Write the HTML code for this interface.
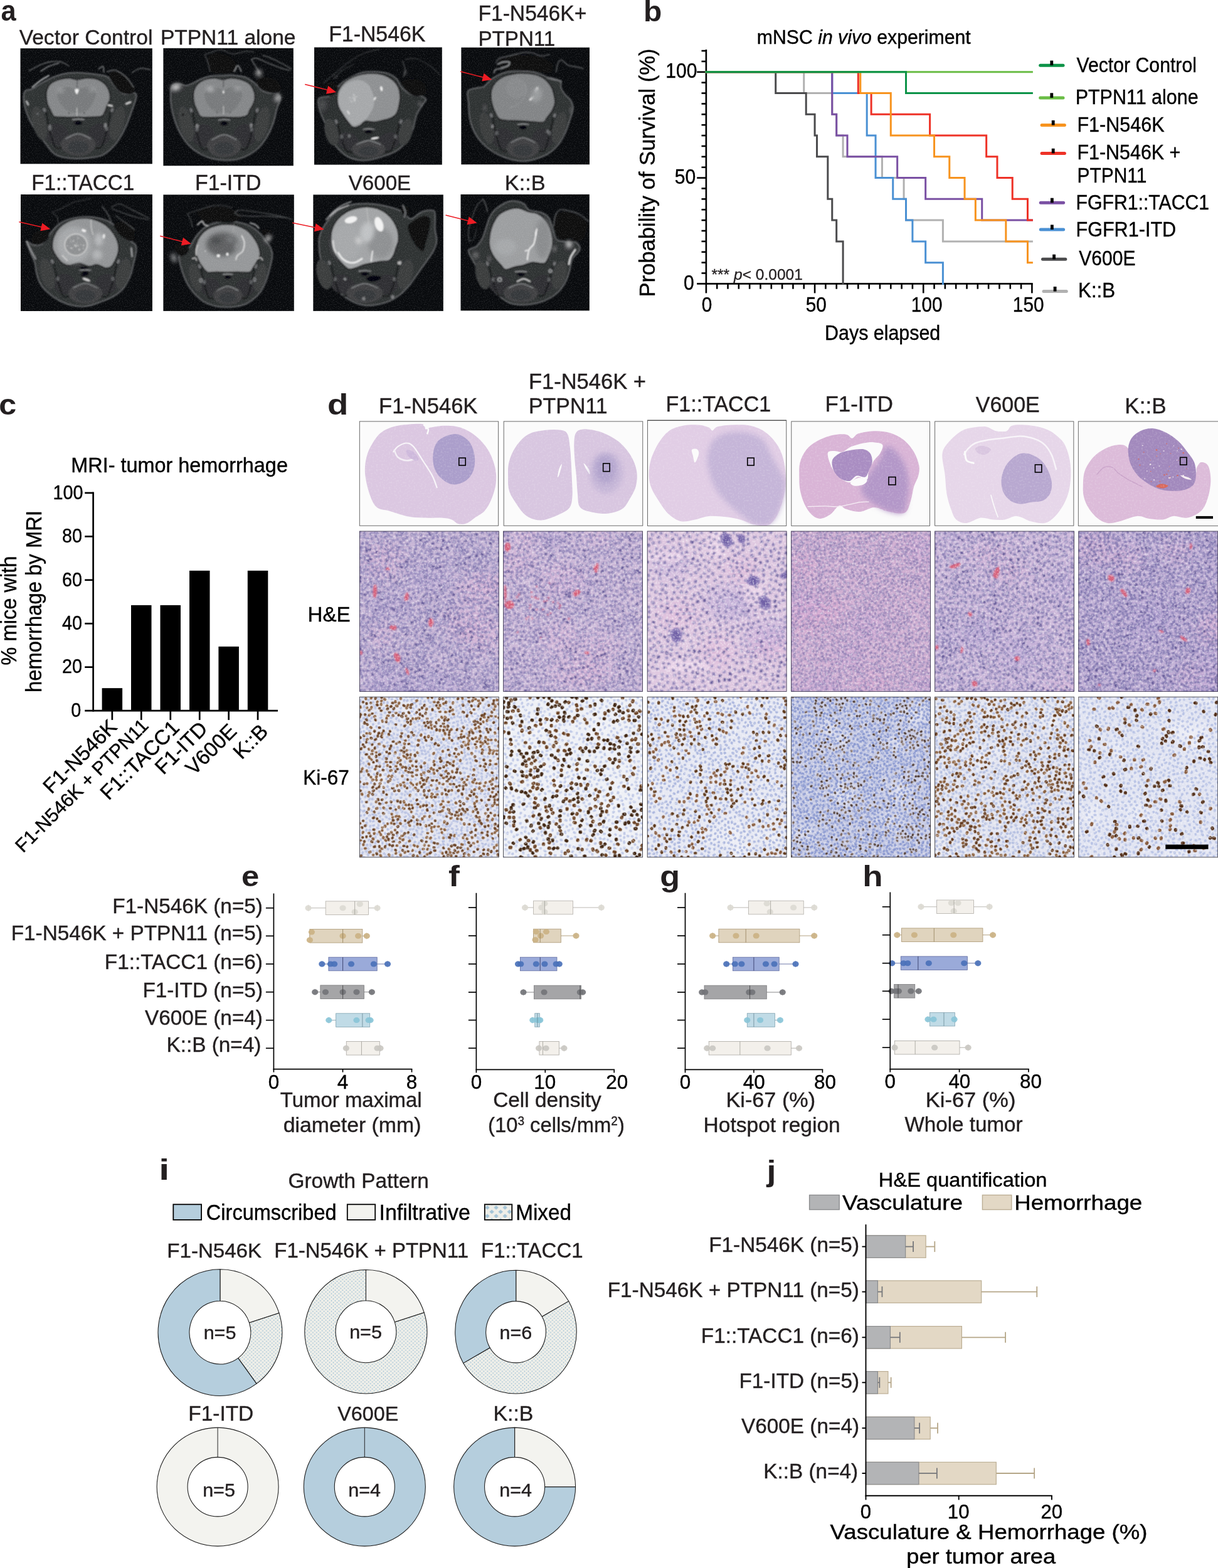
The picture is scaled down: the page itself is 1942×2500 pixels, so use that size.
<!DOCTYPE html>
<html lang="en"><head><meta charset="utf-8"><title>Figure</title>
<style>
html,body{margin:0;padding:0;background:#fff}
body{width:1942px;height:2500px;overflow:hidden}
svg{display:block;font-family:"Liberation Sans",Arial,Helvetica,sans-serif}
text{white-space:pre}
</style></head><body>
<svg xmlns="http://www.w3.org/2000/svg" width="1942" height="2500" viewBox="0 0 1942 2500">
<rect width="1942" height="2500" fill="#fff"/>
<defs>
<filter id="mb" x="-5%" y="-5%" width="110%" height="110%"><feGaussianBlur stdDeviation="0.9"/></filter>
<filter id="mb2" x="-50%" y="-50%" width="200%" height="200%"><feGaussianBlur stdDeviation="3"/></filter>
<filter id="mn" x="0" y="0" width="100%" height="100%" color-interpolation-filters="sRGB"><feTurbulence type="fractalNoise" baseFrequency="0.6" numOctaves="2" seed="3"/><feColorMatrix type="matrix" values="0 0 0 0 1  0 0 0 0 1  0 0 0 0 1  0 0 0 0.36 -0.172"/></filter>
<clipPath id="mc0"><rect x="32.3" y="77.1" width="210.6" height="184.5"/></clipPath>
<clipPath id="mc1"><rect x="260.2" y="76.6" width="207.7" height="188.0"/></clipPath>
<clipPath id="mc2"><rect x="501.0" y="75.3" width="203.9" height="187.5"/></clipPath>
<clipPath id="mc3"><rect x="735.2" y="75.4" width="204.9" height="187.1"/></clipPath>
<clipPath id="mc4"><rect x="33.0" y="309.9" width="209.9" height="186.1"/></clipPath>
<clipPath id="mc5"><rect x="260.2" y="310.2" width="208.7" height="185.7"/></clipPath>
<clipPath id="mc6"><rect x="499.2" y="310.2" width="207.7" height="185.7"/></clipPath>
<clipPath id="mc7"><rect x="734.3" y="309.8" width="205.6" height="185.8"/></clipPath>
</defs>
<g clip-path="url(#mc0)">
<rect x="32.30" y="77.10" width="210.60" height="184.50" fill="#080a0d"/>
<g filter="url(#mb)">
<path d="M37.6 154.9C37.4 159.3 38.1 165.0 39.6 170.8C41.0 176.5 43.3 183.1 46.2 189.3C49.1 195.5 53.1 202.1 56.8 207.9C60.6 213.6 64.6 218.3 68.8 223.8C73.0 229.3 77.8 236.8 82.0 241.0C86.2 245.2 88.0 247.0 93.9 249.0C99.9 251.0 109.4 252.5 117.8 253.0C126.2 253.4 136.8 252.5 144.3 251.6C151.8 250.8 157.1 250.3 162.9 247.7C168.6 245.0 173.9 240.6 178.8 235.7C183.7 230.9 188.1 224.9 192.1 218.5C196.0 212.1 199.6 204.4 202.7 197.3C205.8 190.2 208.2 182.9 210.6 176.1C213.1 169.2 216.6 160.8 217.3 156.2C217.9 151.5 217.9 149.3 214.6 148.2C211.3 147.1 202.5 151.1 197.4 149.6C192.3 148.0 188.3 143.4 184.1 138.9C179.9 134.5 176.6 126.4 172.2 123.0C167.8 119.7 165.3 120.3 157.6 119.1C149.9 117.8 134.6 116.1 125.8 115.7C116.9 115.4 111.4 115.9 104.6 117.1C97.7 118.3 90.6 120.7 84.7 123.0C78.7 125.4 74.3 127.9 68.8 131.0C63.2 134.1 56.2 139.4 51.5 141.6C46.9 143.8 43.2 142.0 40.9 144.3C38.6 146.5 37.8 150.4 37.6 154.9Z" fill="#2f3133" stroke="#5e6163" stroke-width="2.00" stroke-linecap="round" stroke-linejoin="round"/>
<ellipse cx="90.6" cy="214.5" rx="18.9" ry="17.2" fill="#2d2f31" transform="rotate(18 90.6 214.5)"/>
<ellipse cx="158.9" cy="214.5" rx="18.9" ry="17.2" fill="#2d2f31" transform="rotate(-18 158.9 214.5)"/>
<ellipse cx="62.8" cy="196.6" rx="10.8" ry="27.8" fill="#3a3c3e" transform="rotate(-14 62.8 196.6)"/>
<ellipse cx="186.8" cy="196.6" rx="10.8" ry="27.8" fill="#3a3c3e" transform="rotate(14 186.8 196.6)"/>
<path d="M72.7 174.7C73.5 179.0 76.9 198.6 79.0 206.6C81.0 214.5 85.4 230.5 87.9 234.4C90.5 238.3 96.5 235.6 97.8 235.7" fill="none" stroke="#08090a" stroke-width="1.70" stroke-linecap="round" stroke-linejoin="round"/>
<ellipse cx="70.9" cy="175.4" rx="2.2" ry="3.6" fill="#6e7072" transform="rotate(-20 70.9 175.4)"/>
<ellipse cx="79.9" cy="205.2" rx="2.4" ry="3.4" fill="#5a5c5e"/>
<path d="M176.9 174.7C176.0 179.0 172.6 198.6 170.6 206.6C168.6 214.5 164.1 230.5 161.6 234.4C159.1 238.3 153.0 235.6 151.7 235.7" fill="none" stroke="#08090a" stroke-width="1.70" stroke-linecap="round" stroke-linejoin="round"/>
<ellipse cx="178.7" cy="175.4" rx="2.2" ry="3.6" fill="#6e7072" transform="rotate(20 178.7 175.4)"/>
<ellipse cx="169.7" cy="205.2" rx="2.4" ry="3.4" fill="#5a5c5e"/>
<ellipse cx="124.8" cy="230.4" rx="27.8" ry="17.9" fill="#3f4143"/>
<path d="M105.0 221.2C108.3 219.8 118.2 213.2 124.8 213.2C131.4 213.2 141.2 219.8 144.5 221.2" fill="none" stroke="#8a8c8e" stroke-width="1.30" stroke-linecap="round" stroke-linejoin="round"/>
<ellipse cx="124.8" cy="234.4" rx="16.2" ry="9.9" fill="#35373a"/>
<ellipse cx="124.8" cy="196.0" rx="6.3" ry="3.3" fill="#050607"/>
<path d="M115.8 190.7C117.3 190.5 121.8 189.7 124.8 189.7C127.8 189.7 132.3 190.5 133.8 190.7" fill="none" stroke="#9a9c9e" stroke-width="1.40" stroke-linecap="round" stroke-linejoin="round"/>
<path d="M74.1 156.2C73.8 152.4 73.6 148.0 74.7 144.3C75.8 140.5 77.5 136.5 80.7 133.6C83.9 130.8 89.1 128.6 93.9 127.0C98.8 125.5 105.0 124.4 109.9 124.4C114.7 124.4 118.3 127.0 123.1 127.0C128.0 127.0 133.7 124.5 139.0 124.4C144.3 124.3 150.3 124.8 154.9 126.4C159.6 127.9 163.8 130.7 166.9 133.6C170.0 136.6 172.1 140.3 173.5 144.3C174.9 148.2 175.9 153.5 175.5 157.5C175.0 161.5 172.3 164.6 170.8 168.1C169.4 171.7 168.4 175.9 166.9 178.7C165.3 181.6 165.3 184.0 161.6 185.4C157.8 186.7 150.7 186.5 144.3 186.7C137.9 186.9 130.6 186.7 123.1 186.7C115.6 186.7 105.4 186.9 99.3 186.7C93.1 186.5 89.1 187.1 86.0 185.4C82.9 183.6 82.3 179.2 80.7 176.1C79.0 173.0 77.2 170.1 76.0 166.8C74.9 163.5 74.3 159.9 74.1 156.2Z" fill="#858789" stroke="#0e0f11" stroke-width="1.70" stroke-linecap="round" stroke-linejoin="round"/>
<path d="M91.3 152.2C90.9 148.7 91.7 146.5 93.9 144.3C96.2 142.0 100.6 139.4 104.6 138.9C108.5 138.5 114.7 140.1 117.8 141.6C120.9 143.1 121.3 148.2 123.1 148.2C124.9 148.2 125.3 143.1 128.4 141.6C131.5 140.1 137.9 138.5 141.7 138.9C145.4 139.4 149.2 141.8 151.0 144.3C152.7 146.7 153.0 150.0 152.3 153.5C151.6 157.1 149.2 161.7 147.0 165.5C144.8 169.2 143.0 173.6 139.0 176.1C135.1 178.5 128.4 180.1 123.1 180.1C117.8 180.1 111.6 178.5 107.2 176.1C102.8 173.6 99.3 169.4 96.6 165.5C93.9 161.5 91.7 155.7 91.3 152.2Z" fill="#787a7c"/>
<ellipse cx="96.6" cy="144.3" rx="5.0" ry="3.2" fill="#a2a4a6" filter="url(#mb2)"/>
<ellipse cx="147.0" cy="142.7" rx="4.5" ry="2.9" fill="#a2a4a6" filter="url(#mb2)"/>
<path d="M119.4 142.9C119.9 141.7 125.0 141.7 125.5 142.9C126.0 144.1 123.5 150.2 122.5 150.2C121.4 150.2 118.9 144.1 119.4 142.9Z" fill="#f2f2f2"/>
<path d="M122.7 172.1C122.7 174.2 122.7 182.6 122.7 184.7" fill="none" stroke="#d8d8d8" stroke-width="1.00" stroke-linecap="round" stroke-linejoin="round"/>
<path d="M123.1 127.0C123.1 129.0 122.9 137.0 122.9 138.9" fill="none" stroke="#3a3c3e" stroke-width="1.00" stroke-linecap="round" stroke-linejoin="round"/>
<ellipse cx="109.9" cy="180.1" rx="1.1" ry="1.1" fill="#1a1a1a"/>
<ellipse cx="134.4" cy="180.1" rx="1.1" ry="1.1" fill="#1a1a1a"/>
<path d="M46.2 113.1C49.3 111.4 59.0 105.6 64.8 103.1C70.5 100.7 75.4 99.3 80.7 98.5C86.0 97.7 91.7 97.4 96.6 98.5C101.5 99.6 107.6 104.0 109.9 105.1" fill="none" stroke="#6c6e70" stroke-width="1.30" stroke-linecap="round" stroke-linejoin="round"/>
<path d="M64.8 113.8C67.0 112.4 73.2 108.0 78.0 105.8C82.9 103.6 91.3 101.4 93.9 100.5" fill="none" stroke="#8a8c8e" stroke-width="1.50" stroke-linecap="round" stroke-linejoin="round"/>
<path d="M51.5 138.9C53.7 137.2 60.4 131.4 64.8 128.3C69.2 125.2 75.8 121.7 78.0 120.4" fill="none" stroke="#b0b2b4" stroke-width="2.20" stroke-linecap="round" stroke-linejoin="round"/>
<path d="M157.6 109.8C158.7 109.1 162.9 104.9 164.2 105.8C165.5 106.7 165.3 113.5 165.5 115.1" fill="none" stroke="#6c6e70" stroke-width="2.00" stroke-linecap="round" stroke-linejoin="round"/>
<path d="M173.5 120.4C173.1 116.2 177.5 114.2 181.5 113.8C185.4 113.3 192.9 115.1 197.4 117.7C201.8 120.4 204.9 125.2 208.0 129.7C211.1 134.1 215.9 140.9 215.9 144.3C215.9 147.6 211.5 148.9 208.0 149.6C204.4 150.2 198.7 150.0 194.7 148.2C190.7 146.5 187.6 143.6 184.1 138.9C180.6 134.3 173.9 124.6 173.5 120.4Z" fill="#08090b"/>
<path d="M170.8 114.4C173.1 114.0 179.0 110.3 184.1 111.8C189.2 113.2 196.5 118.5 201.3 123.0C206.2 127.6 211.3 136.3 213.3 138.9" fill="none" stroke="#6c6e70" stroke-width="1.40" stroke-linecap="round" stroke-linejoin="round"/>
<path d="M210.6 115.7C212.8 114.6 219.0 109.9 223.9 109.1C228.7 108.3 237.1 110.8 239.8 111.1" fill="none" stroke="#6c6e70" stroke-width="1.40" stroke-linecap="round" stroke-linejoin="round"/>
<path d="M201.3 165.5C202.5 165.0 206.9 163.3 208.0 162.8" fill="none" stroke="#d0d0d0" stroke-width="2.50" stroke-linecap="round" stroke-linejoin="round"/>
<path d="M172.2 167.5C173.3 167.7 177.7 168.6 178.8 168.8" fill="none" stroke="#d8d8d8" stroke-width="2.20" stroke-linecap="round" stroke-linejoin="round"/>
<path d="M42.2 161.5C42.7 162.4 44.4 165.9 44.9 166.8" fill="none" stroke="#b0b2b4" stroke-width="2.50" stroke-linecap="round" stroke-linejoin="round"/>
<ellipse cx="79.4" cy="202.6" rx="2.4" ry="4.0" fill="#6a6c6e"/>
<ellipse cx="168.2" cy="199.9" rx="2.4" ry="4.0" fill="#7a7c7e"/>
<ellipse cx="60.1" cy="181.4" rx="1.6" ry="1.6" fill="#6a6c6e"/>
</g>
<rect x="32.30" y="77.10" width="210.60" height="184.50" fill="#fff" filter="url(#mn)"/>
</g>
<g clip-path="url(#mc1)">
<rect x="260.20" y="76.60" width="207.70" height="188.00" fill="#080a0d"/>
<g filter="url(#mb)">
<path d="M271.9 152.2C271.7 158.0 272.1 164.1 273.2 170.8C274.3 177.4 276.1 184.9 278.5 192.0C280.9 199.1 284.0 206.6 287.8 213.2C291.6 219.8 296.0 226.5 301.1 231.8C306.1 237.1 312.1 241.5 318.3 245.0C324.5 248.6 331.6 251.2 338.2 253.0C344.8 254.7 351.4 255.4 358.1 255.6C364.7 255.8 371.3 255.8 378.0 254.3C384.6 252.8 391.9 249.7 397.8 246.3C403.8 243.0 408.9 239.5 413.8 234.4C418.6 229.3 423.3 222.5 427.0 215.8C430.8 209.2 433.9 201.7 436.3 194.6C438.7 187.6 439.8 179.6 441.6 173.4C443.4 167.2 446.7 161.5 446.9 157.5C447.1 153.5 446.0 151.1 442.9 149.6C439.8 148.0 432.5 149.1 428.3 148.2C424.1 147.3 421.5 146.9 417.7 144.3C414.0 141.6 410.2 135.9 405.8 132.3C401.4 128.8 397.0 125.1 391.2 123.0C385.5 120.9 377.3 120.2 371.3 119.7C365.4 119.3 361.2 120.2 355.4 120.4C349.7 120.6 342.6 120.2 336.9 121.0C331.1 121.9 325.8 123.8 320.9 125.7C316.1 127.6 311.7 130.5 307.7 132.3C303.7 134.1 300.8 136.1 297.1 136.3C293.3 136.5 288.9 133.6 285.1 133.6C281.4 133.6 276.8 133.2 274.5 136.3C272.3 139.4 272.1 146.5 271.9 152.2Z" fill="#2f3133" stroke="#5e6163" stroke-width="2.00" stroke-linecap="round" stroke-linejoin="round"/>
<ellipse cx="324.2" cy="216.0" rx="18.4" ry="17.8" fill="#2d2f31" transform="rotate(18 324.2 216.0)"/>
<ellipse cx="390.7" cy="216.0" rx="18.4" ry="17.8" fill="#2d2f31" transform="rotate(-18 390.7 216.0)"/>
<ellipse cx="297.0" cy="197.6" rx="10.5" ry="28.7" fill="#3a3c3e" transform="rotate(-14 297.0 197.6)"/>
<ellipse cx="417.8" cy="197.6" rx="10.5" ry="28.7" fill="#3a3c3e" transform="rotate(14 417.8 197.6)"/>
<path d="M306.7 175.1C307.5 179.4 310.8 199.6 312.8 207.8C314.8 216.0 319.1 232.5 321.5 236.5C324.0 240.5 329.9 237.7 331.2 237.9" fill="none" stroke="#08090a" stroke-width="1.70" stroke-linecap="round" stroke-linejoin="round"/>
<ellipse cx="304.9" cy="175.7" rx="2.2" ry="3.6" fill="#6e7072" transform="rotate(-20 304.9 175.7)"/>
<ellipse cx="313.7" cy="206.5" rx="2.4" ry="3.4" fill="#5a5c5e"/>
<path d="M408.2 175.1C407.3 179.4 404.0 199.6 402.0 207.8C400.1 216.0 395.7 232.5 393.3 236.5C390.8 240.5 384.9 237.7 383.7 237.9" fill="none" stroke="#08090a" stroke-width="1.70" stroke-linecap="round" stroke-linejoin="round"/>
<ellipse cx="409.9" cy="175.7" rx="2.2" ry="3.6" fill="#6e7072" transform="rotate(20 409.9 175.7)"/>
<ellipse cx="401.2" cy="206.5" rx="2.4" ry="3.4" fill="#5a5c5e"/>
<ellipse cx="357.4" cy="232.4" rx="27.1" ry="18.4" fill="#3f4143"/>
<path d="M338.2 222.9C341.4 221.5 351.0 214.7 357.4 214.7C363.8 214.7 373.5 221.5 376.7 222.9" fill="none" stroke="#8a8c8e" stroke-width="1.30" stroke-linecap="round" stroke-linejoin="round"/>
<ellipse cx="357.4" cy="236.5" rx="15.8" ry="10.2" fill="#35373a"/>
<ellipse cx="357.4" cy="196.9" rx="6.1" ry="3.4" fill="#050607"/>
<path d="M348.7 191.4C350.1 191.3 354.5 190.4 357.4 190.4C360.3 190.4 364.7 191.3 366.2 191.4" fill="none" stroke="#9a9c9e" stroke-width="1.40" stroke-linecap="round" stroke-linejoin="round"/>
<path d="M308.4 156.2C308.1 152.6 308.0 149.1 309.0 145.6C310.0 142.0 311.4 138.1 314.3 135.0C317.2 131.9 321.6 128.8 326.3 127.0C330.9 125.2 337.3 124.4 342.2 124.4C347.0 124.4 351.0 127.0 355.4 127.0C359.8 127.0 363.8 124.4 368.7 124.4C373.5 124.4 379.7 125.5 384.6 127.0C389.5 128.6 394.5 130.8 397.8 133.6C401.2 136.5 403.0 140.5 404.5 144.3C405.9 148.0 406.7 152.4 406.5 156.2C406.2 159.9 404.6 163.5 403.2 166.8C401.7 170.1 399.4 173.2 397.8 176.1C396.3 178.9 397.0 182.1 393.9 184.0C390.8 185.9 385.7 186.9 379.3 187.3C372.9 187.8 363.4 186.7 355.4 186.7C347.5 186.7 337.5 187.6 331.6 187.3C325.6 187.1 322.5 187.2 319.6 185.4C316.7 183.5 315.9 179.2 314.3 176.1C312.8 173.0 311.3 170.1 310.3 166.8C309.3 163.5 308.6 159.7 308.4 156.2Z" fill="#858789" stroke="#0e0f11" stroke-width="1.70" stroke-linecap="round" stroke-linejoin="round"/>
<path d="M326.3 152.2C326.0 148.7 326.7 146.5 328.9 144.3C331.1 142.0 335.8 139.4 339.5 138.9C343.3 138.5 348.6 140.1 351.4 141.6C354.2 143.1 354.8 148.2 356.3 148.2C357.9 148.2 358.2 143.1 360.7 141.6C363.2 140.1 367.6 138.7 371.3 138.9C375.1 139.2 380.8 140.5 383.3 142.9C385.7 145.4 386.4 149.8 385.9 153.5C385.5 157.3 383.0 161.7 380.6 165.5C378.2 169.2 375.4 173.6 371.3 176.1C367.3 178.5 361.4 180.1 356.3 180.1C351.3 180.1 345.2 178.5 340.8 176.1C336.5 173.6 332.7 169.4 330.2 165.5C327.8 161.5 326.5 155.7 326.3 152.2Z" fill="#787a7c"/>
<ellipse cx="335.5" cy="142.3" rx="6.0" ry="3.2" fill="#c4c6c8" filter="url(#mb2)"/>
<ellipse cx="378.6" cy="141.6" rx="5.0" ry="2.7" fill="#b0b2b4" filter="url(#mb2)"/>
<ellipse cx="356.3" cy="146.9" rx="1.2" ry="2.1" fill="#f2f2f2"/>
<path d="M356.3 169.4C356.3 171.5 356.3 179.9 356.3 182.0" fill="none" stroke="#d8d8d8" stroke-width="1.00" stroke-linecap="round" stroke-linejoin="round"/>
<path d="M356.1 127.0C356.1 129.0 356.1 137.0 356.1 138.9" fill="none" stroke="#3a3c3e" stroke-width="1.00" stroke-linecap="round" stroke-linejoin="round"/>
<ellipse cx="346.1" cy="179.4" rx="0.9" ry="0.9" fill="#1a1a1a"/>
<ellipse cx="366.7" cy="179.4" rx="0.9" ry="0.9" fill="#1a1a1a"/>
<path d="M331.6 89.9C333.8 86.8 340.0 85.0 344.8 84.6C349.7 84.1 356.3 85.7 360.7 87.2C365.1 88.8 368.7 91.0 371.3 93.9C374.0 96.7 376.6 100.9 376.6 104.5C376.6 108.0 375.3 112.9 371.3 115.1C367.4 117.3 358.5 117.7 352.8 117.7C347.0 117.7 340.4 117.5 336.9 115.1C333.3 112.7 332.4 107.3 331.6 103.1C330.7 98.9 329.3 93.0 331.6 89.9Z" fill="#08090b"/>
<path d="M326.3 87.2C328.0 86.6 332.4 84.5 336.9 83.3C341.3 82.0 347.0 79.1 352.8 79.5C358.5 80.0 364.7 85.5 371.3 85.9C378.0 86.3 387.0 82.4 392.5 81.9C398.1 81.5 402.5 83.0 404.5 83.3" fill="none" stroke="#4a4c4e" stroke-width="1.30" stroke-linecap="round" stroke-linejoin="round"/>
<path d="M326.3 87.2C327.1 89.4 330.2 96.1 331.6 100.5C332.9 104.9 333.8 111.5 334.2 113.8" fill="none" stroke="#4a4c4e" stroke-width="1.20" stroke-linecap="round" stroke-linejoin="round"/>
<path d="M400.5 95.2C401.8 94.8 404.5 91.9 408.5 92.5C412.4 93.2 418.4 96.7 424.4 99.2C430.3 101.6 438.1 104.9 444.3 107.1C450.4 109.3 458.6 111.5 461.5 112.4" fill="none" stroke="#6c6e70" stroke-width="1.40" stroke-linecap="round" stroke-linejoin="round"/>
<path d="M419.1 88.6C420.6 89.0 423.5 89.2 428.3 91.2C433.2 93.2 442.3 97.4 448.2 100.5C454.2 103.6 461.5 108.2 464.1 109.8" fill="none" stroke="#6c6e70" stroke-width="1.40" stroke-linecap="round" stroke-linejoin="round"/>
<path d="M401.8 96.5C402.9 98.3 406.5 103.8 408.5 107.1C410.4 110.4 412.9 114.9 413.8 116.4" fill="none" stroke="#6c6e70" stroke-width="1.60" stroke-linecap="round" stroke-linejoin="round"/>
<ellipse cx="412.4" cy="116.4" rx="4.6" ry="5.3" fill="#b8b8b8" filter="url(#mb2)"/>
<path d="M374.0 113.8C374.9 112.2 377.5 104.5 379.3 104.5C381.1 104.5 383.7 112.2 384.6 113.8" fill="none" stroke="#8a8c8e" stroke-width="2.00" stroke-linecap="round" stroke-linejoin="round"/>
<path d="M408.5 129.7C409.1 126.6 414.2 123.7 419.1 123.0C423.9 122.4 432.8 123.0 437.6 125.7C442.5 128.3 447.4 135.2 448.2 138.9C449.1 142.7 446.5 146.9 442.9 148.2C439.4 149.6 431.7 148.0 427.0 146.9C422.4 145.8 418.2 144.5 415.1 141.6C412.0 138.7 407.8 132.8 408.5 129.7Z" fill="#08090b"/>
<ellipse cx="280.5" cy="138.9" rx="8.0" ry="4.6" fill="#d8d8d8" transform="rotate(-20 280.5 138.9)" filter="url(#mb2)"/>
<ellipse cx="442.9" cy="156.2" rx="3.7" ry="6.0" fill="#d0d0d0" transform="rotate(20 442.9 156.2)" filter="url(#mb2)"/>
<ellipse cx="291.8" cy="182.7" rx="1.9" ry="1.9" fill="#111"/>
<ellipse cx="314.3" cy="201.3" rx="2.7" ry="3.7" fill="#7a7c7e"/>
<ellipse cx="400.5" cy="199.9" rx="2.4" ry="3.4" fill="#7a7c7e"/>
</g>
<rect x="260.20" y="76.60" width="207.70" height="188.00" fill="#fff" filter="url(#mn)"/>
</g>
<g clip-path="url(#mc2)">
<rect x="501.00" y="75.30" width="203.90" height="187.50" fill="#080a0d"/>
<g filter="url(#mb)">
<path d="M507.7 158.6C506.8 162.6 508.6 171.6 510.5 178.0C512.3 184.5 516.0 190.5 518.8 197.4C521.5 204.3 523.9 213.1 527.1 219.6C530.3 226.0 533.5 231.1 538.2 236.2C542.8 241.3 548.8 246.8 554.8 250.0C560.8 253.3 567.7 254.9 574.2 255.6C580.6 256.3 587.1 255.3 593.6 254.2C600.0 253.0 606.5 251.0 612.9 248.6C619.4 246.3 626.3 244.3 632.3 240.3C638.3 236.4 644.6 230.9 649.0 225.1C653.3 219.3 656.1 212.6 658.6 205.7C661.2 198.8 661.6 190.0 664.2 183.6C666.7 177.1 671.3 171.1 673.9 166.9C676.4 162.8 679.9 160.9 679.4 158.6C679.0 156.3 675.3 154.5 671.1 153.1C667.0 151.7 659.6 152.6 654.5 150.3C649.4 148.0 644.3 143.4 640.6 139.2C636.9 135.1 636.0 129.1 632.3 125.4C628.6 121.7 624.3 118.9 618.5 117.1C612.7 115.2 604.6 114.5 597.7 114.3C590.8 114.1 583.2 114.3 576.9 115.7C570.7 117.1 565.4 120.1 560.3 122.6C555.2 125.2 550.6 127.7 546.5 130.9C542.3 134.2 538.9 138.3 535.4 142.0C531.9 145.7 528.9 151.0 525.7 153.1C522.5 155.2 519.0 153.6 516.0 154.5C513.0 155.4 508.6 154.7 507.7 158.6Z" fill="#2b2d2f" stroke="#5e6163" stroke-width="2.00" stroke-linecap="round" stroke-linejoin="round"/>
<ellipse cx="555.0" cy="225.0" rx="18.0" ry="13.7" fill="#2d2f31" transform="rotate(18 555.0 225.0)"/>
<ellipse cx="620.3" cy="225.0" rx="18.0" ry="13.7" fill="#2d2f31" transform="rotate(-18 620.3 225.0)"/>
<ellipse cx="528.4" cy="210.8" rx="10.3" ry="22.1" fill="#3a3c3e" transform="rotate(-14 528.4 210.8)"/>
<ellipse cx="646.9" cy="210.8" rx="10.3" ry="22.1" fill="#3a3c3e" transform="rotate(14 646.9 210.8)"/>
<path d="M537.9 193.5C538.7 196.8 541.9 212.4 543.9 218.7C545.8 225.0 550.1 237.7 552.5 240.8C554.9 243.9 560.7 241.7 561.9 241.9" fill="none" stroke="#08090a" stroke-width="1.70" stroke-linecap="round" stroke-linejoin="round"/>
<ellipse cx="536.2" cy="194.0" rx="2.2" ry="3.6" fill="#6e7072" transform="rotate(-20 536.2 194.0)"/>
<ellipse cx="544.7" cy="217.7" rx="2.4" ry="3.4" fill="#5a5c5e"/>
<path d="M637.5 193.5C636.7 196.8 633.4 212.4 631.5 218.7C629.5 225.0 625.3 237.7 622.9 240.8C620.5 243.9 614.7 241.7 613.4 241.9" fill="none" stroke="#08090a" stroke-width="1.70" stroke-linecap="round" stroke-linejoin="round"/>
<ellipse cx="639.2" cy="194.0" rx="2.2" ry="3.6" fill="#6e7072" transform="rotate(20 639.2 194.0)"/>
<ellipse cx="630.6" cy="217.7" rx="2.4" ry="3.4" fill="#5a5c5e"/>
<ellipse cx="587.7" cy="237.7" rx="26.6" ry="14.2" fill="#3f4143"/>
<path d="M568.8 230.3C571.9 229.3 581.4 224.0 587.7 224.0C594.0 224.0 603.4 229.3 606.6 230.3" fill="none" stroke="#8a8c8e" stroke-width="1.30" stroke-linecap="round" stroke-linejoin="round"/>
<ellipse cx="587.7" cy="240.8" rx="15.5" ry="7.9" fill="#35373a"/>
<ellipse cx="587.7" cy="210.3" rx="6.0" ry="2.6" fill="#050607"/>
<path d="M579.1 206.1C580.5 206.0 584.8 205.3 587.7 205.3C590.5 205.3 594.8 206.0 596.3 206.1" fill="none" stroke="#9a9c9e" stroke-width="1.40" stroke-linecap="round" stroke-linejoin="round"/>
<path d="M537.5 158.6C537.5 154.5 537.6 149.4 539.5 144.8C541.5 140.2 545.3 134.6 549.2 130.9C553.2 127.2 558.0 124.8 563.1 122.6C568.2 120.4 573.9 118.7 579.7 117.8C585.5 116.9 592.2 116.7 597.7 117.1C603.3 117.4 608.1 118.0 612.9 119.9C617.8 121.7 623.1 124.9 626.8 128.2C630.5 131.4 633.3 135.1 635.1 139.2C636.9 143.4 637.6 148.5 637.9 153.1C638.1 157.7 637.4 162.3 636.5 166.9C635.6 171.6 634.4 177.3 632.3 180.8C630.3 184.3 627.7 185.9 624.0 187.7C620.3 189.6 614.8 190.7 610.2 191.9C605.6 193.0 600.9 194.4 596.3 194.6C591.7 194.9 586.2 192.3 582.5 193.3C578.8 194.2 577.4 198.6 574.2 200.2C570.9 201.8 566.3 203.9 563.1 202.9C559.9 202.0 557.8 198.3 554.8 194.6C551.8 190.9 547.6 184.9 545.1 180.8C542.5 176.6 540.8 173.4 539.5 169.7C538.3 166.0 537.5 162.8 537.5 158.6Z" fill="#8e9092" stroke="#0e0f11" stroke-width="1.70" stroke-linecap="round" stroke-linejoin="round"/>
<path d="M539.5 158.6C539.8 154.5 540.2 148.9 542.3 144.8C544.4 140.6 548.1 136.5 552.0 133.7C555.9 130.9 561.2 128.9 565.9 128.2C570.5 127.5 575.6 127.7 579.7 129.5C583.9 131.4 588.0 135.3 590.8 139.2C593.6 143.2 595.4 148.0 596.3 153.1C597.3 158.2 597.7 164.4 596.3 169.7C594.9 175.0 591.2 180.8 588.0 184.9C584.8 189.1 580.9 192.1 576.9 194.6C573.0 197.2 567.9 200.4 564.5 200.2C561.0 199.9 559.2 196.7 556.2 193.3C553.2 189.8 549.0 183.3 546.5 179.4C543.9 175.5 542.1 173.2 540.9 169.7C539.8 166.2 539.3 162.8 539.5 158.6Z" fill="#a6a8aa"/>
<path d="M590.8 139.2C591.7 141.6 595.4 148.0 596.3 153.1C597.3 158.2 597.7 164.4 596.3 169.7C594.9 175.0 589.4 182.4 588.0 184.9" fill="none" stroke="#8a8c8e" stroke-width="1.00" stroke-linecap="round" stroke-linejoin="round"/>
<ellipse cx="608.1" cy="141.3" rx="1.8" ry="3.9" fill="#f2f2f2" transform="rotate(-10 608.1 141.3)"/>
<ellipse cx="597.7" cy="157.2" rx="1.4" ry="3.0" fill="#e8e8e8" transform="rotate(35 597.7 157.2)"/>
<ellipse cx="564.6" cy="157.2" rx="0.9" ry="0.6" fill="#e6e6e6"/>
<ellipse cx="566.0" cy="159.1" rx="0.8" ry="0.6" fill="#e6e6e6"/>
<ellipse cx="558.2" cy="159.8" rx="0.6" ry="0.6" fill="#e6e6e6"/>
<ellipse cx="566.0" cy="156.4" rx="0.6" ry="1.2" fill="#e6e6e6"/>
<ellipse cx="560.4" cy="162.2" rx="0.6" ry="1.1" fill="#e6e6e6"/>
<ellipse cx="557.6" cy="155.6" rx="1.0" ry="0.7" fill="#e6e6e6"/>
<ellipse cx="563.7" cy="161.3" rx="0.6" ry="0.5" fill="#e6e6e6"/>
<ellipse cx="563.8" cy="150.6" rx="0.7" ry="0.9" fill="#e6e6e6"/>
<ellipse cx="565.8" cy="154.1" rx="0.6" ry="0.8" fill="#e6e6e6"/>
<ellipse cx="565.0" cy="159.2" rx="0.5" ry="1.0" fill="#e6e6e6"/>
<ellipse cx="564.4" cy="152.3" rx="0.8" ry="0.7" fill="#e6e6e6"/>
<ellipse cx="569.2" cy="154.0" rx="1.0" ry="0.6" fill="#e6e6e6"/>
<ellipse cx="565.9" cy="161.1" rx="0.6" ry="1.0" fill="#e6e6e6"/>
<ellipse cx="562.3" cy="156.3" rx="0.6" ry="1.1" fill="#e6e6e6"/>
<ellipse cx="555.5" cy="179.4" rx="1.2" ry="3.9" fill="#e0e0e0" transform="rotate(-30 555.5 179.4)"/>
<ellipse cx="597.7" cy="220.3" rx="6.6" ry="1.4" fill="#f2f2f2" transform="rotate(-10 597.7 220.3)"/>
<path d="M516.0 132.3C519.2 129.5 528.5 121.5 535.4 115.7C542.3 109.9 550.2 102.8 557.6 97.7C564.9 92.6 571.9 88.5 579.7 85.2C587.6 82.0 600.5 79.5 604.6 78.3" fill="none" stroke="#3c3e40" stroke-width="1.20" stroke-linecap="round" stroke-linejoin="round"/>
<path d="M532.6 125.4C534.9 123.1 541.4 115.2 546.5 111.5C551.6 107.9 560.3 104.6 563.1 103.2" fill="none" stroke="#3c3e40" stroke-width="1.20" stroke-linecap="round" stroke-linejoin="round"/>
<path d="M642.0 97.7C642.7 100.0 646.0 107.4 646.2 111.5C646.4 115.7 643.9 120.8 643.4 122.6" fill="none" stroke="#4a4c4e" stroke-width="1.40" stroke-linecap="round" stroke-linejoin="round"/>
<path d="M646.2 94.9C649.0 94.7 656.3 91.9 662.8 93.5C669.3 95.2 678.5 100.2 685.0 104.6C691.4 109.0 698.8 117.3 701.6 119.9" fill="none" stroke="#3c3e40" stroke-width="1.20" stroke-linecap="round" stroke-linejoin="round"/>
<path d="M639.3 132.3C639.0 128.2 647.3 125.9 653.1 125.4C658.9 124.9 669.3 125.9 673.9 129.5C678.5 133.2 681.3 143.6 680.8 147.6C680.3 151.5 675.5 152.6 671.1 153.1C666.7 153.6 659.8 153.8 654.5 150.3C649.2 146.9 639.5 136.5 639.3 132.3Z" fill="#08090b"/>
<path d="M518.8 136.5C519.7 132.5 526.6 129.5 529.9 129.5C533.1 129.5 537.2 133.5 538.2 136.5C539.1 139.5 537.7 144.8 535.4 147.6C533.1 150.3 527.1 154.9 524.3 153.1C521.5 151.2 517.9 140.4 518.8 136.5Z" fill="#08090b"/>
<ellipse cx="646.2" cy="115.7" rx="1.9" ry="2.2" fill="#a8a8a8" filter="url(#mb2)"/>
<ellipse cx="669.7" cy="165.6" rx="2.2" ry="2.2" fill="#c8c8c8" filter="url(#mb2)"/>
<ellipse cx="535.4" cy="122.6" rx="2.2" ry="1.7" fill="#777" filter="url(#mb2)"/>
<ellipse cx="514.6" cy="166.9" rx="5.5" ry="9.7" fill="#4a4c4e" filter="url(#mb2)"/>
<ellipse cx="556.9" cy="216.8" rx="2.2" ry="3.0" fill="#6a6c6e"/>
</g>
<rect x="501.00" y="75.30" width="203.90" height="187.50" fill="#fff" filter="url(#mn)"/>
</g>
<g clip-path="url(#mc3)">
<rect x="735.20" y="75.40" width="204.90" height="187.10" fill="#080a0d"/>
<g filter="url(#mb)">
<path d="M745.8 145.9C743.9 150.0 746.7 158.1 747.1 164.9C747.6 171.7 747.3 179.8 748.5 186.6C749.6 193.3 751.4 199.7 753.9 205.5C756.4 211.4 759.5 216.8 763.4 221.8C767.2 226.8 772.0 231.3 776.9 235.4C781.9 239.4 786.9 243.0 793.2 246.2C799.5 249.4 807.9 252.5 814.9 254.3C821.9 256.1 828.4 257.3 835.2 257.0C842.0 256.8 849.0 255.0 855.5 253.0C862.1 250.9 868.6 248.7 874.5 244.8C880.4 241.0 886.3 235.6 890.8 229.9C895.3 224.3 898.7 217.3 901.6 211.0C904.6 204.6 906.4 198.3 908.4 192.0C910.4 185.7 913.6 178.4 913.8 173.0C914.0 167.6 911.8 163.1 909.8 159.5C907.7 155.8 904.1 154.5 901.6 151.3C899.1 148.2 896.2 144.1 894.8 140.5C893.5 136.9 896.0 131.9 893.5 129.6C891.0 127.4 884.5 128.5 879.9 126.9C875.4 125.3 871.6 122.2 866.4 120.1C861.2 118.1 855.1 115.9 848.8 114.7C842.4 113.6 835.2 113.4 828.4 113.4C821.7 113.4 814.0 113.6 808.1 114.7C802.2 115.9 797.7 117.9 793.2 120.1C788.7 122.4 784.6 125.3 781.0 128.3C777.4 131.2 775.3 135.7 771.5 137.8C767.7 139.8 762.2 139.1 758.0 140.5C753.7 141.8 747.6 141.8 745.8 145.9Z" fill="#2f3133" stroke="#5e6163" stroke-width="2.00" stroke-linecap="round" stroke-linejoin="round"/>
<ellipse cx="801.9" cy="220.9" rx="17.6" ry="16.2" fill="#2d2f31" transform="rotate(18 801.9 220.9)"/>
<ellipse cx="865.8" cy="220.9" rx="17.6" ry="16.2" fill="#2d2f31" transform="rotate(-18 865.8 220.9)"/>
<ellipse cx="775.9" cy="204.0" rx="10.1" ry="26.2" fill="#3a3c3e" transform="rotate(-14 775.9 204.0)"/>
<ellipse cx="891.8" cy="204.0" rx="10.1" ry="26.2" fill="#3a3c3e" transform="rotate(14 891.8 204.0)"/>
<path d="M785.1 183.5C785.9 187.5 789.1 205.9 791.0 213.4C792.9 220.9 797.0 235.9 799.4 239.6C801.8 243.2 807.4 240.7 808.6 240.8" fill="none" stroke="#08090a" stroke-width="1.70" stroke-linecap="round" stroke-linejoin="round"/>
<ellipse cx="783.4" cy="184.1" rx="2.2" ry="3.6" fill="#6e7072" transform="rotate(-20 783.4 184.1)"/>
<ellipse cx="791.8" cy="212.2" rx="2.4" ry="3.4" fill="#5a5c5e"/>
<path d="M882.6 183.5C881.8 187.5 878.6 205.9 876.7 213.4C874.8 220.9 870.7 235.9 868.3 239.6C866.0 243.2 860.3 240.7 859.1 240.8" fill="none" stroke="#08090a" stroke-width="1.70" stroke-linecap="round" stroke-linejoin="round"/>
<ellipse cx="884.3" cy="184.1" rx="2.2" ry="3.6" fill="#6e7072" transform="rotate(20 884.3 184.1)"/>
<ellipse cx="875.9" cy="212.2" rx="2.4" ry="3.4" fill="#5a5c5e"/>
<ellipse cx="833.9" cy="235.8" rx="26.1" ry="16.8" fill="#3f4143"/>
<path d="M815.4 227.1C818.4 225.9 827.7 219.6 833.9 219.6C840.0 219.6 849.3 225.9 852.3 227.1" fill="none" stroke="#8a8c8e" stroke-width="1.30" stroke-linecap="round" stroke-linejoin="round"/>
<ellipse cx="833.9" cy="239.6" rx="15.1" ry="9.4" fill="#35373a"/>
<ellipse cx="833.9" cy="203.4" rx="5.9" ry="3.1" fill="#050607"/>
<path d="M825.4 198.4C826.8 198.3 831.1 197.5 833.9 197.5C836.7 197.5 840.9 198.3 842.3 198.4" fill="none" stroke="#9a9c9e" stroke-width="1.40" stroke-linecap="round" stroke-linejoin="round"/>
<path d="M783.0 156.7C782.8 152.7 782.5 147.5 783.7 143.2C784.9 138.9 787.5 134.4 790.5 131.0C793.4 127.6 796.8 125.0 801.3 122.9C805.8 120.7 811.9 119.1 817.6 118.1C823.2 117.1 829.3 116.6 835.2 116.8C841.1 116.9 847.4 117.3 852.8 118.8C858.2 120.3 863.4 122.4 867.7 125.6C872.0 128.7 876.0 133.5 878.6 137.8C881.2 142.1 882.3 146.8 883.3 151.3C884.3 155.8 885.2 160.6 884.7 164.9C884.1 169.2 882.1 173.2 879.9 177.1C877.8 180.9 874.1 185.0 871.8 187.9C869.5 190.9 870.2 193.7 866.4 194.7C862.5 195.7 855.1 194.4 848.8 194.0C842.4 193.7 835.2 193.0 828.4 192.7C821.7 192.3 813.5 192.5 808.1 192.0C802.7 191.4 799.1 191.5 795.9 189.3C792.7 187.0 790.9 182.0 789.1 178.4C787.3 174.8 786.1 171.2 785.1 167.6C784.0 164.0 783.3 160.8 783.0 156.7Z" fill="#828486" stroke="#0e0f11" stroke-width="1.70" stroke-linecap="round" stroke-linejoin="round"/>
<ellipse cx="823.0" cy="140.5" rx="16.3" ry="16.9" fill="#888a8c"/>
<path d="M837.9 135.1C838.1 136.9 840.0 142.1 839.3 145.9C838.6 149.7 836.6 154.5 833.9 158.1C831.1 161.7 826.6 165.3 823.0 167.6C819.4 169.8 814.0 171.0 812.2 171.7" fill="none" stroke="#9a9c9e" stroke-width="1.00" stroke-linecap="round" stroke-linejoin="round"/>
<ellipse cx="855.5" cy="143.9" rx="2.7" ry="5.4" fill="#f2f2f2" transform="rotate(20 855.5 143.9)"/>
<ellipse cx="848.1" cy="156.7" rx="5.2" ry="1.8" fill="#f0f0f0" transform="rotate(-40 848.1 156.7)"/>
<ellipse cx="855.5" cy="151.3" rx="8.1" ry="12.2" fill="#9a9c9e" transform="rotate(20 855.5 151.3)" filter="url(#mb2)"/>
<path d="M795.9 94.4C798.2 90.8 807.2 90.1 814.9 89.0C822.6 87.8 832.9 86.9 842.0 87.6C851.0 88.3 862.3 90.1 869.1 93.0C875.9 96.0 881.5 101.4 882.6 105.2C883.8 109.1 881.5 114.7 875.9 116.1C870.2 117.4 857.8 114.0 848.8 113.4C839.7 112.7 829.6 112.5 821.7 112.0C813.7 111.6 805.6 113.6 801.3 110.7C797.0 107.7 793.6 98.0 795.9 94.4Z" fill="#08090b"/>
<path d="M790.5 99.8C791.4 98.7 793.2 94.6 795.9 93.0C798.6 91.5 803.1 91.2 806.7 90.3C810.4 89.4 812.8 88.7 817.6 87.6C822.3 86.5 830.0 84.1 835.2 83.6C840.4 83.0 844.2 83.3 848.8 84.2C853.3 85.1 857.8 88.5 862.3 89.0C866.8 89.4 873.6 87.3 875.9 86.9" fill="none" stroke="#55575a" stroke-width="1.60" stroke-linecap="round" stroke-linejoin="round"/>
<path d="M793.2 102.5C794.5 102.0 798.2 99.7 801.3 99.1C804.5 98.6 810.8 98.1 812.2 99.1C813.5 100.2 811.7 103.7 809.5 105.2C807.2 106.8 800.4 108.1 798.6 108.6" fill="none" stroke="#8a8c8e" stroke-width="2.20" stroke-linecap="round" stroke-linejoin="round"/>
<path d="M886.7 114.7C887.2 112.5 888.1 104.3 889.4 101.2C890.8 98.0 892.1 95.3 894.8 95.8C897.6 96.2 901.6 102.1 905.7 103.9C909.8 105.7 915.2 105.7 919.2 106.6C923.3 107.5 928.3 108.9 930.1 109.3" fill="none" stroke="#5a5c5e" stroke-width="1.60" stroke-linecap="round" stroke-linejoin="round"/>
<path d="M873.2 124.2C874.7 124.4 879.0 124.7 882.6 125.6C886.3 126.5 892.8 129.0 894.8 129.6" fill="none" stroke="#6a6c6e" stroke-width="3.00" stroke-linecap="round" stroke-linejoin="round"/>
<path d="M787.8 116.1C788.2 115.2 788.2 111.8 790.5 110.7C792.7 109.5 799.5 109.5 801.3 109.3" fill="none" stroke="#6a6c6e" stroke-width="2.50" stroke-linecap="round" stroke-linejoin="round"/>
<ellipse cx="772.9" cy="171.7" rx="1.6" ry="3.0" fill="#b0b0b0" filter="url(#mb2)"/>
<ellipse cx="909.8" cy="175.7" rx="1.4" ry="4.1" fill="#9a9a9a" filter="url(#mb2)"/>
<ellipse cx="785.1" cy="201.5" rx="2.2" ry="2.7" fill="#7a7c7e"/>
<ellipse cx="873.2" cy="209.6" rx="2.2" ry="3.0" fill="#6a6c6e"/>
</g>
<rect x="735.20" y="75.40" width="204.90" height="187.10" fill="#fff" filter="url(#mn)"/>
</g>
<g clip-path="url(#mc4)">
<rect x="33.00" y="309.90" width="209.90" height="186.10" fill="#080a0d"/>
<g filter="url(#mb)">
<path d="M42.2 384.9C41.8 387.1 46.7 397.7 48.9 403.4C51.1 409.2 53.9 414.0 55.5 419.3C57.0 424.6 56.8 429.9 58.1 435.2C59.5 440.5 60.6 446.1 63.5 451.2C66.3 456.2 70.3 461.1 75.4 465.7C80.5 470.4 87.3 475.5 93.9 479.0C100.6 482.5 107.9 485.4 115.2 487.0C122.5 488.5 130.2 489.2 137.7 488.3C145.2 487.4 153.0 484.3 160.2 481.6C167.5 479.0 175.3 476.1 181.5 472.4C187.6 468.6 192.9 464.6 197.4 459.1C201.8 453.6 205.3 445.8 208.0 439.2C210.6 432.6 211.7 425.7 213.3 419.3C214.8 412.9 216.8 405.6 217.3 400.8C217.7 395.9 218.1 393.3 215.9 390.2C213.7 387.1 207.8 384.9 204.0 382.2C200.2 379.6 196.7 377.8 193.4 374.3C190.1 370.7 187.9 364.7 184.1 361.0C180.4 357.2 176.4 354.1 170.8 351.7C165.3 349.3 157.6 347.4 151.0 346.4C144.3 345.4 137.7 345.3 131.1 345.7C124.4 346.2 116.9 347.4 111.2 349.1C105.4 350.7 101.0 352.8 96.6 355.7C92.2 358.6 88.2 362.3 84.7 366.3C81.1 370.3 78.7 375.6 75.4 379.6C72.1 383.5 68.8 388.4 64.8 390.2C60.8 391.9 55.3 391.0 51.5 390.2C47.8 389.3 42.7 382.6 42.2 384.9Z" fill="#2f3133" stroke="#5e6163" stroke-width="2.00" stroke-linecap="round" stroke-linejoin="round"/>
<ellipse cx="102.8" cy="452.9" rx="18.4" ry="15.9" fill="#2d2f31" transform="rotate(18 102.8 452.9)"/>
<ellipse cx="169.3" cy="452.9" rx="18.4" ry="15.9" fill="#2d2f31" transform="rotate(-18 169.3 452.9)"/>
<ellipse cx="75.7" cy="436.4" rx="10.5" ry="25.6" fill="#3a3c3e" transform="rotate(-14 75.7 436.4)"/>
<ellipse cx="196.4" cy="436.4" rx="10.5" ry="25.6" fill="#3a3c3e" transform="rotate(14 196.4 436.4)"/>
<path d="M85.3 416.3C86.1 420.2 89.4 438.3 91.4 445.6C93.4 452.9 97.7 467.6 100.2 471.2C102.6 474.8 108.5 472.3 109.8 472.4" fill="none" stroke="#08090a" stroke-width="1.70" stroke-linecap="round" stroke-linejoin="round"/>
<ellipse cx="83.5" cy="416.9" rx="2.2" ry="3.6" fill="#6e7072" transform="rotate(-20 83.5 416.9)"/>
<ellipse cx="92.3" cy="444.4" rx="2.4" ry="3.4" fill="#5a5c5e"/>
<path d="M186.8 416.3C186.0 420.2 182.7 438.3 180.7 445.6C178.7 452.9 174.4 467.6 171.9 471.2C169.5 474.8 163.6 472.3 162.3 472.4" fill="none" stroke="#08090a" stroke-width="1.70" stroke-linecap="round" stroke-linejoin="round"/>
<ellipse cx="188.6" cy="416.9" rx="2.2" ry="3.6" fill="#6e7072" transform="rotate(20 188.6 416.9)"/>
<ellipse cx="179.8" cy="444.4" rx="2.4" ry="3.4" fill="#5a5c5e"/>
<ellipse cx="136.0" cy="467.5" rx="27.1" ry="16.5" fill="#3f4143"/>
<path d="M116.8 459.0C120.0 457.8 129.6 451.7 136.0 451.7C142.5 451.7 152.1 457.8 155.3 459.0" fill="none" stroke="#8a8c8e" stroke-width="1.30" stroke-linecap="round" stroke-linejoin="round"/>
<ellipse cx="136.0" cy="471.2" rx="15.8" ry="9.1" fill="#35373a"/>
<ellipse cx="136.0" cy="435.8" rx="6.1" ry="3.0" fill="#050607"/>
<path d="M127.3 430.9C128.8 430.8 133.1 430.0 136.0 430.0C139.0 430.0 143.3 430.8 144.8 430.9" fill="none" stroke="#9a9c9e" stroke-width="1.40" stroke-linecap="round" stroke-linejoin="round"/>
<path d="M83.3 390.2C83.6 386.4 84.2 381.3 86.0 376.9C87.8 372.5 90.6 367.4 93.9 363.6C97.3 359.9 101.5 356.8 105.9 354.4C110.3 351.9 115.2 350.2 120.5 349.1C125.8 348.0 132.0 347.3 137.7 347.7C143.4 348.2 149.6 349.7 154.9 351.7C160.2 353.7 165.1 356.1 169.5 359.7C173.9 363.2 178.4 368.3 181.5 372.9C184.6 377.6 186.9 382.9 188.1 387.5C189.3 392.2 189.4 396.3 188.7 400.8C188.1 405.2 186.0 410.1 184.1 414.0C182.2 418.0 180.1 422.4 177.5 424.6C174.8 426.8 172.0 427.7 168.2 427.3C164.4 426.8 159.4 422.4 154.9 422.0C150.5 421.5 146.5 425.1 141.7 424.6C136.8 424.2 130.9 419.6 125.8 419.3C120.7 419.1 115.6 423.3 111.2 423.3C106.8 423.3 102.8 421.8 99.3 419.3C95.7 416.9 92.4 412.0 90.0 408.7C87.5 405.4 85.8 402.5 84.7 399.4C83.6 396.3 83.1 393.9 83.3 390.2Z" fill="#929496" stroke="#0e0f11" stroke-width="1.70" stroke-linecap="round" stroke-linejoin="round"/>
<ellipse cx="117.8" cy="390.2" rx="27.8" ry="29.2" fill="#a6a8aa" filter="url(#mb2)"/>
<ellipse cx="121.1" cy="390.2" rx="18.6" ry="17.9" fill="#d0d0d0"/>
<ellipse cx="121.1" cy="390.2" rx="17.0" ry="16.3" fill="#8e9092"/>
<ellipse cx="112.7" cy="395.4" rx="1.1" ry="0.6" fill="#e4e4e4"/>
<ellipse cx="121.4" cy="391.8" rx="0.6" ry="0.5" fill="#e4e4e4"/>
<ellipse cx="126.5" cy="397.9" rx="1.2" ry="1.0" fill="#e4e4e4"/>
<ellipse cx="115.0" cy="395.8" rx="1.0" ry="0.7" fill="#e4e4e4"/>
<ellipse cx="132.9" cy="395.8" rx="0.9" ry="0.6" fill="#e4e4e4"/>
<ellipse cx="124.3" cy="391.6" rx="1.2" ry="0.6" fill="#e4e4e4"/>
<ellipse cx="111.0" cy="380.5" rx="0.5" ry="0.8" fill="#e4e4e4"/>
<ellipse cx="107.4" cy="392.0" rx="0.6" ry="0.7" fill="#e4e4e4"/>
<ellipse cx="121.2" cy="392.4" rx="1.0" ry="1.1" fill="#e4e4e4"/>
<ellipse cx="119.2" cy="390.9" rx="1.0" ry="1.0" fill="#e4e4e4"/>
<ellipse cx="116.9" cy="384.3" rx="1.1" ry="0.9" fill="#e4e4e4"/>
<ellipse cx="112.6" cy="385.0" rx="0.7" ry="0.8" fill="#e4e4e4"/>
<ellipse cx="124.3" cy="379.5" rx="0.7" ry="1.1" fill="#e4e4e4"/>
<ellipse cx="122.3" cy="388.4" rx="0.6" ry="0.7" fill="#e4e4e4"/>
<ellipse cx="133.4" cy="391.2" rx="1.0" ry="0.9" fill="#e4e4e4"/>
<ellipse cx="129.0" cy="389.9" rx="0.6" ry="0.6" fill="#e4e4e4"/>
<ellipse cx="133.7" cy="367.6" rx="3.7" ry="2.1" fill="#f2f2f2" transform="rotate(20 133.7 367.6)"/>
<ellipse cx="165.5" cy="376.9" rx="1.9" ry="3.7" fill="#f2f2f2" transform="rotate(10 165.5 376.9)"/>
<ellipse cx="157.6" cy="382.2" rx="6.6" ry="10.6" fill="#b8babc" filter="url(#mb2)"/>
<ellipse cx="154.9" cy="406.1" rx="8.0" ry="8.0" fill="#b4b6b8" filter="url(#mb2)"/>
<path d="M145.0 350.4C145.1 352.6 145.1 359.7 145.7 363.6C146.2 367.6 147.9 372.5 148.3 374.3" fill="none" stroke="#d0d0d0" stroke-width="1.20" stroke-linecap="round" stroke-linejoin="round"/>
<path d="M99.3 407.4C100.6 408.7 105.9 414.0 107.2 415.4" fill="none" stroke="#d0d0d0" stroke-width="2.00" stroke-linecap="round" stroke-linejoin="round"/>
<path d="M181.5 357.0C182.8 354.4 189.9 352.8 194.7 353.0C199.6 353.3 207.1 354.8 210.6 358.3C214.2 361.9 215.9 369.8 215.9 374.3C215.9 378.7 213.7 384.0 210.6 384.9C207.5 385.7 201.3 382.2 197.4 379.6C193.4 376.9 189.4 372.7 186.8 368.9C184.1 365.2 180.1 359.7 181.5 357.0Z" fill="#08090b"/>
<path d="M51.5 374.3C53.7 370.7 60.4 367.2 64.8 366.3C69.2 365.4 76.3 366.3 78.0 368.9C79.8 371.6 78.0 378.7 75.4 382.2C72.7 385.7 66.1 389.3 62.1 390.2C58.1 391.0 53.3 390.2 51.5 387.5C49.8 384.9 49.3 377.8 51.5 374.3Z" fill="#08090b"/>
<path d="M82.0 338.5C84.9 337.3 93.3 334.5 99.3 331.8C105.2 329.2 110.3 325.1 117.8 322.5C125.3 320.0 139.9 317.6 144.3 316.6" fill="none" stroke="#3c3e40" stroke-width="1.20" stroke-linecap="round" stroke-linejoin="round"/>
<path d="M84.7 339.8C85.8 340.9 90.0 343.8 91.3 346.4C92.6 349.1 92.4 354.1 92.6 355.7" fill="none" stroke="#3c3e40" stroke-width="1.40" stroke-linecap="round" stroke-linejoin="round"/>
<path d="M162.9 329.2C164.2 330.9 168.4 335.8 170.8 339.8C173.3 343.8 176.4 350.8 177.5 353.0" fill="none" stroke="#4a4c4e" stroke-width="2.00" stroke-linecap="round" stroke-linejoin="round"/>
<path d="M177.5 330.5C179.7 329.6 185.2 324.5 190.7 325.2C196.3 325.9 202.9 330.7 210.6 334.5C218.4 338.2 232.7 345.5 237.1 347.7" fill="none" stroke="#4a4c4e" stroke-width="1.40" stroke-linecap="round" stroke-linejoin="round"/>
<path d="M178.8 333.1C181.9 334.3 191.0 337.6 197.4 339.8C203.8 342.0 210.6 344.6 217.3 346.4C223.9 348.2 233.8 349.7 237.1 350.4" fill="none" stroke="#4a4c4e" stroke-width="1.40" stroke-linecap="round" stroke-linejoin="round"/>
<path d="M184.1 343.8C186.3 345.3 192.3 349.3 197.4 353.0C202.5 356.8 211.7 364.1 214.6 366.3" fill="none" stroke="#4a4c4e" stroke-width="1.40" stroke-linecap="round" stroke-linejoin="round"/>
<path d="M42.2 384.9C43.8 388.0 49.1 398.8 51.5 403.4C53.9 408.1 55.9 411.2 56.8 412.7" fill="none" stroke="#8a8c8e" stroke-width="2.40" stroke-linecap="round" stroke-linejoin="round"/>
<path d="M209.3 395.5C209.5 397.7 210.4 406.5 210.6 408.7" fill="none" stroke="#9a9c9e" stroke-width="2.40" stroke-linecap="round" stroke-linejoin="round"/>
<ellipse cx="137.7" cy="445.8" rx="6.6" ry="1.9" fill="#d0d0d0" transform="rotate(20 137.7 445.8)"/>
<ellipse cx="133.7" cy="427.3" rx="6.6" ry="2.1" fill="#050607"/>
<ellipse cx="133.7" cy="438.6" rx="5.3" ry="1.6" fill="#050607"/>
</g>
<rect x="33.00" y="309.90" width="209.90" height="186.10" fill="#fff" filter="url(#mn)"/>
</g>
<g clip-path="url(#mc5)">
<rect x="260.20" y="310.20" width="208.70" height="185.70" fill="#080a0d"/>
<g filter="url(#mb)">
<path d="M285.2 408.4C284.8 412.0 286.6 419.3 288.0 424.7C289.3 430.1 291.1 435.5 293.4 441.0C295.6 446.4 298.3 452.3 301.5 457.2C304.7 462.2 308.3 466.7 312.3 470.8C316.4 474.8 320.5 478.7 325.9 481.6C331.3 484.6 338.3 487.0 344.9 488.4C351.4 489.8 358.4 490.0 365.2 489.8C372.0 489.5 379.4 488.8 385.5 487.0C391.6 485.2 396.8 482.5 401.8 478.9C406.8 475.3 411.5 470.8 415.4 465.4C419.2 459.9 422.4 452.7 424.8 446.4C427.3 440.1 428.7 433.7 430.3 427.4C431.8 421.1 434.1 413.9 434.3 408.4C434.6 403.0 433.4 398.9 431.6 394.9C429.8 390.8 426.2 387.6 423.5 384.0C420.8 380.4 418.5 376.6 415.4 373.2C412.2 369.8 408.6 366.4 404.5 363.7C400.4 361.0 395.9 358.6 391.0 356.9C386.0 355.2 380.1 354.1 374.7 353.5C369.3 353.0 363.9 353.2 358.4 353.5C353.0 353.9 347.1 354.3 342.2 355.6C337.2 356.8 332.7 358.5 328.6 361.0C324.5 363.5 320.9 367.1 317.8 370.5C314.6 373.9 312.3 377.3 309.6 381.3C306.9 385.4 304.7 391.3 301.5 394.9C298.3 398.5 293.4 400.7 290.7 403.0C288.0 405.3 285.7 404.8 285.2 408.4Z" fill="#2f3133" stroke="#5e6163" stroke-width="2.00" stroke-linecap="round" stroke-linejoin="round"/>
<ellipse cx="334.8" cy="457.5" rx="15.7" ry="14.4" fill="#2d2f31" transform="rotate(18 334.8 457.5)"/>
<ellipse cx="391.5" cy="457.5" rx="15.7" ry="14.4" fill="#2d2f31" transform="rotate(-18 391.5 457.5)"/>
<ellipse cx="311.7" cy="442.5" rx="8.9" ry="23.3" fill="#3a3c3e" transform="rotate(-14 311.7 442.5)"/>
<ellipse cx="414.6" cy="442.5" rx="8.9" ry="23.3" fill="#3a3c3e" transform="rotate(14 414.6 442.5)"/>
<path d="M319.9 424.2C320.6 427.7 323.5 444.2 325.2 450.9C326.8 457.5 330.5 470.9 332.6 474.2C334.7 477.5 339.7 475.2 340.8 475.3" fill="none" stroke="#08090a" stroke-width="1.70" stroke-linecap="round" stroke-linejoin="round"/>
<ellipse cx="318.4" cy="424.7" rx="2.2" ry="3.6" fill="#6e7072" transform="rotate(-20 318.4 424.7)"/>
<ellipse cx="325.9" cy="449.7" rx="2.4" ry="3.4" fill="#5a5c5e"/>
<path d="M406.4 424.2C405.7 427.7 402.9 444.2 401.2 450.9C399.5 457.5 395.8 470.9 393.7 474.2C391.7 477.5 386.6 475.2 385.5 475.3" fill="none" stroke="#08090a" stroke-width="1.70" stroke-linecap="round" stroke-linejoin="round"/>
<ellipse cx="407.9" cy="424.7" rx="2.2" ry="3.6" fill="#6e7072" transform="rotate(20 407.9 424.7)"/>
<ellipse cx="400.4" cy="449.7" rx="2.4" ry="3.4" fill="#5a5c5e"/>
<ellipse cx="363.2" cy="470.9" rx="23.1" ry="15.0" fill="#3f4143"/>
<path d="M346.8 463.1C349.5 462.0 357.7 456.4 363.2 456.4C368.6 456.4 376.8 462.0 379.6 463.1" fill="none" stroke="#8a8c8e" stroke-width="1.30" stroke-linecap="round" stroke-linejoin="round"/>
<ellipse cx="363.2" cy="474.2" rx="13.4" ry="8.3" fill="#35373a"/>
<ellipse cx="363.2" cy="442.0" rx="5.2" ry="2.8" fill="#050607"/>
<path d="M355.7 437.5C357.0 437.4 360.7 436.7 363.2 436.7C365.7 436.7 369.4 437.4 370.6 437.5" fill="none" stroke="#9a9c9e" stroke-width="1.40" stroke-linecap="round" stroke-linejoin="round"/>
<path d="M311.7 400.3C311.2 395.6 312.2 391.0 313.7 386.7C315.2 382.5 317.5 378.2 320.5 374.5C323.4 370.9 327.3 367.5 331.3 365.1C335.4 362.6 339.9 360.9 344.9 359.6C349.8 358.4 355.7 357.6 361.1 357.6C366.6 357.6 372.2 358.2 377.4 359.6C382.6 361.1 388.0 363.5 392.3 366.4C396.6 369.4 400.0 373.2 403.2 377.3C406.3 381.3 409.4 386.1 411.3 390.8C413.2 395.6 414.9 401.4 414.7 405.7C414.5 410.0 411.9 412.9 409.9 416.6C408.0 420.2 405.2 424.5 403.2 427.4C401.1 430.3 401.8 433.2 397.7 434.2C393.7 435.2 384.9 433.5 378.8 433.5C372.7 433.5 366.8 434.2 361.1 434.2C355.5 434.2 349.8 433.5 344.9 433.5C339.9 433.5 334.9 435.4 331.3 434.2C327.7 432.9 325.7 429.2 323.2 426.1C320.7 422.9 318.3 419.5 316.4 415.2C314.5 410.9 312.1 405.0 311.7 400.3Z" fill="#959799" stroke="#0e0f11" stroke-width="1.70" stroke-linecap="round" stroke-linejoin="round"/>
<ellipse cx="354.4" cy="389.5" rx="25.8" ry="19.0" fill="#5e6062" filter="url(#mb2)"/>
<ellipse cx="344.9" cy="384.0" rx="8.1" ry="5.4" fill="#4a4c4e" filter="url(#mb2)"/>
<ellipse cx="367.9" cy="381.3" rx="6.8" ry="5.4" fill="#77797b" filter="url(#mb2)"/>
<ellipse cx="348.3" cy="407.8" rx="2.6" ry="2.3" fill="#f2f2f2"/>
<ellipse cx="362.5" cy="405.4" rx="1.9" ry="2.3" fill="#f2f2f2"/>
<ellipse cx="327.3" cy="400.6" rx="0.9" ry="0.9" fill="#e8e8e8"/>
<path d="M385.5 375.9C386.2 377.7 389.4 382.7 389.6 386.7C389.8 390.8 388.7 396.9 386.9 400.3C385.1 403.7 380.6 404.8 378.8 407.1C377.0 409.3 376.5 412.7 376.1 413.9" fill="none" stroke="#e8e8e8" stroke-width="1.60" stroke-linecap="round" stroke-linejoin="round"/>
<ellipse cx="378.8" cy="392.2" rx="4.7" ry="8.1" fill="#8a8c8e" transform="rotate(10 378.8 392.2)" filter="url(#mb2)"/>
<path d="M313.0 407.1C313.0 405.7 312.3 401.7 312.6 398.9C313.0 396.2 314.7 392.2 315.1 390.8" fill="none" stroke="#d0d0d0" stroke-width="1.60" stroke-linecap="round" stroke-linejoin="round"/>
<path d="M372.7 358.3C372.7 360.3 372.7 368.4 372.7 370.5" fill="none" stroke="#b0b0b0" stroke-width="0.80" stroke-linecap="round" stroke-linejoin="round"/>
<path d="M315.1 335.2C318.2 331.2 335.4 330.0 344.9 329.8C354.4 329.6 365.2 331.4 372.0 333.9C378.8 336.4 385.5 341.3 385.5 344.7C385.5 348.1 378.8 352.6 372.0 354.2C365.2 355.8 352.6 354.2 344.9 354.2C337.2 354.2 330.9 357.4 325.9 354.2C320.9 351.1 311.9 339.3 315.1 335.2Z" fill="#08090b"/>
<path d="M298.8 340.7C301.5 339.8 308.7 337.3 315.1 335.2C321.4 333.2 329.5 329.7 336.7 328.5C344.0 327.2 353.0 327.3 358.4 327.8C363.9 328.2 367.5 330.6 369.3 331.2" fill="none" stroke="#3c3e40" stroke-width="1.30" stroke-linecap="round" stroke-linejoin="round"/>
<path d="M298.8 340.7C299.7 342.5 302.9 347.9 304.2 351.5C305.6 355.1 306.5 360.5 306.9 362.3" fill="none" stroke="#4a4c4e" stroke-width="1.40" stroke-linecap="round" stroke-linejoin="round"/>
<path d="M374.7 339.3C375.6 338.6 376.1 335.7 380.1 335.2C384.2 334.8 391.4 335.7 399.1 336.6C406.8 337.5 417.2 339.1 426.2 340.7C435.2 342.2 446.8 344.5 453.3 346.1C459.9 347.7 463.5 349.5 465.5 350.1" fill="none" stroke="#4a4c4e" stroke-width="1.40" stroke-linecap="round" stroke-linejoin="round"/>
<path d="M374.7 339.3C375.6 340.0 376.1 342.5 380.1 343.4C384.2 344.3 391.4 344.5 399.1 344.7C406.8 345.0 416.3 344.3 426.2 344.7C436.1 345.2 453.3 347.0 458.7 347.4" fill="none" stroke="#4a4c4e" stroke-width="1.40" stroke-linecap="round" stroke-linejoin="round"/>
<path d="M315.1 358.3C316.2 357.4 320.0 352.9 321.8 352.9C323.6 352.9 324.3 357.2 325.9 358.3C327.5 359.4 330.4 359.4 331.3 359.6" fill="none" stroke="#b0b0b0" stroke-width="2.40" stroke-linecap="round" stroke-linejoin="round"/>
<path d="M399.1 355.6C400.4 356.0 405.0 356.9 407.2 358.3C409.5 359.6 411.7 362.8 412.6 363.7" fill="none" stroke="#8a8c8e" stroke-width="2.60" stroke-linecap="round" stroke-linejoin="round"/>
<path d="M277.1 392.2C278.0 388.8 286.6 386.3 290.7 386.7C294.7 387.2 300.6 391.7 301.5 394.9C302.4 398.0 298.8 403.7 296.1 405.7C293.4 407.8 288.4 409.3 285.2 407.1C282.1 404.8 276.2 395.6 277.1 392.2Z" fill="#08090b"/>
<path d="M416.7 367.8C417.2 365.1 423.3 364.6 426.2 365.1C429.1 365.5 433.4 367.8 434.3 370.5C435.2 373.2 433.4 379.5 431.6 381.3C429.8 383.1 426.0 383.6 423.5 381.3C421.0 379.1 416.3 370.5 416.7 367.8Z" fill="#08090b"/>
<ellipse cx="427.6" cy="380.0" rx="3.8" ry="6.1" fill="#d0d0d0" transform="rotate(30 427.6 380.0)" filter="url(#mb2)"/>
<ellipse cx="277.1" cy="411.1" rx="4.1" ry="7.5" fill="#8a8c8e" transform="rotate(-20 277.1 411.1)" filter="url(#mb2)"/>
<path d="M306.9 412.5C307.6 412.3 309.9 410.7 311.0 411.1C312.1 411.6 313.3 414.5 313.7 415.2" fill="none" stroke="#c0c0c0" stroke-width="1.60" stroke-linecap="round" stroke-linejoin="round"/>
<path d="M411.3 412.5C412.0 412.2 414.1 410.1 415.4 410.5C416.6 410.8 418.2 413.9 418.7 414.5" fill="none" stroke="#c0c0c0" stroke-width="1.60" stroke-linecap="round" stroke-linejoin="round"/>
<ellipse cx="320.5" cy="447.1" rx="3.0" ry="3.5" fill="#8a8c8e"/>
<ellipse cx="320.5" cy="447.1" rx="1.5" ry="1.8" fill="#3a3c3e"/>
<ellipse cx="405.9" cy="445.7" rx="2.4" ry="3.3" fill="#8a8c8e"/>
<ellipse cx="405.9" cy="445.7" rx="1.1" ry="1.6" fill="#2a2c2e"/>
</g>
<rect x="260.20" y="310.20" width="208.70" height="185.70" fill="#fff" filter="url(#mn)"/>
</g>
<g clip-path="url(#mc6)">
<rect x="499.20" y="310.20" width="207.70" height="185.70" fill="#080a0d"/>
<g filter="url(#mb)">
<path d="M508.7 381.3C508.3 387.0 508.6 396.2 509.4 403.0C510.2 409.8 511.4 415.7 513.5 422.0C515.5 428.3 518.4 435.1 521.6 441.0C524.8 446.8 528.4 452.3 532.4 457.2C536.5 462.2 540.8 466.7 546.0 470.8C551.2 474.8 557.5 478.9 563.6 481.6C569.7 484.3 576.3 486.4 582.6 487.0C588.9 487.7 595.2 486.8 601.6 485.7C607.9 484.6 614.7 482.8 620.5 480.3C626.4 477.8 631.4 475.1 636.8 470.8C642.2 466.5 648.1 460.4 653.1 454.5C658.0 448.6 662.1 441.9 666.6 435.5C671.1 429.2 676.1 422.4 680.2 416.6C684.2 410.7 688.3 405.7 691.0 400.3C693.7 394.9 696.0 389.9 696.4 384.0C696.9 378.2 694.2 372.3 693.7 365.1C693.3 357.8 694.6 345.6 693.7 340.7C692.8 335.7 691.9 335.7 688.3 335.2C684.7 334.8 677.5 335.7 672.0 338.0C666.6 340.2 659.8 347.9 655.8 348.8C651.7 349.7 650.8 345.6 647.6 343.4C644.5 341.1 641.3 337.5 636.8 335.2C632.3 333.0 626.4 331.4 620.5 329.8C614.7 328.2 607.9 326.7 601.6 325.8C595.2 324.8 588.9 324.4 582.6 324.4C576.3 324.4 569.7 324.6 563.6 325.8C557.5 326.9 551.4 328.5 546.0 331.2C540.6 333.9 535.6 337.7 531.1 342.0C526.6 346.3 522.0 352.4 518.9 356.9C515.7 361.4 513.8 365.1 512.1 369.1C510.4 373.2 509.2 375.7 508.7 381.3Z" fill="#2f3133" stroke="#5e6163" stroke-width="2.00" stroke-linecap="round" stroke-linejoin="round"/>
<ellipse cx="545.9" cy="453.2" rx="19.7" ry="15.2" fill="#2d2f31" transform="rotate(18 545.9 453.2)"/>
<ellipse cx="617.2" cy="453.2" rx="19.7" ry="15.2" fill="#2d2f31" transform="rotate(-18 617.2 453.2)"/>
<ellipse cx="516.8" cy="437.5" rx="11.3" ry="24.5" fill="#3a3c3e" transform="rotate(-14 516.8 437.5)"/>
<ellipse cx="646.3" cy="437.5" rx="11.3" ry="24.5" fill="#3a3c3e" transform="rotate(14 646.3 437.5)"/>
<path d="M527.1 418.3C528.0 422.0 531.6 439.3 533.7 446.2C535.8 453.2 540.5 467.3 543.1 470.7C545.7 474.1 552.0 471.7 553.4 471.9" fill="none" stroke="#08090a" stroke-width="1.70" stroke-linecap="round" stroke-linejoin="round"/>
<ellipse cx="525.3" cy="418.9" rx="2.2" ry="3.6" fill="#6e7072" transform="rotate(-20 525.3 418.9)"/>
<ellipse cx="534.6" cy="445.1" rx="2.4" ry="3.4" fill="#5a5c5e"/>
<path d="M636.0 418.3C635.1 422.0 631.6 439.3 629.4 446.2C627.3 453.2 622.7 467.3 620.1 470.7C617.4 474.1 611.1 471.7 609.7 471.9" fill="none" stroke="#08090a" stroke-width="1.70" stroke-linecap="round" stroke-linejoin="round"/>
<ellipse cx="637.9" cy="418.9" rx="2.2" ry="3.6" fill="#6e7072" transform="rotate(20 637.9 418.9)"/>
<ellipse cx="628.5" cy="445.1" rx="2.4" ry="3.4" fill="#5a5c5e"/>
<ellipse cx="581.6" cy="467.2" rx="29.1" ry="15.7" fill="#3f4143"/>
<path d="M560.9 459.1C564.4 457.9 574.7 452.1 581.6 452.1C588.5 452.1 598.8 457.9 602.2 459.1" fill="none" stroke="#8a8c8e" stroke-width="1.30" stroke-linecap="round" stroke-linejoin="round"/>
<ellipse cx="581.6" cy="470.7" rx="16.9" ry="8.7" fill="#35373a"/>
<ellipse cx="581.6" cy="436.9" rx="6.6" ry="2.9" fill="#050607"/>
<path d="M572.2 432.3C573.7 432.1 578.4 431.4 581.6 431.4C584.7 431.4 589.4 432.1 591.0 432.3" fill="none" stroke="#9a9c9e" stroke-width="1.40" stroke-linecap="round" stroke-linejoin="round"/>
<path d="M527.7 381.3C527.7 376.4 527.8 370.5 529.7 365.1C531.6 359.6 535.4 353.3 539.2 348.8C543.1 344.3 547.8 340.8 552.8 338.0C557.7 335.1 563.6 333.2 569.0 331.9C574.5 330.5 579.9 329.7 585.3 329.8C590.7 329.9 596.4 330.7 601.6 332.5C606.8 334.3 612.2 337.3 616.5 340.7C620.8 344.0 624.4 348.3 627.3 352.9C630.3 357.4 632.7 362.8 634.1 367.8C635.4 372.7 635.9 378.2 635.4 382.7C635.0 387.2 632.7 390.8 631.4 394.9C630.0 398.9 629.1 403.7 627.3 407.1C625.5 410.5 623.9 413.6 620.5 415.2C617.1 416.8 611.5 415.9 607.0 416.6C602.5 417.2 597.9 418.4 593.4 419.3C588.9 420.2 584.4 420.6 579.9 422.0C575.4 423.3 570.4 426.3 566.3 427.4C562.3 428.5 559.1 430.1 555.5 428.8C551.9 427.4 548.0 422.9 544.6 419.3C541.2 415.7 537.6 411.1 535.1 407.1C532.7 403.0 531.0 399.2 529.7 394.9C528.5 390.6 527.7 386.3 527.7 381.3Z" fill="#a2a4a6" stroke="#0e0f11" stroke-width="1.70" stroke-linecap="round" stroke-linejoin="round"/>
<path d="M650.4 361.0C651.0 357.2 654.4 355.6 658.5 352.9C662.6 350.1 670.2 345.4 674.8 344.7C679.3 344.0 684.0 345.0 685.6 348.8C687.2 352.6 685.4 361.4 684.2 367.8C683.1 374.1 680.4 381.3 678.8 386.7C677.2 392.2 677.2 399.4 674.8 400.3C672.3 401.2 667.3 396.2 663.9 392.2C660.5 388.1 656.7 381.1 654.4 375.9C652.2 370.7 649.7 364.8 650.4 361.0Z" fill="#08090b"/>
<path d="M638.2 333.9C638.2 330.9 645.2 326.9 647.6 327.1C650.1 327.3 653.1 332.3 653.1 335.2C653.1 338.2 650.1 345.0 647.6 344.7C645.2 344.5 638.2 336.8 638.2 333.9Z" fill="#08090b"/>
<ellipse cx="552.8" cy="386.7" rx="23.0" ry="27.1" fill="#a6a8aa" filter="url(#mb2)"/>
<ellipse cx="607.0" cy="388.1" rx="20.3" ry="24.4" fill="#8e9092" filter="url(#mb2)"/>
<ellipse cx="585.3" cy="370.5" rx="10.8" ry="16.3" fill="#c0c2c4" transform="rotate(10 585.3 370.5)" filter="url(#mb2)"/>
<ellipse cx="559.5" cy="350.4" rx="10.2" ry="5.2" fill="#f2f2f2" transform="rotate(-15 559.5 350.4)"/>
<ellipse cx="604.3" cy="357.6" rx="6.5" ry="11.9" fill="#f2f2f2" transform="rotate(-18 604.3 357.6)"/>
<ellipse cx="571.7" cy="384.0" rx="3.4" ry="5.4" fill="#e0e0e0" transform="rotate(-30 571.7 384.0)" filter="url(#mb2)"/>
<path d="M539.2 403.0C540.3 404.6 543.1 409.9 546.0 412.5C548.9 415.1 553.2 417.7 556.8 418.6C560.4 419.5 564.3 418.9 567.7 417.9C571.1 416.9 575.6 413.4 577.2 412.5" fill="none" stroke="#f0f0f0" stroke-width="2.60" stroke-linecap="round" stroke-linejoin="round"/>
<path d="M531.1 384.0C531.3 385.8 531.6 391.7 532.4 394.9C533.2 398.0 535.3 401.7 535.8 403.0" fill="none" stroke="#e0e0e0" stroke-width="2.00" stroke-linecap="round" stroke-linejoin="round"/>
<path d="M594.1 400.3C593.9 401.7 593.1 405.7 592.8 408.4C592.4 411.1 592.0 415.2 591.8 416.6" fill="none" stroke="#f0f0f0" stroke-width="1.80" stroke-linecap="round" stroke-linejoin="round"/>
<path d="M584.6 331.2C584.8 333.2 585.4 339.1 586.0 343.4C586.5 347.7 587.7 354.7 588.0 356.9" fill="none" stroke="#c8c8c8" stroke-width="0.90" stroke-linecap="round" stroke-linejoin="round"/>
<path d="M520.2 350.1C522.3 347.9 528.1 340.4 532.4 336.6C536.7 332.8 541.5 329.6 546.0 327.1C550.5 324.6 557.3 322.6 559.5 321.7" fill="none" stroke="#8a8c8e" stroke-width="2.20" stroke-linecap="round" stroke-linejoin="round"/>
<path d="M525.7 344.7C527.9 342.9 534.2 336.8 539.2 333.9C544.2 330.9 552.8 328.2 555.5 327.1" fill="none" stroke="#c0c0c0" stroke-width="1.60" stroke-linecap="round" stroke-linejoin="round"/>
<path d="M642.2 327.1C642.9 328.9 645.8 334.8 646.3 338.0C646.7 341.1 645.2 344.7 644.9 346.1" fill="none" stroke="#6a6c6e" stroke-width="2.60" stroke-linecap="round" stroke-linejoin="round"/>
<ellipse cx="636.8" cy="419.3" rx="3.0" ry="2.7" fill="#b0b0b0"/>
<ellipse cx="550.1" cy="445.0" rx="2.4" ry="1.9" fill="#8a8c8e" transform="rotate(30 550.1 445.0)"/>
<ellipse cx="579.9" cy="476.2" rx="2.7" ry="3.0" fill="#7a7c7e"/>
<ellipse cx="626.0" cy="473.5" rx="2.7" ry="3.0" fill="#7a7c7e"/>
<path d="M583.9 443.7C584.4 442.1 589.6 440.1 593.4 439.6C597.3 439.2 605.2 439.8 607.0 441.0C608.8 442.1 607.0 445.0 604.3 446.4C601.6 447.7 594.1 449.5 590.7 449.1C587.3 448.6 583.5 445.3 583.9 443.7Z" fill="#050607"/>
</g>
<rect x="499.20" y="310.20" width="207.70" height="185.70" fill="#fff" filter="url(#mn)"/>
</g>
<g clip-path="url(#mc7)">
<rect x="734.30" y="309.80" width="205.60" height="185.80" fill="#080a0d"/>
<g filter="url(#mb)">
<path d="M746.9 399.6C745.9 403.5 751.4 410.4 754.1 415.5C756.7 420.5 759.9 425.1 762.7 429.9C765.6 434.7 768.0 439.6 771.4 444.4C774.8 449.2 778.6 454.0 783.0 458.8C787.3 463.6 792.3 469.1 797.4 473.2C802.4 477.3 807.0 481.2 813.3 483.3C819.5 485.5 827.7 486.2 834.9 486.2C842.1 486.2 849.8 485.0 856.6 483.3C863.3 481.7 869.6 479.3 875.3 476.1C881.1 473.0 886.7 469.4 891.2 464.6C895.8 459.8 899.9 453.0 902.8 447.2C905.7 441.5 906.9 435.7 908.6 429.9C910.2 424.2 910.2 417.9 912.9 412.6C915.5 407.3 923.5 402.5 924.4 398.2C925.4 393.8 922.7 388.8 918.7 386.6C914.6 384.5 905.2 386.1 899.9 385.2C894.6 384.2 890.0 384.5 886.9 380.8C883.8 377.2 883.0 369.1 881.1 363.5C879.2 358.0 878.2 351.7 875.3 347.6C872.5 343.5 869.1 341.1 863.8 339.0C858.5 336.8 848.4 337.1 843.6 334.6C838.8 332.2 839.3 326.9 834.9 324.5C830.6 322.1 822.9 320.2 817.6 320.2C812.3 320.2 808.0 322.1 803.2 324.5C798.4 326.9 792.6 330.8 788.7 334.6C784.9 338.5 782.5 342.6 780.1 347.6C777.7 352.7 776.2 359.4 774.3 365.0C772.4 370.5 770.9 376.3 768.5 380.8C766.1 385.4 763.5 389.3 759.9 392.4C756.2 395.5 747.8 395.8 746.9 399.6Z" fill="#2f3133" stroke="#5e6163" stroke-width="2.00" stroke-linecap="round" stroke-linejoin="round"/>
<ellipse cx="796.9" cy="453.6" rx="18.6" ry="14.6" fill="#2d2f31" transform="rotate(18 796.9 453.6)"/>
<ellipse cx="864.3" cy="453.6" rx="18.6" ry="14.6" fill="#2d2f31" transform="rotate(-18 864.3 453.6)"/>
<ellipse cx="769.3" cy="438.4" rx="10.7" ry="23.6" fill="#3a3c3e" transform="rotate(-14 769.3 438.4)"/>
<ellipse cx="891.9" cy="438.4" rx="10.7" ry="23.6" fill="#3a3c3e" transform="rotate(14 891.9 438.4)"/>
<path d="M779.1 419.8C779.9 423.4 783.3 440.1 785.3 446.8C787.3 453.6 791.7 467.2 794.2 470.5C796.7 473.8 802.7 471.4 804.0 471.6" fill="none" stroke="#08090a" stroke-width="1.70" stroke-linecap="round" stroke-linejoin="round"/>
<ellipse cx="777.3" cy="420.4" rx="2.2" ry="3.6" fill="#6e7072" transform="rotate(-20 777.3 420.4)"/>
<ellipse cx="786.2" cy="445.7" rx="2.4" ry="3.4" fill="#5a5c5e"/>
<path d="M882.1 419.8C881.3 423.4 877.9 440.1 875.9 446.8C873.9 453.6 869.5 467.2 867.0 470.5C864.5 473.8 858.5 471.4 857.2 471.6" fill="none" stroke="#08090a" stroke-width="1.70" stroke-linecap="round" stroke-linejoin="round"/>
<ellipse cx="883.9" cy="420.4" rx="2.2" ry="3.6" fill="#6e7072" transform="rotate(20 883.9 420.4)"/>
<ellipse cx="875.0" cy="445.7" rx="2.4" ry="3.4" fill="#5a5c5e"/>
<ellipse cx="830.6" cy="467.1" rx="27.5" ry="15.2" fill="#3f4143"/>
<path d="M811.1 459.2C814.3 458.1 824.1 452.4 830.6 452.4C837.1 452.4 846.9 458.1 850.1 459.2" fill="none" stroke="#8a8c8e" stroke-width="1.30" stroke-linecap="round" stroke-linejoin="round"/>
<ellipse cx="830.6" cy="470.5" rx="16.0" ry="8.4" fill="#35373a"/>
<ellipse cx="830.6" cy="437.8" rx="6.2" ry="2.8" fill="#050607"/>
<path d="M821.7 433.3C823.2 433.2 827.6 432.5 830.6 432.5C833.6 432.5 838.0 433.2 839.5 433.3" fill="none" stroke="#9a9c9e" stroke-width="1.40" stroke-linecap="round" stroke-linejoin="round"/>
<path d="M780.1 389.5C779.8 384.7 780.5 377.5 781.5 372.2C782.5 366.9 783.7 362.6 785.8 357.7C788.0 352.9 790.7 347.2 794.5 343.3C798.4 339.5 803.6 336.6 808.9 334.6C814.2 332.7 820.7 331.3 826.3 331.8C831.8 332.2 837.1 336.1 842.1 337.5C847.2 339.0 852.2 338.5 856.6 340.4C860.9 342.3 864.8 345.2 868.1 349.1C871.5 352.9 874.6 358.2 876.8 363.5C879.0 368.8 880.5 375.8 881.1 380.8C881.7 385.9 881.4 389.3 880.4 393.8C879.4 398.4 877.4 403.9 875.3 408.3C873.3 412.6 872.5 418.1 868.1 419.8C863.8 421.5 854.9 417.9 849.4 418.4C843.8 418.9 839.7 421.5 834.9 422.7C830.1 423.9 825.3 424.4 820.5 425.6C815.7 426.8 809.7 430.4 806.1 429.9C802.4 429.4 801.7 425.8 798.8 422.7C795.9 419.6 791.4 414.8 788.7 411.2C786.1 407.6 784.4 404.7 783.0 401.1C781.5 397.4 780.3 394.3 780.1 389.5Z" fill="#9c9ea0" stroke="#0e0f11" stroke-width="1.70" stroke-linecap="round" stroke-linejoin="round"/>
<ellipse cx="865.2" cy="380.8" rx="13.0" ry="31.8" fill="#8a8c8e" filter="url(#mb2)"/>
<ellipse cx="806.1" cy="393.8" rx="17.3" ry="13.0" fill="#a6a8aa" filter="url(#mb2)"/>
<path d="M855.9 365.0C855.5 367.1 854.5 373.9 853.7 378.0C852.9 382.0 852.5 386.1 850.8 389.5C849.1 392.9 845.3 394.1 843.6 398.2C841.9 402.3 841.2 411.4 840.7 414.0" fill="none" stroke="#f2f2f2" stroke-width="2.00" stroke-linecap="round" stroke-linejoin="round"/>
<ellipse cx="854.4" cy="372.2" rx="1.3" ry="4.6" fill="#f2f2f2" transform="rotate(5 854.4 372.2)"/>
<ellipse cx="839.3" cy="399.6" rx="3.2" ry="1.0" fill="#f0f0f0" transform="rotate(-20 839.3 399.6)"/>
<path d="M748.3 385.2C748.1 382.3 746.1 374.1 746.9 367.9C747.6 361.6 750.5 354.1 752.6 347.6C754.8 341.1 757.0 333.9 759.9 328.9C762.7 323.8 768.3 319.2 770.0 317.3" fill="none" stroke="#4a4c4e" stroke-width="1.40" stroke-linecap="round" stroke-linejoin="round"/>
<path d="M770.0 317.3C770.7 318.8 773.1 322.6 774.3 326.0C775.5 329.4 776.7 335.6 777.2 337.5" fill="none" stroke="#5a5c5e" stroke-width="1.60" stroke-linecap="round" stroke-linejoin="round"/>
<path d="M748.3 385.2C749.5 384.5 753.6 384.2 755.5 380.8C757.5 377.5 759.1 367.6 759.9 365.0" fill="none" stroke="#3c3e40" stroke-width="1.20" stroke-linecap="round" stroke-linejoin="round"/>
<path d="M885.5 343.3C888.3 339.9 893.9 337.5 899.9 337.5C905.9 337.5 915.5 339.9 921.5 343.3C927.6 346.7 934.5 351.5 936.0 357.7C937.4 364.0 933.6 376.3 930.2 380.8C926.8 385.4 921.1 384.7 915.8 385.2C910.5 385.7 903.3 385.4 898.4 383.7C893.6 382.0 889.5 379.4 886.9 375.1C884.3 370.7 882.8 363.0 882.6 357.7C882.3 352.5 882.6 346.7 885.5 343.3Z" fill="#08090b"/>
<path d="M882.6 360.6C883.0 357.7 883.8 347.6 885.5 343.3C887.1 339.0 889.1 335.9 892.7 334.6C896.3 333.4 901.8 334.9 907.1 336.1C912.4 337.3 919.1 339.0 924.4 341.9C929.7 344.8 936.5 351.5 938.9 353.4" fill="none" stroke="#5a5c5e" stroke-width="1.50" stroke-linecap="round" stroke-linejoin="round"/>
<ellipse cx="907.1" cy="389.5" rx="4.3" ry="5.8" fill="#e0e0e0" filter="url(#mb2)"/>
<path d="M917.2 398.2C916.0 400.1 911.7 405.9 910.0 409.7C908.3 413.6 907.6 419.3 907.1 421.3" fill="none" stroke="#e0e0e0" stroke-width="2.40" stroke-linecap="round" stroke-linejoin="round"/>
<ellipse cx="758.4" cy="406.8" rx="2.9" ry="4.3" fill="#9a9a9a" filter="url(#mb2)"/>
<ellipse cx="884.0" cy="396.7" rx="2.2" ry="2.9" fill="#c8c8c8" filter="url(#mb2)"/>
<ellipse cx="780.1" cy="412.6" rx="1.9" ry="2.9" fill="#c0c0c0" filter="url(#mb2)"/>
<ellipse cx="796.7" cy="445.8" rx="3.8" ry="3.8" fill="#9a9c9e"/>
<ellipse cx="796.7" cy="445.8" rx="1.9" ry="1.9" fill="#2a2c2e"/>
<ellipse cx="877.5" cy="432.1" rx="3.2" ry="3.2" fill="#9a9c9e"/>
<ellipse cx="877.5" cy="432.1" rx="1.4" ry="1.4" fill="#2a2c2e"/>
<path d="M824.8 448.7C826.5 448.0 831.6 444.4 834.9 444.4C838.3 444.4 843.3 448.0 845.0 448.7" fill="none" stroke="#d0d0d0" stroke-width="2.00" stroke-linecap="round" stroke-linejoin="round"/>
</g>
<rect x="734.30" y="309.80" width="205.60" height="185.80" fill="#fff" filter="url(#mn)"/>
</g>
<line x1="486.20" y1="134.40" x2="523.00" y2="143.62" stroke="#ed1c24" stroke-width="1.50"/><path d="M536.10 146.90 L519.95 149.66 L523.15 136.85 Z" fill="#ed1c24"/>
<line x1="734.20" y1="114.00" x2="771.32" y2="123.54" stroke="#ed1c24" stroke-width="1.50"/><path d="M784.40 126.90 L768.23 129.56 L771.51 116.77 Z" fill="#ed1c24"/>
<line x1="30.30" y1="353.70" x2="67.24" y2="362.18" stroke="#ed1c24" stroke-width="1.50"/><path d="M80.40 365.20 L64.30 368.28 L67.26 355.41 Z" fill="#ed1c24"/>
<line x1="255.20" y1="376.20" x2="291.81" y2="385.48" stroke="#ed1c24" stroke-width="1.50"/><path d="M304.90 388.80 L288.74 391.51 L291.98 378.72 Z" fill="#ed1c24"/>
<line x1="466.20" y1="355.30" x2="503.68" y2="362.99" stroke="#ed1c24" stroke-width="1.50"/><path d="M516.90 365.70 L500.88 369.15 L503.53 356.22 Z" fill="#ed1c24"/>
<line x1="710.50" y1="342.90" x2="747.51" y2="352.28" stroke="#ed1c24" stroke-width="1.50"/><path d="M760.60 355.60 L744.44 358.31 L747.68 345.52 Z" fill="#ed1c24"/>
<text transform="matrix(0.9489 0 0 1 1.40 33.40)" font-size="45.71" font-weight="bold" fill="#231f20">a</text>
<text transform="matrix(0.9836 0 0 1 30.63 70.90)" font-size="34.14" stroke="#231f20" stroke-width="0.4" fill="#231f20">Vector Control</text>
<text transform="matrix(0.9819 0 0 1 255.93 70.90)" font-size="34.14" stroke="#231f20" stroke-width="0.4" fill="#231f20">PTPN11 alone</text>
<text transform="matrix(0.9911 0 0 1 524.21 65.80)" font-size="34.14" stroke="#231f20" stroke-width="0.4" fill="#231f20">F1-N546K</text>
<text transform="matrix(0.9851 0 0 1 762.43 32.80)" font-size="34.14" stroke="#231f20" stroke-width="0.4" fill="#231f20">F1-N546K+</text>
<text transform="matrix(0.9708 0 0 1 762.47 73.20)" font-size="34.14" stroke="#231f20" stroke-width="0.4" fill="#231f20">PTPN11</text>
<text transform="matrix(0.9755 0 0 1 50.25 303.00)" font-size="34.14" stroke="#231f20" stroke-width="0.4" fill="#231f20">F1::TACC1</text>
<text transform="matrix(0.9928 0 0 1 311.00 303.00)" font-size="34.14" stroke="#231f20" stroke-width="0.4" fill="#231f20">F1-ITD</text>
<text transform="matrix(0.9723 0 0 1 555.63 303.00)" font-size="34.14" stroke="#231f20" stroke-width="0.4" fill="#231f20">V600E</text>
<text transform="matrix(1.0063 0 0 1 804.87 303.00)" font-size="34.14" stroke="#231f20" stroke-width="0.4" fill="#231f20">K::B</text>
<text transform="matrix(1.0483 0 0 1 1025.89 33.60)" font-size="45.71" font-weight="bold" fill="#231f20">b</text>
<line x1="1125.90" y1="79.00" x2="1125.90" y2="453.70" stroke="#000" stroke-width="2.60"/>
<line x1="1111.20" y1="452.40" x2="1646.69" y2="452.40" stroke="#000" stroke-width="2.60"/>
<line x1="1118.50" y1="435.52" x2="1125.90" y2="435.52" stroke="#000" stroke-width="2.60"/>
<line x1="1118.50" y1="418.64" x2="1125.90" y2="418.64" stroke="#000" stroke-width="2.60"/>
<line x1="1118.50" y1="401.76" x2="1125.90" y2="401.76" stroke="#000" stroke-width="2.60"/>
<line x1="1118.50" y1="384.88" x2="1125.90" y2="384.88" stroke="#000" stroke-width="2.60"/>
<line x1="1118.50" y1="368.00" x2="1125.90" y2="368.00" stroke="#000" stroke-width="2.60"/>
<line x1="1118.50" y1="351.12" x2="1125.90" y2="351.12" stroke="#000" stroke-width="2.60"/>
<line x1="1118.50" y1="334.24" x2="1125.90" y2="334.24" stroke="#000" stroke-width="2.60"/>
<line x1="1118.50" y1="317.36" x2="1125.90" y2="317.36" stroke="#000" stroke-width="2.60"/>
<line x1="1118.50" y1="300.48" x2="1125.90" y2="300.48" stroke="#000" stroke-width="2.60"/>
<line x1="1111.20" y1="283.60" x2="1125.90" y2="283.60" stroke="#000" stroke-width="2.60"/>
<line x1="1118.50" y1="266.72" x2="1125.90" y2="266.72" stroke="#000" stroke-width="2.60"/>
<line x1="1118.50" y1="249.84" x2="1125.90" y2="249.84" stroke="#000" stroke-width="2.60"/>
<line x1="1118.50" y1="232.96" x2="1125.90" y2="232.96" stroke="#000" stroke-width="2.60"/>
<line x1="1118.50" y1="216.08" x2="1125.90" y2="216.08" stroke="#000" stroke-width="2.60"/>
<line x1="1118.50" y1="199.20" x2="1125.90" y2="199.20" stroke="#000" stroke-width="2.60"/>
<line x1="1118.50" y1="182.32" x2="1125.90" y2="182.32" stroke="#000" stroke-width="2.60"/>
<line x1="1118.50" y1="165.44" x2="1125.90" y2="165.44" stroke="#000" stroke-width="2.60"/>
<line x1="1118.50" y1="148.56" x2="1125.90" y2="148.56" stroke="#000" stroke-width="2.60"/>
<line x1="1118.50" y1="131.68" x2="1125.90" y2="131.68" stroke="#000" stroke-width="2.60"/>
<line x1="1111.20" y1="114.80" x2="1125.90" y2="114.80" stroke="#000" stroke-width="2.60"/>
<line x1="1118.50" y1="97.92" x2="1125.90" y2="97.92" stroke="#000" stroke-width="2.60"/>
<line x1="1118.50" y1="81.04" x2="1125.90" y2="81.04" stroke="#000" stroke-width="2.60"/>
<line x1="1125.90" y1="452.40" x2="1125.90" y2="467.40" stroke="#000" stroke-width="2.60"/>
<line x1="1143.22" y1="452.40" x2="1143.22" y2="460.70" stroke="#000" stroke-width="2.60"/>
<line x1="1160.53" y1="452.40" x2="1160.53" y2="460.70" stroke="#000" stroke-width="2.60"/>
<line x1="1177.85" y1="452.40" x2="1177.85" y2="460.70" stroke="#000" stroke-width="2.60"/>
<line x1="1195.17" y1="452.40" x2="1195.17" y2="460.70" stroke="#000" stroke-width="2.60"/>
<line x1="1212.48" y1="452.40" x2="1212.48" y2="460.70" stroke="#000" stroke-width="2.60"/>
<line x1="1229.80" y1="452.40" x2="1229.80" y2="460.70" stroke="#000" stroke-width="2.60"/>
<line x1="1247.12" y1="452.40" x2="1247.12" y2="460.70" stroke="#000" stroke-width="2.60"/>
<line x1="1264.43" y1="452.40" x2="1264.43" y2="460.70" stroke="#000" stroke-width="2.60"/>
<line x1="1281.75" y1="452.40" x2="1281.75" y2="460.70" stroke="#000" stroke-width="2.60"/>
<line x1="1299.07" y1="452.40" x2="1299.07" y2="467.40" stroke="#000" stroke-width="2.60"/>
<line x1="1316.38" y1="452.40" x2="1316.38" y2="460.70" stroke="#000" stroke-width="2.60"/>
<line x1="1333.70" y1="452.40" x2="1333.70" y2="460.70" stroke="#000" stroke-width="2.60"/>
<line x1="1351.01" y1="452.40" x2="1351.01" y2="460.70" stroke="#000" stroke-width="2.60"/>
<line x1="1368.33" y1="452.40" x2="1368.33" y2="460.70" stroke="#000" stroke-width="2.60"/>
<line x1="1385.65" y1="452.40" x2="1385.65" y2="460.70" stroke="#000" stroke-width="2.60"/>
<line x1="1402.96" y1="452.40" x2="1402.96" y2="460.70" stroke="#000" stroke-width="2.60"/>
<line x1="1420.28" y1="452.40" x2="1420.28" y2="460.70" stroke="#000" stroke-width="2.60"/>
<line x1="1437.60" y1="452.40" x2="1437.60" y2="460.70" stroke="#000" stroke-width="2.60"/>
<line x1="1454.91" y1="452.40" x2="1454.91" y2="460.70" stroke="#000" stroke-width="2.60"/>
<line x1="1472.23" y1="452.40" x2="1472.23" y2="467.40" stroke="#000" stroke-width="2.60"/>
<line x1="1489.55" y1="452.40" x2="1489.55" y2="460.70" stroke="#000" stroke-width="2.60"/>
<line x1="1506.86" y1="452.40" x2="1506.86" y2="460.70" stroke="#000" stroke-width="2.60"/>
<line x1="1524.18" y1="452.40" x2="1524.18" y2="460.70" stroke="#000" stroke-width="2.60"/>
<line x1="1541.50" y1="452.40" x2="1541.50" y2="460.70" stroke="#000" stroke-width="2.60"/>
<line x1="1558.81" y1="452.40" x2="1558.81" y2="460.70" stroke="#000" stroke-width="2.60"/>
<line x1="1576.13" y1="452.40" x2="1576.13" y2="460.70" stroke="#000" stroke-width="2.60"/>
<line x1="1593.45" y1="452.40" x2="1593.45" y2="460.70" stroke="#000" stroke-width="2.60"/>
<line x1="1610.76" y1="452.40" x2="1610.76" y2="460.70" stroke="#000" stroke-width="2.60"/>
<line x1="1628.08" y1="452.40" x2="1628.08" y2="460.70" stroke="#000" stroke-width="2.60"/>
<line x1="1645.39" y1="452.40" x2="1645.39" y2="467.40" stroke="#000" stroke-width="2.60"/>
<path d="M1125.90 114.80H1281.75V148.56H1326.77V182.32H1333.70V216.08H1344.09V249.84H1406.43V283.60H1441.06V317.36H1444.52V351.12H1503.40V384.88H1645.39" fill="none" stroke="#b1b1b1" stroke-width="3.0" stroke-linejoin="miter" stroke-linecap="square"/>
<path d="M1125.90 114.80H1236.73V148.56H1285.21V182.32H1299.07V216.08H1302.53V249.84H1319.84V317.36H1326.77V351.12H1333.70V384.88H1344.09V452.40" fill="none" stroke="#4b4b4d" stroke-width="3.0" stroke-linejoin="miter" stroke-linecap="square"/>
<path d="M1125.90 114.80H1326.77V148.56H1382.18V216.08H1396.04V283.60H1423.74V317.36H1444.52V351.12H1454.91V384.88H1475.69V418.64H1503.40V452.40" fill="none" stroke="#4a90d3" stroke-width="3.0" stroke-linejoin="miter" stroke-linecap="square"/>
<path d="M1125.90 114.80H1326.77V182.32H1333.70V216.08H1351.01V249.84H1430.67V283.60H1475.69V317.36H1565.74V351.12H1645.39" fill="none" stroke="#7a50a3" stroke-width="3.0" stroke-linejoin="miter" stroke-linecap="square"/>
<path d="M1125.90 114.80H1368.33V148.56H1389.11V182.32H1482.62V216.08H1572.67V249.84H1589.98V283.60H1614.23V317.36H1638.47V351.12H1645.39" fill="none" stroke="#ee3227" stroke-width="3.0" stroke-linejoin="miter" stroke-linecap="square"/>
<path d="M1125.90 114.80H1371.79V148.56H1420.28V216.08H1489.55V249.84H1513.79V283.60H1538.03V317.36H1555.35V351.12H1603.84V384.88H1638.47V418.64H1645.39" fill="none" stroke="#f7931e" stroke-width="3.0" stroke-linejoin="miter" stroke-linecap="square"/>
<path d="M1125.90 114.80H1645.39" fill="none" stroke="#6abd45" stroke-width="3.0" stroke-linejoin="miter" stroke-linecap="square"/>
<path d="M1125.90 114.80H1444.52V148.56H1645.39" fill="none" stroke="#0d9348" stroke-width="3.0" stroke-linejoin="miter" stroke-linecap="square"/>
<text transform="matrix(0.8941 0 0 1 1061.17 124.30)" font-size="33.71" stroke="#000" stroke-width="0.4" fill="#000">100</text>
<text transform="matrix(0.8941 0 0 1 1075.67 293.10)" font-size="33.71" stroke="#000" stroke-width="0.4" fill="#000">50</text>
<text transform="matrix(0.8941 0 0 1 1090.10 461.90)" font-size="33.71" stroke="#000" stroke-width="0.4" fill="#000">0</text>
<text transform="matrix(0.8845 0 0 1 1118.79 496.90)" font-size="33.71" stroke="#000" stroke-width="0.4" fill="#000">0</text>
<text transform="matrix(0.8845 0 0 1 1284.78 496.90)" font-size="33.71" stroke="#000" stroke-width="0.4" fill="#000">50</text>
<text transform="matrix(0.8845 0 0 1 1452.81 496.90)" font-size="33.71" stroke="#000" stroke-width="0.4" fill="#000">100</text>
<text transform="matrix(0.8845 0 0 1 1614.87 496.90)" font-size="33.71" stroke="#000" stroke-width="0.4" fill="#000">150</text>
<text transform="matrix(0.9255 0 0 1 1315.09 542.30)" font-size="32.86" stroke="#000" stroke-width="0.4" fill="#000">Days elapsed</text>
<text transform="translate(1044.20 473.55) rotate(-90.00) scale(1.0093 1)" font-size="34.29" stroke="#000" stroke-width="0.4" fill="#000">Probability of Survival (%)</text>
<text transform="matrix(0.9540 0 0 1 1206.79 70.10)" font-size="31.69" fill="#000" stroke="#000" stroke-width="0.4">mNSC <tspan font-style="italic">in vivo</tspan> experiment</text>
<text transform="matrix(1.03 0 0 1 1134.5 445.6)" font-size="23.84" fill="#231f20" stroke="#231f20" stroke-width="0.3">*** <tspan font-style="italic">p</tspan>&lt; 0.0001</text>
<line x1="1658.70" y1="104.20" x2="1695.00" y2="104.20" stroke="#0d9348" stroke-width="5.00" stroke-linecap="round"/>
<rect x="1674.40" y="96.60" width="4.80" height="7.60" fill="#000"/>
<text transform="matrix(0.9282 0 0 1 1716.45 114.70)" font-size="32.57" stroke="#000" stroke-width="0.4" fill="#000">Vector Control</text>
<line x1="1658.70" y1="155.90" x2="1695.00" y2="155.90" stroke="#6abd45" stroke-width="5.00" stroke-linecap="round"/>
<rect x="1674.40" y="148.30" width="4.80" height="7.60" fill="#000"/>
<text transform="matrix(0.9358 0 0 1 1714.69 166.00)" font-size="32.57" stroke="#000" stroke-width="0.4" fill="#000">PTPN11 alone</text>
<line x1="1661.10" y1="199.50" x2="1697.40" y2="199.50" stroke="#f7931e" stroke-width="5.00" stroke-linecap="round"/>
<rect x="1676.80" y="191.90" width="4.80" height="7.60" fill="#000"/>
<text transform="matrix(0.9384 0 0 1 1717.38 210.20)" font-size="32.57" stroke="#000" stroke-width="0.4" fill="#000">F1-N546K</text>
<line x1="1661.10" y1="244.40" x2="1697.40" y2="244.40" stroke="#ee3227" stroke-width="5.00" stroke-linecap="round"/>
<rect x="1676.80" y="236.80" width="4.80" height="7.60" fill="#000"/>
<text transform="matrix(0.9354 0 0 1 1717.39 254.40)" font-size="32.57" stroke="#000" stroke-width="0.4" fill="#000">F1-N546K +</text>
<line x1="1659.30" y1="323.30" x2="1695.60" y2="323.30" stroke="#7a50a3" stroke-width="5.00" stroke-linecap="round"/>
<rect x="1675.00" y="315.70" width="4.80" height="7.60" fill="#000"/>
<text transform="matrix(0.9276 0 0 1 1715.51 334.10)" font-size="32.57" stroke="#000" stroke-width="0.4" fill="#000">FGFR1::TACC1</text>
<line x1="1659.30" y1="366.00" x2="1695.60" y2="366.00" stroke="#4a90d3" stroke-width="5.00" stroke-linecap="round"/>
<rect x="1675.00" y="358.40" width="4.80" height="7.60" fill="#000"/>
<text transform="matrix(0.9393 0 0 1 1715.48 376.80)" font-size="32.57" stroke="#000" stroke-width="0.4" fill="#000">FGFR1-ITD</text>
<line x1="1662.50" y1="413.30" x2="1698.80" y2="413.30" stroke="#4b4b4d" stroke-width="5.00" stroke-linecap="round"/>
<rect x="1678.20" y="405.70" width="4.80" height="7.60" fill="#000"/>
<text transform="matrix(0.9226 0 0 1 1720.25 423.40)" font-size="32.57" stroke="#000" stroke-width="0.4" fill="#000">V600E</text>
<line x1="1664.00" y1="464.60" x2="1700.30" y2="464.60" stroke="#b1b1b1" stroke-width="5.00" stroke-linecap="round"/>
<rect x="1679.70" y="457.00" width="4.80" height="7.60" fill="#000"/>
<text transform="matrix(0.9604 0 0 1 1719.02 474.00)" font-size="32.57" stroke="#000" stroke-width="0.4" fill="#000">K::B</text>
<text transform="matrix(0.9198 0 0 1 1717.43 291.00)" font-size="32.57" stroke="#000" stroke-width="0.4" fill="#000">PTPN11</text>
<rect x="162.60" y="1097.16" width="32.50" height="35.94" fill="#000"/>
<rect x="209.00" y="964.88" width="32.50" height="168.22" fill="#000"/>
<rect x="255.50" y="964.88" width="32.50" height="168.22" fill="#000"/>
<rect x="302.00" y="909.85" width="32.50" height="223.25" fill="#000"/>
<rect x="348.40" y="1030.85" width="32.50" height="102.25" fill="#000"/>
<rect x="394.80" y="909.85" width="32.50" height="223.25" fill="#000"/>
<line x1="148.60" y1="784.55" x2="148.60" y2="1134.45" stroke="#000" stroke-width="2.70"/>
<line x1="135.20" y1="1133.10" x2="443.00" y2="1133.10" stroke="#000" stroke-width="2.70"/>
<line x1="135.20" y1="1063.66" x2="148.60" y2="1063.66" stroke="#000" stroke-width="2.70"/>
<line x1="135.20" y1="994.22" x2="148.60" y2="994.22" stroke="#000" stroke-width="2.70"/>
<line x1="135.20" y1="924.78" x2="148.60" y2="924.78" stroke="#000" stroke-width="2.70"/>
<line x1="135.20" y1="855.34" x2="148.60" y2="855.34" stroke="#000" stroke-width="2.70"/>
<line x1="135.20" y1="785.90" x2="148.60" y2="785.90" stroke="#000" stroke-width="2.70"/>
<text transform="matrix(0.9023 0 0 1 113.32 1142.90)" font-size="31.86" stroke="#000" stroke-width="0.4" fill="#000">0</text>
<text transform="matrix(0.9023 0 0 1 98.97 1073.46)" font-size="31.86" stroke="#000" stroke-width="0.4" fill="#000">20</text>
<text transform="matrix(0.9023 0 0 1 98.97 1004.02)" font-size="31.86" stroke="#000" stroke-width="0.4" fill="#000">40</text>
<text transform="matrix(0.9023 0 0 1 98.97 934.58)" font-size="31.86" stroke="#000" stroke-width="0.4" fill="#000">60</text>
<text transform="matrix(0.9023 0 0 1 98.97 865.14)" font-size="31.86" stroke="#000" stroke-width="0.4" fill="#000">80</text>
<text transform="matrix(0.9023 0 0 1 84.55 795.70)" font-size="31.86" stroke="#000" stroke-width="0.4" fill="#000">100</text>
<line x1="178.85" y1="1133.10" x2="178.85" y2="1147.90" stroke="#000" stroke-width="2.70"/>
<text transform="translate(82.12 1267.03) rotate(-45.00) scale(1.0022 1)" font-size="32.86" stroke="#000" stroke-width="0.4" fill="#000">F1-N546K</text>
<line x1="225.25" y1="1133.10" x2="225.25" y2="1147.90" stroke="#000" stroke-width="2.70"/>
<text transform="translate(36.67 1360.68) rotate(-45.00) scale(1.0022 1)" font-size="30.29" stroke="#000" stroke-width="0.4" fill="#000">F1-N546K + PTPN11</text>
<line x1="271.75" y1="1133.10" x2="271.75" y2="1147.90" stroke="#000" stroke-width="2.70"/>
<text transform="translate(173.18 1277.07) rotate(-45.00) scale(1.0022 1)" font-size="32.86" stroke="#000" stroke-width="0.4" fill="#000">F1::TACC1</text>
<line x1="318.25" y1="1133.10" x2="318.25" y2="1147.90" stroke="#000" stroke-width="2.70"/>
<text transform="translate(260.48 1236.27) rotate(-45.00) scale(1.0022 1)" font-size="32.86" stroke="#000" stroke-width="0.4" fill="#000">F1-ITD</text>
<line x1="364.65" y1="1133.10" x2="364.65" y2="1147.90" stroke="#000" stroke-width="2.70"/>
<text transform="translate(309.33 1237.62) rotate(-45.00) scale(1.0022 1)" font-size="32.86" stroke="#000" stroke-width="0.4" fill="#000">V600E</text>
<line x1="411.05" y1="1133.10" x2="411.05" y2="1147.90" stroke="#000" stroke-width="2.70"/>
<text transform="translate(385.37 1212.08) rotate(-45.00) scale(1.0022 1)" font-size="32.86" stroke="#000" stroke-width="0.4" fill="#000">K::B</text>
<text transform="matrix(0.9902 0 0 1 113.33 753.40)" font-size="32.71" stroke="#000" stroke-width="0.4" fill="#000">MRI- tumor hemorrhage</text>
<text transform="translate(26.40 1060.64) rotate(-90.00) scale(0.9289 1)" font-size="35.14" stroke="#000" stroke-width="0.4" fill="#000">% mice with</text>
<text transform="translate(66.00 1104.10) rotate(-90.00) scale(0.9348 1)" font-size="35.14" stroke="#000" stroke-width="0.4" fill="#000">hemorrhage by MRI</text>
<defs>
<filter id="sb" x="-5%" y="-5%" width="110%" height="110%"><feGaussianBlur stdDeviation="0.7"/></filter>
<filter id="sb2" x="-10%" y="-10%" width="120%" height="120%"><feGaussianBlur stdDeviation="4"/></filter>
<clipPath id="dc0"><rect x="573.3" y="671.9" width="221.3" height="166.3"/></clipPath>
<clipPath id="dc1"><rect x="803.2" y="671.9" width="221.6" height="166.3"/></clipPath>
<clipPath id="dc2"><rect x="1032.5" y="670.5" width="221.3" height="167.9"/></clipPath>
<clipPath id="dc3"><rect x="1261.8" y="671.9" width="220.7" height="166.5"/></clipPath>
<clipPath id="dc4"><rect x="1490.6" y="671.9" width="221.3" height="166.3"/></clipPath>
<clipPath id="dc5"><rect x="1719.3" y="671.9" width="224.0" height="166.5"/></clipPath>
</defs>
<rect x="573.30" y="671.90" width="221.30" height="166.30" fill="#fbfbfb"/>
<rect x="803.20" y="671.90" width="221.60" height="166.30" fill="#fbfbfb"/>
<rect x="1032.50" y="670.50" width="221.30" height="167.90" fill="#fbfbfb"/>
<rect x="1261.80" y="671.90" width="220.70" height="166.50" fill="#fbfbfb"/>
<rect x="1490.60" y="671.90" width="221.30" height="166.30" fill="#fbfbfb"/>
<rect x="1719.30" y="671.90" width="224.00" height="166.50" fill="#fbfbfb"/>
<g clip-path="url(#dc0)"><g filter="url(#sb)">
<path d="M582.2 756.4C581.2 746.2 582.4 737.0 584.4 728.7C586.4 720.4 589.9 713.2 594.1 706.5C598.2 699.9 602.6 693.2 609.3 688.5C616.0 683.9 623.6 680.9 634.2 678.8C644.9 676.8 665.6 675.2 673.0 676.1C680.4 677.0 676.2 683.5 678.6 684.4C680.9 685.3 681.8 682.5 686.9 681.6C691.9 680.7 701.2 678.8 709.0 678.8C716.9 678.8 725.6 678.8 733.9 681.6C742.3 684.4 751.5 689.5 758.9 695.5C766.3 701.5 773.2 709.3 778.3 717.6C783.3 725.9 787.3 736.5 789.3 745.3C791.4 754.1 791.6 761.9 790.7 770.2C789.8 778.6 786.8 787.8 783.8 795.2C780.8 802.6 776.9 809.7 772.7 814.6C768.6 819.4 763.5 821.0 758.9 824.3C754.3 827.5 749.6 832.1 745.0 833.9C740.4 835.8 735.3 836.3 731.2 835.3C727.0 834.4 724.7 830.0 720.1 828.4C715.5 826.8 710.9 826.1 703.5 825.6C696.1 825.2 685.0 826.1 675.8 825.6C666.6 825.2 657.3 824.7 648.1 822.9C638.9 821.0 628.2 816.9 620.4 814.6C612.5 812.3 606.1 813.2 601.0 809.0C595.9 804.9 593.1 798.4 589.9 789.6C586.8 780.9 583.1 766.6 582.2 756.4Z" fill="#dbc7e1"/>
<path d="M691.0 720.4C692.2 714.4 694.0 708.2 697.9 703.8C701.9 699.4 709.0 695.9 714.6 694.1C720.1 692.2 725.6 691.1 731.2 692.7C736.7 694.3 743.6 698.7 747.8 703.8C751.9 708.9 754.7 716.2 756.1 723.2C757.5 730.1 757.5 738.9 756.1 745.3C754.7 751.8 751.9 757.6 747.8 761.9C743.6 766.3 736.7 770.2 731.2 771.6C725.6 773.0 720.1 772.8 714.6 770.2C709.0 767.7 701.9 761.5 697.9 756.4C694.0 751.3 692.2 745.8 691.0 739.8C689.9 733.8 689.9 726.4 691.0 720.4Z" fill="#ab9ecb"/>
<path d="M627.3 720.4C628.5 719.0 630.8 714.4 634.2 712.1C637.7 709.8 643.9 706.5 648.1 706.5C652.2 706.5 654.6 707.0 659.2 712.1C663.8 717.2 670.7 729.2 675.8 737.0C680.9 744.9 686.2 752.5 689.6 759.2C693.1 765.9 695.4 774.2 696.6 777.2" fill="none" stroke="#f8f5f9" stroke-width="2.20" stroke-linecap="round" stroke-linejoin="round"/>
<path d="M628.7 717.6C629.6 719.5 631.0 725.9 634.2 728.7C637.5 731.5 643.5 733.8 648.1 734.2C652.7 734.7 659.6 731.9 661.9 731.5" fill="none" stroke="#f3eef5" stroke-width="2.50" stroke-linecap="round" stroke-linejoin="round"/>
<path d="M648.1 717.6C649.5 716.5 655.9 718.1 659.2 720.4C662.4 722.7 667.0 729.2 667.5 731.5C667.9 733.8 664.7 734.9 661.9 734.2C659.2 733.5 653.2 730.1 650.9 727.3C648.6 724.5 646.7 718.8 648.1 717.6Z" fill="#ceb9dc"/>
<path d="M675.8 677.5C676.9 678.6 681.8 682.1 682.7 684.4C683.6 686.7 681.6 690.2 681.3 691.3" fill="none" stroke="#fbfbfb" stroke-width="2.50" stroke-linecap="round" stroke-linejoin="round"/>
</g></g>
<g clip-path="url(#dc1)"><g filter="url(#sb)">
<path d="M810.1 761.9C810.1 754.6 809.4 745.3 811.5 737.0C813.6 728.7 817.5 719.5 822.6 712.1C827.7 704.7 834.1 697.1 842.0 692.7C849.8 688.3 860.9 686.9 869.7 685.8C878.4 684.6 888.7 684.6 894.6 685.8C900.5 686.9 902.7 687.8 905.1 692.7C907.5 697.5 908.1 707.5 909.0 714.9C909.9 722.2 910.2 729.2 910.6 737.0C911.1 744.9 911.4 753.2 911.8 761.9C912.1 770.7 913.1 781.8 912.6 789.6C912.0 797.5 911.9 803.9 908.4 809.0C905.0 814.1 898.3 816.9 891.8 820.1C885.4 823.3 876.1 827.0 869.7 828.4C863.2 829.8 858.6 829.8 853.0 828.4C847.5 827.0 842.0 825.2 836.4 820.1C830.9 815.0 824.0 804.4 819.8 797.9C815.7 791.5 813.1 787.3 811.5 781.3C809.9 775.3 810.1 769.3 810.1 761.9Z" fill="#d8c6e0"/>
<path d="M916.7 737.0C916.1 728.2 914.9 714.6 915.4 706.5C915.8 698.5 916.0 692.2 919.5 688.5C923.0 684.8 929.2 684.2 936.1 684.4C943.1 684.6 952.7 686.7 961.1 689.9C969.4 693.2 978.6 697.8 986.0 703.8C993.4 709.8 1000.5 718.1 1005.4 725.9C1010.2 733.8 1013.7 742.5 1015.1 750.9C1016.4 759.2 1015.8 767.9 1013.7 775.8C1011.6 783.6 1006.3 791.9 1002.6 797.9C998.9 803.9 997.1 808.3 991.5 811.8C986.0 815.3 976.8 817.8 969.4 818.7C962.0 819.6 954.6 818.9 947.2 817.3C939.8 815.7 929.4 814.1 925.1 809.0C920.7 803.9 921.9 795.2 920.9 786.9C919.9 778.6 919.7 767.5 919.0 759.2C918.3 750.9 917.3 745.8 916.7 737.0Z" fill="#d8c6e0"/>
<path d="M896.0 739.8C896.1 741.2 893.0 752.9 891.8 756.4C890.7 759.9 889.1 761.9 889.0 760.6C889.0 759.2 890.1 751.6 891.3 748.1C892.4 744.6 895.9 738.4 896.0 739.8Z" fill="#fbfbfb"/>
<path d="M930.6 738.4C931.3 738.4 937.3 745.1 938.9 748.1C940.5 751.1 941.0 756.4 940.3 756.4C939.6 756.4 936.4 751.1 934.7 748.1C933.1 745.1 929.9 738.4 930.6 738.4Z" fill="#fbfbfb"/>
</g>
<ellipse cx="965.2" cy="748.1" rx="16.6" ry="22.2" fill="#a99bc8" filter="url(#sb2)" opacity="0.95"/>
<ellipse cx="966.6" cy="753.6" rx="26.3" ry="33.2" fill="#b6a8d0" filter="url(#sb2)" opacity="0.55"/>
</g>
<g clip-path="url(#dc2)"><g filter="url(#sb)">
<path d="M1034.7 759.2C1034.5 751.8 1034.9 743.0 1037.5 734.2C1040.0 725.5 1045.1 714.4 1049.9 706.5C1054.8 698.7 1060.1 691.8 1066.5 687.2C1073.0 682.5 1080.9 680.5 1088.7 678.8C1096.5 677.2 1106.7 677.0 1113.6 677.5C1120.6 677.9 1126.6 680.1 1130.2 681.6C1133.9 683.1 1133.5 686.8 1135.8 686.6C1138.1 686.4 1138.6 681.8 1144.1 680.2C1149.6 678.7 1160.2 677.7 1169.0 677.5C1177.8 677.2 1187.9 676.8 1196.7 678.8C1205.5 680.9 1214.3 684.4 1221.6 689.9C1229.0 695.5 1236.2 703.8 1241.0 712.1C1245.9 720.4 1248.8 730.1 1250.7 739.8C1252.7 749.5 1253.1 760.6 1252.7 770.2C1252.2 779.9 1250.4 789.2 1248.0 797.9C1245.6 806.7 1242.2 816.3 1238.3 822.9C1234.3 829.4 1230.4 835.1 1224.4 837.3C1218.4 839.5 1209.6 837.6 1202.3 836.2C1194.9 834.7 1187.5 830.4 1180.1 828.4C1172.7 826.4 1166.3 825.2 1157.9 824.3C1149.6 823.3 1138.6 822.2 1130.2 822.9C1121.9 823.6 1115.5 827.0 1108.1 828.4C1100.7 829.8 1092.9 832.6 1085.9 831.2C1079.0 829.8 1072.5 825.6 1066.5 820.1C1060.5 814.6 1054.5 804.9 1049.9 797.9C1045.3 791.0 1041.4 785.0 1038.8 778.6C1036.3 772.1 1034.9 766.6 1034.7 759.2Z" fill="#e1cde5"/>
<path d="M1127.5 728.7C1128.4 720.9 1131.2 710.0 1135.8 703.8C1140.4 697.5 1147.8 693.9 1155.2 691.3C1162.6 688.8 1172.3 688.3 1180.1 688.5C1187.9 688.8 1195.8 690.2 1202.3 692.7C1208.7 695.2 1214.3 698.2 1218.9 703.8C1223.5 709.3 1225.8 718.1 1230.0 725.9C1234.1 733.8 1240.0 743.5 1243.8 750.9C1247.6 758.2 1252.0 762.4 1252.7 770.2C1253.4 778.1 1250.4 789.2 1248.0 797.9C1245.6 806.7 1242.2 816.3 1238.3 822.9C1234.3 829.4 1230.4 835.1 1224.4 837.3C1218.4 839.5 1209.6 839.0 1202.3 836.2C1194.9 833.3 1187.9 826.5 1180.1 820.1C1172.3 813.7 1162.1 805.3 1155.2 797.9C1148.2 790.6 1142.7 783.6 1138.6 775.8C1134.4 767.9 1132.1 758.7 1130.2 750.9C1128.4 743.0 1126.6 736.5 1127.5 728.7Z" fill="#c5b5d8" filter="url(#sb2)"/>
<path d="M1103.1 717.1C1104.2 715.4 1109.6 715.1 1111.4 716.2C1113.3 717.3 1114.7 720.2 1114.2 723.7C1113.6 727.3 1109.7 737.1 1108.1 737.6C1106.5 738.0 1105.6 729.9 1104.8 726.5C1103.9 723.1 1102.0 718.8 1103.1 717.1Z" fill="#fbfbfb"/>
</g></g>
<g clip-path="url(#dc3)"><g filter="url(#sb)">
<path d="M1274.3 759.2C1274.3 751.8 1273.8 743.9 1275.7 737.0C1277.5 730.1 1281.0 723.2 1285.3 717.6C1289.7 712.1 1295.0 707.7 1302.0 703.8C1308.9 699.9 1319.0 695.9 1326.9 694.1C1334.7 692.2 1343.7 691.9 1349.0 692.7C1354.4 693.5 1355.5 699.0 1358.7 698.8C1362.0 698.6 1362.7 693.3 1368.4 691.3C1374.2 689.4 1385.1 687.4 1393.4 687.2C1401.7 686.9 1410.4 687.6 1418.3 689.9C1426.1 692.2 1434.0 695.9 1440.4 701.0C1446.9 706.1 1452.9 713.5 1457.1 720.4C1461.2 727.3 1464.2 736.1 1465.4 742.5C1466.5 749.0 1465.4 753.6 1464.0 759.2C1462.6 764.7 1458.9 769.8 1457.1 775.8C1455.2 781.8 1454.8 788.7 1452.9 795.2C1451.1 801.6 1449.0 810.6 1446.0 814.6C1443.0 818.5 1440.4 818.7 1434.9 818.7C1429.4 818.7 1419.7 816.2 1412.7 814.6C1405.8 812.9 1400.3 808.8 1393.4 809.0C1386.4 809.3 1378.6 815.5 1371.2 815.9C1363.8 816.4 1354.6 813.4 1349.0 811.8C1343.5 810.2 1342.1 804.9 1338.0 806.3C1333.8 807.6 1329.2 816.6 1324.1 820.1C1319.0 823.6 1312.6 827.0 1307.5 827.0C1302.4 827.0 1297.8 824.0 1293.7 820.1C1289.5 816.2 1285.6 809.9 1282.6 803.5C1279.6 797.0 1277.0 788.7 1275.7 781.3C1274.3 773.9 1274.3 766.6 1274.3 759.2Z" fill="#d9b4d6"/>
<path d="M1374.0 775.8C1375.4 770.2 1380.4 763.3 1385.1 756.4C1389.7 749.5 1397.1 741.6 1401.7 734.2C1406.3 726.9 1408.1 714.4 1412.7 712.1C1417.4 709.8 1424.3 715.3 1429.4 720.4C1434.4 725.5 1440.0 734.2 1443.2 742.5C1446.4 750.9 1448.3 761.0 1448.8 770.2C1449.2 779.5 1447.4 790.1 1446.0 797.9C1444.6 805.8 1445.1 814.3 1440.4 817.3C1435.8 820.3 1426.1 818.3 1418.3 815.9C1410.4 813.6 1400.3 807.9 1393.4 803.5C1386.4 799.1 1380.0 794.2 1376.7 789.6C1373.5 785.0 1372.6 781.3 1374.0 775.8Z" fill="#b397c8" filter="url(#sb2)"/>
<path d="M1320.0 721.8C1321.1 718.8 1325.7 719.2 1329.7 719.0C1333.6 718.8 1338.9 721.5 1343.5 720.4C1348.1 719.2 1351.8 714.4 1357.4 712.1C1362.9 709.8 1370.7 707.7 1376.7 706.5C1382.7 705.4 1388.3 704.7 1393.4 705.2C1398.4 705.6 1405.6 706.3 1407.2 709.3C1408.8 712.3 1405.4 719.0 1403.1 723.2C1400.7 727.3 1396.4 729.6 1393.4 734.2C1390.4 738.9 1386.9 745.8 1385.1 750.9C1383.2 755.9 1385.1 763.1 1382.3 764.7C1379.5 766.3 1372.8 759.9 1368.4 760.6C1364.0 761.2 1360.1 768.2 1356.0 768.9C1351.8 769.6 1347.9 767.7 1343.5 764.7C1339.1 761.7 1333.1 755.5 1329.7 750.9C1326.2 746.2 1324.4 741.9 1322.7 737.0C1321.1 732.2 1318.8 724.8 1320.0 721.8Z" fill="#fbfafb"/>
<path d="M1326.9 734.2C1328.3 729.6 1332.9 725.9 1338.0 723.2C1343.0 720.4 1350.9 718.8 1357.4 717.6C1363.8 716.5 1371.7 715.3 1376.7 716.2C1381.8 717.2 1385.5 719.7 1387.8 723.2C1390.1 726.6 1391.1 732.4 1390.6 737.0C1390.1 741.6 1386.9 746.9 1385.1 750.9C1383.2 754.8 1382.7 759.3 1379.5 760.6C1376.3 761.8 1369.8 757.6 1365.7 758.6C1361.5 759.7 1358.7 766.1 1354.6 766.9C1350.4 767.7 1344.9 766.0 1340.7 763.3C1336.6 760.6 1332.0 755.7 1329.7 750.9C1327.4 746.0 1325.5 738.9 1326.9 734.2Z" fill="#a98dc2"/>
<path d="M1356.0 769.7C1356.9 767.6 1364.0 762.7 1368.4 761.9C1372.8 761.2 1380.9 763.5 1382.3 765.3C1383.7 767.0 1380.0 770.9 1376.7 772.5C1373.5 774.0 1366.4 775.1 1362.9 774.7C1359.4 774.2 1355.0 771.8 1356.0 769.7Z" fill="#fbfafb"/>
<path d="M1288.1 807.6C1292.7 807.5 1307.5 806.8 1315.8 806.8C1324.1 806.8 1328.7 808.7 1338.0 807.6C1347.2 806.6 1363.4 802.0 1371.2 800.7C1379.1 799.5 1382.7 800.2 1385.1 800.2" fill="none" stroke="#f6eef5" stroke-width="1.20" stroke-linecap="round" stroke-linejoin="round"/>
</g></g>
<g clip-path="url(#dc4)"><g filter="url(#sb)">
<path d="M1506.6 756.4C1505.5 745.8 1501.3 731.9 1502.5 723.2C1503.6 714.4 1508.5 709.8 1513.5 703.8C1518.6 697.8 1526.5 690.8 1532.9 687.2C1539.4 683.5 1545.9 682.8 1552.3 681.6C1558.8 680.5 1565.7 679.3 1571.7 680.2C1577.7 681.2 1582.8 686.0 1588.3 687.2C1593.9 688.3 1600.8 688.5 1604.9 687.2C1609.1 685.8 1608.6 680.5 1613.3 678.8C1617.9 677.2 1625.7 677.2 1632.6 677.5C1639.6 677.7 1648.3 678.8 1654.8 680.2C1661.3 681.6 1666.8 683.7 1671.4 685.8C1676.0 687.8 1678.3 689.2 1682.5 692.7C1686.6 696.2 1692.6 700.5 1696.3 706.5C1700.0 712.5 1702.8 720.9 1704.6 728.7C1706.5 736.5 1707.4 744.9 1707.4 753.6C1707.4 762.4 1706.5 773.0 1704.6 781.3C1702.8 789.6 1700.0 796.6 1696.3 803.5C1692.6 810.4 1687.6 817.8 1682.5 822.9C1677.4 827.9 1672.3 832.6 1665.9 833.9C1659.4 835.3 1651.1 833.0 1643.7 831.2C1636.3 829.3 1628.5 823.3 1621.6 822.9C1614.6 822.4 1608.6 827.5 1602.2 828.4C1595.7 829.3 1589.2 828.9 1582.8 828.4C1576.3 827.9 1570.3 824.7 1563.4 825.6C1556.5 826.6 1547.7 833.5 1541.2 833.9C1534.8 834.4 1528.8 832.1 1524.6 828.4C1520.5 824.7 1518.9 818.7 1516.3 811.8C1513.8 804.9 1511.0 796.1 1509.4 786.9C1507.8 777.6 1507.8 767.0 1506.6 756.4Z" fill="#e6d6e9"/>
<path d="M1596.6 764.7C1597.1 758.2 1599.4 750.9 1602.2 745.3C1604.9 739.8 1609.1 735.2 1613.3 731.5C1617.4 727.8 1622.0 724.3 1627.1 723.2C1632.2 722.0 1638.2 722.7 1643.7 724.5C1649.3 726.4 1655.7 729.9 1660.3 734.2C1665.0 738.6 1668.6 744.9 1671.4 750.9C1674.2 756.9 1676.5 764.2 1677.0 770.2C1677.4 776.2 1676.5 782.2 1674.2 786.9C1671.9 791.5 1668.2 795.6 1663.1 797.9C1658.0 800.2 1649.7 799.8 1643.7 800.7C1637.7 801.6 1632.6 803.9 1627.1 803.5C1621.6 803.0 1615.1 801.2 1610.5 797.9C1605.9 794.7 1601.7 789.6 1599.4 784.1C1597.1 778.6 1596.2 771.2 1596.6 764.7Z" fill="#b8a8d0"/>
<path d="M1537.1 724.5C1538.2 722.9 1541.0 717.9 1544.0 714.9C1547.0 711.9 1549.5 708.9 1555.1 706.5C1560.6 704.2 1569.4 702.4 1577.2 701.0C1585.1 699.6 1593.9 699.2 1602.2 698.2C1610.5 697.3 1619.3 695.2 1627.1 695.5C1634.9 695.7 1642.8 697.3 1649.3 699.6C1655.7 701.9 1661.3 704.9 1665.9 709.3C1670.5 713.7 1674.0 719.5 1677.0 725.9C1680.0 732.4 1682.7 744.4 1683.9 748.1" fill="none" stroke="#f8f4f9" stroke-width="2.50" stroke-linecap="round" stroke-linejoin="round"/>
<path d="M1538.5 720.4C1538.9 722.7 1538.9 731.2 1541.2 734.2C1543.5 737.2 1550.5 737.7 1552.3 738.4" fill="none" stroke="#fbfbfb" stroke-width="3.00" stroke-linecap="round" stroke-linejoin="round"/>
<path d="M1580.0 789.6C1580.9 792.9 1583.7 803.3 1585.6 809.0C1587.4 814.8 1590.2 821.7 1591.1 824.3" fill="none" stroke="#fbfbfb" stroke-width="1.60" stroke-linecap="round" stroke-linejoin="round"/>
<path d="M1555.1 714.9C1556.0 712.8 1562.0 710.5 1566.2 710.7C1570.3 710.9 1579.1 713.9 1580.0 716.2C1580.9 718.5 1574.9 723.4 1571.7 724.5C1568.5 725.7 1563.4 724.8 1560.6 723.2C1557.9 721.5 1554.2 716.9 1555.1 714.9Z" fill="#d9c6e0"/>
</g></g>
<g clip-path="url(#dc5)"><g filter="url(#sb)">
<path d="M1726.8 775.8C1727.0 768.9 1726.8 758.7 1729.6 750.9C1732.3 743.0 1737.9 734.7 1743.4 728.7C1749.0 722.7 1756.3 718.1 1762.8 714.9C1769.3 711.6 1776.7 709.8 1782.2 709.3C1787.7 708.9 1791.9 708.9 1796.0 712.1C1800.2 715.3 1801.1 721.8 1807.1 728.7C1813.1 735.6 1821.0 748.1 1832.1 753.6C1843.1 759.2 1861.6 761.5 1873.6 761.9C1885.6 762.4 1898.3 759.2 1904.1 756.4C1909.8 753.6 1906.4 748.6 1908.2 745.3C1910.1 742.1 1912.1 737.5 1915.1 737.0C1918.1 736.5 1923.7 737.9 1926.2 742.5C1928.8 747.2 1930.4 756.4 1930.4 764.7C1930.4 773.0 1928.8 784.1 1926.2 792.4C1923.7 800.7 1920.7 809.0 1915.1 814.6C1909.6 820.1 1900.4 824.3 1893.0 825.6C1885.6 827.0 1877.3 822.4 1870.8 822.9C1864.4 823.3 1860.7 827.7 1854.2 828.4C1847.7 829.1 1839.0 827.9 1832.1 827.0C1825.1 826.1 1820.5 822.2 1812.7 822.9C1804.8 823.6 1792.8 829.3 1785.0 831.2C1777.1 833.0 1771.6 834.9 1765.6 833.9C1759.6 833.0 1754.0 829.8 1749.0 825.6C1743.9 821.5 1738.6 814.6 1735.1 809.0C1731.7 803.5 1729.6 797.9 1728.2 792.4C1726.8 786.9 1726.6 782.7 1726.8 775.8Z" fill="#dcbbd9"/>
<path d="M1798.8 714.9C1799.3 708.4 1801.1 702.9 1804.4 698.2C1807.6 693.6 1812.7 689.7 1818.2 687.2C1823.7 684.6 1830.7 682.5 1837.6 683.0C1844.5 683.5 1852.8 686.5 1859.7 689.9C1866.7 693.4 1873.6 698.7 1879.1 703.8C1884.7 708.9 1888.8 714.9 1893.0 720.4C1897.1 725.9 1901.8 731.0 1904.1 737.0C1906.4 743.0 1907.1 750.4 1906.8 756.4C1906.6 762.4 1905.9 768.9 1902.7 773.0C1899.4 777.2 1893.2 779.7 1887.4 781.3C1881.7 782.9 1874.5 782.9 1868.1 782.7C1861.6 782.5 1855.1 782.0 1848.7 779.9C1842.2 777.9 1835.3 774.2 1829.3 770.2C1823.3 766.3 1817.3 761.9 1812.7 756.4C1808.0 750.9 1803.9 743.9 1801.6 737.0C1799.3 730.1 1798.4 721.3 1798.8 714.9Z" fill="#a289bd"/>
<path d="M1749.0 756.4C1750.8 754.6 1755.9 747.2 1760.0 745.3C1764.2 743.5 1770.2 743.9 1773.9 745.3C1777.6 746.7 1778.0 750.4 1782.2 753.6C1786.4 756.9 1792.4 761.0 1798.8 764.7C1805.3 768.4 1817.3 773.9 1821.0 775.8" fill="none" stroke="#c9a3c9" stroke-width="1.40" stroke-linecap="round" stroke-linejoin="round"/>
<ellipse cx="1864.1" cy="762.0" rx="1.3" ry="1.0" fill="#f3e8ee"/>
<ellipse cx="1817.5" cy="741.6" rx="1.0" ry="0.9" fill="#d9685c"/>
<ellipse cx="1877.1" cy="718.5" rx="0.6" ry="0.9" fill="#f3e8ee"/>
<ellipse cx="1886.8" cy="722.2" rx="1.4" ry="1.1" fill="#d9685c"/>
<ellipse cx="1856.4" cy="757.2" rx="1.3" ry="1.0" fill="#d9685c"/>
<ellipse cx="1834.4" cy="733.6" rx="0.6" ry="0.5" fill="#d9685c"/>
<ellipse cx="1834.7" cy="751.6" rx="1.1" ry="0.7" fill="#d9685c"/>
<ellipse cx="1835.5" cy="767.8" rx="0.8" ry="0.8" fill="#d9685c"/>
<ellipse cx="1871.5" cy="710.8" rx="0.5" ry="1.0" fill="#f3e8ee"/>
<ellipse cx="1879.1" cy="733.9" rx="0.5" ry="0.5" fill="#d9685c"/>
<ellipse cx="1825.1" cy="763.1" rx="1.3" ry="0.7" fill="#f3e8ee"/>
<ellipse cx="1839.6" cy="745.8" rx="0.6" ry="1.0" fill="#f3e8ee"/>
<ellipse cx="1815.5" cy="732.0" rx="1.3" ry="0.7" fill="#d9685c"/>
<ellipse cx="1891.6" cy="747.3" rx="0.8" ry="0.6" fill="#d9685c"/>
<ellipse cx="1821.9" cy="710.2" rx="1.0" ry="0.8" fill="#f3e8ee"/>
<ellipse cx="1828.8" cy="751.0" rx="0.9" ry="0.8" fill="#f3e8ee"/>
<ellipse cx="1883.8" cy="716.3" rx="1.4" ry="0.9" fill="#f3e8ee"/>
<ellipse cx="1879.1" cy="714.5" rx="0.6" ry="1.1" fill="#d9685c"/>
<ellipse cx="1834.1" cy="740.4" rx="1.3" ry="1.2" fill="#f3e8ee"/>
<ellipse cx="1848.6" cy="743.0" rx="0.9" ry="0.7" fill="#f3e8ee"/>
<ellipse cx="1844.0" cy="717.5" rx="1.4" ry="1.2" fill="#d9685c"/>
<ellipse cx="1864.4" cy="743.9" rx="0.6" ry="0.7" fill="#d9685c"/>
<ellipse cx="1840.1" cy="765.3" rx="1.1" ry="1.0" fill="#f3e8ee"/>
<ellipse cx="1876.6" cy="733.7" rx="0.8" ry="0.8" fill="#f3e8ee"/>
<ellipse cx="1877.5" cy="758.2" rx="1.4" ry="1.0" fill="#d9685c"/>
<ellipse cx="1860.2" cy="707.4" rx="0.7" ry="1.0" fill="#d9685c"/>
<ellipse cx="1849.4" cy="767.6" rx="1.2" ry="0.7" fill="#d9685c"/>
<ellipse cx="1866.0" cy="761.7" rx="0.8" ry="1.1" fill="#f3e8ee"/>
<ellipse cx="1886.6" cy="758.0" rx="1.4" ry="0.9" fill="#f3e8ee"/>
<ellipse cx="1855.5" cy="719.0" rx="1.3" ry="0.8" fill="#f3e8ee"/>
<ellipse cx="1870.3" cy="760.4" rx="0.7" ry="1.0" fill="#f3e8ee"/>
<ellipse cx="1860.2" cy="756.3" rx="1.1" ry="1.0" fill="#d9685c"/>
<ellipse cx="1865.3" cy="760.4" rx="0.6" ry="0.8" fill="#d9685c"/>
<ellipse cx="1866.5" cy="722.9" rx="1.1" ry="0.5" fill="#d9685c"/>
<ellipse cx="1850.2" cy="723.5" rx="0.6" ry="0.7" fill="#d9685c"/>
<ellipse cx="1823.7" cy="721.0" rx="0.9" ry="0.8" fill="#d9685c"/>
<ellipse cx="1863.0" cy="750.7" rx="1.3" ry="0.5" fill="#d9685c"/>
<ellipse cx="1844.2" cy="727.4" rx="0.6" ry="1.1" fill="#d9685c"/>
<path d="M1843.1 775.8C1842.7 774.6 1848.2 771.9 1851.4 771.6C1854.7 771.4 1862.1 773.2 1862.5 774.4C1863.0 775.6 1857.4 778.3 1854.2 778.6C1851.0 778.8 1843.6 776.9 1843.1 775.8Z" fill="#d9685c"/>
<path d="M1881.9 757.8C1882.4 757.3 1890.0 759.4 1893.0 760.6C1896.0 761.7 1900.4 764.2 1899.9 764.7C1899.4 765.2 1893.2 764.5 1890.2 763.3C1887.2 762.2 1881.4 758.2 1881.9 757.8Z" fill="#f6eef2"/>
</g></g>
<rect x="573.30" y="671.90" width="221.30" height="166.30" fill="#fff" filter="url(#tn)" opacity="0.35" clip-path="url(#dc0)"/>
<rect x="573.30" y="671.90" width="221.30" height="166.30" fill="none" stroke="#5a5a5a" stroke-width="0.90"/>
<rect x="803.20" y="671.90" width="221.60" height="166.30" fill="#fff" filter="url(#tn)" opacity="0.35" clip-path="url(#dc1)"/>
<rect x="803.20" y="671.90" width="221.60" height="166.30" fill="none" stroke="#5a5a5a" stroke-width="0.90"/>
<rect x="1032.50" y="670.50" width="221.30" height="167.90" fill="#fff" filter="url(#tn)" opacity="0.35" clip-path="url(#dc2)"/>
<rect x="1032.50" y="670.50" width="221.30" height="167.90" fill="none" stroke="#5a5a5a" stroke-width="0.90"/>
<rect x="1261.80" y="671.90" width="220.70" height="166.50" fill="#fff" filter="url(#tn)" opacity="0.35" clip-path="url(#dc3)"/>
<rect x="1261.80" y="671.90" width="220.70" height="166.50" fill="none" stroke="#5a5a5a" stroke-width="0.90"/>
<rect x="1490.60" y="671.90" width="221.30" height="166.30" fill="#fff" filter="url(#tn)" opacity="0.35" clip-path="url(#dc4)"/>
<rect x="1490.60" y="671.90" width="221.30" height="166.30" fill="none" stroke="#5a5a5a" stroke-width="0.90"/>
<rect x="1719.30" y="671.90" width="224.00" height="166.50" fill="#fff" filter="url(#tn)" opacity="0.35" clip-path="url(#dc5)"/>
<rect x="1719.30" y="671.90" width="224.00" height="166.50" fill="none" stroke="#5a5a5a" stroke-width="0.90"/>
<line x1="1032.00" y1="670.30" x2="1254.00" y2="670.30" stroke="#555" stroke-width="1.40"/>
<rect x="731.78" y="730.13" width="10.43" height="11.82" fill="none" stroke="#000" stroke-width="1.60"/>
<rect x="961.66" y="739.00" width="10.43" height="12.65" fill="none" stroke="#000" stroke-width="1.60"/>
<rect x="1191.78" y="730.13" width="10.43" height="11.82" fill="none" stroke="#000" stroke-width="1.60"/>
<rect x="1416.95" y="760.60" width="10.99" height="12.37" fill="none" stroke="#000" stroke-width="1.60"/>
<rect x="1650.41" y="740.93" width="10.43" height="12.09" fill="none" stroke="#000" stroke-width="1.60"/>
<rect x="1881.67" y="729.30" width="10.43" height="11.82" fill="none" stroke="#000" stroke-width="1.60"/>
<rect x="1906.80" y="822.90" width="27.20" height="4.10" fill="#000"/>
<text transform="matrix(1.1955 0 0 1 522.01 660.80)" font-size="45.71" font-weight="bold" fill="#231f20">d</text>
<text transform="matrix(0.9826 0 0 1 604.05 659.30)" font-size="35.14" stroke="#231f20" stroke-width="0.4" fill="#231f20">F1-N546K</text>
<text transform="matrix(0.9821 0 0 1 842.95 620.30)" font-size="35.14" stroke="#231f20" stroke-width="0.4" fill="#231f20">F1-N546K +</text>
<text transform="matrix(0.9647 0 0 1 843.00 659.30)" font-size="35.14" stroke="#231f20" stroke-width="0.4" fill="#231f20">PTPN11</text>
<text transform="matrix(0.9691 0 0 1 1061.49 656.40)" font-size="35.14" stroke="#231f20" stroke-width="0.4" fill="#231f20">F1::TACC1</text>
<text transform="matrix(0.9922 0 0 1 1315.52 656.40)" font-size="35.14" stroke="#231f20" stroke-width="0.4" fill="#231f20">F1-ITD</text>
<text transform="matrix(0.9649 0 0 1 1555.83 657.00)" font-size="35.14" stroke="#231f20" stroke-width="0.4" fill="#231f20">V600E</text>
<text transform="matrix(0.9972 0 0 1 1793.31 659.30)" font-size="35.14" stroke="#231f20" stroke-width="0.4" fill="#231f20">K::B</text>
<text transform="matrix(0.9797 0 0 1 490.46 991.20)" font-size="33.86" stroke="#000" stroke-width="0.4" fill="#000">H&amp;E</text>
<text transform="matrix(0.9304 0 0 1 483.30 1251.30)" font-size="33.86" stroke="#000" stroke-width="0.4" fill="#000">Ki-67</text>
<defs>
<filter id="tb0" x="0" y="0" width="100%" height="100%"><feGaussianBlur stdDeviation="0.55"/></filter>
<filter id="tb" x="0" y="0" width="100%" height="100%"><feGaussianBlur stdDeviation="0.9"/></filter>
<filter id="tn" x="0" y="0" width="100%" height="100%" color-interpolation-filters="sRGB"><feTurbulence type="fractalNoise" baseFrequency="0.35" numOctaves="2" seed="7"/><feColorMatrix type="matrix" values="0 0 0 0 1  0 0 0 0 1  0 0 0 0 1  0 0 0 1.4 -0.66"/></filter>
<filter id="tb2" x="-30%" y="-30%" width="160%" height="160%"><feGaussianBlur stdDeviation="3"/></filter>
<filter id="tb3" x="-50%" y="-50%" width="200%" height="200%"><feGaussianBlur stdDeviation="8"/></filter>
<clipPath id="hc0"><rect x="573.4" y="847.0" width="221.9" height="255.4"/></clipPath>
<clipPath id="kc0"><rect x="573.4" y="1111.2" width="221.9" height="255.6"/></clipPath>
<clipPath id="hc1"><rect x="802.6" y="847.0" width="221.9" height="255.4"/></clipPath>
<clipPath id="kc1"><rect x="802.6" y="1111.2" width="221.9" height="255.6"/></clipPath>
<clipPath id="hc2"><rect x="1032.2" y="847.0" width="221.9" height="255.4"/></clipPath>
<clipPath id="kc2"><rect x="1032.2" y="1111.2" width="221.9" height="255.6"/></clipPath>
<clipPath id="hc3"><rect x="1261.6" y="847.0" width="221.9" height="255.4"/></clipPath>
<clipPath id="kc3"><rect x="1261.6" y="1111.2" width="221.9" height="255.6"/></clipPath>
<clipPath id="hc4"><rect x="1490.6" y="847.0" width="221.9" height="255.4"/></clipPath>
<clipPath id="kc4"><rect x="1490.6" y="1111.2" width="221.9" height="255.6"/></clipPath>
<clipPath id="hc5"><rect x="1719.8" y="847.0" width="221.9" height="255.4"/></clipPath>
<clipPath id="kc5"><rect x="1719.8" y="1111.2" width="221.9" height="255.6"/></clipPath>
</defs>
<g clip-path="url(#hc0)">
<rect x="573.40" y="847.00" width="221.90" height="255.40" fill="#c8b6d6"/>
<g transform="translate(573.4 847.0)" filter="url(#tb)">
<ellipse cx="210" cy="86" rx="35" ry="17" fill="#e2b6d8" opacity="0.35" filter="url(#tb3)"/>
<ellipse cx="40" cy="48" rx="32" ry="29" fill="#e2b6d8" opacity="0.35" filter="url(#tb3)"/>
<ellipse cx="47" cy="244" rx="38" ry="27" fill="#b7a6d6" opacity="0.35" filter="url(#tb3)"/>
<ellipse cx="36" cy="166" rx="18" ry="20" fill="#e2b6d8" opacity="0.35" filter="url(#tb3)"/>
<ellipse cx="172" cy="145" rx="37" ry="29" fill="#e2b6d8" opacity="0.35" filter="url(#tb3)"/>
<ellipse cx="53" cy="114" rx="38" ry="16" fill="#b7a6d6" opacity="0.35" filter="url(#tb3)"/>
<ellipse cx="123" cy="247" rx="34" ry="26" fill="#b7a6d6" opacity="0.35" filter="url(#tb3)"/>
<ellipse cx="113" cy="74" rx="30" ry="19" fill="#b7a6d6" opacity="0.35" filter="url(#tb3)"/>
<ellipse cx="190" cy="93" rx="35" ry="27" fill="#e2b6d8" opacity="0.35" filter="url(#tb3)"/>
<ellipse cx="198" cy="166" rx="37" ry="29" fill="#e2b6d8" opacity="0.35" filter="url(#tb3)"/>
<g transform="scale(0.5)">
<path d="M1 1l-1 1m17 4l-2 2m21 0l-2 2m43-8l-3 1m11-2l1 2m7 8l-1 2m26-2l2 2m6-13l-2 0m7 14l-2 1m6-11l2 2m31 4l-1 2m29-3l-1 3m8-12l1 0m16 0l-2 1m29 2l-3 1m22 0l-1 1m22 2l1 1m13-5l2 0m19 0l1 3m9 3l0 3m59-8l0 2m21 5l3 1m22-8l1 3m4 16l2 1m-28 1l2 1m-20-3l2 1m-13 0l1 0m-34 0l1 1m-11-10l2 2m-24 0l1 1m-7 11l-1 2m-10-12l2 2m-12 1l-2 1m-29-8l1 2m-16-2l0 3m-1 12l0 3m-14-13l-1 3m-12 2l1 2m-14-4l-3 1m-54-5l-2 2m-10 4l2 2m-52 5l-1 0m-5-13l-2 1m-10 11l1 0m-14-4l-1 0m-6-11l1 2m-13 5l0 1m-29 13l-1 3m14-3l1 1m8 7l1 1m26-8l2 0m24 7l0 1m13-7l2 2m30-7l1 1m20 6l1 2m27-11l0 1m27 6l-2 2m10-8l-2 1m53 9l-1 3m23-12l-3 0m9 12l1 2m7-15l0 2m27 6l1 1m30 3l-1 1m3-13l-2 1m68-2l-1 0m-7 31l-3 0m-32 0l3 1m-52-4l-3 0m-8-8l1 2m-17-5l2 2m-77 6l1 1m-11 3l1 2m-23-13l3 1m-25 5l-2 2m-16-5l1 1m-37-3l2 1m-6 6l-1 2m-15-8l0 2m-11 6l3 1m-13-4l-2 0m-13-3l-2 1m-48-3l1 1m-14-2l-3 1m13 26l-1 2m11-3l2 2m14-8l-1 1m26-2l-1 1m12 2l2 0m10-5l0 3m30-1l-1 2m16 3l0 1m41-8l0 2m12 6l2 0m40-5l-1 1m17-1l3 1m9 2l2 2m10-4l-1 2m37 0l-1 0m19-11l1 3m9 6l0 1m10-8l-1 1m20-1l0 2m46 1l-2 2m37-1l0 2m-1 13l0 2m-25 3l-1 3m-17-12l3 1m-22 9l-2 0m-39-5l-2 2m-21-2l2 1m-15 2l2 2m-53-5l-2 1m-9 3l0 3m-32-4l1 1m-14-5l1 2m-21 8l0 1m-9-16l2 3m-13 4l-2 2m-36-6l-2 1m-12 3l-1 1m-10-6l-1 2m-26 11l1 0m-15-12l-3 0m-32 7l0 1m-16-6l2 2m4 13l1 0m19 7l2 1m84-7l1 2m3 9l1 1m9-8l2 1m24 2l-2 1m13-12l0 2m11 11l-1 2m28-12l-2 0m67-2l-2 1m31 13l2 2m24-9l-1 1m29 3l-2 2m31-5l-1 2m8-10l1 2m22 1l-1 3m-19 10l0 3m-17 0l2 2m-6 8l1 2m-6-16l-1 3m-25 7l2 2m-11-6l1 1m-12-1l-1 1m-9 7l-1 1m-37-15l0 2m-37 9l-2 1m-8-11l0 2m-10 11l1 0m-6-15l0 3m-6 12l0 2m-26-7l0 2m-25 3l2 1m-6-12l-2 1m-41 7l0 1m-15 3l-3 0m-3-11l-1 1m-28-3l1 2m-7 9l3 1m-9-12l-1 2m-14 6l-2 1m-11 0l0 2m-11-10l-1 2m0 11l1 3m39 8l2 2m17-9l-2 1m18 5l0 1m19-2l3 1m36-9l0 3m7 10l-1 2m12-4l2 0m74-4l-1 1m28-9l3 0m7 8l-1 2m32-2l0 1m42 3l1 0m9-12l0 3m38 3l0 2m44-5l1 3m10 11l2 1m-19-2l-2 1m-3 8l0 2m-44 3l-1 2m-4-15l3 1m-13 3l-2 1m-28 4l-1 0m-48 5l1 0m-23-12l2 1m-17 1l-1 1m-8 7l2 0m-11-9l-2 2m-63 1l-2 1m-11 6l2 1m-26-8l1 3m-30 4l2 1m-28-2l0 3m-10-16l-1 1m-24 7l1 0m-18-1l-1 1m10 17l-1 3m10-10l0 3m12 2l1 1m18 2l2 1m12-10l-1 2m47 7l-1 3m8-11l0 3m56-4l1 1m19 13l1 1m3-14l-1 1m22 10l1 0m63-2l1 1m20-12l0 2m36 10l0 1m24 0l-1 1m7-14l-1 2m10 2l1 1m27 3l-2 1m9-9l2 1m-8 18l3 0m-16-3l0 2m-13-1l0 1m-12 4l-1 0m-23 2l0 1m-80-6l-1 0m-54 7l3 1m-16-3l0 3m-56-1l-2 1m-47 1l-2 1m-16-5l-1 1m-11-6l1 2m-29 1l1 2m-14-7l-1 0m-31 22l-1 1m21-6l0 2m15-4l-1 2m36 1l2 1m37 8l2 1m19-3l-1 1m21 3l-2 1m18-9l1 1m17-5l-2 1m26 4l-2 2m13 0l0 2m13-7l2 2m25 0l-1 1m26-5l3 1m33-2l2 1m37 4l-2 0m14-6l-1 0m20 11l3 0m38 5l-2 1m-10 2l0 2m-18 8l1 1m-44-6l3 1m-13 4l2 1m-10-9l3 1m-31 7l1 2m-24-4l3 0m-14 1l1 3m-12-13l-1 0m-28 10l0 2m-64-11l-1 1m-15 1l0 3m-34 7l0 2m-5-9l-2 0m-13 0l2 0m-20-4l-2 2m-30-3l-1 1m-55 1l2 0m-2 23l2 1m16-4l-1 2m8-11l-2 1m30 0l1 2m19 6l2 2m9-7l0 1m10-4l1 1m10 2l1 0m32 0l-2 2m15-4l0 1m6 9l2 0m12-3l-1 2m14-5l-1 1m38-4l-2 1m16 9l0 2m14-7l0 2m24 1l2 1m13-6l-1 1m11-2l1 1m42-3l0 1m43 0l-3 1m13-1l3 1m17 6l1 2m10-13l2 1m11-1l-3 1m-3 26l-1 3m-7-10l1 2m-12 3l1 1m-12-5l3 0m-21-4l0 1m-7 12l2 0m-63-9l-2 1m-11-4l1 1m-15 0l0 2m-35 8l-1 2m-9-9l2 1m-23 4l1 3m-10-1l-1 1m-8-9l2 0m-21 4l-1 1m-28-2l2 0m-17 1l0 2m-27-9l1 3m-34-5l1 1m-11 5l-1 1m-9-7l-2 1m-40 3l-1 1m-9 23l-1 1m30-8l2 1m34-5l-2 1m16 9l2 1m23 0l1 2m2-14l0 2m16 8l1 3m8-8l1 2m49-4l1 1m11-1l-1 2m12 3l1 1m16 3l2 2m11-2l-2 2m25-11l2 1m17 0l-1 1m21-3l2 2m4 10l2 1m10-8l-1 2m16-1l-2 2m16 5l1 0m21 0l-1 0m8-7l1 0m11 2l2 1m8-7l1 2m12-3l1 0m15 2l2 3m0 21l0 1m-69-1l1 1m-42-11l-1 0m-12 5l-2 2m-26-2l-2 1m-17 0l2 3m-57-10l1 1m-19-2l-2 2m-15 1l-3 0m-1 10l2 1m-48-10l-2 1m-36 1l-1 2m-10-6l0 3m-17 9l-2 2m-18-16l3 0m-12 6l3 1m-13-6l1 1m-15 2l1 3m15 10l3 0m7 13l2 0m4-14l-1 1m33 1l0 2m18 3l2 3m12 2l1 2m104-2l2 2m10-5l0 2m20-10l-1 0m8 11l-3 0m22-6l1 2m26-8l1 1m47 13l2 2m-1-12l2 1m11 8l-2 0m22-2l-1 1m25-11l-1 1m14 7l0 2m9-10l1 1m-6 17l1 2m-39 1l-3 1m-15-3l2 2m-31-4l0 2m-5 8l-3 1m-2-11l-2 2m-17-3l3 2m-13-5l-2 2m-10 15l2 0m-14-6l-2 1m-12-5l0 1m-11 5l0 1m-48-11l1 1m-11 7l1 0m-17-2l0 1m-21 4l3 1m-4-11l-2 0m-8 0l-3 2m-15-5l-1 0m-7 9l-1 0m-11 0l1 1m-13-7l-1 2m-12-5l-3 0m-10 4l-2 1m-23 10l-1 1m-11-6l1 0m-7-10l1 1m-15-1l3 1m45 17l-1 0m20 0l2 2m15 3l-1 1m17 7l-1 2m32-17l-2 0m29 6l-1 1m14 6l-2 0m5-11l-1 0m18 13l-3 1m7-10l-2 0m25 7l2 1m11-6l3 0m24-4l1 1m28 2l1 2m10-8l2 2m54 2l2 2m39-6l-2 2m40 5l0 3m-13 17l2 0m-12-7l1 0m-21 9l2 1m-20-5l0 1m-27 1l1 2m-16-10l1 1m-11 4l1 1m-36-6l-1 1m-15 10l1 0m-27-11l0 2m-16-3l1 2m-3 10l3 0m-24-11l1 1m-76 1l-2 0m-15-2l-2 1m-78 3l-1 3m-11-5l-3 0m-8 8l3 0m-16 14l1 2m68-5l2 1m10-1l-1 2m31-8l-1 2m32 6l-1 0m44-2l-1 3m15-4l-1 1m12-8l0 2m12 2l1 2m14-1l1 0m13 5l-1 2m18 2l2 1m14-14l1 2m28 4l-2 2m10 0l2 1m9-7l2 1m42 1l-1 1m11 3l-2 0m12-1l1 2m10 2l2 1m23-10l1 2m-45 22l2 2m-12-2l1 2m-21-8l0 2m-41 4l2 1m-36-8l2 2m-14 5l0 1m-11-9l0 2m-46-1l1 2m-36 9l3 0m-13-11l-3 0m-25 0l2 1m-21 2l-2 2m-27 4l2 2m-31-10l-1 3m-13 1l0 2m-12-2l1 1m-34 4l1 1m-5 7l-2 1m16 7l2 0m4-12l-1 1m17 1l2 0m32 8l2 2m14-7l1 3m30-2l3 1m57-1l1 3m25 0l-2 3m6-13l-3 1m18 2l3 1m21 1l1 2m11-9l0 1m20 2l-1 1m23 3l2 3m79 1l1 1m41-5l-2 1m17-6l1 2m-4 17l0 3m-12-1l1 3m-51-9l-3 1m-16 1l-1 3m-17-4l-2 1m-18-1l3 1m-18 7l2 2m-21 3l1 2m-20-13l1 2m-23 5l-1 2m-16-10l-2 0m-14 9l1 2m-13-8l1 3m-13-8l3 0m-19 9l1 3m-17-5l-1 2m-24-5l0 3m-13-3l1 1m-15-6l2 1m-1 10l-2 2m-21-3l-1 3m-21-5l-2 1m-37-1l-1 2m-21 3l0 2m3 16l1 0m22-3l3 2m2-11l3 0m22 5l0 2m28 4l-1 2m12-6l-2 0m15 3l0 2m10-15l-3 1m25 13l0 3m2-17l1 0m10 8l-2 1m23 3l1 2m8-9l1 1m13 2l1 0m9-4l0 2m12 5l1 2m46-10l0 1m16 8l2 0m10-4l0 2m12 3l1 1m55-10l2 1m6 9l1 1m8-13l0 2m24 9l2 2m26-10l2 1m9 0l2 2m-94 17l2 1m-14-10l-1 2m-11 9l1 0m-36-1l-2 2m-15 0l-1 2m-11-9l-2 0m-29 0l2 1m-25 8l0 2m-23-17l-1 3m-32 0l0 3m-3 8l-2 1m-13-5l-2 0m-24 0l0 2m-12-5l2 1m-9 7l-2 0m-26-11l-1 1m-3 10l-3 1m-6-7l-2 0m-20 4l-1 1m-12-1l0 1m-13-3l2 2m19 17l0 1m52 1l-2 0m19-6l-2 1m27-2l-1 0m12-6l-3 1m21 3l-2 2m48 6l1 3m92-5l1 3m11-6l1 2m10-5l0 2m15 2l1 1m50-4l-1 1m21-1l-2 0m30-5l-2 0m14 2l0 1m7 26l0 1m-4-15l0 2m-21 9l-1 2m-11-2l1 0m-5-12l2 2m-9 8l0 1m-10-8l-1 2m-11 4l0 3m-34-9l0 1m-16 6l2 2m-21-7l-1 3m-71 4l3 0m-25-5l1 1m-23 2l-1 2m-7-10l-3 1m-10-3l0 1m-17 9l-1 3m-39-10l-1 3m-54-3l0 2m-45-6l2 2m-8 29l2 0m11-9l-2 1m19-3l0 1m12 11l-2 1m23-13l1 1m4 9l1 2m6-11l1 3m18 8l-3 1m6-13l1 2m42 9l3 2m23-11l3 0m39 1l0 1m20 5l-1 2m42-8l-2 2m29-3l1 2m15 1l1 3m21-11l-1 1m16 1l-2 2m40 0l-1 1m41-4l1 2m-1 14l1 1m-16 6l0 1m-62-5l-1 2m-9 9l-1 0m-10-8l3 1m-18 0l2 1m-34 3l2 1m-31 0l0 1m-13-12l2 0m-9 10l2 2m-14-6l1 1m-12 4l1 2m-10-5l-2 1m-15 2l0 1m-3-14l1 2m-15 1l-1 2m-16-2l2 1m-8 8l1 1m-23 0l1 1m-33-4l-1 1m-55-3l0 2m-18 2l-2 1m-10-3l0 3" stroke="#8379b0" stroke-width="9.2" stroke-linecap="round" fill="none"/>
<path d="M46 3l2 1m9 2l-1 1m47-3l-1 1m46 0l0 2m32 3l-2 2m36 0l0 1m23-2l-1 0m116-9l-1 1m8 10l-2 0m51-12l-1 2m18 1l-1 1m3 13l0 2m-52 0l0 3m-101-6l2 1m-99 3l1 0m-17 10l-1 1m-40-6l1 0m-12 4l-3 0m-5-10l-2 1m-30-4l1 1m-46 6l3 0m-14-7l2 2m-12-2l-3 1m45 18l-1 1m28 5l-2 2m46 2l0 1m19-4l2 2m43 0l0 1m11-4l-1 2m83-7l2 2m42 2l-2 2m32-3l2 0m25-6l-2 1m12 7l2 3m17-10l0 2m35 10l3 0m1-13l2 2m-8 26l1 1m-19-13l-1 1m-9 4l-1 0m-14-2l2 1m-19 0l0 3m-11-3l0 1m-20-5l-1 1m-30 10l-2 1m-9 1l-1 0m-18-1l1 1m-63-13l-2 0m-8 10l0 1m-65 0l2 2m-12-6l0 3m-87-7l1 2m-46 6l1 1m-4 12l-1 1m107-10l0 1m53 3l2 1m34-6l-1 1m12 6l2 0m11 6l-1 1m101-3l-1 1m39 1l2 1m15-10l1 3m38 6l-1 1m16-6l-2 0m0 19l3 0m-27 2l-1 1m-12-11l0 3m-26 6l1 2m-15 0l1 1m-22-1l1 1m-39-12l-2 2m-9 8l-2 3m-2-16l0 2m-46 0l-1 3m-48 0l2 0m-41-2l-1 0m-12 3l2 2m-34 8l1 0m-37-15l3 0m-47 30l-1 2m22-10l2 1m10-6l-1 1m14 7l0 2m20-5l-2 1m16 5l1 2m40-7l2 1m44-1l1 1m29-2l0 3m13-3l-2 1m18-3l1 2m11-5l-1 1m25 6l-3 1m22-7l-2 1m18-3l1 1m53 6l0 1m57-3l0 1m13 4l1 0m0 19l2 2m-10-13l2 1m-11 1l-1 2m-16 7l2 1m-13-1l3 1m-16-3l2 2m-26-1l2 2m-71-2l1 2m-4-14l0 1m-12 11l0 2m-77-14l-1 1m-33-2l2 2m-42 13l-2 0m-53-10l3 1m-59 17l0 1m12 1l2 1m10-7l2 2m32-5l1 1m49 9l1 1m43-6l2 2m11-2l1 1m10 5l-1 2m4-12l1 1m15 6l-1 1m11 2l1 1m26-2l-1 1m45 4l-2 1m32-14l1 1m9 8l-1 1m25 0l2 2m51-2l1 2m15-10l0 1m-19 19l0 2m-7-10l1 1m-11 5l2 0m-38 2l-1 1m-29-6l1 1m-12 6l0 3m-13-3l1 2m-23-8l2 2m-21 8l-1 1m-51 0l0 2m-7-10l-1 1m-12 2l-1 3m-7-11l0 3m-91-1l0 3m-31 1l2 2m-47 19l0 2m10-10l-1 1m44-4l-1 1m46 5l3 0m41 4l1 1m9-6l3 0m15-2l-2 2m21 3l-1 2m29-7l1 1m45 2l3 0m16 3l-1 1m49-9l1 2m28 0l1 0m41 0l1 2m31 14l0 2m-138 1l-1 0m-28 5l1 1m-7-13l2 2m-23 8l-1 1m-45-2l-1 2m-12-5l-1 0m-15 2l-1 1m-30 5l2 2m-3-17l-1 3m-11 10l0 2m-13-13l2 2m-15-3l-1 1m-37 2l-1 1m-43-1l-1 2m-10 4l2 1m23 18l0 2m15 0l-1 2m26-6l-2 2m21-7l2 3m11 5l0 1m147-8l1 2m33 4l-1 1m30-6l-1 0m26-7l-2 2m15 1l0 2m24 4l-1 2m13-9l0 2m26 7l1 1m7-10l1 1m18 3l2 0m-54 17l2 0m-12 3l-3 1m-42-13l-2 2m-17 0l-1 3m-58 5l-1 1m-42-4l-1 2m-17 1l2 1m-57-2l-1 0m-59-4l-2 1m-36 9l2 2m-27-5l0 2m-18 4l2 1m35 11l1 1m16 0l-2 0m98 1l2 1m61-14l-2 2m11 10l-2 1m46-11l1 1m58 0l2 2m36 1l2 2m12-2l-2 0m23 22l2 0m-35 0l0 1m-4-12l1 1m-10-1l-2 2m-10-3l-1 0m-10 5l2 1m-30 3l-1 2m-36-11l0 2m-93 8l2 1m-39-2l-2 1m-41 2l0 2m-27-6l0 2m-24-2l0 2m-37 1l0 1m-3 14l1 3m24-14l-2 0m35 5l-2 1m17 3l-2 1m90-7l2 0m7 8l-2 1m18-6l1 1m118 1l-1 2m51-8l1 2m83 13l2 0m-11 1l0 3m-23 2l-1 1m-10-2l-1 1m-10 1l-2 1m-21-2l0 2m-12-1l-1 1m-88-1l-1 1m-19-3l-2 1m-51 2l3 2m-33-13l1 3m0 12l-3 0m-15-7l1 0m-20 8l-2 1m-14-16l3 1m-46 1l-3 0m-5 6l-2 2m-53 15l0 2m4-11l2 2m11 4l2 1m41 3l1 1m45-10l-3 0m30 4l1 1m11 0l0 1m34 7l0 3m11-9l-2 1m16-3l-2 2m34 4l-2 1m24-9l1 3m23-6l-2 2m2 12l-2 0m52-14l1 2m29 1l1 0m27 0l1 1m53 9l-1 1m-11 1l-1 2m-27 0l0 1m-9 2l-2 1m-76 5l-1 2m-92-1l1 1m-62-12l1 0m-34 7l-1 1m-79-8l2 0m-41 10l-1 0m-10 11l1 2m11 4l-2 1m14-11l-2 2m49 8l-2 3m44-8l1 1m13 0l0 3m132 1l0 3m16-3l1 1m33 1l-3 0m70-12l2 0m0 10l1 1m12-12l-1 2m23-1l1 0m22-2l-1 2m-31 14l1 2m-90 7l1 1m-55-1l0 1m-78-4l-1 2m-14 3l0 2m-11-5l-2 1m-23 6l-1 2m-36-8l-3 0m-7-5l-3 1m-12 9l0 1m-11-11l1 0m-58 12l1 2m19 7l1 0m16 5l-3 1m19-7l-2 1m51-6l0 1m30 11l-2 0m17-14l-1 1m12 11l0 2m73 0l1 1m28-12l1 1m33 8l-1 2m9-13l0 3m46 5l1 1m16-2l2 1m46-8l0 2m27 15l-1 2m-17 2l3 1m-21 0l3 1m-36 3l-2 0m-26-11l-3 1m-6 9l3 1m-27-10l0 2m-11 10l1 0m-51-7l-3 1m-10 7l-1 1m-28-12l-1 1m-11-2l1 2m-40 3l-1 1m-45 2l-1 2m-19-11l2 0m-13 6l-1 0m-51 1l-1 0m-13-8l1 2m15 28l1 1m23-6l2 1m15-10l3 0m63 4l-1 2m31 8l-2 1m6-13l-1 0m27-2l-2 2m121 4l1 1m14 0l0 2m19 1l2 1m11-5l2 2m40-4l2 2m8 11l1 2m-20 3l-1 0m-48 2l0 2m-65-10l-1 2m-90 9l-3 2m-43-8l-2 0m-72 2l-1 1m-22 6l1 2m-51-15l3 1m15 18l-2 1m57 7l-1 3m48-3l1 2m43-10l-1 3m73-9l-1 3m80 2l-1 1m37 10l-3 0m59-13l0 2m15 7l0 2m19 7l-3 0m-14 2l2 2m-15 3l-2 0m-11 1l2 1m-9-13l1 1m-12 10l-1 1m-19-11l1 2m-46 5l1 0m-16-1l1 2m-82-1l-2 2m-9-7l-2 0m-131 6l1 3m-38-1l0 1m-34 9l2 2m59 0l0 1m14-4l-1 3m23-6l-2 0m66 4l-1 2m64-4l-1 1m3 9l2 1m5-10l3 2m4 8l1 2m13-7l0 1m12-4l-2 0m72 3l1 1m12-4l2 1m53 1l2 2m32-2l3 0m-21 14l-1 1m-63 2l-3 1m-43-8l-1 1m-2 10l-3 1m-18-8l1 2m-16 4l1 3m-29-5l1 1m-30-10l3 1m-4 12l-1 3m-56-5l-2 1m-6-14l-1 3m-57 5l-2 2m-48 4l0 2m-21-5l1 0m-1 20l2 1m26-3l3 1m1-12l-2 2m68-1l1 1m1 10l0 3m71-3l-2 1m1-13l3 0m19 13l2 0m29-10l-2 2m42 4l1 1m52 2l2 1m20 2l-2 0m10-11l-1 1m8 6l3 1m43-3l-3 2m21 6l0 3m-15 5l-1 3m-34 1l-1 1m-13-9l-1 1m-14 3l-2 1m-64-4l-1 1m-28-4l0 1m-12-5l1 3m-122 2l1 3m-21-1l0 1m-8 4l-2 2m-19-12l-2 2m-6 6l0 3m-10-2l-2 1m-11-5l-1 3" stroke="#958bbd" stroke-width="9.2" stroke-linecap="round" fill="none"/>
<path d="M224 9l2 1m147 0l-3 0m-33 21l1 0m-72-2l1 2m-73-4l2 2m38 10l-1 0m183 0l2 0m-139 13l0 2m-20 2l1 2m-14-4l-1 0m-211 4l-2 1m-9 2l-1 3m32 2l0 1m319 11l-1 2m18-7l1 2m53 19l-1 2m-93-14l0 2m-263 7l-2 2m-51-6l2 2m-9 5l0 2m121 1l3 0m161 10l-3 0m26-4l2 1m65 8l0 1m-145 0l-1 2m-10 1l-1 2m-11-6l1 0m-104 3l3 0m75 31l1 2m-101-3l-1 1m-10 1l-1 2m-94-2l-1 1m-3 10l2 2m116 3l1 2m140 7l-3 1m186-6l-2 1m-94 9l2 1m-18 0l0 1m-15 2l-2 1m-51 6l1 1m-246 14l2 0m36-8l-2 2m12-2l-1 0m140 10l1 2m95-5l2 1m108-10l0 2m25-4l1 3m-99 24l0 2m-89-11l0 1m-19 5l2 2m-162 2l3 0m62 20l1 1m66-12l2 3m241 4l1 1m-164 12l2 1m-173 1l1 1m-9-6l-1 1m-48 4l0 1m187 6l2 2m29 11l1 2m12-3l-1 3m135 11l0 1m-114-6l1 1m-79 0l-1 1m-12 6l2 0m-47 5l-1 1m151 6l-3 0m-106 18l-2 1m-168 13l-1 1m12 1l0 3m101-7l-2 2m68 0l1 1m103-6l0 3m15-2l3 1m16-7l-2 1m37 15l1 0m48 4l0 2m-82-5l2 2m-135 4l0 1m-29 7l1 1m-184-9l0 1m98 23l-1 0m71-6l-1 2m202 7l1 1m-30 9l0 3m-351-8l2 2m149 14l2 1m142 4l-2 2m126-12l-3 0m-90 29l-1 2m-231-5l-1 1m-47-9l2 1m27 14l-2 0m59 1l1 2m117 6l0 2m94-9l-3 1m-3 23l1 1m-93-1l-1 2m-52-5l-3 1m-26-4l1 1m-124 16l1 1m89 4l-2 0m51-13l-2 1m23 13l-1 2m74-1l-1 1m76 3l-2 1m-87 4l1 0m-126 6l0 1m-24 10l1 1m40-4l-2 1m104-4l1 1m70 5l1 0m74-4l1 3m7 6l2 1m-13 2l1 3m-225 9l1 1m-13 0l-3 1" stroke="#615796" stroke-width="9.2" stroke-linecap="round" fill="none"/>
<path d="M112 -2l-2 4m46-2l-1 1m12 10l2 3m28-9l1 3m18 0l-3 1m59-3l-2 2m18-3l0 4m83-7l1 1m55 20l2 1m-78-5l-2 3m-23-1l-2 2m-48 1l0 2m-54-5l-1 3m-29-1l2 1m-42 4l-1 4m-40-14l-2 0m-55 7l1 5m230 12l2 2m124 0l3 1m6 15l0 4m-63-3l3 0m-190-9l4 2m24 16l4 2m61 3l-4 0m88-4l-1 4m72 15l-3 1m-165-1l0 3m-14-6l-4 3m-29 5l0 2m-40-13l0 3m-51 3l-2 2m-85-6l-4 2m24 15l1 4m267-4l-2 1m71 7l-3 0m-21 15l2 1m-65-15l4 2m-9 12l0 2m-10-14l2 0m-62 2l3 3m-121 3l-3 4m-91 13l-4 0m101 4l2 2m28-14l-2 1m95 4l-2 2m130 4l-2 1m77 7l-1 2m-67 6l3 3m-30-12l1 2m-187-3l2 3m-24 6l1 5m-24-3l-3 2m-21-10l-2 2m8 14l-1 3m259-6l4 2m12 9l-3 0m27 5l2 1m-54-5l1 4m-74-3l3 0m-187 19l-2 2m54-1l-2 0m16 8l-3 0m60-2l5 1m59-12l0 3m87-2l0 3m27 0l0 2m32 5l-1 4m35-8l-1 2m-133 20l-2 1m-158-1l1 4m-46-17l-3 1m-30 2l1 3m-26 9l2 1m-43 0l-4 1m72 3l4 1m15-4l1 2m26 9l1 1m50-9l2 5m50 4l-4 2m43-4l1 4m180-12l-3 1m-14 15l4 2m-45-1l-4 3m-42-5l-2 3m-28 8l-1 3m-155-17l2 3m-57 6l-2 3m-88 1l-1 5m19-1l-1 2m157 11l1 2m21-1l2 0m91 0l0 4m40-8l-1 3m33-1l3 1m58-10l3 4m-25 21l-4 0m-38-2l0 2m-113-8l5 2m-56 4l0 4m-58-13l-1 3m-38 2l1 5m-21 20l-3 2m78-17l2 0m85 9l-1 1m28-6l2 0m104 3l-3 1m16-7l-1 2m14 11l2 2m10 15l3 1m-144-12l-3 2m-52-4l-2 2m-56-5l-2 3m-39 7l2 4m-18-5l5 1m-55-5l0 2m-38 24l-4 2m196-13l3 1m37 4l-1 3m22-3l2 2m132-1l1 1m-143 11l1 2m-18 7l-4 1m-74-10l0 3m-32-5l-3 3m-20 1l-1 3m-89-1l3 3m-18 6l1 4m128-4l-3 2m55 10l0 2m25-10l-3 1m62 0l0 3m20 4l1 3m41-7l-5 0m16-4l3 4m23 4l2 1m27-14l3 4m36 10l0 3m-151 10l-1 5m-57-9l2 1m-101 3l-2 2m-32-2l3 1m-11-13l0 5m-46-5l0 5m-23 22l3 2m16-3l2 2m207-6l1 2m71-4l1 3m47-4l1 2m40 6l1 1m-35 15l-3 0m-75 3l2 1m-76-3l4 2m-118-12l4 0m-18-3l-2 3m-17 5l2 2m-79 10l5 1m21 4l-3 4m94-10l2 1m229 10l-3 3m24 11l1 2m-85-10l1 2m-112-6l1 3m-110 2l2 3m46 19l0 2m13-14l-2 4m116 8l3 2m54-3l3 0m27 4l-3 0m93 8l3 1m-46 3l-1 2m-84-6l1 1m-21 7l-2 1m-42-12l-3 0m-130 4l-4 1m-33-4l-3 1m-17 9l-1 3m-20-14l3 4m-16 23l2 2m7-15l-3 4m205 9l-2 2m36-15l1 3m0 11l4 3m19-6l0 2m58-2l0 2m59-5l-1 4m5 15l3 3m-17-2l-3 2m-99-1l2 2m-15-5l-3 2m-170-11l-4 2" stroke="#f4eef7" stroke-width="2.6" stroke-linecap="round" fill="none" stroke-opacity="0.85"/>
</g>
<path d="M27.6 97.0C27.5 99.7 26.6 102.5 26.1 104.0C25.5 105.6 24.7 106.5 24.0 106.5C23.3 106.5 22.4 105.6 22.0 104.0C21.5 102.4 21.1 99.3 21.1 97.0C21.1 94.7 21.5 92.1 22.0 90.0C22.5 87.9 23.2 84.8 24.0 84.4C24.8 84.0 26.1 85.8 26.7 87.9C27.3 90.0 27.7 94.3 27.6 97.0Z" fill="#d6627c" transform="rotate(0 24.0 97.0)"/>
<path d="M78.4 104.0C78.4 105.5 78.3 107.6 77.8 108.8C77.2 110.1 76.0 111.4 75.0 111.5C74.0 111.6 72.4 110.7 71.9 109.4C71.4 108.1 71.7 105.6 71.8 104.0C72.0 102.4 72.1 101.0 72.6 99.9C73.2 98.8 74.2 97.4 75.0 97.4C75.8 97.5 76.7 99.0 77.2 100.1C77.8 101.2 78.3 102.5 78.4 104.0Z" fill="#d6627c" transform="rotate(10 75.0 104.0)"/>
<path d="M117.9 146.0C117.8 147.4 117.1 148.7 116.5 149.8C115.8 151.0 115.0 152.8 114.0 153.1C113.0 153.3 111.4 152.2 110.8 151.1C110.1 149.9 109.9 147.7 109.9 146.0C109.9 144.3 110.1 142.3 110.8 141.1C111.5 139.8 113.0 138.3 114.0 138.4C115.0 138.5 116.2 140.3 116.8 141.6C117.5 142.9 117.9 144.6 117.9 146.0Z" fill="#d6627c" transform="rotate(0 114.0 146.0)"/>
<path d="M58.9 154.0C58.9 155.1 58.2 156.9 57.3 157.5C56.3 158.1 54.2 157.8 53.0 157.7C51.8 157.5 50.7 157.3 49.8 156.6C48.9 156.0 47.8 155.0 47.7 154.0C47.5 153.0 48.0 151.2 48.8 150.6C49.7 150.0 51.6 150.5 53.0 150.5C54.4 150.5 56.2 150.0 57.1 150.6C58.1 151.2 58.8 152.9 58.9 154.0Z" fill="#d6627c" transform="rotate(0 53.0 154.0)"/>
<path d="M64.6 201.0C64.6 202.6 64.1 204.4 63.3 205.8C62.5 207.2 61.2 209.4 60.0 209.6C58.8 209.7 56.9 208.1 56.1 206.7C55.4 205.2 55.5 202.9 55.5 201.0C55.6 199.1 55.5 196.8 56.2 195.5C56.9 194.1 58.8 192.8 60.0 192.9C61.2 193.1 62.3 195.1 63.1 196.5C63.9 197.8 64.6 199.4 64.6 201.0Z" fill="#d6627c" transform="rotate(-20 60.0 201.0)"/>
<path d="M78.2 224.0C78.2 225.3 77.8 227.0 77.4 227.9C77.0 228.9 76.5 229.8 76.0 229.8C75.5 229.9 74.9 229.0 74.6 228.0C74.2 227.1 73.9 225.4 73.8 224.0C73.8 222.6 74.0 220.6 74.3 219.4C74.7 218.1 75.5 216.6 76.0 216.7C76.5 216.8 77.1 218.6 77.5 219.9C77.8 221.1 78.2 222.7 78.2 224.0Z" fill="#d6627c" transform="rotate(-20 76.0 224.0)"/>
<path d="M48.2 60.0C48.3 60.5 48.0 61.4 47.5 61.8C46.9 62.1 45.8 62.3 45.0 62.3C44.2 62.3 43.0 62.2 42.5 61.8C41.9 61.4 41.8 60.6 41.8 60.0C41.8 59.4 42.2 58.8 42.7 58.4C43.2 58.0 44.3 57.6 45.0 57.7C45.7 57.7 46.4 58.3 46.9 58.6C47.4 59.0 48.1 59.5 48.2 60.0Z" fill="#d6627c" transform="rotate(0 45.0 60.0)"/>
<path d="M4.4 194.0C4.4 194.8 4.2 196.0 3.8 196.5C3.4 197.1 2.6 197.1 2.0 197.0C1.4 197.0 0.8 196.8 0.4 196.3C-0.0 195.8 -0.3 194.8 -0.3 194.0C-0.3 193.2 -0.2 192.0 0.1 191.4C0.5 190.8 1.4 190.2 2.0 190.2C2.6 190.2 3.4 190.8 3.8 191.5C4.2 192.1 4.4 193.2 4.4 194.0Z" fill="#d6627c" transform="rotate(0 2.0 194.0)"/>
</g>
<rect x="573.40" y="847.00" width="221.90" height="255.40" fill="#fff" filter="url(#tn)"/>
</g>
<rect x="573.40" y="847.00" width="221.90" height="255.40" fill="none" stroke="#3c3550" stroke-width="0.90"/>
<g clip-path="url(#hc1)">
<rect x="802.60" y="847.00" width="221.90" height="255.40" fill="#cdb9d8"/>
<g transform="translate(802.6 847.0)" filter="url(#tb)">
<ellipse cx="16" cy="49" rx="35" ry="20" fill="#e2b6d8" opacity="0.35" filter="url(#tb3)"/>
<ellipse cx="105" cy="83" rx="27" ry="17" fill="#b7a6d6" opacity="0.35" filter="url(#tb3)"/>
<ellipse cx="95" cy="78" rx="36" ry="25" fill="#e2b6d8" opacity="0.35" filter="url(#tb3)"/>
<ellipse cx="148" cy="225" rx="26" ry="21" fill="#e2b6d8" opacity="0.35" filter="url(#tb3)"/>
<ellipse cx="90" cy="171" rx="28" ry="23" fill="#e2b6d8" opacity="0.35" filter="url(#tb3)"/>
<ellipse cx="77" cy="6" rx="18" ry="23" fill="#b7a6d6" opacity="0.35" filter="url(#tb3)"/>
<ellipse cx="34" cy="9" rx="19" ry="16" fill="#e2b6d8" opacity="0.35" filter="url(#tb3)"/>
<ellipse cx="152" cy="186" rx="32" ry="22" fill="#e2b6d8" opacity="0.35" filter="url(#tb3)"/>
<ellipse cx="111" cy="224" rx="37" ry="25" fill="#e2b6d8" opacity="0.35" filter="url(#tb3)"/>
<ellipse cx="152" cy="2" rx="19" ry="20" fill="#e2b6d8" opacity="0.35" filter="url(#tb3)"/>
<g transform="scale(0.5)">
<path d="M2 2l-2 2m3 10l-1 0m13-12l-3 0m4 11l-2 1m11-13l1 1m35 5l1 2m34 4l1 3m36-8l0 1m12-9l0 2m10-2l2 2m21-3l-1 2m20 4l2 0m40-5l-1 1m5 11l1 3m32-5l-1 1m80-11l1 1m23 9l-1 2m16-7l0 2m49 4l0 2m-3 10l-2 0m-17-1l-2 1m-21-6l2 2m-12-2l1 1m-11 9l-1 3m-11-8l3 2m-28-7l0 2m-17 9l2 0m-78 1l-3 0m-9-9l-2 0m-21 4l2 0m-15-6l-1 2m-14 7l3 1m-10-10l0 2m-23 5l-2 0m-9 0l-2 1m-11-6l2 1m-14-3l1 2m-13-1l2 0m-5 11l0 2m-11-2l-1 1m-10-10l1 3m-13-4l1 2m-70 9l1 1m13 8l0 1m43 2l-2 1m18-5l-2 1m24 3l-1 1m33-1l1 1m8-8l1 1m10 8l-2 1m3-13l1 3m17 7l1 2m13-8l-3 0m19-5l-2 1m15 4l-1 1m11 9l-1 0m15-3l2 1m35-12l-2 0m14 0l-2 1m17 12l0 2m12-15l-2 2m18 9l-2 2m18-3l3 0m14-5l-2 1m76 8l1 2m-10 3l0 2m-12 5l-2 1m-18-3l2 0m-12-6l-1 2m-40 3l-2 1m-27-7l1 0m-7 9l-2 0m-32 0l-2 0m-28-2l-1 1m-15 2l1 1m-30-12l2 1m-18 12l-2 0m-24-9l-1 0m-34 5l-1 1m-35-9l-1 0m-16 8l1 3m-16-8l-3 1m-20-1l0 2m0 20l1 1m13 2l-2 2m12-4l2 2m23-13l-1 2m114-3l0 3m22-2l1 1m13 5l3 0m24 2l1 2m27-11l1 3m12-1l-2 0m39 0l0 2m15 0l-1 0m19 5l0 1m11-3l1 1m9 7l1 1m9-9l-2 0m16 0l-2 1m27 0l3 2m-86 13l0 2m-8 6l1 2m-7-17l0 1m-46 0l0 2m-16 5l1 3m-17 2l-1 2m-35-9l1 0m-16-2l-1 0m-44 8l-1 1m-15-9l0 3m-22-2l1 0m-15-1l-1 1m-13 2l2 0m-71 0l-2 1m-13-3l0 2m-10-8l2 2m6 18l1 1m35-4l0 1m21 9l-3 0m15 1l2 1m6-9l3 1m19 3l-1 2m27 3l-2 1m8-14l2 2m38 8l2 1m11 4l1 2m2-15l-1 1m42 14l-1 0m11-4l1 0m16 1l-1 1m33-2l1 1m19-7l-1 1m44-3l1 1m51 23l2 1m-28 1l0 3m-42-14l1 1m-12-3l2 0m-23 0l-1 1m-25 8l1 0m-10-5l-2 2m-43 5l2 2m-8-11l-2 2m-11-3l-1 2m-15 6l1 1m-15-4l3 1m-20-4l-1 1m-16-2l-1 2m-32 4l-1 1m-49-5l1 2m-12 7l-1 3m-2-15l-1 1m-10 3l0 2m-18-8l-1 2m-21 29l2 1m0-14l2 1m21-1l-1 2m15 7l0 2m17 0l-2 0m31-3l-1 2m13 2l-2 1m5-13l1 0m96 10l1 1m16-8l-1 1m25 2l-3 1m18-5l-1 0m18-2l-3 1m67 1l1 0m11-3l-1 3m7 9l-1 3m36-6l2 2m10-9l-1 1m9 6l1 1m10-5l-1 0m18 17l0 1m-29-2l-2 2m-38-5l1 2m-28 10l2 2m-13-5l-2 0m-5-11l-3 0m-10 14l0 2m-32-2l-1 2m-22-2l2 1m-9-14l2 1m-22-2l0 1m-1 12l2 1m-48-3l-1 1m-71-11l-1 2m-6 9l-1 2m-24-15l0 3m-33 3l2 1m-20 5l1 1m-4-13l-1 1m-21 20l3 0m11 3l0 3m18-8l2 2m16 10l3 0m12-1l3 1m35-7l-2 1m12 7l2 0m31-9l-1 1m27-2l-2 1m29-2l1 2m11-2l1 1m25 7l-1 3m29-9l1 1m10 3l1 0m8-5l2 2m26 3l1 1m14-3l-1 1m25 2l0 2m5-12l-1 1m15 0l1 1m8 6l1 3m17-11l-1 2m16 6l1 0m20 4l3 1m5-11l-1 1m-18 15l-2 0m-11 4l3 1m-39-2l2 1m-17 7l1 1m-17-4l-2 2m-15-6l1 1m-24 1l0 1m-30-2l-2 2m-49 1l0 2m-15-5l2 0m-38-5l-2 2m-19-5l2 2m-11 12l-2 2m-15-14l2 0m-50 4l0 2m-20 1l-2 0m-11-1l-1 2m-38 9l1 2m32 1l-2 1m28-4l3 1m34 10l2 1m14-17l2 2m35 0l3 1m12-2l0 2m6 10l-2 0m14-10l-1 1m14-3l-2 1m30 7l-2 2m31-7l-2 2m33 8l-1 2m20-10l1 1m44 4l0 3m23-3l-3 1m16-10l-1 3m8 8l1 1m30 2l1 0m0-15l2 2m9 29l1 2m-29-10l-1 3m-46-9l1 1m-66-1l2 2m-59 2l3 1m-28 9l1 1m-38-8l-1 1m-14-2l1 3m-22-3l-3 0m-59-3l-2 0m-22 5l-2 0m-23 4l3 0m-11-11l1 1m-18 11l-1 2m-5-12l-1 0m21 27l1 0m3-11l0 1m15 5l0 1m26-2l-1 1m7-11l0 2m38 2l0 1m53 0l0 2m28 2l2 1m35-5l1 3m13 5l-3 0m12-3l1 3m18-7l1 2m27-6l-1 1m31-2l-1 1m14 12l2 1m11-1l-1 2m3-15l2 1m12 7l-2 1m30 6l-1 2m-17-2l0 2m-18 6l1 2m-16 3l2 2m-53-14l-1 1m-23 6l-3 1m-36 0l2 2m-56-10l1 2m-9 6l1 2m-10-9l1 1m-7 9l2 0m-12-5l3 1m-30 1l0 3m-47-10l1 2m-25 2l0 2m-40 1l0 3m-4 12l2 1m9-6l2 1m2 11l1 1m15-9l0 1m12 2l1 2m22 1l0 2m12-7l2 2m19-6l1 0m10 6l0 2m12 4l1 1m1-17l-1 3m22 8l1 1m17 3l0 1m29-6l1 1m10 5l1 1m8-9l3 1m8-6l1 2m24-1l-1 2m11 4l1 3m27-7l0 3m25 6l3 1m16-8l2 2m18-1l0 2m30 0l-1 1m19 0l3 1m28 13l1 2m-12-2l1 3m-9-12l2 1m-9 9l2 2m-26-4l1 0m-38-3l1 1m-12 1l2 0m-14 7l2 0m-30-5l-3 0m-12-6l-1 1m-61 7l1 3m-47-1l-2 0m-16-6l-2 1m-43-4l1 1m-14 9l0 1m-55-11l2 1m-27 6l2 1m-14-9l2 1m-4 26l-1 1m13-4l1 1m9-7l0 2m16 8l0 2m7-16l0 1m10 11l-1 3m23-10l-1 1m48 1l1 1m14-5l0 2m20-2l1 0m15 9l1 3m41-8l1 1m35-7l-1 1m20 7l-1 2m10-8l-1 0m25 6l0 2m16-1l0 3m10 0l2 1m27-2l0 1m5-15l0 2m17 5l-2 1m32-2l-1 2m13-1l1 1m-10 9l0 1m-53 8l-1 1m-14-6l-1 2m-1 10l2 0m-16-7l-1 1m-16 1l2 2m-15-3l2 1m-46-8l2 2m-10 4l-1 0m-19 4l2 3m-39-12l0 2m-35 0l1 2m-43 0l-3 1m-11 1l2 1m-20-8l1 2m-17-4l1 0m-4 15l-3 0m-22-2l-1 2m-13-4l3 0m-14-4l2 1m-13 1l3 0m-4 15l0 2m23 1l-1 1m27-11l1 0m3 12l1 2m38-15l0 3m7 8l1 1m25-12l-2 0m8 9l0 1m5-10l1 1m3 13l2 2m19-3l2 1m38-15l0 1m54 0l-1 1m1 12l-1 1m77-11l1 1m32 3l-1 1m51-1l-1 3m15-3l-1 2m-8 17l-2 2m-44-4l1 1m-67 6l-2 0m-54-2l-1 1m-9-14l0 3m-55 7l-1 2m-11-9l1 1m-53 5l1 2m-7-11l0 1m-26 1l1 3m-13 8l0 3m-14-9l1 2m-61-4l3 1m-9 21l1 1m62-1l-2 1m130-8l1 2m18-7l-1 2m8 9l0 1m13-6l0 2m13 8l-3 0m14-2l1 2m41-12l-2 2m29 6l2 0m15-11l0 2m8 11l-2 0m14-2l0 2m16-2l0 2m64-14l0 1m-7 26l1 1m-63-6l-1 2m-21 1l-1 1m-16-7l0 1m-16 5l0 1m-11-2l-3 1m-75-4l1 1m-29 9l2 1m-16-6l2 2m-16 2l0 1m-58-8l0 2m-25 3l0 2m-22 1l1 2m-18-11l-2 2m-17-2l1 2m-7 22l-2 0m9-12l1 0m9 2l1 2m51 2l-1 0m16 1l-1 1m60 3l-2 1m47-11l-1 2m39 8l1 1m17-2l1 1m13-6l1 2m7-9l1 1m79 14l-2 1m49-9l0 3m18-4l0 2m-4 17l2 1m-21-5l-2 2m-44 4l2 1m-21-2l-1 1m-19-10l1 1m-41 3l-1 2m-44 1l-3 0m-25 0l-2 2m-20-8l0 2m-17 1l-1 2m-14 0l1 1m-17 1l-2 1m-38 3l-2 0m-8-7l-1 1m-18 4l0 1m-11 0l0 3m-15-6l1 2m-15-1l-1 2m-14-1l2 2m-22-9l0 2m17 16l-1 1m14-1l-1 2m24 5l-2 2m19-5l-1 1m12 1l-1 1m10-12l3 1m1 12l0 1m12-2l-1 0m34-9l0 2m22-2l1 3m15-5l-1 1m7 8l-2 1m14-6l0 2m48-3l0 2m10-2l3 1m23-6l-2 2m12-3l0 3m10 5l-1 1m20-2l-3 1m34 6l0 2m19-6l2 2m9-7l1 1m23 7l-1 1m7-13l0 2m15 1l1 2m9 20l2 2m-28-5l2 2m-111 5l1 1m-9-15l0 2m-15 5l3 0m-40-3l2 1m-14 3l3 1m-14-4l-1 3m-12 3l2 2m-75-1l-2 0m-9-10l-1 2m-33 6l2 1m-22-7l-2 2m-26-1l1 2m-31 1l2 1m-11 1l-1 2m14 12l1 1m17 0l2 1m22-8l0 2m12 0l2 1m12-2l-2 1m48 2l0 1m8 7l0 2m30 0l2 1m39-11l-2 2m80 8l-2 1m2-13l-1 0m109 5l1 2m15-7l1 1m6 10l-3 1m15-8l2 0m11 2l-2 1m-23 18l-1 1m-13-11l-1 0m-4 11l2 1m-16-8l1 2m-31 7l-3 1m-4-11l1 1m-19 8l2 2m-3-16l1 2m-23 9l-1 2m-18 1l-1 1m-9-6l-2 2m-11 1l0 3m-30 0l-2 2m-31-13l0 1m-41 7l1 1m-13-13l3 1m-15 8l0 2m-15-5l1 2m-14-4l0 3m-29 7l0 1m-37-1l-1 2m-2-13l2 0m-14 1l-2 1m-20 7l2 0m12 18l-2 1m13-1l0 3m10-8l0 2m22 2l-1 1m29-3l2 1m12 2l-1 1m13-14l-2 2m7 12l-1 2m36-2l2 1m69-8l1 3m39-5l0 3m12-3l-2 1m25 2l0 1m13-5l2 1m35 8l-1 1m17-15l2 1m41 6l0 3m12-6l1 2m13 2l-1 2m-30 19l0 2m-26-6l-2 0m-57-7l-2 1m-10-1l-2 2m-10 6l1 2m-22-9l-2 2m-18 7l-1 1m-13-1l1 2m-36-1l0 2m-12-13l-1 3m-14 1l2 1m-16 4l-2 0m-16 2l1 2m-6-13l1 2m-9 9l2 2m-17-2l-2 1m-13-2l0 3m-20-5l-1 1m-33-7l-1 3m-27 3l0 2m-14 2l2 1" stroke="#857ab1" stroke-width="9.0" stroke-linecap="round" fill="none"/>
<path d="M44 6l0 3m30-6l1 2m13-2l1 1m20 4l1 1m12-10l0 2m28 13l0 1m76-6l0 2m27-10l0 2m40-1l2 0m12 12l1 1m8-10l1 1m8 8l0 2m5-16l0 1m9 4l2 2m19 5l1 3m59-16l1 2m11 11l0 2m-2 15l-1 1m-81 0l2 0m-51-4l-1 3m-19-10l0 3m-14-6l-2 1m-95 11l2 1m-3-12l-2 0m-42 14l-1 0m-62-2l-1 2m-9-10l-1 0m-19 10l0 1m-2-12l2 1m11 22l1 1m192-12l0 3m20 7l-2 1m15 0l2 3m68-14l2 1m31 4l-1 1m20 3l0 2m28-9l-2 1m19 24l1 1m-74-2l-1 1m-8-8l-1 1m-30 9l1 0m-36-9l0 1m-76 2l-1 1m-5 6l-3 1m-16-12l1 0m-26 12l1 2m-13-3l-2 1m-36-15l-2 1m-9 9l1 0m-88 4l-2 1m-6-15l1 1m11 24l2 2m28-10l1 1m17 7l2 2m42-6l-1 1m14 4l-2 1m76 3l1 1m42-2l2 2m34-7l-1 3m32 3l-3 1m11-11l1 3m9 3l1 1m98-2l1 1m18 21l-2 1m-20-4l3 0m-27 0l1 2m-30-8l0 3m-43-3l1 1m-22 6l1 3m-56-9l0 1m-61-4l-1 0m-20-4l0 2m-79-2l-1 2m-14 3l2 0m-11 5l1 2m-61 3l0 2m74 0l-1 1m49 1l-3 1m34 4l-2 1m19-9l3 2m43 6l-3 1m22-7l-2 1m42 1l-2 1m12-3l2 1m44 1l-1 0m53 1l-2 2m23-7l-1 2m5 9l1 1m18-8l1 2m6 13l1 1m-69 9l-2 2m-2-15l2 1m-10 8l1 1m-30 1l-2 0m-27 1l2 2m-44-6l1 2m-124 3l2 1m-30-8l2 1m-28 4l2 1m-72-12l-2 1m37 16l2 1m28 3l-1 1m45 0l-1 3m29-9l0 2m12 6l0 2m17-5l-2 2m101 7l0 2m12-1l-2 1m94-6l1 2m45 9l-1 2m-30-2l3 2m-53-7l1 3m-34-1l-1 0m-40 9l-2 2m-52-8l1 0m-14 4l1 1m-36 0l1 0m-21-7l-2 0m-5 9l-2 2m-8-13l2 1m-64 5l1 1m-13 6l0 1m-42-4l0 2m21 17l3 1m53-8l-3 0m27-4l0 2m20 3l0 2m52-4l1 1m54-6l-2 1m66 11l-2 0m121-5l3 0m12 19l2 0m-42-5l1 1m-63-6l2 2m-46 10l-1 2m-1-13l1 2m-35-1l0 1m-15 4l2 1m-22-9l1 1m-32 1l-1 2m-59 8l-1 1m-35-4l3 1m-75-1l0 2m1 10l2 2m55-6l1 2m23-1l-1 2m33 5l0 2m108-4l2 0m17 8l-2 1m14-3l0 3m62-3l0 2m77-12l1 3m25 7l-2 2m-53 4l0 3m-9 5l2 1m-32 3l-3 0m-27-10l-2 1m-44 3l-2 2m-10 1l-2 3m-27-11l-1 0m-23 10l-2 1m-11-11l1 2m-37-7l-2 2m-34 5l2 2m-54-8l1 3m-24-3l-1 1m10 28l1 1m29 0l-3 0m5-14l-1 1m12 8l2 3m30 0l1 3m19-12l0 1m30 1l1 1m29 9l-1 1m101-13l-1 1m20 8l0 2m66-10l0 1m18 9l1 0m27 4l-1 1m-3 11l2 0m-17-6l1 0m-13 6l1 3m-11-6l0 2m-71 0l-2 2m-9-8l2 1m-11-2l-1 2m-21 3l-2 2m-5-13l3 0m-36 5l0 2m-27-4l2 1m-21 4l-1 1m-9-6l-1 2m-83-2l-2 0m-28 9l-2 2m-12 1l2 1m-37-7l2 2m68 17l1 2m40 0l1 1m2-12l-3 2m24-2l0 1m45-3l-1 1m34 4l-2 0m39 0l1 3m20-9l2 2m11 0l3 1m55-2l-2 1m28 27l-3 0m-2-13l3 1m-25 3l1 2m-64-6l-2 1m0 14l1 0m-39-4l3 1m-26-11l2 1m-10 12l-3 0m2-14l-2 2m-51-1l-1 1m-47 6l1 1m-56 2l-1 1m-20-6l-2 1m-23 3l0 1m-26 2l-2 2m58 3l2 2m33 8l2 0m11 1l2 0m-1-13l2 1m73 2l-2 2m56 6l-2 2m109-6l0 3m53-5l0 3m42-5l-1 1m-1 15l0 1m-15 9l0 2m-17-6l0 2m-15-12l1 3m-3 9l-3 1m-12 1l-2 1m-82-8l0 1m-16 7l1 1m-57-9l-1 1m-41 3l1 2m-28-12l1 1m-16 5l-1 1m-119 14l0 2m25 6l0 2m31-2l1 2m8-12l1 0m2 11l2 0m74-10l1 2m13-1l-2 2m18 4l2 1m27-4l-1 1m17 3l-1 1m8-12l1 3m28 11l-1 2m10-7l2 2m10-5l1 3m12 5l-2 2m13-5l1 1m66-5l1 2m13-7l-1 3m45-3l2 0m-8 17l1 3m-26-3l-3 0m-12 3l-1 1m-25-5l-3 0m-9 9l0 2m-2-15l-1 2m-21 0l0 3m-12 9l2 1m-30-5l2 1m-23 4l0 1m-41-5l-1 1m-10-2l-2 0m-16-4l2 1m-43 6l1 2m-22-6l1 3m-30-6l-2 1m-71 6l2 1m-36 3l-2 0m12 8l1 3m11-11l0 3m27 2l-1 1m32 5l-1 3m11-14l1 3m26 9l3 0m10 0l0 3m11-13l2 1m23 10l-3 0m10-8l1 1m65-7l-1 2m30 11l-3 1m16-10l0 1m27 10l-1 0m82-11l-1 0m10 4l1 3m13-3l2 0m23 7l0 1m-24 2l2 1m-14 4l1 2m-17-5l1 0m-97-3l-1 2m-11 9l-1 1m-12-5l0 2m-16 4l-1 1m-99-6l1 1m-16 0l2 0m-16 6l2 0m-23-14l2 0m-1 11l-1 1m-27-12l-2 2m-62 2l-1 1m-7 9l2 2m3 11l1 0m75 1l-1 0m39-2l1 2m18-3l1 1m12 4l2 1m4-16l1 2m33 5l0 2m14 5l3 1m9-1l0 1m21-4l2 0m21-7l-2 1m74-3l-1 1m13 7l-2 3m18-9l-1 2m17 3l1 2m18-1l-1 0m10-9l-2 1m-4 23l-2 2m-42-7l0 2m-28 9l0 2m-14-7l0 1m-13-1l3 1m-46-4l2 1m-130 3l0 1m-16-6l2 2m-70-9l-1 2m-32 5l-2 1m-11 14l2 1m118-1l1 1m9 5l-1 2m22-10l-2 0m57-1l1 2m9 3l1 1m141 0l1 1m61 6l0 2m12-5l2 1m-18 17l2 2m-72-6l-1 1m-16-6l-1 2m-21-6l2 1m-40 13l-2 2m-75-5l1 1m-21-8l1 3m-24-9l1 2m-5 14l2 1m-41-8l0 1m-63 14l2 1m11 6l3 0m29-6l-1 2m24-4l-1 1m50-7l1 1m14-1l2 2m6 11l-1 1m35-13l2 0m14 7l2 1m13-9l2 2m10 8l1 1m31 0l1 2m22-12l2 1m13 4l-1 1m21 5l0 2m6-14l1 1m77 21l0 2m-119-4l-1 2m-72-1l-3 2m-69 5l1 3m-26-1l1 1m-55-6l0 2m-24-7l0 1m-22 3l3 1m-35 5l0 1m-17-15l3 1m3 29l1 2m22-12l2 1m31-3l-1 1m68-1l2 1m43 6l0 3m12-8l2 0m17 11l-1 1m9-14l1 1m119 7l-2 2m11-8l0 1m21 5l-1 1m27 4l1 1m11-4l-1 1m37 17l-2 0m-9-4l-2 1m-7-10l1 2m-27 9l3 0m-26-7l-1 2m-9 4l0 3m-18-11l-2 1m-50-3l2 1m-51 0l0 1m-15 5l0 2m-92-8l0 3m-56-5l1 3m-39 7l1 2" stroke="#978cbe" stroke-width="9.0" stroke-linecap="round" fill="none"/>
<path d="M209 10l2 1m78 1l3 1m117-3l3 0m-8 17l1 2m-390 0l-2 0m388 15l2 2m-32 14l2 1m-114 0l-2 0m-119-9l-2 0m-135 16l2 0m133 3l-1 2m21 3l-3 1m277 7l2 0m-23 0l2 0m-30 4l0 2m-119-8l0 1m-230 18l1 2m61 9l-3 0m337 13l-2 1m-31-14l0 1m-14 3l-3 1m-61 10l-3 2m-68-4l-1 1m-230 1l2 1m170 13l-2 1m111-5l-1 1m139-6l1 2m-53 21l2 1m-86 3l-1 1m-178-5l3 1m39 12l-2 2m230 12l1 1m-384 3l2 0m46 13l-2 1m74 2l0 2m73-1l3 1m10-7l-2 1m60-2l-1 3m52-7l-2 1m6 13l2 0m-47 16l3 0m-71-14l-2 1m-163 13l2 1m-45 15l1 1m130-14l-1 3m293 3l-1 3m-45 19l1 1m-121-3l2 2m-169-2l3 1m88 7l0 1m239 1l1 1m17 10l0 2m-86 12l-2 1m-159-6l-2 2m10 7l2 1m171 11l-2 0m-257 23l2 2m-66 19l-1 1m55 5l-1 1m326 9l-2 3m-9 16l-2 0m-206-6l1 2m-14-8l0 2m-178 15l-2 2m44 7l-1 1m166-12l2 1m68 13l1 2m12-4l3 0m8-5l3 0m64-6l-2 1m-5 20l1 1m-155 1l0 1m-185 12l0 1m225 9l1 1m125-10l-2 1m2 23l-2 1m-7-10l0 1m-18-2l2 1m-116-2l2 0m-68 3l-3 1m-159 0l1 2m74 14l1 0m204 7l2 1m65-7l-1 1m-2 11l1 1m-115-2l-1 0m-28-2l3 1m-13 4l-1 0m-21 8l2 2m-146 5l-1 0m196 4l2 1m133-6l0 2m-55 20l1 1m-256 1l-1 0" stroke="#615796" stroke-width="9.0" stroke-linecap="round" fill="none"/>
<path d="M63 -1l0 4m148 0l3 2m58-4l4 3m14 5l4 3m64-3l2 1m45-8l3 3m-108 26l0 2m-69-13l-2 2m-134 3l-3 4m-68-13l3 1m15 29l-2 1m14-12l-4 0m222 5l-1 4m65-10l-4 0m61 22l-1 2m-44 0l-3 2m-45-8l-1 2m-11 8l1 1m-80-17l-1 4m-49 10l-1 4m-15-12l-3 2m-111 6l1 2m-16 7l-2 1m43 6l2 2m14-13l-3 2m68-1l1 2m53 8l-1 3m13-5l4 2m162 2l-3 1m19-6l1 4m40-1l-1 3m21-5l-4 2m-152 17l2 2m-268 13l-4 0m18-4l0 4m191-9l1 2m117 1l-1 2m36 3l-4 2m49 8l1 3m-34-4l-4 2m-83 6l2 1m-62-13l-2 2m-78 6l-2 0m-112 3l2 0m28 13l-2 4m114-3l2 0m155-1l0 4m34-11l-1 1m59 9l-3 1m-36 5l-3 2m-23 2l-4 1m-109-7l-2 2m-54 0l-2 0m-31 2l-2 4m-38-1l-2 1m-49 1l3 0m-27-3l2 4m-63-4l2 3m69 10l-4 1m17 9l1 3m55-2l3 0m87-9l-2 2m107 6l0 2m98-2l1 3m6-15l-4 1m-47 19l0 3m-32-5l-1 3m-66 1l2 2m-56-2l4 1m-20-4l3 0m-46 0l3 2m-162 5l4 3m27 14l3 2m85-7l2 1m88-6l1 1m69 4l-4 3m15-9l2 1m45 4l1 4m50-10l3 3m-40 15l-2 4m-59 9l1 3m-50-7l1 3m-13-13l1 1m-53 11l-1 3m-21-13l-2 3m-165 8l1 2m40 7l1 4m94-6l4 1m98 4l2 0m28-9l-1 1m65 1l2 1m76 4l-2 2m26 7l-4 0m-2 14l0 2m-10-10l-4 1m-14-4l2 1m-16 6l3 3m-81-11l-4 1m-19-2l4 2m-110 8l1 5m-118-16l3 2m-18 5l-1 4m-34-1l-1 2m78 11l-1 4m52-6l1 3m72-8l1 3m15 4l-3 4m47-8l-3 1m50 11l3 1m43-6l-4 1m46-5l1 1m21 5l-2 3m3 13l0 4m-77-12l1 2m-109 7l2 3m-16-8l-2 4m-83-3l4 2m-24 3l1 2m-126-12l1 2m-1 12l0 2m28 10l-3 1m30-10l-2 4m231 6l-3 0m121-1l-2 4m-134 0l3 2m-37 1l-1 2m-166-4l-2 1m-30 8l-3 1m18 7l-1 2m93 0l2 3m26 0l4 1m104 3l3 1m116-8l4 0m-61 24l1 4m-17-17l-1 5m-110 9l-3 1m-89-9l3 2m-79-8l-3 4m-45 18l1 3m23-4l3 0m38-6l2 3m8 9l0 4m16-5l-1 4m46-16l0 4m149-3l-2 2m58 12l2 3m60-8l-1 5m32-8l-1 4m-3 14l3 1m-15-7l-3 0m-91 2l-3 2m-32 1l-2 5m-13-10l0 2m-21 2l-1 3m-62-4l2 4m-195 3l5 1m94 5l-3 0m210 3l1 1m3 22l0 2m-100-14l1 3m-25-1l-3 1m-47 1l0 2m-57 2l3 1m-81-6l-1 3m170 13l-2 2m37 6l-1 3m35-5l-1 4m14-13l-2 2m133 10l-2 3m-211 7l4 2m-49 6l-2 3m-9-15l-1 0m-11 8l2 3m-66-8l1 2m-38 15l2 4m71-4l-1 3m22 6l3 1m94-16l0 5m184-2l-4 2m55-1l-2 3m-95 13l-4 1m-65-5l-2 2m-115-1l-3 1m-65 3l-2 1m-14-3l0 2m-21 6l2 1m-37-4l4 0m26 18l2 1m29-5l3 2m216-4l0 5m27-4l2 2m128 5l1 1m-85 15l-1 3m-54-3l-3 2m-45-11l0 2m-32-1l2 1m-12 7l-4 2m-26-9l1 2m-74-1l-1 1m-21 3l1 3m-27-3l0 3m-29-3l1 1" stroke="#f4eef7" stroke-width="2.6" stroke-linecap="round" fill="none" stroke-opacity="0.85"/>
</g>
<path d="M11.3 25.0C11.3 26.5 10.8 28.2 10.1 29.5C9.3 30.7 8.1 32.4 7.0 32.5C5.9 32.7 4.1 31.7 3.3 30.4C2.5 29.2 2.1 26.8 2.1 25.0C2.1 23.2 2.7 21.0 3.5 19.9C4.3 18.7 5.9 18.1 7.0 18.1C8.1 18.2 9.4 19.3 10.2 20.4C10.9 21.6 11.3 23.5 11.3 25.0Z" fill="#d6627c" transform="rotate(0 7.0 25.0)"/>
<path d="M17.1 117.0C17.2 118.6 16.2 120.9 15.1 122.1C13.9 123.2 11.7 123.9 10.0 123.9C8.3 124.0 6.1 123.5 4.7 122.3C3.3 121.1 1.7 118.6 1.8 117.0C1.9 115.4 4.1 113.5 5.4 112.4C6.8 111.3 8.5 110.4 10.0 110.4C11.5 110.4 13.4 111.3 14.6 112.4C15.7 113.5 17.0 115.4 17.1 117.0Z" fill="#d6627c" transform="rotate(0 10.0 117.0)"/>
<path d="M5.0 101.0C5.0 104.1 4.4 106.9 4.1 109.8C3.8 112.8 3.4 118.5 3.0 118.6C2.6 118.6 2.1 113.0 1.9 110.1C1.6 107.1 1.4 104.5 1.3 101.0C1.3 97.5 1.2 91.4 1.5 88.8C1.7 86.2 2.5 84.9 3.0 85.4C3.5 85.8 3.9 88.9 4.2 91.5C4.5 94.1 5.0 97.9 5.0 101.0Z" fill="#d6627c" transform="rotate(0 3.0 101.0)"/>
<path d="M123.1 98.0C123.1 99.0 122.7 100.2 121.7 100.9C120.6 101.6 118.8 102.2 117.0 102.3C115.2 102.4 112.1 102.4 111.0 101.7C110.0 101.0 110.7 99.1 110.8 98.0C111.0 96.9 111.0 95.6 112.0 94.9C113.1 94.2 115.4 94.0 117.0 94.1C118.6 94.1 120.8 94.3 121.8 95.0C122.9 95.6 123.2 97.0 123.1 98.0Z" fill="#d6627c" transform="rotate(-30 117.0 98.0)"/>
<path d="M151.2 59.0C151.2 60.8 151.3 63.3 150.7 64.5C150.2 65.6 148.8 65.9 148.0 65.8C147.2 65.6 146.4 64.7 145.7 63.5C145.0 62.4 143.8 60.5 143.8 59.0C143.8 57.5 145.1 55.9 145.8 54.5C146.5 53.1 147.2 50.6 148.0 50.4C148.8 50.2 150.2 52.0 150.8 53.5C151.3 54.9 151.2 57.2 151.2 59.0Z" fill="#d6627c" transform="rotate(10 148.0 59.0)"/>
<path d="M136.8 194.0C136.7 194.6 136.0 195.3 135.3 195.7C134.7 196.1 133.8 196.3 133.0 196.3C132.2 196.3 131.2 196.1 130.6 195.7C130.1 195.3 129.8 194.6 129.8 194.0C129.7 193.4 129.8 192.5 130.3 192.1C130.9 191.7 132.1 191.7 133.0 191.7C133.9 191.7 135.1 191.7 135.7 192.1C136.3 192.5 136.8 193.4 136.8 194.0Z" fill="#d6627c" transform="rotate(0 133.0 194.0)"/>
<g transform="scale(0.5)"><path d="M147 165l1 1m-41 10l-2 1m-55 23l-1 4m42-10l-3 1m56 16l-1 3m-4 8l-3 0m-5 0l-2 2m-18-10l0 3m-8-5l1 3m0-5l-3 1m-11-2l3 1m-50-2l1 4m-35 23l2 3m74-3l2 1m73-11l-3 1m18 2l0 2m6 8l0 2m2-5l-2 1m-2 9l-2 1m-49 4l-3 0m-18-2l-2 2m-20-6l-1 1m56 21l3 1m8-7l-2 2m60 15l-1 4m-117-4l0 2m-11-6l-1 1m-6 4l3 3m-30 40l-3 2m77 16l-2 2" stroke="#d6627c" stroke-width="4.0" stroke-linecap="round" fill="none"/></g>
</g>
<rect x="802.60" y="847.00" width="221.90" height="255.40" fill="#fff" filter="url(#tn)"/>
</g>
<rect x="802.60" y="847.00" width="221.90" height="255.40" fill="none" stroke="#3c3550" stroke-width="0.90"/>
<g clip-path="url(#hc2)">
<rect x="1032.20" y="847.00" width="221.90" height="255.40" fill="#dfc8e0"/>
<g transform="translate(1032.2 847.0)" filter="url(#tb)">
<ellipse cx="195" cy="188" rx="23" ry="16" fill="#e2b6d8" opacity="0.35" filter="url(#tb3)"/>
<ellipse cx="180" cy="176" rx="28" ry="22" fill="#b7a6d6" opacity="0.35" filter="url(#tb3)"/>
<ellipse cx="49" cy="135" rx="32" ry="24" fill="#e2b6d8" opacity="0.35" filter="url(#tb3)"/>
<ellipse cx="149" cy="63" rx="25" ry="25" fill="#e2b6d8" opacity="0.35" filter="url(#tb3)"/>
<ellipse cx="113" cy="191" rx="27" ry="29" fill="#e2b6d8" opacity="0.35" filter="url(#tb3)"/>
<ellipse cx="37" cy="53" rx="32" ry="21" fill="#b7a6d6" opacity="0.35" filter="url(#tb3)"/>
<ellipse cx="124" cy="113" rx="38" ry="27" fill="#b7a6d6" opacity="0.35" filter="url(#tb3)"/>
<ellipse cx="142" cy="120" rx="28" ry="24" fill="#b7a6d6" opacity="0.35" filter="url(#tb3)"/>
<ellipse cx="193" cy="175" rx="34" ry="24" fill="#e2b6d8" opacity="0.35" filter="url(#tb3)"/>
<ellipse cx="203" cy="159" rx="39" ry="22" fill="#b7a6d6" opacity="0.35" filter="url(#tb3)"/>
<ellipse cx="110" cy="20" rx="16" ry="22" fill="#ecd6ea" opacity="0.9" filter="url(#tb2)"/>
<ellipse cx="170" cy="100" rx="18" ry="14" fill="#ecd6ea" opacity="0.9" filter="url(#tb2)"/>
<ellipse cx="30" cy="40" rx="30" ry="8" fill="#ecd6ea" opacity="0.9" filter="url(#tb2)"/>
<ellipse cx="60" cy="215" rx="40" ry="10" fill="#ecd6ea" opacity="0.9" filter="url(#tb2)"/>
<g transform="scale(0.5)">
<path d="M15 10l1 1m13-11l-1 2m16 4l-1 0m18 7l0 2m15-14l2 2m39 11l1 2m8-15l1 3m17-4l2 1m142 12l-2 0m35-7l0 3m14-9l-1 1m24-1l1 1m36 1l-2 2m-9 26l2 1m-43-12l-2 2m-21 3l0 3m-13-9l-1 1m-71-3l-1 0m-20 10l-2 0m-14-7l-3 2m-13 7l-3 1m-45-12l2 1m-32 4l-1 2m-70-5l3 0m-25 6l-3 0m11 12l-1 1m21-3l-1 0m64 5l0 2m66-5l2 0m33-1l-1 1m72 1l-2 1m35 5l0 2m16-6l-3 1m44-8l1 1m13 9l-1 1m25-2l-1 1m42 7l-2 2m-16 2l1 0m-21 3l2 1m-15 4l2 3m-27-7l2 0m-63 1l-3 1m-30 2l-2 0m-17-11l1 1m-13 11l-2 1m-7-13l-2 0m-18 0l-2 3m-13-3l-1 1m-30 4l-1 1m-18-7l1 0m-42 3l0 3m-36 7l2 0m-18-12l1 1m-13 10l-1 0m-33 3l0 1m21 5l-2 1m25 3l0 3m73-12l-1 1m47 9l1 2m20-7l-1 0m22-1l-3 1m67 6l3 1m12-9l-2 2m41 6l3 2m24-9l-2 2m19 7l1 1m19-1l-2 0m26-10l-1 1m-35 25l-3 1m-63-8l0 2m-45 4l-1 1m-40-14l-2 1m-24 1l0 2m-25 8l2 0m-24 1l2 0m-41-12l0 2m-49-1l1 1m-30 2l-1 2m-24-8l-2 2m21 18l-1 2m20-4l0 3m22 11l1 0m17-9l-1 3m26 4l2 1m18-8l3 0m26 3l-1 1m28-9l0 2m18 5l2 0m16-5l1 2m52-2l1 2m36 5l3 1m92 0l0 1m12-9l3 1m12 8l-3 0m-12 13l-2 2m-19 1l-2 3m-17-13l1 0m-20 8l-2 2m-25-13l2 1m-6 12l-3 1m-34-11l2 2m-20-2l2 1m-43 9l1 1m-46-2l-2 1m-31-3l-1 1m-94 1l-2 1m-58-1l0 1m-7 15l1 2m24-15l0 3m13 5l-1 3m24 0l-3 1m49-12l2 2m16-1l-3 0m28 3l2 2m53 1l1 3m26 7l-3 0m45-3l-2 1m17-15l1 3m37 10l0 2m41-4l0 3m24-7l1 2m48-8l-2 1m-9 18l0 1m-24 11l2 1m-61-9l-2 1m-131 4l-2 1m-21-12l-1 0m-22-1l-1 2m-15 13l-2 2m-36-8l-2 2m-22-8l-2 1m-14 6l0 2m-77 0l1 0m15 13l1 2m41 1l3 1m22-3l0 2m16-12l2 2m10 12l-2 0m77-13l-1 2m54 0l-1 1m32-2l1 1m98-3l-1 1m73 24l0 2m-22 1l2 1m-20-4l3 0m-58-8l3 1m-30 11l3 0m-66 1l1 2m-15-4l-1 0m-66-2l1 1m-127-2l-2 2m-19 6l-2 1m15 6l0 1m17-6l2 1m25-1l0 3m22-5l2 2m15-1l0 2m25 7l-1 3m14-8l1 1m33-7l-2 2m26 3l-2 1m30 5l-2 0m24-2l-1 3m39-6l1 1m24 0l0 2m18-2l-1 1m25-1l3 1m14-4l-1 0m19 11l1 1m20-10l0 3m2 20l2 0m-46 0l1 1m-32-10l-2 2m-18-2l1 3m-15-3l-2 0m-20 3l-2 1m-17-6l-1 2m-48-2l-2 2m-30 2l-2 0m-30-5l2 2m-33 5l2 1m-20-5l0 1m-43 3l1 2m-17-6l0 1m-20 6l1 0m-26 8l2 2m27 10l-2 1m45-3l0 2m26-13l-3 1m15 7l-1 1m20 0l-2 0m79-11l0 1m88 8l2 1m33-7l3 0m24-1l0 2m47 26l3 0m-17 1l-2 1m-42-17l-2 2m-16 10l1 1m-41 2l3 1m-24-14l0 3m-16 1l0 3m-40-8l1 1m-1 13l-1 2m-18-15l-1 1m-30 6l0 2m-73-1l1 1m-101-8l-1 0m3 14l0 2m70-1l-1 1m21 6l-2 1m23-3l-2 1m56 5l0 1m62 1l1 2m15-16l1 1m49 9l-2 1m46 1l1 0m22-9l1 3m41 17l1 3m-16-5l2 1m-19 3l-1 1m-22 5l2 1m-86-11l-2 1m-20-3l0 2m-22 7l-1 1m-24-4l-2 1m-72 2l-2 1m-20-7l-1 1m-42 6l2 2m-59-13l1 0m38 26l-2 1m35-13l2 0m153 9l1 3m20-9l-2 1m37 10l2 0m17-4l1 1m16-5l-1 1m17-2l-1 1m48 3l0 2m51 8l2 0m-78-1l-2 1m-28 0l2 1m-13 6l-2 1m-18-4l-1 2m-28-7l2 2m-20 5l-1 1m-40-7l1 2m-23-1l-1 1m-20 0l1 2m-17 5l1 1m-29-13l2 1m-70 4l0 2m-32-5l2 0m-25 6l1 1m15 9l-2 2m25 5l1 1m56 1l-2 2m32-2l1 1m47-8l-1 3m80 2l-1 3m14-12l-2 2m23 0l-2 2m41 9l1 1m67 0l-2 1m22-1l1 3m5 12l1 1m-150-14l-1 1m-21 9l2 1m-20-12l0 2m-14-1l-2 1m-17 1l-2 1m-20 8l0 1m-63 2l-3 0m-26-5l-1 1m-21 2l2 3m-58-4l1 1m13 16l-2 3m14-13l3 1m8 12l0 2m118-11l0 2m19 7l0 1m16-13l2 0m72 0l1 3m41 8l1 1m49-1l1 2m25-10l0 1m50-3l2 1m-4 17l0 2m-43 0l3 1m-37 6l0 1m-15-13l-1 2m-26 11l3 0m-66-9l-3 1m-26-3l1 1m-33 5l0 1m-64 0l2 0m-58-3l2 2m-29 5l-2 0m-36-9l1 2m8 20l1 1m54-5l1 2m46-1l0 3m63-10l-1 1m16 7l-1 2m27 0l2 0m29 1l3 0m23-9l1 1m29 8l0 1m24-15l0 2m76 3l2 0m22 7l-1 1m10 12l-2 1m-21-9l-2 1m-45 6l1 1m-103 1l1 1m-90-7l0 2m-15 8l-1 2m-11-12l2 0m-40 5l-2 2m-106-1l-3 1m20 5l-1 2m25 3l-1 0m16 2l2 1m27 1l1 2m20 0l0 1m37-3l-3 0m40-6l2 1m57 0l-1 0m35 0l2 1m15-2l1 1m27 10l0 2m29-9l0 2m44 5l0 2m19-1l1 1m15-7l1 1m-18 20l-2 1m-36-9l0 1m-36-5l1 3m-54 10l1 1m-33-14l2 0m-87 6l1 2m-42-9l1 1m-14 9l2 2m-42-2l2 1m-30-9l3 0m-26 3l2 1m-16-5l-1 0m-13 11l-1 1m22 17l0 2m77-14l1 2m19 8l1 1m23-14l-1 3m32 9l1 0m18-11l-2 1m18 4l1 3m69 6l0 2m59-13l0 2m35 2l1 1m23-1l0 3m42 0l-1 1m-24 18l-1 3m-14-8l1 1m-42-8l1 2m-49 1l-1 3m-16 5l1 0m-102-7l2 1m-18 7l-2 1m-64 0l3 1m-13-12l1 1m-96 12l-1 2m18 13l2 0m27-3l-1 2m32-11l0 2m44 1l-3 0m20-7l-3 1m144 7l-3 1m31 0l-2 2m60 3l0 1m19-8l-1 2m45-8l-1 0m1 15l-2 2m-15 1l2 0m-20 0l1 2m-75 7l1 0m-49-2l-1 2m-22 1l-2 1m-18-15l0 2m-59 13l0 2m-65-14l-2 1m-17-1l2 3m-17-1l2 0m-34 9l1 1m-34-5l1 3" stroke="#857ab1" stroke-width="9.2" stroke-linecap="round" fill="none"/>
<path d="M90 11l3 2m65-2l1 1m14-7l-2 0m49 2l-3 1m58-4l1 1m98 4l0 3m52 3l0 2m-15-1l1 1m-49 0l-2 3m-67 11l1 0m-139-3l-1 1m-89 5l3 1m56 7l1 3m58 0l-2 1m45-13l2 2m195-2l-2 2m-76 17l2 2m-16 8l-1 1m-45-13l2 1m-204 1l-3 1m-52 2l-1 2m66 7l2 1m15 4l-1 3m40-4l2 2m156 9l-1 0m129 7l-2 1m-29 6l0 1m-159-1l-1 3m-116-1l-1 1m-40-14l1 2m-68 17l-1 0m89-6l-2 2m49 14l-2 0m149-11l-1 2m74 7l-1 1m-21 13l0 2m-81 1l0 1m-8-16l2 2m-81 0l-1 2m-97 8l0 1m-43-3l1 2m93 15l0 2m44-6l-2 0m211 21l3 0m-83 2l2 1m-23-1l0 1m-30-13l-3 0m-219 5l1 2m-21 0l1 0m26 16l-1 1m87-4l-2 2m22 9l-3 0m19-4l-1 0m57 2l-1 1m34-6l0 1m132 3l0 1m51-7l-1 2m-68 15l2 2m-76-10l2 1m-17-1l-1 0m-88 0l0 2m-55 4l-2 1m-39-5l-1 3m-83 5l0 1m-7 20l-1 0m264 11l0 1m-27 3l-1 2m-215-10l1 0m35 16l2 0m132-1l-1 1m96-3l1 2m129-2l-1 1m17 21l0 2m-47-10l0 1m-137-2l0 2m-103 6l2 2m-128-9l1 0m30 15l-1 2m79 3l2 2m16 1l-3 0m68 3l1 3m65-10l1 1m31 5l-1 2m76-10l-1 1m54 14l-3 1m-14 8l1 1m-102-8l1 2m-38 4l2 1m-129-2l2 2m-120-6l-2 3m-35 18l-2 1m68 2l0 3m78-12l-1 2m19 2l-2 1m16-8l-1 1m224 13l0 3m37-17l-2 2m-18 16l1 1m-10 12l1 1m-19-4l1 1m-162-4l-1 1m-136-2l2 1m-28 5l2 0m-1 15l-3 1m46-10l0 3m35 3l2 1m51-11l-3 1m18 1l-2 0m97 8l-2 0m63-7l3 2m54-5l2 1m1 15l-2 2m-52 2l2 1m-31 8l-2 2m-32-2l-2 0m-16-7l1 1m-134-2l-2 1m-25 8l1 2m-118-13l2 2m40 26l1 0m14-7l0 3m16-2l-1 3m129-11l-1 2m81 5l-3 0m30 0l-2 3m82-9l-1 2m18 8l-2 0m-124 16l1 2m-19-13l0 1m-73 8l2 2m-66-13l-3 2m-35 5l1 1m-80 4l0 3m-26 7l1 2m90-3l2 1m42 7l-3 1m242-4l-1 1m21 4l-2 1m14 11l-1 2m-76-13l1 3m-3 13l2 1m-35-14l3 0m-67 10l2 2m-21-7l2 2m-72 1l0 1m-57-2l-3 1m-23-6l3 0m143 25l-1 3m170-6l-3 0m-52 20l2 2m-43-8l-1 2m-50-9l1 1m-67 3l1 2m-154 19l-1 2m39-4l1 1m16 4l-1 2m24-5l0 2m159-12l-2 1m135 23l1 1m-52 2l0 1m-175-12l-2 2m-104 4l1 2m-12 14l2 2m27-7l0 2m117 11l2 0m70 0l-2 1m95-15l1 1m31 29l0 1m-39-14l-1 2m-38 3l1 2m-85-1l-2 0m-14 5l0 1m-36-13l-1 1m-32 3l-1 2m-64 7l0 3m-38-2l2 2" stroke="#9a8fc0" stroke-width="9.2" stroke-linecap="round" fill="none"/>
<path d="M202 1l1 1m41 2l2 0m17 11l-1 1m46-16l-1 1m134 8l1 1m-183 20l0 2m-179-7l1 2m-78 17l1 1m137-11l3 1m298 34l1 2m-25 16l1 2m-74 0l-1 3m-85-5l1 1m-114-1l-1 1m-145 10l1 0m359 2l1 0m-42 25l0 1m-90-10l-1 1m72 24l0 2m114-3l0 2m-84 23l2 1m91 4l2 0m-215 13l-1 1m86 12l-2 1m114 25l-1 2m-224-5l0 3m-84-10l-1 0m64 12l-2 1m173 10l-1 2m78 2l-1 2m-85 12l-2 2m-195-6l-1 2m-63-6l3 1m-36 20l-1 2m162-9l1 2m-53 15l-2 1m-117 13l1 0m74 5l-1 0m18 15l1 1m241 11l0 2m11 27l-2 2m-307-16l0 1m323 41l-2 0m-209 4l-2 2m-16-4l1 3m-89 3l1 2m182-4l-1 2m103 11l0 2m44 14l1 1m-288-16l0 3m-67-2l-2 2m-33 23l-1 0m424-7l3 0m-63 27l-2 1m-56-6l1 3m-149 8l2 2m73 7l-2 1m32-7l2 2m150 5l2 1m-157 12l3 0m-15-2l-2 2m-19 2l1 2m-22 3l-2 2m149 24l1 1m-205-5l0 2" stroke="#615796" stroke-width="9.2" stroke-linecap="round" fill="none"/>
<path d="M6 9l3 0m23-10l3 2m32 1l1 2m19-4l1 3m15 8l2 1m16-10l-4 0m38 4l-4 1m15-3l3 1m18 1l3 0m25 6l-2 2m26-3l1 1m28-8l2 1m30-4l-1 3m18 2l-2 3m17-7l-2 1m30 11l4 0m14-11l2 5m58-2l4 1m-53 9l1 1m-34 10l-3 2m-12-6l-2 4m-13-9l0 5m-12 0l-1 3m-42 3l-4 2m-9-15l-2 5m-29 1l3 1m-38-5l2 5m-15-8l0 3m-50 11l-4 0m-5-14l-1 3m-8 8l-1 4m-19-9l-2 2m-59-7l-4 2m-1 27l2 4m40-8l2 1m19 0l1 1m151-8l3 3m17 1l-4 1m91 2l-2 0m20-4l2 1m62 0l0 5m12 4l1 4m-32-3l0 2m-26 12l3 1m-4-16l1 1m-91 7l-3 2m-65-10l4 2m-46 3l-3 0m-37-6l1 4m-11 9l-4 3m-90-2l-3 1m-30 11l-1 5m20-6l1 4m51 0l0 2m24 1l-1 2m61-15l-1 3m22-1l4 0m36 1l1 1m22 6l3 0m60 1l4 2m10-12l2 1m89-3l-3 1m20 13l0 3m-141 5l-3 1m-18 1l-1 3m-86-8l-1 1m-14-2l-3 1m-23-2l-1 2m-108 9l-4 2m-19-6l3 0m5 19l-2 2m26-10l3 3m10 4l2 2m57-11l-2 0m17 11l3 2m13-5l-1 4m13-13l-3 1m28 3l2 3m18 1l-1 4m16-1l-1 3m21-13l1 3m43 7l-3 1m36-15l2 4m10 10l0 2m53-10l-2 3m45-6l0 2m22 8l2 1m-21 6l-1 2m-46 0l-5 0m-8 8l-1 2m-131-7l-3 1m-28 3l0 2m-17 1l-1 3m-14-5l-2 1m-15-3l1 5m-47-9l0 2m-48 2l4 0m-18-4l3 1m-19-4l3 2m-19 22l-2 2m44-2l4 2m76-12l3 3m31 9l1 2m86-10l2 3m34-9l2 4m18 11l-1 1m17-1l0 4m29-7l-2 1m41-9l2 4m-20 14l4 0m-47 8l-2 1m-57-3l-2 1m-15-4l-3 1m-17 1l-4 0m-100-8l-1 5m-12 2l-2 2m-89-11l1 2m-18 16l1 4m93 5l-1 2m34 0l2 1m22-5l-3 0m81 2l-2 1m32-1l3 3m16-9l3 1m25 8l1 4m25-17l4 2m13-1l1 2m16 0l4 1m44-2l-1 2m16 2l3 1m-92 17l5 1m-59 2l1 1m-13-9l-3 1m-28 4l-1 2m-18-1l-1 3m-45-12l-2 4m-17 0l2 2m-94 1l-3 3m-17-6l-4 3m-21 3l2 0m-20 17l2 1m99-10l-1 4m63-1l4 1m54 5l2 2m119-1l1 1m16-8l-1 3m53 10l-2 4m-22-1l2 1m-17 1l-1 2m-28 5l2 0m-18-13l-3 1m-14 5l-1 1m-14 1l0 2m-49 0l0 2m-11-12l0 3m-14 7l-2 1m-32-8l1 2m-64 3l-3 4m-36-13l-4 2m-90 2l-2 2m51 9l-3 3m22 1l1 3m97-1l-3 1m78-3l-3 3m25 0l4 1m16-1l3 1m38 2l3 0m16-2l-4 3m36 0l4 1m57 17l-3 3m-14-15l-2 1m-133 9l1 4m-31-4l-4 2m-29-13l-2 1m-80 3l3 0m-29 3l0 4m-17 0l-1 1m-12-6l-3 0m-33-1l3 1m-20-7l1 4m-20 6l2 2m11 18l-2 1m22-9l0 3m28-4l1 1m29 5l-3 2m21-6l-3 3m21-4l-4 1m35 0l-1 3m48-5l1 1m77 4l0 2m78-13l1 4m30 1l3 2m30 26l-2 2m-23-14l-4 0m-14-3l3 3m-16-2l1 3m-34-1l-2 1m-48 8l-2 1m-19 2l0 2m-78-9l-1 2m-91-1l3 3m-52-6l-2 1m-21-1l1 1m-22 3l-2 0m-15 5l-4 2m38 12l3 3m31-12l3 2m27 5l1 5m15-2l-3 2m14-8l2 1m228-3l0 4m27-3l4 2m9-9l2 2m10 12l-2 2m10 10l-3 3m-18-7l-1 1m-24 0l-3 0m-139 5l-3 0m-21 1l3 2m-16-9l-4 0m-14 6l-2 1m-12 0l-4 2m-15-15l1 2m-26 11l1 3m-74-3l-4 3m-37-9l4 2m15 20l4 1m50-3l2 1m57-10l-2 1m14 8l4 2m35-7l4 2m22 6l3 3m27-13l0 3m31-3l-1 1m63-5l2 1m10 10l-3 1m44 15l1 3m-30-11l2 3m-12 7l-3 0m-40-2l-1 2m-16-14l-1 3m1 13l-3 0m-41-3l-4 1m-61 1l3 1m-47-15l1 4m-44 1l-3 3m-85-10l-3 4m8 25l1 2m19-6l0 2m82 4l2 2m5-15l3 3m39-3l3 3m49-2l2 4m14 7l-2 2m40-5l1 2m42-2l1 4m13-11l1 4m49 0l-2 2m71 2l-2 4m-91 6l-4 1m-47 7l2 2m-42-6l1 4m-41-3l3 3m-76-13l3 4m-18-1l0 2m-21 9l-1 2m-17-13l3 1m-21 11l3 3m-7-15l1 2m-20-4l4 3m-13 5l-2 2m-24 3l0 2m110 6l-3 3m57-6l2 3m18 6l0 3m17-1l-1 4m96-14l2 1m77 2l-1 2m23 0l0 2m14 6l1 3m-237 3l-2 0m-90 6l2 3m-54-3l-2 1m-41-4l-2 1m27 15l0 2m101-3l-3 2m19 0l1 4m15-13l0 4m18-2l-1 2m45 4l3 3m29-9l-1 2m18-3l-1 2m39 9l-1 5m71-13l3 2m27 17l-3 1m-119-10l2 2m-17 13l3 4m-9-18l1 3m-76 3l-2 4m-19-7l-2 4m-35 6l-2 3m-75-6l3 2m-24 1l-1 1m-32-2l-4 2m22 2l0 2m17 10l0 3m13-5l2 3m95-5l3 0m31-1l4 0m147 6l-2 2m64-13l-2 1m25 21l4 0m-100 0l-3 4m-70-11l-1 2m-50 4l-4 0m-88 2l-1 1m-68 4l1 3m-26-13l3 2m11 17l2 4m35 0l1 1m32-4l-1 4m67-5l-2 2m36 0l1 3m16-11l-1 3m31 2l4 2m40 2l-4 0m27-6l0 4m24-1l-1 3m36 4l2 3m45-11l0 4m15-7l2 3m2 16l4 2m-39-5l3 1m-91 6l2 1m-33 2l-1 2m-34-7l3 2m-131-7l0 2m-20 9l-3 0m-12-5l-2 4m-39-12l0 3m-24 2l0 3m-14-1l0 3" stroke="#f4eef7" stroke-width="2.6" stroke-linecap="round" fill="none" stroke-opacity="0.85"/>
</g>
<ellipse cx="126" cy="14" rx="12" ry="9" fill="#8a7ab8" transform="rotate(65 126 14)"/>
<ellipse cx="126" cy="14" rx="7" ry="5" fill="#6f60a6" transform="rotate(100 126 14)"/>
<ellipse cx="169" cy="79" rx="11" ry="8" fill="#8a7ab8" transform="rotate(177 169 79)"/>
<ellipse cx="169" cy="79" rx="7" ry="5" fill="#6f60a6" transform="rotate(84 169 79)"/>
<ellipse cx="187" cy="114" rx="12" ry="9" fill="#8a7ab8" transform="rotate(67 187 114)"/>
<ellipse cx="187" cy="114" rx="7" ry="5" fill="#6f60a6" transform="rotate(28 187 114)"/>
<ellipse cx="46" cy="166" rx="12" ry="9" fill="#8a7ab8" transform="rotate(87 46 166)"/>
<ellipse cx="46" cy="166" rx="7" ry="5" fill="#6f60a6" transform="rotate(59 46 166)"/>
<ellipse cx="218" cy="71" rx="7" ry="5" fill="#8a7ab8" transform="rotate(171 218 71)"/>
<ellipse cx="218" cy="71" rx="4" ry="3" fill="#6f60a6" transform="rotate(75 218 71)"/>
<ellipse cx="150" cy="12" rx="8" ry="6" fill="#8a7ab8" transform="rotate(72 150 12)"/>
<ellipse cx="150" cy="12" rx="5" ry="4" fill="#6f60a6" transform="rotate(3 150 12)"/>
</g>
<rect x="1032.20" y="847.00" width="221.90" height="255.40" fill="#fff" filter="url(#tn)"/>
</g>
<rect x="1032.20" y="847.00" width="221.90" height="255.40" fill="none" stroke="#3c3550" stroke-width="0.90"/>
<g clip-path="url(#hc3)">
<rect x="1261.60" y="847.00" width="221.90" height="255.40" fill="#d3b1d3"/>
<g transform="translate(1261.6 847.0)" filter="url(#tb)">
<ellipse cx="18" cy="57" rx="23" ry="16" fill="#e3a9d0" opacity="0.35" filter="url(#tb3)"/>
<ellipse cx="28" cy="134" rx="34" ry="26" fill="#e3a9d0" opacity="0.35" filter="url(#tb3)"/>
<ellipse cx="92" cy="201" rx="23" ry="20" fill="#c9a6d6" opacity="0.35" filter="url(#tb3)"/>
<ellipse cx="129" cy="242" rx="24" ry="19" fill="#e3a9d0" opacity="0.35" filter="url(#tb3)"/>
<ellipse cx="48" cy="252" rx="30" ry="25" fill="#c9a6d6" opacity="0.35" filter="url(#tb3)"/>
<ellipse cx="66" cy="123" rx="24" ry="16" fill="#e3a9d0" opacity="0.35" filter="url(#tb3)"/>
<ellipse cx="204" cy="25" rx="20" ry="22" fill="#c9a6d6" opacity="0.35" filter="url(#tb3)"/>
<ellipse cx="221" cy="252" rx="34" ry="19" fill="#c9a6d6" opacity="0.35" filter="url(#tb3)"/>
<ellipse cx="122" cy="152" rx="28" ry="26" fill="#c9a6d6" opacity="0.35" filter="url(#tb3)"/>
<ellipse cx="14" cy="114" rx="37" ry="23" fill="#c9a6d6" opacity="0.35" filter="url(#tb3)"/>
<g transform="scale(0.5)">
<path d="M3 15l2 0m1-15l0 2m24-1l1 0m11 2l-1 3m8 7l3 1m1-14l-2 1m32 7l0 1m7-9l2 1m15 8l1 3m7-12l1 2m9 9l-2 1m7-9l-1 0m16-2l2 3m14-1l1 0m37 0l2 1m8-3l3 1m15-2l0 3m27 10l2 2m8 0l3 0m8-4l3 1m8-9l-2 1m39-2l1 0m13-1l1 1m9 8l-1 3m22-12l-3 1m8 12l-1 2m12-3l0 1m12-10l-2 2m47 6l-1 1m-12 16l1 1m-22-5l-1 0m-28 5l0 2m-14-3l-1 2m-1-14l1 0m-28-2l0 2m-8 8l-1 2m-7-9l-1 1m-17 6l2 1m-54-5l-3 1m-10 0l0 3m-16-3l2 2m-17-3l-2 0m-20 10l1 1m-12-9l-1 1m-18 2l1 2m-11-6l-2 1m-26 2l1 1m-10-5l1 1m-12-3l0 1m-8 2l-2 3m-36 1l2 2m-41-1l0 1m-11 5l3 1m21 10l-1 2m11 0l-1 2m4-11l3 1m12 5l0 3m12-5l1 3m11-10l-3 0m28-1l2 0m14 9l-1 1m10 2l2 2m11-10l-1 2m15 1l0 2m8-6l1 0m8 2l2 1m43-5l1 2m2 7l2 2m13-2l0 2m7-12l1 2m34 10l0 1m10-2l2 1m9-13l-2 1m8 9l-1 1m15 1l0 1m3-11l1 2m19 6l1 1m31-2l2 1m12 3l1 0m17 2l-2 1m32 5l1 3m-40 4l0 3m-11 0l2 1m-9-7l-3 0m-8-5l1 1m-15 1l2 2m-11 2l1 1m-24 2l0 3m-26-14l2 1m-2 11l-1 1m-12-7l2 2m-29 5l1 0m-12-4l1 1m-43-10l2 2m-14-2l2 0m-19-2l2 0m-11 12l1 1m0-11l-2 0m-9 2l-1 1m-31 3l-1 0m-12 4l0 2m-12-2l1 1m-5-14l-1 2m-6 7l1 3m-8 2l-2 1m-21-7l-1 1m-27-1l0 1m-7 6l-1 2m-18-14l2 1m1 23l1 3m12-4l-1 0m15-9l-1 1m9 9l-2 0m25 4l0 1m13-8l1 2m17-1l3 0m13 0l1 1m17-5l1 2m23 7l-2 2m12-6l2 1m16 0l-1 1m22-11l0 1m18 13l2 0m20-7l-3 2m36 0l-1 2m13-6l2 1m6 7l-2 1m39-1l1 2m7-10l-1 0m5 8l2 2m10-1l1 0m13-15l1 3m15 7l-1 1m18-3l0 2m16-4l1 1m2 8l2 2m18 8l-3 0m-14 5l-3 0m-19-4l1 2m-10-8l1 1m-1 11l2 2m-16-6l-1 1m-12 1l-1 1m-49-8l1 1m-12 1l3 1m-12 2l0 2m-13-1l0 1m-2-10l1 1m-17 10l1 1m-15-14l0 1m-2 10l1 0m-10-8l0 1m-28 4l1 2m-11-11l3 0m-10 8l-1 0m-15-2l-2 1m-11 2l0 2m-7 4l-1 1m-12-9l0 2m-11-4l0 2m-10-5l0 1m-11 2l-2 2m-11-2l-2 0m-6 10l2 1m-11-3l1 2m-7-10l-2 0m-29-3l0 1m-8 4l-2 1m-10-5l3 0m-24 11l-2 2m0 11l2 0m13 2l3 0m25 1l0 1m22-11l1 1m21 5l1 3m32-1l0 1m45-8l1 1m11 1l-1 0m10 3l3 0m12-9l-1 1m16 4l-2 0m12-2l-2 2m11-4l0 2m26 4l-2 1m47-6l2 0m8 5l0 1m21-1l1 1m31-4l-1 1m12-1l0 3m20-5l1 3m14 4l2 1m10-8l1 1m10-2l1 0m-1 23l-1 1m-13 4l-2 2m-8-3l-2 1m-1-13l-2 0m-10 3l2 1m-16-1l-2 2m-27 0l-1 3m-14-4l0 3m-25-2l-2 2m-6-9l-1 2m-15 2l1 0m-16 5l-3 1m-22-5l2 1m-17-4l-1 0m-5 12l3 2m-14-4l-1 0m-26-1l0 1m-14-8l2 0m-50 5l1 2m-20 3l-2 2m-58-15l3 1m-40 12l1 2m-13-7l1 3m-4 18l-1 0m9-8l0 1m22-1l2 2m8 4l-1 1m7-10l1 0m16 9l2 2m9-13l2 0m11 12l-1 2m0-13l1 2m12 7l-3 1m4-11l0 2m22-1l2 0m17-1l-1 1m7 13l0 1m7-14l-2 3m11 8l0 2m21-5l1 1m9-7l1 2m3 9l2 2m23-9l2 0m12-2l1 3m18 7l-2 2m13-9l2 1m25 5l1 0m18-3l1 2m8-10l-2 2m15 3l-1 1m28 0l1 2m11 2l-1 2m25-16l0 3m6 13l-1 1m27-2l-1 1m-22 10l1 3m-13-5l3 1m-10 6l-1 1m-3-13l2 1m-17 11l-1 2m-6-11l0 3m-8 1l-2 2m-10-10l2 0m-2 14l-1 1m-13-16l-2 1m-3 10l1 3m-17-1l0 3m-1-16l-2 2m-7 10l0 2m-14-9l-1 1m-12-3l1 1m-16 6l-1 1m-11-8l-1 3m-17 6l-2 2m-7-14l2 1m-8 8l-2 0m-19-6l1 2m-34-1l1 1m-26-5l3 0m-17 15l1 0m-8-13l0 1m-16 2l0 1m-5 7l-2 2m-8-10l0 2m-12 2l1 2m-17-6l1 1m-14 8l2 2m-5-12l-3 1m-9 0l-1 1m-22 25l1 0m11-12l-1 0m0 12l2 1m9-14l-2 2m8 8l1 1m23-11l2 1m14 4l2 1m37-3l0 2m45 1l1 3m16-9l0 3m26-1l-1 2m22-2l0 3m9 0l1 0m9 6l0 3m10-7l-2 1m19-2l1 0m13-2l-3 1m7 7l3 0m16-7l0 1m19-2l2 1m11 0l-1 1m11 7l0 1m12-13l-1 2m13 4l1 2m16-5l-1 1m13 1l0 2m8 4l-1 1m9-10l1 0m7 9l0 1m9-8l-2 0m18-6l-2 2m-1 25l1 1m-9-10l2 1m-12 3l0 3m-15 3l-1 1m-27-15l2 2m-4 12l1 2m-14-6l-2 0m-25 6l-2 2m-9-13l-2 0m-26 3l2 0m-25-2l0 2m-13 3l2 0m-11-5l1 1m-74-5l3 1m-21 0l1 1m-8 5l-2 1m-16 5l1 3m-11-12l1 1m-13-6l1 2m-11 5l-1 2m-11 3l2 1m-7-9l1 1m-24 3l-3 1m-16-6l-1 2m-9 9l-1 2m-30-5l1 2m-5 10l0 2m10-4l-1 0m41-2l0 1m4 10l-3 1m12-12l-2 2m25-2l-3 0m18 2l-2 1m13-4l1 0m7 7l1 1m5-9l-1 1m15 10l2 2m11-2l-1 2m27-1l0 3m17-11l1 2m28-5l1 0m32 2l1 2m23-3l-2 0m11 3l1 1m10-6l2 2m5 7l-1 3m36-13l1 1m10 6l2 1m33-6l-1 2m46 4l-1 0m-10 14l3 0m-13 3l1 1m-13-9l1 1m-14 4l1 0m-12 3l-1 1m-12-6l1 1m-35-4l0 3m-5 9l-2 2m-9-13l-1 3m-6 6l-1 0m-12-11l2 1m-5 11l1 1m-37 3l-1 0m-8-8l1 1m-17 1l2 2m-24-11l2 1m-12-1l1 3m-26 3l1 1m-30 1l2 2m-22 2l1 2m-4-11l-1 1m-9 6l0 1m-2-12l0 2m-20-1l-1 1m-9 8l0 3m-19-12l1 3m-12 2l-1 3m-25-6l3 0m-22-3l1 1m5 26l-1 1m10-7l0 2m3 7l2 1m11-5l-2 0m18-6l-3 1m34 3l-2 2m7-8l1 1m16 0l-1 2m8 7l-1 1m26-6l0 1m14-5l1 2m11 4l2 0m40-9l-2 2m24 7l-2 0m22 1l1 1m19-7l-1 2m10 7l0 1m8-12l-1 1m3 11l2 0m33-2l2 3m17-2l1 2m15-9l1 3m13-9l0 2m7 10l-2 1m14-9l2 0m20 6l0 2m15 1l1 0m-4 8l-1 2m-23-5l2 1m-6 12l2 1m-14-13l2 2m-35-2l1 1m-8 10l-1 1m-10-5l0 1m-21-8l1 1m-31 5l2 1m-15 1l0 1m-10 1l-1 0m-1-10l-2 1m-8 1l-2 1m-7 4l-2 2m-2-11l-1 1m-14 0l-1 2m0 9l-1 1m-73-4l0 1m-36 0l0 1m-10-5l1 1m-9-7l-2 1m-23 11l-3 1m-5-8l-1 1m-14 0l1 1m-6 7l-1 1m-12-5l-1 2m-17 1l-2 1m-6 10l2 1m14 1l-1 2m10-8l0 2m63 7l-2 2m24-5l2 1m10 0l-1 1m33-10l1 1m28 3l1 3m7-10l0 2m7 9l-1 1m25-4l3 0m9-3l1 1m16 1l1 1m18-1l-1 0m14 5l-3 1m10-6l2 0m4 7l2 0m2-11l1 1m25 1l-2 0m16 4l2 1m14-9l-1 0m74 13l1 2m5-14l-1 2m1 17l1 2m-20 4l1 0m-17-1l1 1m-20-11l1 1m-8 11l-1 2m-1-12l-1 2m-11 1l0 1m-12 2l0 2m-16-7l1 2m-11 3l2 1m-39 0l0 2m-24-11l-2 1m-20 13l0 2m-7-10l-1 0m-8 1l-3 1m-23 2l-1 2m-10-11l0 3m-25 6l1 1m-62-2l1 0m-22 6l1 0m-10-2l0 2m-13-3l-1 2m0-14l1 1m-27-1l2 1m-15 14l-2 2m-12 2l-2 1m8 6l0 1m31 0l-2 2m26-7l-2 1m10 5l-1 1m18 1l-3 1m16-11l3 1m13-1l1 0m20 11l-1 1m10-6l-1 2m10 2l3 2m4-9l2 1m10-4l-1 3m18 5l1 3m15-6l-2 2m22 0l1 1m27-2l0 2m9-6l0 2m32-2l1 2m9 5l-3 1m11 0l-1 2m4-14l-2 2m12-4l2 2m7 9l1 2m11-6l2 1m11-7l-2 2m23-2l1 1m27 19l3 1m-7 6l-2 1m-10-6l1 0m-50-4l3 0m-6 8l0 2m-26-3l0 1m-23-4l-2 0m-18-4l0 1m-24 9l1 2m-10-13l-2 2m-8 6l1 0m-12-2l0 2m-4-11l0 2m-6 12l2 0m-10-7l0 1m-56-2l1 0m-8 8l1 1m-19-13l1 0m-12-1l1 2m-13 3l0 3m-13 7l3 0m-11-11l-2 1m-17-4l-1 2m-9 2l-1 0m-17-4l-2 1m-16 4l1 0m-8 8l-2 2m15 11l2 1m36-8l1 1m23 6l-3 0m37-11l2 1m22 10l-1 1m19-6l1 2m26 1l-2 0m47-6l-1 2m8 9l1 2m1-13l2 1m6 5l2 1m10 0l-1 1m45-7l-1 0m12 3l-3 1m16-1l0 1m27 5l-2 1m13-8l0 1m13 0l-1 2m11-7l0 2m25 8l0 2m7-9l-1 1m16-2l-1 2m9 19l-2 1m-13-10l3 1m-21 6l1 2m-11 1l-1 3m-11-12l-2 3m-7 1l-2 2m-10 3l0 2m1-11l-3 1m-31-2l-1 1m-12-2l0 2m-8 9l0 1m-18 3l-1 2m-9-12l2 2m-15 6l-2 0m-14-5l2 1m-10 6l0 2m-52-1l0 2m-20-3l0 2m-9-5l-2 1m-9-4l1 0m-10-4l-2 0m-11 7l-1 2m-12-12l2 0m-26 7l2 2m-10-6l-1 1m-36 1l-2 1m-8 8l-1 1m-30-9l-1 1m-5 8l-2 0m17 14l1 1m45-2l-1 1m32-1l0 1m4-12l1 1m27 7l3 1m20-10l1 1m23 13l-3 0m42-15l0 3m1 11l3 1m35-8l2 1m17 1l-1 1m29 3l-1 2m18-7l1 0m20 5l3 1m5-12l1 3m10 0l2 1m4 9l3 0m6-9l-2 1m72 6l-1 2m3-13l1 2m-30 13l1 2m-16 0l2 0m-12-1l1 1m-12-4l-1 3m-12 10l0 2m-19-10l1 1m-5 8l-1 1m-20-4l0 3m-13-10l1 3m-8 8l-1 1m-17-15l1 2m-6 7l2 2m-17-9l1 2m-20 1l0 2m-8 5l-2 1m-10-2l0 2m-13-6l-3 1m-4-8l-1 1m-12 2l-1 1m-15 5l2 0m-28-2l-2 2m-16 1l2 2m-43-6l0 2m-8 6l1 1m-4-13l1 1m-10 10l0 2m-34-9l-1 2m-27 23l3 1m-1-11l1 1m28-1l2 2m37 2l0 3m19-8l1 1m0 10l3 1m11-8l-1 1m14 2l-1 2m27-12l-1 2m15-4l0 3m6 5l2 1m10 3l-1 1m22-9l2 0m7 10l-1 1m4-10l1 0m9 6l0 2m13 2l-1 1m17-12l-3 1m16 2l-1 0m10 7l1 3m14-10l-1 3m42-9l-2 1m59 7l-2 1m17 4l3 0m2-14l0 3m24-2l-1 3m-12 17l2 1m-42-5l2 1m-4 10l-1 1m-18-2l1 2m-29-1l2 1m-32-12l0 2m-5 11l2 2m-19-2l1 2m-24-14l-2 2m-37 7l-2 1m-24-7l3 1m-23-3l1 1m-11 10l-2 2m-9-7l0 1m-12-1l-1 1m-11 1l-2 1m-10-4l2 1m-13-1l0 3m-10 3l1 1m-7-8l-1 0m-43-1l1 2m-12 4l-1 2m-10 6l0 3m8 6l1 1m12 0l-1 0m24-9l-2 0m32 9l1 1m33-7l1 3m14-7l-2 2m45 8l0 1m11 0l-1 0m13-10l-2 2m15 4l-1 3m9-10l1 0m33 7l-2 0m9-7l-2 1m54-4l-1 1m11 8l0 2m10-1l0 2m33-5l1 1m12 2l1 1m3-12l0 2m15 2l1 2m7 8l-1 1m15 1l0 1m4-11l-2 0m9 9l0 2m-15 10l1 2m-10 2l0 1m-13-2l1 1m-11-5l-2 1m-17 4l3 2m-15-9l-1 1m-35 2l2 1m-16-9l-2 1m-18 4l-2 1m-9-2l-2 2m-10 4l1 3m-29-2l-2 0m-13-7l2 1m-15-1l1 1m-14 4l2 2m-13-4l-2 1m-8-6l-1 1m-27 2l-1 0m-13 8l1 1m-17-12l-2 2m-1 8l-1 2m-38-13l1 1m-46 5l-1 1m-33-3l-2 0m11 11l1 1m8-1l3 0m8 4l2 1m11 3l1 1m14-8l-1 1m19 1l-2 3m17-2l1 1m31 6l-1 2m6-12l0 2m27 5l1 1m20 1l-1 1m37-13l-2 2m51 2l-1 0m29 0l1 2m45 0l1 2m48 8l-1 0m7-9l-1 1m10 0l0 3m35-6l1 1m-10 15l1 0m-8 10l-2 1m-53-3l1 2m-10-14l0 2m-2 9l-2 2m-20-15l0 2m-26-1l2 2m-10 6l2 1m-30 2l2 2m-18-11l-2 0m-48 0l-1 1m-12 8l-3 1m-35-10l-2 0m-4 11l-1 3m-43-3l2 0m-16 1l0 1m-8-14l-1 2m-9 10l0 3m0-15l-1 0m-20 5l0 3m-33-1l0 2m-9-8l1 0m-9 7l2 1m16 14l-2 2m15 3l0 3m2-14l1 1m62 4l2 1m15 7l1 1m8-13l1 1m12-1l-1 1m11 8l0 3m9-10l3 1m18-1l-2 1m60 5l2 1m3-11l-1 2m41 8l-1 2m5-12l3 2m13 10l1 2m1-11l3 0m7 6l2 1m17-5l1 1m15-3l2 2m9 0l1 2m16-5l2 2m19 5l-2 1m6-11l-2 1m13 5l-3 0m12 4l-2 1m12-8l2 0m0 12l0 1m14-12l-2 2m0 9l-1 2m-17 11l-1 2m-8-7l-1 0m-43-7l1 1m-29 11l0 1m-16-1l1 1m-17-6l1 3m-15 0l1 1m-15-6l1 1m-11 0l1 2m-15-1l-1 1m-19-4l-1 2m-14 8l2 1m-8-10l1 3m-25 5l2 2m-36-3l1 2m-4-14l1 0m-22 7l0 3m-23-1l-3 1m-16 4l-1 1m-27-12l0 2m-30 6l-2 1m-13-6l0 2m-15 6l-2 1m-1-12l1 1" stroke="#8477ae" stroke-width="7.4" stroke-linecap="round" fill="none"/>
<path d="M16 10l-3 1m18 1l0 2m34 0l0 1m6-15l1 1m23 8l0 2m10-11l-3 0m44 12l0 3m18-3l3 0m7-4l3 1m11-5l-3 1m31 4l1 1m22-2l-3 0m13-2l-3 0m19-4l-3 1m32 8l-3 1m11-11l1 1m10 3l-1 1m44 1l0 1m29-5l-2 1m24 10l2 2m4-12l2 2m15 4l-3 0m9-10l1 2m-19 19l-1 1m-20-3l-2 1m-6 5l-1 1m-39 0l2 2m-10-1l-2 0m-32-11l1 1m-16 5l1 0m-20 0l-1 2m-8 4l0 2m-72-8l-3 0m-34-6l2 1m-27 4l2 1m-55-5l2 0m-18 10l1 2m-22-5l-2 0m-20-2l2 0m-9 20l1 1m18-12l-1 2m56 4l0 2m41-4l2 2m15 9l-2 2m58-9l-1 2m27-6l2 0m27-3l0 1m7 12l3 1m17-12l-1 1m72 5l2 2m36-6l1 1m18 0l0 3m9-6l3 0m9 8l-1 3m9-3l2 3m4-13l-2 1m-22 21l-2 1m-10-2l1 0m-77-2l-1 1m-23 1l-1 1m-3 7l-3 1m-31-2l-1 3m-17-15l-1 2m-18 4l0 1m-9 8l0 1m-5-10l2 2m-12-3l2 0m-29 7l2 1m-40 2l-2 1m-8-12l-1 1m-1 9l2 1m-29-13l3 1m-33-3l1 2m-13 8l2 1m-54-4l-1 0m-10 5l1 1m40 4l-1 0m14 0l0 2m28 11l-1 2m56-4l0 1m33-13l1 3m20 8l2 0m16-5l-1 1m22 7l0 2m25-7l1 1m42-3l1 1m11 1l-1 2m46-11l0 2m7 6l0 3m65-9l-2 0m8 9l-1 2m8-7l2 0m-73 10l2 2m-24 8l1 2m-12-3l0 1m-12-3l-1 2m-59-5l2 0m-44 6l2 1m-100 2l0 1m-66-6l1 1m-45 5l-1 2m13 6l-1 0m9 6l0 1m8-9l-1 1m13-2l-2 1m49 0l0 1m13-2l0 3m19-5l1 1m7 12l1 1m16-1l1 0m42-2l-2 1m50-7l2 2m23 3l1 1m11-1l0 3m11-9l-2 0m59 3l-1 0m41 3l-3 0m48 3l2 1m-15 3l1 1m-54 2l2 1m-9-5l-1 0m-31 12l2 2m-8-10l2 1m-25 7l-1 1m-37-9l-1 1m-55-5l1 1m-7 9l1 0m-32 3l0 2m-4-15l1 3m-15 3l-1 2m-52-9l2 1m-11 3l3 1m-15-1l0 2m-16-1l1 1m-11 4l1 2m-24-2l2 0m-8-8l-1 1m-3 21l-1 2m188-4l2 2m44-8l-3 2m30 0l2 1m11 0l-2 0m54-3l-2 1m7 8l-3 0m32-4l1 1m11 6l1 2m44-8l-2 1m1 13l2 0m-14 8l2 0m-13-12l0 3m-37 8l1 1m-134 2l1 3m-17-12l3 1m-60-5l3 2m-9 6l-1 1m-17 4l-1 1m-15-1l-1 1m-9-14l0 1m-112 2l-3 0m-6 7l0 3m40 11l1 2m42-5l-1 2m13 2l-1 2m36-4l1 1m51-4l-2 1m25 10l3 0m79-15l2 1m104 23l2 1m-43-10l0 1m-35 11l2 1m-8-14l-1 2m-19 11l-2 1m-47-5l-3 1m-19-8l0 3m-14 10l2 1m-17-4l1 3m-24 0l2 1m-27-10l1 2m-63 3l-2 0m-51-2l-1 2m-11 1l2 2m6 11l-2 2m21 1l0 2m35 0l-1 1m89-6l-2 0m20-4l1 0m33 6l0 1m13 1l-2 1m15-11l1 2m6 9l0 2m16-2l2 1m1-13l2 2m6 10l2 2m45-6l1 3m15-1l2 0m25-4l2 2m8 5l1 1m21-7l1 1m15 5l2 2m4-14l0 3m14 12l2 2m-85 4l-3 0m-74 0l-1 2m-12-2l-2 0m-23-4l2 1m-19 10l-1 2m-31-9l-1 1m-24 0l-2 2m-64-1l0 1m-60 0l2 1m-25-4l1 0m-10 5l-1 1m69 5l-2 0m48 4l-1 1m7 8l1 1m54-8l1 2m9 4l2 1m14-3l-1 1m32-10l-1 1m63 2l1 1m16-3l-2 1m26-4l-1 2m59 4l1 1m31-7l0 1m8 4l0 1m3 17l-2 2m-24 2l-1 1m-49-4l-1 0m-52 5l-2 3m-13-8l-2 0m-86-2l-1 0m-11 0l2 0m-22 6l-2 0m-9-10l1 1m-16-2l1 1m-19 5l1 1m-16 3l2 1m-43-1l1 3m-12-12l2 2m-70-4l1 1m47 14l-1 1m16 8l1 2m33-5l2 0m34-4l0 1m3 10l0 2m19-3l0 3m9-12l1 2m5 7l-1 1m31-11l1 1m13 8l-2 1m98-2l-2 2m44-2l-2 1m11 1l1 1m7-9l1 3m11-6l1 2m29 1l-2 0m6 9l0 3m8-11l-1 2m19 7l0 1m-48 2l-1 0m-80 3l-2 2m-13 3l0 1m-27-8l2 2m-21 8l-1 1m-8-11l0 3m-31 0l-2 1m-34 1l-2 2m-27 1l2 2m-19 2l-3 0m-10-6l-2 1m-41-8l0 2m-26 4l0 2m-10 6l-3 1m-12-11l-1 1m-18 0l1 2m16 18l-2 2m30-5l2 2m43-7l-2 1m40 4l-2 2m58-4l-1 0m30-3l-2 0m33 4l1 2m34 3l-1 1m25-11l0 2m34-2l1 0m24 8l1 2m27 0l1 0m14-6l0 3m15-5l1 1m13 8l1 3m1-15l0 2m6 20l-3 2m-19-3l-1 2m-44-7l-3 2m-1 9l1 3m-18-9l3 2m-30-4l-1 3m-21 2l-1 1m-23 0l-1 2m-22-7l-1 2m-69 7l1 0m-14-13l-1 2m-5 9l1 1m-11-3l0 1m-34-1l-1 0m-55 6l1 1m-38-2l-2 1m-29-11l-2 1m5 21l-1 2m28 1l1 2m12-4l2 2m51-4l-2 3m4-11l2 1m24 5l2 0m43 3l-1 1m22 3l-1 2m14-11l-1 3m68 7l-2 0m1-14l1 3m16 6l0 1m47-5l-2 2m63 1l1 0m42 5l-2 1m-10 12l2 0m-11 1l-2 0m-77-7l-1 0m-12 9l2 1m-24-14l-1 0m-10 4l1 0m-61 8l0 1m-10-11l-2 1m-8-3l-2 3m-8 6l-1 0m-16-2l-1 0m-12-4l-1 2m-13-5l1 0m-53 8l-1 2m-33-5l1 2m-16-7l2 1m-1 9l-1 1m-39 0l-1 1m-20 13l3 1m9-6l1 3m16 1l1 0m24-1l-1 1m19-6l1 2m9 2l-1 2m26 2l0 2m9-6l-1 1m23-5l0 2m18 6l-3 1m29-3l1 2m8-2l2 1m33 1l-1 1m14 0l-1 1m44-8l1 2m40 9l-1 0m56-16l1 1m10 3l-1 1m16-3l2 2m16 8l2 2m16 11l3 0m-13-3l-1 2m-38 5l0 1m-8 1l-3 0m-87-9l1 1m-132-5l2 1m-26-2l-1 1m-21 10l2 1m-18-9l2 2m-50-3l1 0m-3 10l-3 0m-36-6l0 2m-7 4l-2 0m21 4l0 1m8 11l-2 1m31-3l1 1m79-9l-2 1m13 8l1 1m41-5l-1 1m121-5l1 0m8 10l0 2m17-9l2 0m11-5l0 2m7 8l-1 1m13-10l3 1m45 1l1 2m24 4l-2 1m-4 14l3 2m-35-5l-1 2m-12-9l0 2m-25-1l2 1m-17 1l-1 2m-14-4l-2 2m-21 5l2 2m-25-6l-3 1m-24-3l2 0m-37 2l2 2m-28-1l1 3m-11 7l0 1m-31-15l-2 0m-85 6l-3 1m-8-1l-1 1m-10 5l2 2m-37-6l-1 1m-14 19l-1 0m4-12l0 2m8 10l1 1m41-2l-2 1m12 1l2 1m14-13l-2 1m30-4l-1 2m46 7l-3 1m16 4l2 1m7-15l-1 2m66-1l-1 1m15 5l-3 1m26 6l-2 1m12-1l0 1m21-7l-1 0m14 7l2 2m23-14l2 2m6 10l1 3m13-16l-3 0m55 0l0 2m-14 13l-3 1m-19 1l-2 1m-30 9l1 1m-15-6l1 1m-35 7l-1 1m-2-15l0 2m-38 2l-2 0m-9 1l-1 2m-12-9l0 2m-34 0l0 1m-43 6l2 2m-31-4l-1 2m-26 6l-1 2m0-13l0 1m-11 6l0 3m-21-4l-1 2m-11 0l2 1m-18 1l0 1m-23-8l0 2m-24 11l2 2m95 10l1 1m15-8l-3 1m41-10l2 2m20 1l-3 1m23 2l0 2m20 7l-1 1m8-11l1 2m3 8l2 2m6-11l-3 1m13 5l-3 1m41-11l2 0m10 15l-2 0m28-15l-1 1m0 13l1 1m27-14l3 0m14 1l-1 2m5 9l0 3m12-8l-2 0m37-2l0 1m12 0l-3 1m15 16l-2 2m-26-7l-1 1m-24 9l1 1m-9-8l3 0m-38-6l1 2m-15 6l0 3m-10-3l-3 1m-34-4l-1 0m-7-6l-2 1m-10 7l0 3m-14 1l1 1m-14-8l-1 2m-9 7l1 0m-19-1l-1 0m-17-12l2 1m-12 8l0 3m-16-8l2 1m-27-1l0 1m-13 1l0 1m-15-4l3 1m-52-5l-2 0m-13 14l-2 2m-4-10l1 1m-11-7l-2 2m-24 21l2 2m40 2l1 1m18-6l-2 0m17 0l-1 3m10 1l1 2m18-7l0 3m25 5l1 0m55-4l-1 0m13 1l0 1m10 2l0 2m14-4l-2 1m30-7l3 0m10 7l1 0m177 18l1 0m-10-1l0 1m-28-15l1 2m-9 13l3 1m-17-10l0 2m-10 7l1 0m-14-11l1 0m-8 10l0 1m-2-13l-2 1m-14 2l-1 2m-11-3l-2 2m-73 8l-1 2m-2-15l2 2m-44 7l1 1m-19-1l-1 2m-11-4l-2 3m-24-1l-1 1m-48-7l-2 0m-13 10l-2 0m-4-13l-1 2m-21 7l0 3m-10 0l2 1" stroke="#968abb" stroke-width="7.4" stroke-linecap="round" fill="none"/>
<path d="M408 3l-3 2m-54 13l-3 3m-36 8l-1 4m-15-15l-3 2m-32 7l-4 1m-56 26l-3 2m-169 0l-4 3m91 19l-2 2m308-13l-3 1m-407 29l1 4m182 2l3 3m37-1l0 4m107-9l-3 1m-177 18l-4 3m-73 6l1 2m79 11l-2 2m235-16l-2 4m-62 19l0 2m-210 6l-2 3m-65-16l2 4m84 23l2 0m201-13l0 5m70 24l3 2m-34-4l1 5m-232-10l-1 4m62 12l1 4m109-2l-3 2m14-8l4 3m40 4l-3 3m-219 7l2 1m-47 19l-2 4m88 2l2 2m26-5l-2 3m120-7l-3 1m98 20l3 2m-68-12l2 1m-187 11l2 1m-92 2l1 2m301 5l-1 4m-4 12l3 3m-15-8l0 5m-153 5l1 4m-124-12l2 2m286 30l2 2m-220 0l0 4m-62-9l0 2m-117 5l4 3m88 15l2 1m68-6l-1 1m200 10l-3 0m39-3l-2 1m17-13l-4 2m-347 26l2 2m202 8l-3 4m127 3l-2 2m37 9l-1 3m-54-1l-2 3m-35-11l-2 3m-249 1l0 4m-33-10l-3 3m111 20l2 4m196 4l0 2m18-9l3 2m-39 6l-1 2m-328 13l3 2m43 13l-4 3m282-17l-4 1m-149 22l2 1m-115-2l-3 1m-31 20l4 2m40-13l2 1m57 5l-1 4m131 2l0 2m37-7l-1 3m-34 18l1 2m-89-6l-4 2m-157-11l2 3m250 23l3 4m83-13l1 2m17 3l-3 1m52 20l-4 1m-31-12l1 2m-58 11l-2 2" stroke="#f4eef7" stroke-width="2.6" stroke-linecap="round" fill="none" stroke-opacity="0.85"/>
</g>
</g>
<rect x="1261.60" y="847.00" width="221.90" height="255.40" fill="#fff" filter="url(#tn)"/>
</g>
<rect x="1261.60" y="847.00" width="221.90" height="255.40" fill="none" stroke="#3c3550" stroke-width="0.90"/>
<g clip-path="url(#hc4)">
<rect x="1490.60" y="847.00" width="221.90" height="255.40" fill="#ccb7d9"/>
<g transform="translate(1490.6 847.0)" filter="url(#tb)">
<ellipse cx="73" cy="165" rx="31" ry="20" fill="#b7a6d6" opacity="0.35" filter="url(#tb3)"/>
<ellipse cx="72" cy="159" rx="27" ry="21" fill="#b7a6d6" opacity="0.35" filter="url(#tb3)"/>
<ellipse cx="119" cy="66" rx="31" ry="16" fill="#e2b6d8" opacity="0.35" filter="url(#tb3)"/>
<ellipse cx="133" cy="205" rx="24" ry="21" fill="#b7a6d6" opacity="0.35" filter="url(#tb3)"/>
<ellipse cx="205" cy="89" rx="22" ry="27" fill="#b7a6d6" opacity="0.35" filter="url(#tb3)"/>
<ellipse cx="9" cy="170" rx="30" ry="24" fill="#b7a6d6" opacity="0.35" filter="url(#tb3)"/>
<ellipse cx="203" cy="254" rx="29" ry="15" fill="#e2b6d8" opacity="0.35" filter="url(#tb3)"/>
<ellipse cx="84" cy="37" rx="32" ry="15" fill="#e2b6d8" opacity="0.35" filter="url(#tb3)"/>
<ellipse cx="34" cy="3" rx="23" ry="15" fill="#b7a6d6" opacity="0.35" filter="url(#tb3)"/>
<ellipse cx="138" cy="183" rx="30" ry="23" fill="#b7a6d6" opacity="0.35" filter="url(#tb3)"/>
<g transform="scale(0.5)">
<path d="M0 5l1 1m31 0l3 1m30-5l2 1m70-2l2 2m37 9l-2 2m29-8l2 0m11 4l2 1m14-4l1 2m16-6l-1 1m9 9l-1 2m13-1l1 0m35-11l1 1m11-5l1 2m10 8l0 1m7-10l1 2m9 8l-2 2m13-10l-1 1m12 11l-2 2m15-1l1 2m0-17l1 1m33 6l1 1m23-8l0 1m4 30l-1 1m-42-5l-1 2m-8-11l1 2m-34 6l1 2m-15 1l-1 2m-47-9l1 3m-26 1l1 0m-46 2l0 2m-16-1l-2 1m-23-2l-1 2m-11-5l-1 1m-12-1l-2 1m-10 2l0 2m-8-14l2 1m-23 1l0 3m-11 8l0 1m-2-15l0 3m-92 12l1 2m-11 8l-1 1m15 2l-1 0m35-1l-1 2m67-8l1 1m42 6l2 1m11-7l-1 1m47 2l0 1m21-5l-2 1m13 4l-1 1m28-5l3 1m106-4l0 2m45 2l2 1m8 10l1 3m-10 7l2 2m-46-11l-1 0m-25-1l1 1m-65 14l-3 0m-32-13l-2 1m-42 2l0 2m-27 3l-2 3m-9-10l-2 2m-5 10l-1 0m-18-5l-1 2m-37-8l1 2m-43-3l-2 3m-12 8l-1 0m-34 9l-1 2m22-10l2 1m20 11l0 1m35-13l1 1m18 6l1 2m13 5l2 0m4-13l-2 1m11 7l-2 2m32 2l-2 2m59-11l0 2m13 4l2 1m28-8l1 1m46 9l-2 0m23-6l0 2m13 5l0 1m24-6l-1 1m19 3l1 0m4-12l1 1m-31 24l0 3m-19 1l1 3m-22-13l2 0m-56 3l-2 0m-60-1l1 2m-11 5l-1 1m-21-9l1 3m-11 2l-1 1m-58-1l2 1m-22-2l-2 2m-25-7l1 2m-22-5l-2 0m-22 1l0 2m-24-2l0 2m-3 13l-2 1m13 12l1 2m21-5l-2 2m22-2l-2 2m18-6l-2 0m53 7l-2 2m28-6l0 1m18-9l2 1m12 3l1 2m10 6l1 2m2-14l-1 1m34 7l0 2m15-7l3 0m13 0l1 1m73 1l-1 0m13 5l-2 2m4-12l2 0m43 6l-1 2m12-5l1 1m30-1l0 2m-22 18l0 2m-14-7l0 1m-7 8l-2 1m-110-12l2 0m-17-1l0 2m-33 6l3 0m-12-4l-1 1m-53-7l0 3m-12 9l-2 1m-29-1l0 1m-39-12l-2 2m-51 9l0 1m-25 0l1 2m-13-12l3 1m0 26l0 2m23-4l1 1m30-3l-1 2m29-1l-2 2m59 1l-1 2m25-12l2 1m2 11l3 2m13-9l0 2m33-3l-2 1m13 2l1 0m21 2l0 2m20-4l-1 0m31-4l1 3m12-4l1 1m13-1l-2 2m36 1l1 2m42 0l1 1m32-10l-1 1m8 17l-2 2m-13 8l-2 1m-27 0l2 2m-4-14l-2 1m-42 9l-2 3m-18-5l0 2m-96 1l-2 2m-46-7l2 0m-69 6l-2 1m-12-14l2 1m-18 6l-3 0m-26 1l2 2m-62 8l0 2m16-4l-1 1m16 7l-2 1m12 6l-1 0m11-11l-3 1m38 0l-1 0m21 6l-1 0m30 0l1 2m13-8l0 2m21 4l1 1m13-10l-1 3m29 9l-3 1m6-15l-1 3m43 3l-1 2m31-5l0 1m50 8l1 1m26-2l-2 0m12-12l-2 1m11 14l2 1m16-3l-1 0m36-4l0 2m-28 12l2 1m-12 5l1 2m-49-9l-1 1m-57-7l0 3m-9 11l-1 0m-7-10l0 1m-35 3l-2 1m-13-5l0 1m-13 6l1 2m-12-6l0 1m-38 4l1 1m-34-3l3 1m-11-11l-3 1m-34 6l0 1m-10-8l-3 1m-6 9l-2 1m-11-6l3 1m-37 3l-2 1m-12 8l1 1m16 2l-2 0m35-2l2 2m10 9l0 2m24-15l1 3m28 9l1 1m33-5l-2 2m19-1l3 1m15-12l0 2m8 12l1 3m18-7l-3 1m14 4l-2 1m2-13l1 2m16 5l1 1m16-8l3 0m64 0l1 3m13 2l2 0m26 7l1 2m41-10l0 2m26 3l-1 3m-12 2l0 2m-41 4l1 1m-29-4l-1 1m-12 1l-2 0m-10-4l-1 0m-33 13l0 1m-14-13l1 1m-3 12l2 1m-28-14l-3 0m-9 8l2 1m-22 2l0 2m-33-5l1 1m-25 1l-3 1m-22-14l-1 2m-21 8l1 0m-14-10l2 2m-28 13l2 0m-26-13l-1 1m-10 3l-2 1m-20 1l-1 0m-22 9l1 0m-5-16l2 0m34 20l-3 0m14 2l3 0m11-2l0 1m12 0l1 3m21-7l3 2m20 0l-3 0m3 12l0 1m57-4l1 0m39-5l-2 1m26-7l-2 2m3 12l2 1m12-1l-2 0m10-10l3 1m71-1l3 2m12-8l-2 2m32 0l-1 0m19-1l1 3m22 17l0 2m-6 7l-3 1m-1-15l-1 3m-31-1l1 1m-18 8l-2 1m-17-7l-1 2m-23 4l1 1m-23-3l-2 1m-13 3l-3 1m-6-11l0 3m-11 6l2 1m-30-2l0 1m-11-10l-1 2m-39 1l1 2m-18-3l-2 0m-79 6l0 1m-17-2l0 3m-14-3l2 0m-14 1l-1 2m-9-9l-1 1m-12 5l-2 1m-18 9l0 1m23 0l0 2m26-1l1 2m14 1l2 2m13-4l-1 1m22-2l-1 1m13 1l-3 0m31-4l-1 0m16 3l-2 1m29-4l-1 2m44 1l0 2m74-1l1 0m10-4l2 2m20-2l-3 0m14 13l-1 2m2-15l-2 1m13 4l0 3m17-1l-1 1m33-5l-3 1m19 3l1 1m17-1l-2 0m1 13l3 1m-11 4l-2 2m-12-3l1 1m-12-11l2 1m-23 2l-1 1m-19 2l-2 0m-46 0l1 1m-42 3l0 2m-42-8l1 1m-9 7l-1 3m-6-15l-1 0m-13 2l-1 3m-10 7l0 1m-55-4l-2 2m-14-9l-2 2m-15 1l0 1m-16 6l0 3m-18-3l0 3m-12-15l-1 3m0 11l2 0m-15-3l-1 1m-14-9l0 3m-2 10l2 0m-13-3l-1 0m-8-8l-2 0m-3 13l0 1m17 6l-1 3m22-5l0 1m50 6l-1 0m15-13l-2 1m12 14l-3 0m25-9l-1 1m41-3l0 1m35 6l1 1m16-3l-1 1m32-6l2 2m23 0l-2 2m9-7l3 0m20 0l-2 1m45 2l0 2m27-7l-2 1m37 5l-1 0m11 5l0 1m13-1l-1 1m-3 18l0 1m-31-9l2 0m-15-6l1 0m-9 12l2 0m-11-11l-3 0m-91 12l-1 1m-107-9l3 1m-30 8l2 2m-3-16l-2 2m-21 2l2 0m-9 9l-2 0m-14-12l-2 1m-32 5l-2 0m-58-3l2 2m20 15l0 1m10 5l3 1m24-10l0 1m69-2l-1 1m19 8l1 2m52-10l-1 3m36 10l0 1m43-6l-1 1m33-6l-2 0m49 8l1 1m34 12l2 1m-60-5l-2 1m-35 1l0 1m-27 0l1 1m-12 2l0 2m-69-12l0 2m-13 3l2 1m-18-8l2 1m-11 7l1 1m-19-1l0 1m-42-8l-2 0m-21 0l2 1m-12 7l-1 1m-16-3l-1 1m-11 5l-2 0m-10-7l2 2m-20-6l1 2m16 26l-1 2m2-13l2 1m20-1l-1 2m1 10l2 2m22-9l1 1m29-5l-1 2m16 5l-2 1m12 1l0 1m21-10l-1 1m20 7l-1 3m23-8l-1 1m22-7l-1 3m12 6l1 1m41-2l1 1m68-1l2 1m30-5l-1 1m41 3l-2 1m8-10l2 2m4 13l2 1m8-11l1 2m13-6l1 0m2 12l1 0m-76 15l0 1m-6-11l2 1m-34-1l-1 3m-23 5l-1 2m-26-12l-1 1m-21 1l-1 1m-23 3l-1 1m-32-5l-3 0m-47 5l-2 0m-10-6l-1 3m-22 4l1 1m-12-7l-1 1m-24 12l2 1m-79-7l0 1m13 17l-2 1m13-11l-1 2m13 0l0 1m27-1l-3 0m39 0l0 1m14 2l-1 2m19-3l-1 1m15-4l-1 2m28 6l1 2m12-4l1 1m13 5l-1 2m34-4l-1 1m61-9l2 0m35 3l0 2m20-8l0 1m29 4l-2 2m30-1l-1 1m20-2l3 1m15 12l0 1m-13-3l0 1m-53 3l-3 1m-10-4l0 1m-12 6l1 1m-16-1l1 2m-18 1l1 1m-5-14l1 3m-17-3l-1 2m-55 9l-1 2m-25-6l0 2m-22 2l0 1m-10 4l-1 1m-16-7l0 2m-10-9l2 0m-21 12l1 2m-3-15l-2 0m-16 12l0 2m-2-14l-1 1m-25 1l2 2m-57-1l-1 1m-33 14l0 1m7 9l-1 3m18-6l1 0m7-10l0 1m6 13l2 1m14-2l-3 0m15-12l0 3m13-5l0 2m71 6l2 2m12-3l2 0m21 5l-3 1m21-4l3 0m21-2l-1 0m50 8l1 2m31-3l-2 1m49-11l0 2m18-4l1 1m13 6l0 1m33-6l3 0m-41 21l1 3m-14-11l2 2m-8 11l2 1m-18-7l2 1m-28 7l0 2m-37-10l2 1m-18 2l1 1m-30 2l0 3m-9-10l0 1m-13 3l2 1m-27-8l-1 3m-16 8l1 2m-37-17l-1 2m-57 0l-1 2m-5 8l0 2m-15-5l-3 1m-31-2l1 0m-33 9l1 1m13 1l-2 0m20 2l-1 0m15 4l-1 0m16-2l-1 1m15 5l2 1m18-5l-1 0m29 2l-1 1m85-11l-3 1m16 7l2 0m26 5l2 2m16-13l-1 1m17 5l2 1m29 4l1 0m32-6l-1 1m12-1l1 2m22-3l2 1m15 0l0 1m36-4l1 3m2 16l1 2m-34-2l-1 1m-15 1l1 2m-13-9l-1 1m-11 0l-1 1m-17-1l-2 1m-13-1l0 2m-37-5l1 1m-73 7l-1 1m-16 2l0 2m-10-9l-2 2m-25-3l-2 0m-17 7l-2 0m-35 3l-2 2m-46-4l1 1m-10-7l-2 2m-12 4l2 1m-28 4l-2 0m3 15l1 0m6-13l3 1m32 2l-1 0m25 8l2 1m9-13l-1 0m8 14l-1 0m11-5l0 2m13-7l-1 0m19-2l0 3m30-1l-1 1m37 5l0 1m28-11l-1 2m41 5l2 2m42-6l-3 0m14 8l0 2m47-7l0 1m18 4l-2 1m13-8l0 1m33-2l-2 1m-6 19l0 1m-28 0l2 1m-19-5l1 2m-61 3l-1 2m-14-2l1 1m-15-7l2 1m-10 9l-1 1m-8-12l-1 1m-11 2l-2 1m-46 1l3 1m-33 2l0 3m-41 0l-1 0m-71-7l-2 1m-18 0l-2 1m-16 3l2 1m-9-13l1 0m-10 11l-1 1" stroke="#847ab1" stroke-width="9.2" stroke-linecap="round" fill="none"/>
<path d="M14 8l3 0m29-8l-1 0m8 10l1 1m12 2l1 1m18-10l0 1m14 0l1 0m64-2l2 0m116 10l-2 1m7-14l-1 2m116 5l-1 0m25-7l1 0m10 19l2 2m-20-1l-2 0m-101-3l0 2m-71 3l-2 2m-112-1l-1 3m-73 2l3 1m-17-10l0 1m-14 2l2 2m-27-2l0 1m30 12l1 1m36 5l-2 0m24 2l1 0m15 2l-1 3m21-12l2 1m58 4l1 3m8-12l-1 3m136-1l-1 1m43-3l2 1m25 11l1 2m14-13l3 0m5 19l2 1m-12-4l-1 3m-37-2l-2 2m-10 7l1 2m-26-2l3 1m-34-12l1 2m-13 0l-1 3m-13-2l2 1m-33 6l-2 0m-13-3l-2 1m-90-5l-1 1m-50 2l1 2m-33-7l-1 2m-24 12l-1 1m-4-16l-3 1m-10 9l1 2m-19 8l-1 3m42 6l1 1m73 2l1 0m48-12l1 1m33 5l-2 1m11-9l2 1m68 10l-1 3m16-4l1 0m15-4l1 1m68 2l-2 2m44-1l-1 3m19 7l-2 1m-12 6l0 1m-25-10l-3 1m-82 1l2 1m-109-3l2 1m-44 1l-1 0m-17 4l-1 1m-54-8l3 1m-29 4l2 2m-27 2l0 3m-21-2l0 2m35 1l-1 2m43 8l1 1m16 0l-2 0m27-5l-2 1m77 8l1 1m86-16l0 2m15 9l0 1m108 6l-1 0m-41-1l1 1m-21 4l-2 0m-51 2l-1 2m-12-10l-1 1m-24 11l-2 2m-12-1l-2 2m-41-5l-1 3m-11 0l0 1m-12-5l-2 1m-45-2l-1 0m-30 4l3 1m-44-8l-1 2m-22 4l-2 1m19 5l2 1m31 10l2 1m22-6l-1 1m33 6l0 3m133-9l-1 1m88-9l-1 0m15 10l-2 0m34 3l-2 1m5-14l2 2m-14 19l-1 3m-21 3l0 1m-24-3l2 2m-43-9l-1 3m-29 3l2 1m-14-4l-1 1m-8 6l-2 1m-8-10l1 1m-13 10l3 0m-32-11l1 0m-51 9l-1 1m-29 2l2 1m-92-9l2 1m-44 0l1 0m-8 24l-3 0m67-5l-1 2m134-13l-1 3m52 10l-1 3m61-6l2 2m16-7l2 1m96 4l-1 2m-50 14l2 1m-47-10l-1 0m-15 8l0 1m-128-10l1 2m-8 14l2 0m-17-17l-1 2m-12 12l3 1m-40-2l1 1m-13-6l2 1m-66 1l-1 0m-24-7l-1 0m70 28l2 1m195-7l2 2m18-4l0 1m21 4l-1 0m43-11l0 2m27 7l-1 1m40-7l2 1m-20 13l0 3m-142 6l1 1m-57-5l-3 0m-29 6l2 0m-46-3l1 1m-39-8l-3 1m-79 2l-3 1m6 23l-1 0m78 2l0 1m35-13l1 2m14-4l-1 3m7 10l-2 2m53-6l1 2m82 0l0 2m27-14l-1 1m14 10l-1 2m29 1l2 0m83-13l-2 2m2 16l0 3m-8 7l1 1m-41-2l2 1m-222 0l1 0m-33-9l-1 1m-26 4l-1 1m-109-5l2 3m8 7l-1 3m27 11l3 0m49-1l0 2m49 0l3 0m49-6l-1 3m49-4l-2 2m10-10l-1 3m17 9l-2 1m15 3l2 1m118 8l1 2m-60 6l2 0m-48-13l3 2m-35 4l1 0m-15-6l-1 0m-34 11l1 2m-43-12l-2 1m-15 10l-2 2m-70-15l0 1m-64-1l3 0m52 24l-1 1m90-5l0 3m88-1l-2 1m46 5l0 2m25 0l-1 0m89-10l-2 1m-40 21l-1 1m-18-5l-2 2m-13-3l2 1m-23 5l-3 0m-1-13l2 1m-11 14l1 0m-19-13l-2 1m-17 1l-1 1m-98 2l2 2m-62 5l1 2m-18-8l-3 0m-37-2l-2 1m-25 19l-2 0m39-6l-1 0m38 1l0 1m21 1l1 2m67-7l1 2m8 6l1 3m76-6l-1 0m40 2l-1 0m35-3l-2 0m19-2l0 2m21-1l-1 3m15-1l-3 1m32-4l2 2m12 0l-2 1m11 8l0 2m-23 1l-1 2m-42 0l1 2m-10 3l-2 1m-12-7l-1 2m-32-3l1 2m-6 11l0 1m-63-3l1 1m-21-6l-2 2m-21-8l1 1m-84 11l2 2m-22-7l2 2m-102 5l1 1m2 14l2 1m47-11l2 0m118-5l-1 0m176 9l0 2m22-10l-1 2m17 1l-1 2m43 13l-2 1m-33 6l-3 0m-14-5l1 1m-44 5l2 1m-25-9l-1 0m-25 6l-1 0m-37 4l-1 2m-87-3l2 2m-85-13l1 1m8 23l1 0m121-5l-1 2m15-3l-1 1m31 6l0 1m12-2l1 1m15-7l0 2m31-1l-1 2m36 6l-1 2m43-8l1 2m50-4l1 3m-5 24l3 1m-26-9l0 2m-14 3l-2 2m-9-12l2 2m-112-3l-1 1m-124 10l-1 1m-46-6l2 1m-44-8l1 1m-14 7l1 1m-31 2l2 1m-22-11l-1 3m94 20l2 2m13-6l-2 1m15 8l3 0m96-3l0 3m39-2l0 1m30-12l0 1m9 12l-1 2m9-13l-1 1m25 2l-3 2m11 5l-1 1m66-5l1 3m31 2l-2 2m-22 9l1 1m-14-7l-1 2m-75-3l2 1m-19 10l-1 2m-58-13l0 3m-70-5l-2 2m-7 9l2 1m-40-1l2 2m-29-9l-3 1m-51 5l0 3m56 17l3 0m4-12l2 2m21 5l-2 1m19-6l0 1m20 5l2 0m20-2l-3 0m101-5l0 3m131 24l-1 0m-6-11l1 1m-128 9l-2 2m-15-4l-2 1m-63-10l1 0m-31 3l1 1m-51 3l2 3m-102-4l2 1m-19-5l-1 1m-10 6l0 3m43 9l2 2m31-7l2 1m74 9l-2 1m36-4l1 0m30-3l-1 0m9 9l3 0m23-5l0 1m11-8l-1 2m37 3l-2 2m42-8l1 1m20 1l-1 2m85 21l1 1m-74-10l-2 1m-30 11l-1 2m-85-7l-2 1m-13-4l-2 0m-30 6l-2 2m-7-11l0 3m-23-4l0 2m-35 3l1 0m-28 3l0 1m-107-7l-1 1" stroke="#958bbd" stroke-width="9.2" stroke-linecap="round" fill="none"/>
<path d="M114 0l-1 3m38 8l2 1m29-10l3 1m6 9l0 1m71-13l0 2m-174 25l1 1m-12-7l-1 1m127 24l-1 2m115-12l1 1m21 7l1 2m14-4l1 0m45 17l0 1m-77-1l1 1m-322-6l-2 2m85 12l1 2m135 2l-2 1m50-9l-1 0m61 30l-1 1m-64-6l3 1m-24 0l-2 2m44 8l-1 0m90 5l0 2m64 6l0 2m-100 9l-1 1m-15-7l0 3m-73-6l-1 1m-70 11l-2 1m-74-1l0 1m-12 0l1 0m-20 15l1 2m129-8l-2 1m44-6l3 0m101 8l1 2m28 4l1 3m-59 9l2 1m-284-12l0 3m42 13l0 1m28-3l-1 2m123 6l2 1m213 14l-1 2m-179-6l-1 2m-223 21l2 0m147 0l2 2m180 17l-1 3m-45-10l0 2m-19-8l1 1m-148 15l0 1m35 3l-2 2m206 6l-2 2m27-13l1 1m-112 17l0 1m-102 10l0 1m-11-8l0 1m-72 7l-3 1m206 18l0 2m-149 2l1 2m-26-8l-2 1m-100 28l1 1m69-11l-2 1m77 4l1 0m130-3l-3 0m11 5l0 2m90 14l0 1m-157-1l-1 2m-29-1l0 1m-15 3l2 0m-8-9l-1 0m-18 1l1 1m-12 4l1 3m-163-13l1 1m99 25l0 1m273-3l1 0m29 11l3 1m-142 0l-1 2m-200 3l-2 0m155 13l0 1m41-5l-2 1m13 11l1 0m-82 8l1 0m-30 1l0 1m-117-4l-2 1m-16 4l1 2m-17-9l1 1m-8 25l-2 2m25-6l-2 1m102 0l2 1m108 18l3 1m159 17l2 0m-88 8l3 0m-81-1l1 1m-101-5l-2 0m-136 2l-2 2m215 16l1 1m189-7l-1 2m-163 16l-1 1m-175 1l3 0m223 23l1 3m108 1l2 2m-5 10l-1 2m-38-3l-1 1m-15-1l0 1m-16-8l1 0m-185 3l3 0m-39 3l2 0m-39-5l2 2" stroke="#615796" stroke-width="9.2" stroke-linecap="round" fill="none"/>
<path d="M20 8l2 2m47-8l-1 2m107 5l3 0m37-9l-4 2m20 7l3 3m35-13l-2 3m24 0l1 2m40 7l-3 0m31-12l2 4m15 1l2 2m19-6l2 1m35 4l0 2m-46 18l2 1m-14-1l-3 2m-19 4l3 2m-7-16l-2 1m-42 13l2 1m-39-15l-1 2m-72 5l2 0m-104-6l-1 2m-84 7l3 2m49 7l4 0m13 10l2 3m17-3l-3 1m17-4l-2 2m22-5l-2 3m64-2l2 0m23-3l-2 4m19-10l4 0m25 5l2 2m29-7l-2 5m81 4l4 0m62 20l-2 0m-25-7l1 2m-20 4l3 3m-50-1l-1 1m-57-16l0 3m-33 1l2 1m-31-1l2 3m-50-2l-2 2m-93 6l3 3m-63-12l-3 2m-2 15l-1 3m59 1l-3 2m26-2l-2 3m36-1l-1 1m16-5l-1 2m52-4l-3 2m81 0l3 0m40 9l-4 2m43-17l1 3m42 5l4 1m18-5l4 0m-1 23l-3 2m-15-4l4 0m-15-2l-5 0m-15 1l4 3m-37-3l3 4m-46-9l-2 1m-36-3l-1 3m-36-1l3 1m-52-2l-1 5m-49 0l1 4m-17-7l-1 3m-21 0l2 0m-38 2l1 3m-27 15l1 2m11-13l-4 2m35 13l1 2m13-9l-2 0m85 7l-5 0m33-15l-1 2m18 3l-3 1m17 0l3 0m25 0l2 2m11 3l3 1m44-4l4 1m50-4l2 4m69-9l4 1m-9 25l2 3m-40-9l0 4m-45 1l2 3m-55-5l2 3m-75 0l3 2m-102-7l-1 3m-36 0l-3 3m-25-1l2 3m-60-1l2 2m3 14l5 0m9-10l-2 3m32 6l-2 1m27 0l2 3m42-7l-2 0m17 2l-4 2m37-10l-4 2m25 8l-2 1m143 1l-3 2m2-16l5 2m31-1l-1 2m13 1l4 2m9 4l4 1m13-9l-1 4m16-3l-2 3m-89 23l5 0m-62-11l3 1m-18 7l-3 2m-29-11l-2 0m-48 5l1 3m-19 2l-2 1m-67-3l1 1m-56-1l-4 2m87 17l-3 1m28-5l3 0m53-2l3 1m25 4l-3 3m31 0l2 4m16-10l-2 2m26-7l-2 4m102 7l-4 2m40 10l2 1m-91 0l-1 2m-91-2l1 4m-92-8l-2 1m-127-2l-1 1m-20-6l-3 0m-7 14l-3 4m21 3l3 0m17 2l-3 3m23 2l3 1m96-8l-3 1m15-5l2 4m52-1l1 2m12-6l3 2m89-3l0 2m76 1l-2 1m22 4l2 1m11 10l-2 2m-86 2l2 5m-52-8l2 2m-68 9l-3 2m-33-13l-1 5m-30-7l-3 1m-12 9l-3 1m-16 2l-1 2m-28-4l0 2m-18-11l1 1m-86 6l-2 1m60 7l2 2m86 7l1 2m156-7l-4 1m51-1l-3 3m69-4l1 4m22-7l-4 0m-6 15l5 0m-17 3l-1 3m-14 7l-5 1m-12-4l-1 2m-46-12l0 3m-27 0l4 1m-37 3l-1 4m-56-6l2 1m-93-5l3 4m-21-7l4 2m-117 1l4 1m102 18l0 2m19-6l-3 2m24-3l2 1m131 13l-2 1m12-7l4 1m65-2l1 5m26-2l-3 3m-127 13l-3 0m-94-12l0 2m-42 0l2 0m-27 9l2 1m-45 2l-1 3m-14-6l-2 1m-26-1l2 3m69 3l-4 0m104 5l1 2m21 5l-4 1m9-14l2 2m90-1l-3 1m68 15l5 0m56-6l-1 2m13 1l3 3m-26 14l0 4m-30-6l-2 4m-75-12l4 0m-45-4l-1 5m-31 1l-3 1m-46-3l-3 2m-22-3l-5 0m-31 1l2 2m-31-4l-3 1m-14-2l2 2m-33-2l-2 0m24 22l0 3m20 1l2 4m104 0l-1 2m61-15l2 4m86-5l-5 0m19 3l0 2m24 8l-4 0m58-6l4 3m-8 17l0 5m-23-14l-1 2m-14 4l-3 3m-44 0l-3 2m-51-3l-2 2m-113-8l2 0m-142-3l-1 2m0 18l-2 1m61 3l1 3m13-6l2 4m36-7l-3 3m29 5l-3 2m67-5l1 3m75 2l1 3m83-9l2 4m-3 13l-4 1m-21-4l0 2m-44 4l-2 1m-35-10l1 1m-48 7l4 2m-64 0l3 3m-32-9l-5 1m-11-6l1 3m-28 5l2 1m-30 1l2 2m-48 0l-2 3m-10-10l-4 2m-22-6l3 1m151 18l1 4m43-4l0 2m56-2l1 2m43 4l4 2m131 0l0 2m10 12l-1 2m-21-9l-2 2m-27 7l-1 2m-75-16l0 3m-148 3l2 1m-54-4l0 4m-18 1l1 2m-16 0l0 2m-49 14l-2 4m14-14l1 2m56 4l-1 3m37-7l1 3m29 3l-1 2m12-7l3 0m85 8l2 1m45 1l4 0m18 1l-5 1m77-4l2 0m31 1l-4 0m4 13l3 3m-29-4l-2 0m-19-7l-2 3m-121 4l0 2m-31-6l-1 2m-15-1l2 2m-30-3l-1 2m-61-4l-2 4m-20 0l2 1m-19 4l-1 4m-55-3l-4 0m-30 16l-2 3m64-4l-4 1m61-9l3 1m42-6l1 5m63-2l-3 2m54-1l-3 2m18-4l0 2m11 12l-2 2m29-11l-2 2m58 2l-2 1m26-4l1 2m-121 17l-5 0m-35-8l-4 3m-31 8l-4 2m-47 1l-3 1m-23-8l4 0m-44 3l1 2m-45-5l-1 3m-22-2l1 2m-18-2l-1 3m7 12l-2 4m157-1l-2 3m70-6l0 3m78 0l-1 1m38-4l-4 2m53 8l3 3m-23-4l4 2m-19 5l-2 0m-57-2l-3 1m-12 4l-3 1m-15 2l-2 0m-44-5l-1 2m-33-7l3 1m-24 6l4 3m-100-10l-3 2m-18-3l1 4m-25-6l3 2m-20 10l4 0" stroke="#f4eef7" stroke-width="2.6" stroke-linecap="round" fill="none" stroke-opacity="0.85"/>
</g>
<path d="M41.9 55.0C42.0 55.8 40.4 56.9 38.8 57.5C37.1 58.1 34.1 58.8 32.0 58.7C29.9 58.7 27.6 57.8 26.1 57.2C24.6 56.6 23.2 55.8 23.0 55.0C22.8 54.2 23.5 52.9 25.0 52.4C26.5 52.0 29.8 52.2 32.0 52.3C34.2 52.4 36.3 52.4 38.0 52.8C39.6 53.3 41.7 54.2 41.9 55.0Z" fill="#d6627c" transform="rotate(-20 32.0 55.0)"/>
<path d="M102.4 66.0C102.5 68.4 102.8 72.7 102.1 74.2C101.4 75.6 99.2 74.9 98.0 74.6C96.8 74.3 95.5 73.9 94.8 72.4C94.1 71.0 93.8 68.1 93.8 66.0C93.9 63.9 94.3 61.7 95.0 60.1C95.7 58.4 97.0 56.1 98.0 56.1C99.0 56.0 100.4 58.0 101.2 59.7C101.9 61.3 102.2 63.6 102.4 66.0Z" fill="#d6627c" transform="rotate(20 98.0 66.0)"/>
<path d="M59.2 132.0C59.3 132.8 59.2 134.1 58.7 134.7C58.2 135.3 56.8 135.8 56.0 135.7C55.2 135.6 54.4 134.8 53.9 134.1C53.4 133.5 53.0 132.8 52.9 132.0C52.9 131.2 53.0 130.1 53.5 129.5C54.0 129.0 55.2 128.7 56.0 128.8C56.8 128.8 57.6 129.3 58.1 129.9C58.7 130.4 59.1 131.2 59.2 132.0Z" fill="#d6627c" transform="rotate(0 56.0 132.0)"/>
<path d="M135.2 203.0C135.2 204.0 135.1 205.4 134.4 206.0C133.7 206.7 132.1 206.7 131.0 206.7C129.9 206.7 128.5 206.5 127.8 205.8C127.1 205.2 126.7 203.9 126.8 203.0C126.8 202.1 127.3 200.9 128.0 200.3C128.7 199.7 129.9 199.4 131.0 199.4C132.1 199.3 133.7 199.4 134.4 200.0C135.1 200.6 135.2 202.0 135.2 203.0Z" fill="#d6627c" transform="rotate(0 131.0 203.0)"/>
<path d="M67.7 243.0C67.8 244.3 67.3 246.4 66.5 247.2C65.7 248.0 64.0 248.0 63.0 247.8C62.0 247.6 61.1 246.9 60.4 246.1C59.8 245.3 59.3 244.2 59.3 243.0C59.2 241.8 59.3 239.9 59.9 239.2C60.5 238.5 62.0 238.7 63.0 238.7C64.0 238.8 65.0 238.9 65.8 239.6C66.6 240.3 67.6 241.7 67.7 243.0Z" fill="#d6627c" transform="rotate(0 63.0 243.0)"/>
<path d="M5.6 185.0C5.6 186.0 5.4 187.4 4.9 188.1C4.5 188.8 3.6 189.2 3.0 189.2C2.4 189.2 1.4 188.8 1.1 188.1C0.7 187.4 0.7 185.9 0.7 185.0C0.8 184.1 1.0 183.1 1.4 182.4C1.8 181.8 2.4 181.3 3.0 181.2C3.6 181.2 4.4 181.5 4.8 182.1C5.2 182.7 5.5 184.0 5.6 185.0Z" fill="#d6627c" transform="rotate(0 3.0 185.0)"/>
<path d="M45.0 189.0C45.0 190.2 44.7 191.7 44.3 192.7C44.0 193.6 43.5 194.5 43.0 194.6C42.5 194.7 41.7 194.1 41.5 193.2C41.2 192.3 41.4 190.4 41.4 189.0C41.4 187.6 41.2 185.4 41.4 184.7C41.7 184.0 42.5 184.7 43.0 184.8C43.5 184.9 43.9 184.8 44.3 185.5C44.6 186.2 45.0 187.8 45.0 189.0Z" fill="#d6627c" transform="rotate(10 43.0 189.0)"/>
</g>
<rect x="1490.60" y="847.00" width="221.90" height="255.40" fill="#fff" filter="url(#tn)"/>
</g>
<rect x="1490.60" y="847.00" width="221.90" height="255.40" fill="none" stroke="#3c3550" stroke-width="0.90"/>
<g clip-path="url(#hc5)">
<rect x="1719.80" y="847.00" width="221.90" height="255.40" fill="#c2b0d6"/>
<g transform="translate(1719.8 847.0)" filter="url(#tb)">
<ellipse cx="78" cy="43" rx="27" ry="21" fill="#e2b6d8" opacity="0.35" filter="url(#tb3)"/>
<ellipse cx="196" cy="235" rx="40" ry="24" fill="#e2b6d8" opacity="0.35" filter="url(#tb3)"/>
<ellipse cx="213" cy="209" rx="24" ry="29" fill="#b7a6d6" opacity="0.35" filter="url(#tb3)"/>
<ellipse cx="222" cy="160" rx="36" ry="26" fill="#e2b6d8" opacity="0.35" filter="url(#tb3)"/>
<ellipse cx="195" cy="249" rx="34" ry="20" fill="#b7a6d6" opacity="0.35" filter="url(#tb3)"/>
<ellipse cx="118" cy="129" rx="32" ry="27" fill="#b7a6d6" opacity="0.35" filter="url(#tb3)"/>
<ellipse cx="114" cy="151" rx="35" ry="29" fill="#b7a6d6" opacity="0.35" filter="url(#tb3)"/>
<ellipse cx="155" cy="32" rx="24" ry="18" fill="#e2b6d8" opacity="0.35" filter="url(#tb3)"/>
<ellipse cx="28" cy="28" rx="35" ry="28" fill="#e2b6d8" opacity="0.35" filter="url(#tb3)"/>
<ellipse cx="215" cy="149" rx="22" ry="15" fill="#e2b6d8" opacity="0.35" filter="url(#tb3)"/>
<g transform="scale(0.5)">
<path d="M40 10l-2 1m23 2l1 2m5-14l0 2m15 7l3 0m13 1l-3 0m45 0l1 1m17-10l-2 1m31 7l-1 1m38-3l-2 1m16-10l1 3m27 11l-1 3m11-8l1 1m9-2l3 1m22 1l2 0m13-8l-1 1m16-2l-2 1m18 12l-2 1m16-6l1 0m8 2l2 2m22-10l-2 0m10 4l1 0m27 2l2 2m1 10l2 2m-37-5l-2 1m-16 1l-2 1m-11 2l-1 1m-39 1l2 0m-15-8l-2 2m-11 7l-2 0m-12-6l-2 1m-15-3l1 2m-31 4l1 2m-11-5l1 1m-34-2l2 1m-5 11l2 0m-22-5l2 2m-23 3l1 1m-34-3l-2 0m-18-7l-1 0m-14-2l-1 2m-26 0l2 2m-66-7l2 2m14 19l-2 2m24-6l-1 1m13 6l1 1m32 0l1 2m8-11l-1 1m25 3l-1 1m5 7l1 2m26 0l0 2m44-11l0 2m46-8l-1 1m42 2l-2 2m11 1l2 1m44-4l1 2m44 7l2 1m13 1l3 0m18-2l0 3m6-12l-2 1m8 7l1 2m4-12l-2 1m3 28l1 1m-12-7l1 0m-18-4l2 1m-43 1l3 0m-10-6l-3 2m-9 6l-2 1m-29 5l2 1m-17-6l-2 0m-12-7l-2 1m-16 5l-1 0m-14 3l-1 0m-27-6l2 2m-11 7l0 2m-17-10l2 1m-68 0l1 2m-34 2l-1 2m-2-12l0 2m-8 7l-2 1m-15 2l-3 1m-20-10l0 1m-13 4l2 2m-27-5l-1 1m-10 6l1 2m17 4l-1 2m8 9l-1 3m8-11l1 2m9 7l0 1m4-16l2 2m5 9l-2 0m88-2l1 0m26-8l-2 2m37-1l1 0m28 11l2 2m15-5l2 2m25-3l-2 0m16 5l-2 1m8-13l1 3m27 7l-1 1m20-6l-2 1m13-8l-1 2m16 4l-2 1m45 2l0 3m13-1l3 2m12-3l-1 2m-3 17l-1 1m-23-6l-1 1m-45-9l0 2m-24 10l0 2m1-12l-3 1m-10 1l0 1m-26-2l-1 0m-33 2l0 1m-21-1l-1 1m-31-1l2 0m-8 9l-1 0m-3-13l1 2m-9 7l1 0m-26-6l-2 2m-23-2l0 1m-18 1l3 0m-15-5l-3 0m-29 2l0 2m-23-1l2 0m-25 8l-1 2m-39-9l1 3m0 10l0 2m11 7l1 0m61-10l2 1m2 10l-2 1m12-5l1 1m20-3l3 0m12-6l2 1m6 10l0 2m5-13l0 3m15 2l-2 0m14-3l0 3m7 7l-1 1m36-5l1 3m12 2l0 2m25-8l-1 3m11-1l0 1m29 0l1 1m12 0l1 0m8-9l2 1m11 2l-1 1m14 3l-1 0m23-4l0 1m15-6l-1 2m11 1l2 3m58 3l1 0m2 12l0 2m-17 4l-1 0m-32-3l-2 0m-7-8l-1 2m-20-1l2 1m-6 8l1 2m-19-12l0 1m-16 4l-1 1m-15 3l-2 1m-16-3l1 1m-57-8l1 2m-20 5l0 2m-38 3l-3 0m-11-8l-2 0m-15-3l-1 2m-8 11l0 1m-15-15l1 2m-11 2l-1 3m-12-5l-1 1m-25 1l0 3m-37-4l0 1m-12 3l2 2m-20 17l-3 1m10-9l-1 0m13 9l-1 1m15-10l-2 0m47 2l0 2m30-4l-3 0m7 9l-2 2m47-2l-2 1m13-4l0 2m9-3l3 1m9 4l-1 2m1-12l1 1m13 7l2 2m19-7l-2 2m13 6l1 1m10-10l-1 1m24-5l1 1m10 1l1 2m6 5l3 1m9-6l-1 0m15 3l1 1m19 0l-1 1m10-9l-2 1m47 2l-1 1m23-4l0 2m26 0l1 2m-24 20l2 1m-11-9l1 1m-6 14l-2 0m-21-6l1 0m-19 0l1 2m-17 0l-3 1m-29 2l-1 0m-12-11l-3 1m-10 8l1 2m-74-4l3 1m-20 0l0 2m-14-4l0 1m-8 5l-2 0m-46-10l2 0m-9 7l0 3m-13-5l1 1m-15-6l-1 1m-8 5l-1 1m-3-12l1 3m-12 5l1 1m-12-6l-2 1m-24 4l-3 1m-28 13l0 1m11-6l-2 0m28 11l3 0m18-11l2 2m20 4l-1 1m8 4l3 1m15-6l-2 0m25-4l2 0m21 1l-1 1m10 4l2 2m32-5l2 1m7 7l1 1m4-12l-1 0m17 5l-2 0m19 1l-1 1m13-7l-1 2m14 0l0 3m34-9l0 3m54 12l-1 2m13-6l-2 0m29-3l-2 1m11 2l0 1m18-6l1 3m10 20l1 2m-40-1l0 1m-44-6l0 2m-43 5l1 1m-11-14l1 1m-27-3l1 0m-8 10l1 1m-31-10l0 2m-14-4l-1 3m-39 10l-1 2m-3-13l-2 2m-20 5l0 1m-79 4l-1 1m-7-11l3 1m-19 6l3 0m-25-9l2 1m-11 8l3 0m-22 17l2 0m6-11l-1 2m11 3l0 1m9 6l0 3m28-12l2 1m21 2l1 1m12 6l-2 2m8-16l-1 2m3 9l1 0m11-9l-1 0m11 11l-1 1m17-12l0 3m9 1l3 2m11-6l0 2m4 8l-1 2m10-1l2 1m19 1l-1 2m38-5l-2 1m13 3l2 2m2-16l-2 1m18 3l0 2m42 2l0 2m10-3l1 0m17 6l-1 0m28-2l-1 1m16-6l-2 2m12 1l0 1m36-7l-1 1m5 8l-1 3m14 12l0 1m-15-2l2 2m-13-11l3 1m-19 3l1 0m-9 5l-2 1m-34-7l-3 1m-47 0l3 0m-28 4l-1 1m-12 0l2 1m-42-8l1 1m-32 6l1 0m-13-5l-2 1m-11-1l2 1m-25-1l3 1m-105-1l-2 0m-15 5l0 2m-9-11l2 1m-17 16l-3 0m16-2l-2 2m16 10l-3 0m12-2l1 1m85 1l0 1m41-8l-1 1m18 3l-2 2m37-9l1 0m9 0l3 1m10 8l1 2m25-7l-2 1m18 3l2 0m15-3l0 3m39-10l2 0m14 0l-2 0m12 13l1 3m30-8l-3 1m39-6l0 2m-1 18l0 3m-14 1l3 1m-15-6l2 1m-11 3l0 1m-11-4l-1 2m-11-5l1 1m-24-6l-1 2m-26-1l-2 2m-23 1l3 1m-68 1l2 3m-18 1l1 2m-47-12l0 1m-10 3l1 1m-10 10l-1 1m-16-15l2 2m-4 12l-1 1m-11-9l-3 0m-19 3l1 2m-38 2l-1 3m-5-15l0 2m-8 9l2 1m-21 2l-2 0m-22-16l2 2m17 25l-1 1m23 0l-1 0m14 2l-2 1m14-10l2 1m56 4l-3 0m16-5l-1 2m14 3l-2 2m14-9l-1 1m15-2l0 2m12 11l-1 1m11-3l0 1m19-3l-2 1m14-9l1 0m35-3l1 1m1 14l0 1m8-7l2 0m22 6l0 1m21-14l-2 2m13-3l0 3m12 4l3 1m10 2l1 1m5-10l1 1m10 2l1 0m13-1l1 2m15 0l2 1m15-3l0 1m11 12l1 2m-13 6l2 1m-13-6l1 1m-13 5l-1 1m-6-9l0 2m-16 7l-2 3m-14-2l2 1m-17-11l1 1m-44 11l0 3m-12-17l-2 1m-7 7l-1 1m-15 1l0 2m-26-5l-1 2m-8 5l-1 2m-1-16l1 2m-9 6l2 1m-15 0l-1 2m-11 3l1 1m-12-1l-2 0m-26-9l0 3m-20 2l1 3m-12 0l2 1m-20-6l2 0m-26-2l-2 2m-9-4l-1 0m-21 8l2 1m-14-8l1 1m-9 4l0 1m-17 2l0 3m-2-15l2 1m-12 13l-1 0m21 14l-2 0m17-9l-2 1m10 7l2 1m26-6l2 1m81 6l2 0m12-7l-1 0m21 1l-2 0m20-2l-2 2m14-4l-1 1m8 10l0 1m21-5l-1 1m20-7l-2 1m30 2l2 1m14 0l2 1m25-4l-2 2m13-1l-1 2m21-6l0 1m32 5l2 0m17-6l-3 0m15 9l0 2m-18 3l0 1m-29 7l-1 2m-8-12l-1 2m-6 9l-2 1m-12-9l-2 3m1 9l-2 2m-28-7l-1 0m-15-3l-1 1m-18-4l3 0m-18 6l-1 3m-5-11l3 0m-8 10l0 3m-11-6l0 2m-43-9l-1 1m-10-2l0 1m-18 6l-3 0m-9-6l-1 1m0 9l0 1m-12-4l2 1m-15-4l1 1m-20 8l2 2m-49-14l1 1m-6 12l-1 2m-12-9l1 1m-59-6l2 2m3 21l0 3m7-13l1 1m7 3l2 3m9 3l0 2m14-1l-2 0m11-7l1 1m8 6l-2 1m22-4l0 1m19-10l2 2m27 13l3 0m2-15l0 3m32 6l-3 1m17-3l3 0m94-2l-2 0m9 11l-2 1m8-12l-1 3m18 8l1 1m9-1l1 2m0-13l1 1m10 1l-1 1m28 5l2 0m12-5l-2 2m11 1l3 1m32 4l1 1m15-5l2 0m4 16l-1 3m-10-10l0 2m-13 8l-1 2m-10-16l2 1m-3 15l1 0m-69-14l-3 1m-28 9l2 1m-43-2l1 1m-46 1l-3 1m-15-14l1 1m-3 11l3 0m-41-6l3 1m-17-6l-2 0m-8 8l0 2m-13-9l0 1m-11 4l2 1m-12-9l1 2m-14 6l2 2m-11-7l-2 0m-34 2l0 3m-30-4l0 1m-12 8l-2 2m0 12l1 1m10-2l-2 1m15 4l0 2m0-14l-1 3m25-1l-2 1m12 0l1 0m7 8l-1 1m10-12l-3 0m8 9l1 3m11-11l1 0m33 2l1 0m16 6l2 1m8 1l3 1m26-10l0 1m15 4l0 2m41-12l2 2m41 2l0 1m14-3l-2 0m8 9l-1 2m39-9l-2 2m2 8l0 3m9-10l2 0m10-5l1 1m12-2l2 2m8 6l1 0m35 1l-1 1m11 2l3 1m8 12l1 2m-15-1l0 2m-12-11l-1 2m-3 11l2 0m-29-9l-1 2m-25 8l-3 0m2-14l-2 0m-10 10l0 1m-17-12l0 2m-2 10l3 2m-28-10l-2 2m-14 7l0 2m-29-14l-1 1m-14 0l0 3m-6 8l-2 2m-32-8l1 1m-28-7l1 0m-21 10l0 1m-14-7l2 2m-33 6l1 1m-3-10l3 0m-21 2l0 3m-20 2l1 2m-21-13l-2 1m-24 12l0 1m-20 15l-1 3m5-14l1 2m8 4l1 2m13-2l1 2m41-1l-2 0m11-4l1 1m36 0l-3 0m23-5l-2 3m44-3l0 2m15 0l1 0m13 1l-2 1m13 4l-1 0m57-5l-1 0m15 3l-2 1m16-3l-1 1m10 5l0 2m54-4l-3 2m30-2l2 1m10 5l1 1m13-4l2 1m15 11l-2 2m-30 0l-3 1m-42-5l-1 1m-37-6l0 3m-42 5l0 2m-18-9l2 1m-16 7l-2 2m-18 2l-2 1m-12-12l1 1m-14 9l2 0m-8-8l0 1m-18-6l2 2m-12 0l-3 2m-11 8l-3 2m-13 0l-2 2m-7-14l0 2m-11-3l1 1m-15 13l1 2m-30-10l-1 2m-9-8l-2 0m-21 2l3 1m-14 7l1 3m-29 3l1 1m48 13l-1 2m11-11l-3 1m105 3l-1 3m7-12l1 1m6 11l-2 2m18-1l-3 1m18-9l1 2m14 3l-2 1m21-3l-3 1m44-5l1 0m5 9l1 1m24-3l-1 2m27-3l-3 1m11-7l-1 0m13-1l-3 2m45 8l2 0m7-7l2 2m28-2l-3 1m-27 16l0 3m-55-10l1 1m-9 9l1 1m-13-7l1 3m-15-1l-1 1m-15-1l3 1m-24 2l1 3m-13-11l-3 1m-33 4l-1 1m-15-2l2 1m-16-5l1 3m-18 3l2 2m-22-4l-2 0m-15 3l-1 2m-16-6l-1 1m-36-5l3 0m-11 9l2 1m-13 2l-1 3m-14-14l0 1m-60 12l1 1m1-13l-3 1m19 25l1 1m10 1l0 2m8-9l1 2m27 1l3 0m20-5l-3 0m29-2l1 1m43-1l1 2m24 5l0 1m11 0l0 3m45-13l3 0m1 10l0 1m24-13l2 1m11 9l2 1m21-1l2 2m5-12l2 1m8 13l-1 1m8-8l-2 1m27-7l-1 1m7 9l-3 2m25-12l1 0m38 5l-2 2m12-2l-1 0m10 5l0 3m-17 10l2 0m-12-5l-1 1m-1 11l0 1m-30-13l-1 3m-10-3l-1 0m-17 2l0 1m-21-1l2 0m-27 3l1 1m-15-10l-2 2m-14 4l-2 2m-43-2l-1 3m-21 5l3 1m-14-4l1 1m-23-1l0 3m-14-9l-1 3m-17 6l-3 1m-14-12l0 2m-20 3l-2 1m-32 1l0 1m-11-4l1 2m-21-3l0 1m-22 9l0 1m-15-13l-1 1m-1 16l-1 0m37 0l-1 1m27 0l2 0m22 6l1 0m10-3l1 1m36-2l1 2m33-1l2 0m52 5l0 1m27-5l-2 0m17-5l1 1m8-4l3 1m22 5l-2 1m28 0l1 0m8 5l3 0m4-10l0 1m14-1l2 1m14-4l-3 1m13 1l-1 1m41-1l-2 1m22 9l-2 1m-10 5l-1 1m-10 4l1 2m-16-10l3 2m-14-2l1 2m-24-1l-1 2m-26 12l0 1m-11-3l1 1m-13-9l-1 1m-10 7l0 2m-12-11l-1 1m-12 6l2 0m-15-9l0 3m-18-1l-2 2m-10-2l1 1m-32 7l-2 0m-36 0l2 2m-13-9l0 2m-20-4l-3 1m-10 0l1 1m-66-3l0 3m-9 4l1 3m-13 1l1 1m-37-10l2 1m-7 10l1 2" stroke="#786faa" stroke-width="8.8" stroke-linecap="round" fill="none"/>
<path d="M5 5l-3 1m12 0l2 0m10-2l1 1m26-1l-2 1m27-5l0 3m24-2l0 2m9 9l1 0m12-9l-1 1m21-4l-1 2m30 0l2 1m21 5l1 2m37 1l-1 2m19-7l-1 3m12-4l-2 0m37-2l-2 0m48 9l1 1m40-14l0 2m12 9l-2 1m28 1l0 1m8-12l1 0m-1 20l2 1m-14 1l3 0m-37 8l0 1m-24-6l-1 2m-12-5l2 0m-128 8l-2 1m1-14l-2 1m-25 0l2 1m-27-1l2 1m-24 0l-2 2m-19-4l1 0m-9 7l2 1m-37-6l1 3m-32 3l-1 0m-10-6l0 3m-11 6l-1 2m-23 3l0 1m59-3l1 2m17-2l-1 3m26 2l1 1m31 6l0 1m8-12l2 2m34 7l-1 1m30-1l-2 1m18-4l0 3m24-7l-1 2m13 2l2 2m36 4l-1 1m7-10l-2 0m14 11l-1 0m4-14l-1 2m33 1l0 1m17 0l0 3m21-5l3 0m44 10l1 2m-52 6l1 2m-141-6l0 1m-16 12l1 0m-58-3l-1 1m-13-9l2 2m-15 7l2 1m-35-7l-1 1m-56 5l0 1m-31-11l-2 2m66 18l1 2m14-4l1 1m17-5l-2 2m32 6l0 2m25-5l-1 1m13 5l-2 0m69-6l1 1m22-6l2 2m28 6l0 2m17-8l1 1m55-3l1 1m12 5l-3 0m46 15l1 1m-20-1l-3 0m-19-6l-1 2m-10 8l2 2m-13-10l-2 1m-21 7l-1 3m-66-1l-3 2m-49-1l2 0m-50-2l-1 0m-157 1l-2 1m-16-8l-2 2m10 10l-1 1m30 6l1 2m12 5l-1 0m38-8l1 1m82 5l0 2m13-2l2 0m28-12l-2 2m44 0l1 0m128 11l-3 1m28-13l-2 1m-14 22l3 0m-28 5l1 2m-54-1l1 1m-68-11l2 1m-18-2l2 0m-19 6l-1 3m-79 2l2 1m-62-9l2 1m-43 1l1 2m-43-8l0 3m34 25l-2 2m13-12l-2 2m12-5l1 0m11 10l-1 1m31-5l2 0m162-8l-2 2m86 13l0 2m8-7l2 1m9 3l2 3m35-10l-1 1m29 1l-1 2m9 17l1 3m0-14l-1 1m-14 1l1 1m-37-4l1 2m-66 5l2 2m-13-6l2 0m-34-3l-2 3m-5 7l-1 2m-10-12l0 2m-28 9l3 1m-13-10l3 0m-4 12l3 0m-63-8l2 2m-22-4l-2 0m-97 6l-1 2m-32-6l1 1m-15 2l1 2m16 20l-1 1m45-1l-2 1m63-4l-1 0m20-8l2 2m109 8l0 1m26-11l2 2m8 5l2 1m16 1l0 3m31-13l0 3m47 8l-1 2m2-12l-2 0m53 6l-2 2m-5 8l-2 1m-13 3l0 1m-35 3l1 1m-14-6l-1 0m-26-1l0 1m-13-5l1 0m-10-1l-1 1m-37 5l3 0m-92 2l1 1m-56-10l0 2m-11 6l-2 1m-32-1l2 1m-49 2l-2 1m-35-8l1 0m27 14l-2 2m15 2l-1 1m10 9l-2 1m73-13l0 1m64 1l-1 1m26-1l1 3m61-8l-1 2m2 10l1 1m11-11l0 1m38-2l0 2m11 0l-1 2m20-5l2 0m36 7l0 1m10-6l-1 3m35 12l2 0m-35 13l-1 0m-32-11l-1 2m-53 4l-1 0m-26-6l-2 1m-24-3l-2 0m-10 5l-2 1m-15 2l-2 1m-23-6l-1 0m-52 7l-2 1m-24-6l1 2m-11 5l-3 0m-9-1l-1 3m-2-12l1 0m-11 5l0 2m-15-3l1 2m-11-8l2 0m-17 12l1 1m-6 8l-1 2m17 0l2 2m28-6l0 1m10 8l-1 0m21-10l-1 2m11 1l1 1m56 4l-2 2m97-14l-1 3m15-1l0 2m14 2l-1 2m13 2l-2 2m37-9l0 1m11-1l0 3m32 7l-2 1m9-9l-1 2m6 7l2 3m14 2l-1 0m-89 11l2 2m-38-2l-2 1m-24-9l-2 1m-5 7l1 1m-29-5l-2 1m-43-7l1 2m-21 0l2 0m-18 5l0 2m-29-3l1 0m-33 4l0 2m-18-15l-1 2m-21 5l1 0m-34 4l-1 1m-19-3l-1 1m-12 11l-1 1m29 7l2 1m56-4l-2 0m12-5l2 2m7 6l0 2m131-4l2 2m14-10l2 3m40-2l2 1m141-3l-1 0m1 29l-2 0m-69-15l1 3m-48 9l-2 2m-69-14l1 1m-81 3l1 3m-28-7l-1 1m-25 0l-1 1m-110 27l3 0m51 1l1 2m2-16l-1 2m34 0l-1 0m6 10l-1 2m15-4l-1 2m29-6l2 2m33 3l-1 3m99-14l-2 3m47 9l-2 1m62-9l-1 3m59 14l3 1m-15 7l1 3m-10-6l0 1m-12-1l2 2m-17-9l-1 3m-52 4l1 2m-105-11l2 2m-17 5l-1 0m-21 5l1 2m-69-10l0 3m-15-1l-2 1m-72 5l2 2m-12-8l2 2m82 13l-3 0m101-5l0 2m2 12l-1 1m12-16l0 1m6 11l-1 2m7-13l0 1m7 10l1 3m19-2l3 1m29 0l-2 1m13-15l1 3m35 3l-1 2m48-3l0 2m19-1l0 1m-17 11l-1 1m-2 9l-3 1m-17-9l2 2m-20-1l-1 0m-10 2l-2 1m-64 0l2 1m-26-2l1 0m-74-5l2 0m-11 3l1 0m-24 8l-2 2m-85-7l-2 0m43 18l0 2m61-7l-1 2m66 1l1 1m40 1l0 2m16 1l2 1m27-12l2 2m126 3l-1 1m-42 21l-3 0m-1-11l3 0m-22 13l1 0m-12-15l1 2m-98 9l1 1m-17 0l2 0m-35 2l1 1m-8-15l1 1m-23 8l-1 1m-27-5l1 1m-41-2l0 2m-83 1l1 3m1 8l3 1m53 4l3 1m22-8l3 1m22 14l1 2m10-12l1 0m29 7l-1 0m50 2l-3 1m17-10l-1 2m13-3l1 2m64 1l2 1m16 1l0 2m85 0l1 3m-8 14l0 2m-35 1l-2 1m-19-7l2 2m-42-1l1 1m-19-1l1 2m-8-10l-1 1m-37 11l-2 2m-16-15l3 1m-24 2l-1 0m-38 11l1 1m-10-4l-1 1m-41-12l2 0m-16 14l3 0m-26-13l1 1m-12-2l-1 0m-1 10l-1 2m-36 2l1 1m-38-11l2 1m0 10l-1 2m3 10l-1 2m20-11l1 3m39 1l1 2m18-4l-1 2m17 1l2 1m12 4l2 0m24-1l1 1m141-10l1 1m31 0l-1 2m52 5l-3 0m71 15l-2 1m-21-3l2 0m-34-5l-2 0m-10 1l1 2m-81 7l1 1m-37-11l-1 1m-13 0l-2 1m-34 9l-1 1m-89-8l0 2m-75-1l-1 1m-27 1l-1 2m84 6l2 1m-1 10l2 2m31-7l1 1m40 3l-1 0m18-9l1 1m16 6l1 3m18-7l2 1m111 4l0 2m32-10l0 1m17 10l1 2m16-9l-1 2m-3 9l1 1m-6 10l-2 0m-75-3l0 3m-64-10l1 1m-6 8l0 1m-62-5l-2 0m-40-6l2 1m-51 9l-1 1m-13-8l2 0m-34 7l-1 1m-24 12l1 0m26-2l-2 2m25-2l-1 1m72 3l1 1m5-12l1 1m6 9l2 2m22-7l-2 2m16 6l0 2m22-14l1 2m63 7l0 1m27-4l-1 0m128 19l1 1m-31-1l-1 3m-15-1l2 1m-14-7l-1 2m-11 4l1 1m-13-4l-1 2m-8-10l-3 1m-86 11l2 1m-35-7l-2 2m-14-9l1 1m-22 7l-2 0m-58 6l-1 0m-18-6l-1 2m-11 2l-1 1m-13 1l-1 1m-3-14l2 2m-13 9l0 2m-36-10l-1 2m-15 2l0 2" stroke="#897fb6" stroke-width="8.8" stroke-linecap="round" fill="none"/>
<path d="M209 4l0 2m144-5l-1 3m56 25l3 1m-112-1l0 1m-34-3l1 1m-243-8l2 2m12 22l-2 1m33 2l2 1m266 0l-1 1m-120 3l2 1m-28 5l-1 1m-113 14l0 1m53 1l-1 1m291-9l2 0m-105 19l0 2m-60 6l-2 0m-147-4l1 3m-48-1l-3 0m-29 11l0 2m378-6l1 1m11 13l-1 2m-140-1l-1 1m-37 10l2 2m-37-8l1 2m-76 15l0 3m10-1l1 1m233-9l-1 2m-115 17l0 1m-233 5l1 2m11 5l0 3m148 5l1 1m162 0l0 1m29-12l-1 1m23 18l3 1m-163 11l-1 0m-132-11l3 1m95 13l3 0m234 4l-2 0m-233 15l-1 1m-128 5l1 2m78 10l1 2m96-2l1 1m59 6l-1 1m28 6l-3 0m-65-4l1 2m-51-4l0 2m-137 13l3 2m113 1l1 1m10 2l1 1m124 19l1 2m-15-8l-1 1m-192 21l-2 1m273 22l2 0m-142-15l-2 1m-163 10l0 1m62 16l-2 2m73 7l2 1m-202 3l0 1m8 11l-1 2m80-1l-2 1m138-6l1 1m73 2l2 2m101-5l-1 0m-61 28l1 2m-58-12l2 1m-179-4l-1 1m-75 7l-3 1m-39-5l-1 2m-10-2l-2 1m61 16l-1 1m321 11l-2 2m-39-1l-1 1m-44 4l-3 1m-207 22l-1 1m56-6l-1 2m293 6l-1 0m-39 9l2 2m-29-8l-2 1m-111 8l2 1m-76-4l0 1m-105-6l0 1m-16 4l0 3m-23-1l-1 2m-5-11l-2 0m28 27l0 2m92-12l2 1m122 7l2 2m165 7l0 3m-143 7l-1 0m-74-9l2 0m-91 7l-1 1m-97-5l-2 2m87 8l-1 2m2 8l3 0m116-11l-1 3m202-5l2 2m-11 26l1 2m-183 0l1 2m-13-5l2 0m-85-5l1 2m-104-8l-2 1" stroke="#5b5192" stroke-width="8.8" stroke-linecap="round" fill="none"/>
<path d="M285 7l-1 3m108 4l-2 4m54-8l-5 0m5 13l0 2m-73-5l-1 1m-73 9l0 4m-144-13l-2 3m67 21l-4 0m16-1l5 1m77-9l4 3m-53 13l5 1m-201 2l1 1m48 8l-2 3m101 7l-1 1m153-1l-2 0m-34 5l-3 3m-58 10l1 5m-78-14l2 2m-47 1l-2 2m-76-9l-3 4m-29 14l-1 1m63 1l4 2m50 3l-4 2m23 3l0 5m52-17l-2 2m61-3l0 4m111 10l1 5m-55-1l1 2m-31 10l0 3m-196-16l-4 2m-15 5l-3 4m-71-7l3 4m-8 19l1 3m160-14l-1 2m143 8l3 3m11-7l2 1m-67 9l0 2m-16 2l-3 2m-89-8l2 3m-16 9l-5 1m-51-9l-3 3m-25-3l-1 0m-48 9l-4 1m22 2l-3 3m51-1l-3 1m10 11l4 0m15-5l0 3m69 3l-4 1m149-4l0 3m17-5l3 4m11-6l3 0m61 0l-1 1m23-6l3 1m3 23l0 4m-201 0l2 4m-18-18l-3 2m-29 16l-2 2m144 26l1 2m-52-6l-4 1m-59-6l5 1m-117 2l2 0m-60 4l1 1m-28-12l2 2m-23-3l1 3m77 18l3 1m66 6l-2 0m123-8l2 0m126 2l-3 0m30 3l3 2m-45 8l3 1m-150-5l2 2m-111 3l-3 3m-127 15l5 1m254-8l-1 2m185 13l-2 1m-63 0l-1 3m-9 13l-2 1m-364-8l2 0m56 22l3 1m16-8l-2 0m27 8l1 2m58-16l-2 1m213 12l1 3m-285 2l0 2m48 15l-1 1m52-2l-2 1m51 10l0 3m119-7l1 3m-5 11l-3 2m-40 2l2 2m-167-5l-2 3m-82-6l2 1m-59 22l-1 4m23-12l3 2m57-6l1 4m138 15l2 3m-86 1l-2 4m-61-10l-1 4m-19-6l1 4m-49 27l-2 2m43-15l-3 2m17 4l0 2m24-8l-1 2m32-1l1 4m250 18l3 0m-255 0l1 3m176 34l2 2m-16-10l-2 0m-209 17l2 3m248 3l4 1m65-2l0 4m15-10l-1 5m-187 8l-3 4m-13 7l-2 1m-45-14l-4 0m-62-2l0 2m-55 24l-4 2m19-7l-4 0m62-2l4 0m84 10l-1 3m200-11l-4 2m-58 11l-5 1m-84 4l2 2m-79 4l0 4m-31-6l-3 0m-31 2l1 2m-14-9l-1 3" stroke="#f4eef7" stroke-width="2.6" stroke-linecap="round" fill="none" stroke-opacity="0.85"/>
</g>
<path d="M57.1 75.0C57.1 76.2 56.7 78.0 55.9 78.9C55.0 79.8 53.2 80.4 52.0 80.3C50.8 80.2 49.6 79.2 48.7 78.3C47.8 77.4 46.9 76.3 46.7 75.0C46.5 73.7 46.8 71.6 47.7 70.7C48.6 69.8 50.7 69.5 52.0 69.6C53.3 69.8 54.5 70.8 55.3 71.7C56.2 72.6 57.0 73.8 57.1 75.0Z" fill="#d6627c" transform="rotate(0 52.0 75.0)"/>
<path d="M79.7 98.0C79.9 98.8 80.1 100.0 78.8 100.5C77.6 101.0 74.1 100.9 72.0 100.9C69.9 100.8 67.2 100.7 65.9 100.2C64.7 99.7 64.6 98.7 64.7 98.0C64.7 97.3 65.0 96.4 66.2 95.9C67.5 95.4 70.1 94.9 72.0 94.9C73.9 94.9 76.5 95.3 77.8 95.9C79.1 96.4 79.5 97.2 79.7 98.0Z" fill="#d6627c" transform="rotate(50 72.0 98.0)"/>
<path d="M178.1 95.0C178.0 96.3 177.0 97.6 176.3 98.4C175.6 99.2 174.9 99.5 174.0 99.7C173.1 99.9 171.6 100.2 171.0 99.4C170.4 98.7 170.4 96.4 170.5 95.0C170.6 93.6 170.8 91.9 171.4 91.1C172.0 90.3 173.1 90.3 174.0 90.2C174.9 90.1 176.2 89.9 176.8 90.7C177.5 91.5 178.2 93.7 178.1 95.0Z" fill="#d6627c" transform="rotate(10 174.0 95.0)"/>
<path d="M181.2 24.0C181.2 25.1 180.6 26.7 180.3 27.5C179.9 28.3 179.5 28.8 179.0 28.9C178.5 29.0 177.9 28.8 177.6 28.0C177.3 27.2 177.2 25.3 177.2 24.0C177.2 22.7 177.4 21.3 177.7 20.3C178.0 19.4 178.6 18.3 179.0 18.4C179.4 18.5 179.7 20.1 180.1 21.0C180.4 21.9 181.1 22.9 181.2 24.0Z" fill="#d6627c" transform="rotate(0 179.0 24.0)"/>
<path d="M17.7 177.0C17.8 178.2 17.7 180.0 17.2 180.8C16.8 181.7 15.7 182.1 15.0 182.1C14.3 182.0 13.4 181.4 12.9 180.6C12.4 179.7 12.1 178.2 12.1 177.0C12.1 175.8 12.5 174.4 12.9 173.5C13.4 172.6 14.3 171.7 15.0 171.7C15.7 171.7 16.5 172.8 17.0 173.6C17.4 174.5 17.7 175.8 17.7 177.0Z" fill="#d6627c" transform="rotate(0 15.0 177.0)"/>
<path d="M174.5 171.0C174.3 171.6 172.7 172.1 171.4 172.6C170.2 173.0 168.5 173.7 167.0 173.7C165.5 173.7 163.6 173.1 162.5 172.6C161.4 172.1 160.3 171.5 160.4 171.0C160.4 170.5 161.6 169.8 162.8 169.5C163.9 169.1 165.4 168.9 167.0 168.8C168.6 168.8 171.2 168.7 172.4 169.1C173.7 169.4 174.6 170.4 174.5 171.0Z" fill="#d6627c" transform="rotate(40 167.0 171.0)"/>
<path d="M136.0 160.0C136.0 160.4 135.2 161.0 134.6 161.3C133.9 161.6 132.8 161.9 132.0 161.9C131.2 161.9 130.4 161.5 129.7 161.2C128.9 160.9 127.8 160.4 127.7 160.0C127.6 159.6 128.3 158.8 129.0 158.5C129.7 158.2 131.1 158.1 132.0 158.2C132.9 158.2 133.8 158.4 134.5 158.7C135.2 159.1 136.0 159.6 136.0 160.0Z" fill="#d6627c" transform="rotate(20 132.0 160.0)"/>
<path d="M122.9 222.0C123.0 222.5 123.1 223.4 122.8 223.8C122.5 224.2 121.6 224.4 121.0 224.4C120.4 224.5 119.5 224.3 119.1 223.9C118.7 223.5 118.7 222.6 118.8 222.0C118.9 221.4 119.1 220.7 119.4 220.4C119.8 220.1 120.5 220.1 121.0 220.1C121.5 220.1 122.1 220.3 122.4 220.6C122.7 220.9 122.8 221.5 122.9 222.0Z" fill="#d6627c" transform="rotate(0 121.0 222.0)"/>
<path d="M35.1 245.0C35.2 245.4 34.7 246.1 34.4 246.4C34.0 246.7 33.5 246.8 33.0 246.8C32.5 246.8 31.8 246.7 31.6 246.4C31.3 246.1 31.5 245.5 31.5 245.0C31.5 244.5 31.4 244.0 31.7 243.7C31.9 243.4 32.6 243.1 33.0 243.2C33.4 243.2 33.8 243.5 34.1 243.9C34.5 244.2 35.1 244.6 35.1 245.0Z" fill="#d6627c" transform="rotate(0 33.0 245.0)"/>
</g>
<rect x="1719.80" y="847.00" width="221.90" height="255.40" fill="#fff" filter="url(#tn)"/>
</g>
<rect x="1719.80" y="847.00" width="221.90" height="255.40" fill="none" stroke="#3c3550" stroke-width="0.90"/>
<g clip-path="url(#kc0)">
<rect x="573.40" y="1111.20" width="221.90" height="255.60" fill="#e2e4f0"/>
<g transform="translate(573.4 1111.2)" filter="url(#tb0)">
<ellipse cx="10" cy="52" rx="20" ry="9" fill="#f6f6fa" opacity="0.5" filter="url(#tb3)"/>
<ellipse cx="191" cy="68" rx="10" ry="12" fill="#f6f6fa" opacity="0.5" filter="url(#tb3)"/>
<ellipse cx="37" cy="4" rx="14" ry="13" fill="#f6f6fa" opacity="0.5" filter="url(#tb3)"/>
<ellipse cx="43" cy="218" rx="14" ry="15" fill="#f6f6fa" opacity="0.5" filter="url(#tb3)"/>
<ellipse cx="78" cy="26" rx="16" ry="15" fill="#f6f6fa" opacity="0.5" filter="url(#tb3)"/>
<ellipse cx="108" cy="164" rx="12" ry="9" fill="#f6f6fa" opacity="0.5" filter="url(#tb3)"/>
<ellipse cx="29" cy="126" rx="22" ry="12" fill="#f6f6fa" opacity="0.5" filter="url(#tb3)"/>
<ellipse cx="182" cy="28" rx="13" ry="15" fill="#f6f6fa" opacity="0.5" filter="url(#tb3)"/>
<g transform="scale(0.5)">
<path d="M3 11l-1 3m8-13l-2 1m21 7l-2 1m17 5l0 1m16-11l2 1m32-5l-1 3m9 2l1 1m15-3l2 3m23 3l-2 2m8-13l-1 2m5 9l-2 2m10-12l3 1m2 8l0 3m6-11l1 3m10-3l3 2m9 10l-1 1m3-11l3 1m7 10l0 1m12-5l1 3m22-9l-1 2m36-4l-1 1m10 11l1 2m0-14l1 2m14-2l-3 1m11 12l1 1m17-2l1 3m8-9l3 1m77-6l1 2m-9 11l1 1m-8 5l1 3m-37 2l2 2m-24-7l1 3m-7 4l1 3m-19-5l-3 1m-41-1l-2 1m-39-2l-1 3m-9-11l3 0m-3 13l-2 1m-28-10l-3 1m-11 6l-1 2m-4-11l-4 0m-83-3l-1 3m-11-4l0 3m-32 7l-1 0m-29 3l-1 3m-14 13l0 2m17-5l-2 2m35-11l0 3m27 0l-1 2m31 8l-3 1m28-11l-1 0m35 10l2 0m3-9l1 0m66 8l3 2m26-11l2 3m10-1l1 1m27-8l0 2m3 10l0 1m12-8l1 2m18 4l2 0m7-6l1 3m30-1l-1 3m13 5l-1 3m4-17l0 2m8 6l-1 2m9-1l2 0m6-8l1 1m17 9l0 2m6 9l-2 0m-33 1l2 1m-33 5l-2 0m-6-8l-3 1m-9 6l2 1m-15-10l-2 0m-9 11l-2 3m-16-15l0 2m-3 9l0 2m-26-7l0 1m-44 1l0 3m-16-7l-1 3m-52-2l1 1m-12 4l1 1m-34-13l-3 0m-46 2l0 1m-14 4l2 2m-18-6l2 0m-47 25l-1 1m7-9l3 0m8-5l1 3m7 10l3 1m5-11l-2 2m32-2l-3 1m33 11l2 0m1-11l-3 0m19 0l-1 3m9 5l0 1m18-1l-1 1m43 1l-2 1m16-3l-3 0m35-8l-3 2m62-3l3 2m10-5l-3 2m12 13l-3 1m13-15l-3 1m4 8l1 2m10 1l3 2m10-8l0 2m27-2l-3 1m43 3l3 0m9-6l0 3m8 6l2 0m7 9l-1 2m-9 2l-1 1m-16 2l2 0m-14-7l2 2m-49-1l0 1m-6-8l-3 1m-6 9l0 1m-17-8l2 0m-15 5l0 3m-12-9l-2 1m-2 11l2 1m-16-13l3 2m-85 9l-2 1m-9-5l0 2m-14 4l2 0m-5-14l3 1m-43 7l0 2m-27-8l3 1m-16 0l-1 3m-18 7l2 1m-15-12l-1 1m-7 10l0 1m-10-8l-1 1m-32 6l0 3m-11 4l2 1m4 9l-1 2m9-4l2 2m9-12l0 2m9 6l-3 1m61-8l-2 1m15-2l-1 1m12-2l-2 1m8 6l1 1m12 0l-2 1m15-3l2 1m6-9l-2 3m2 11l1 2m14-10l-1 3m9 4l-1 0m13-5l2 2m8-3l0 3m10-3l1 1m27 7l-1 2m82-13l2 2m23-1l-2 2m31 8l3 0m22-14l0 2m34 1l2 1m9 11l-1 3m-1 11l-3 0m-13-1l1 1m-10-1l1 3m-23-16l1 3m-55 2l0 1m-31 6l-1 2m-2-13l-2 2m-42 7l1 2m-16 2l0 2m-13-7l-2 2m-6-10l1 1m-19 2l1 1m-20-3l-2 1m-5 8l0 2m-36-5l-1 3m-25-3l1 1m-12-4l0 1m-9 5l3 1m-20-10l-2 2m-32 10l-2 0m-22-1l-2 1m-9 8l-1 3m63-2l1 1m11-8l1 2m8 4l1 1m9-4l1 1m10-1l-1 2m17 2l3 1m20 1l-1 1m9-11l-1 3m15 4l-1 1m21 0l-3 1m46 2l-1 1m14-3l-3 0m26 0l-2 3m22-11l2 2m21 12l2 1m68-12l0 3m40 21l2 1m-12-9l2 1m-25 10l-1 2m-41-13l1 3m-44-2l-3 0m-9 0l-2 2m-5 9l0 2m-11-16l1 2m-3 11l3 1m-15-6l1 0m-7 6l-1 1m-2-16l0 3m-25 9l1 2m-8-12l3 1m-8 9l2 0m-11-2l1 1m-16-10l2 3m-25 10l1 2m-11-16l3 2m-4 10l3 1m-36-5l1 1m-42 2l-3 2m1-12l-2 2m-17-3l1 0m-14 13l0 3m-12-17l2 2m-17 1l3 2m-30-4l-2 0m62 28l-1 3m16-7l-1 0m28 2l-1 2m3-11l2 1m11-2l1 1m-2 9l3 0m39 0l1 1m12-2l1 1m18-10l1 2m6 10l-4 0m8-12l0 2m4 9l0 2m10 2l2 0m7-11l-3 2m19 1l3 1m10-2l-2 1m19-5l-1 1m44-3l2 2m17 5l-2 2m29-7l-1 1m9 9l0 1m11 0l1 3m22-8l-3 0m27 22l-1 1m-18-1l0 3m-13-4l3 1m-54-8l3 1m-11 4l0 2m-2-12l0 1m-40 9l2 2m-9-14l0 2m-12 6l0 2m-15-4l-2 3m-10-8l3 2m-7 6l-1 3m-22-2l1 3m-11-7l-2 1m-11-1l3 1m-12 4l2 1m-64-5l-2 3m-17 2l1 1m-19 1l-1 1m-12-2l-1 3m-5-13l0 1m-57-2l-2 1m-10 0l0 1m0 24l2 1m3-10l1 2m16 9l-1 0m39-11l-2 0m11 3l2 2m28-3l0 2m9 8l1 1m33-1l0 3m24-12l1 1m27 5l1 2m14-11l-2 1m13 4l-2 2m20-8l1 3m3 11l3 1m18-13l-1 3m11-6l-2 3m18 6l-2 0m22-2l0 1m20-5l-2 2m10 3l2 1m8-4l3 0m7 5l0 1m23-7l2 1m58 10l-1 2m0 12l1 0m-18-4l0 2m-41-11l-1 1m-13 9l-3 2m-11 0l0 2m-2-12l1 1m-10-1l-3 2m-16 0l-2 0m-6 9l-2 3m-4-12l-2 2m-41-5l-1 1m-8 6l1 1m-12 1l1 1m-32-4l0 2m-10 4l-3 0m-14-8l-3 0m-31 5l-1 2m-49-5l2 0m-31-3l-1 1m0 9l-1 2m-15-16l3 2m-43 10l-1 0m-7-10l-1 2m-9 1l-2 2m13 23l1 2m14-16l1 2m5 10l-3 1m7-13l0 2m25 9l-2 2m25-7l1 3m22-5l1 2m21 2l-2 0m43 0l-1 2m26-2l2 1m9-2l1 3m8-9l-1 2m49 8l-1 1m14-8l3 0m48-1l3 0m9 1l-2 1m13 2l1 2m20-6l1 3m3 9l1 2m11-9l1 2m20-11l0 2m13 3l-2 0m12-1l2 1m9 8l-3 2m-4 12l2 0m-14 0l2 1m-12-1l0 1m-7-7l-2 1m-2 7l-1 3m-15-1l1 1m-2-11l1 1m-15 5l-1 2m-20-6l-1 1m-19-5l2 0m-66 3l1 1m-18-3l0 2m-3 9l-1 1m-9-1l-2 0m-7-9l-3 0m-20 4l2 2m-59-1l2 1m-12-12l0 3m-13-1l0 1m-13 12l-1 1m-6-11l0 2m-16-7l2 2m-10 6l-3 1m-34-2l1 2m-33 1l-1 1m-9 9l-1 0m17 0l1 2m65-1l-1 2m24 2l2 1m10-3l-1 0m3 10l1 0m20-11l-1 2m20 2l1 0m14-3l1 1m47-6l1 2m31 1l-2 0m38 6l1 3m12-4l2 1m8-8l0 2m18-3l-3 1m26-1l0 3m22 2l-2 0m12 1l-2 2m46 3l1 3m9 2l-2 1m-32 11l-3 1m-36 1l1 0m-17-3l2 0m-8-11l1 3m-31-4l-3 0m-18 14l-1 2m-17-3l1 1m-37-5l-1 1m-22-10l1 2m-2 12l1 3m-62-4l2 3m-11-12l3 0m-46 2l-1 0m-18 7l2 2m-10-13l1 0m-45-2l0 2m-32 11l-2 1m11 1l-2 2m11-1l0 1m40 12l1 1m21-5l1 1m10-2l-2 0m42-8l-2 2m12 11l1 1m17 0l-2 0m9-7l1 2m41-8l-1 2m24 5l-3 1m9 6l3 0m7-2l2 1m8-13l1 1m78 5l0 2m10-3l1 0m49 2l3 2m36-4l-3 1m-25 12l-1 2m-8 9l-2 1m0-11l-2 2m-13-2l1 1m-11-1l1 1m-35-4l-1 1m-25 10l-1 3m-7-15l0 3m-15 4l-2 1m-39 7l2 1m-36-11l1 3m-24-2l1 2m-15-1l2 1m-30-6l1 3m-9 3l0 1m-10-4l2 1m-6 9l2 2m-14-11l-2 2m-13-4l0 3m-33-1l1 2m-19 0l-3 0m-30 5l-1 2m1-14l-1 1m-17 19l1 0m5 8l0 2m25-10l-2 3m12-3l-2 1m45-6l-2 2m15-3l1 3m13 7l-3 0m39-4l0 1m14 6l2 0m8-7l1 0m20 9l1 1m8-12l-2 1m12 10l0 2m24-7l1 2m13 2l3 0m13-11l0 2m14-4l-2 0m15 10l-1 1m12-8l-2 2m25-5l2 1m14 11l-1 2m16-3l1 2m3-10l-2 0m56 18l-2 1m-13-7l-1 2m-9 13l3 2m-13-13l2 0m-31 11l-3 1m-43 0l-1 1m-7-9l-1 0m-8 2l-2 1m-10-1l2 1m-22 6l1 0m-13-2l-3 0m0-13l-1 3m-20-2l1 1m-40 13l3 0m-8-13l-1 2m-39 3l0 2m-26 2l0 2m-11-6l1 0m-11 3l2 1m-18-8l-2 1m-28 8l-1 2m-6-10l0 2m-25 4l2 2m-11 12l-1 2m13 0l-4 1m27-2l1 1m26-9l2 2m18 2l2 2m6 7l1 2m13-8l-1 3m26-6l-2 1m8 7l-3 1m49-5l-1 1m19-2l-3 1m23-9l2 0m2 15l-2 0m8-9l2 1m8-1l1 2m51-7l2 1m3 8l1 0m59-9l1 1m24 3l3 1m31-6l0 2m12 6l1 1m7-8l1 1m3 11l-1 3m-86 10l-1 0m-9-6l2 3m-15 0l2 0m-59-5l1 2m-10 7l2 2m-11-7l2 1m-10-2l-1 2m-38-6l-2 0m-13 3l3 0m-8 7l-1 1m-9-8l3 1m-22 7l1 1m-7-9l1 2m-8-6l-3 0m2 12l-3 1m-24-13l-3 0m-34 13l3 2m-21-3l0 2m-3-14l-2 2m-9 6l1 1m-11-3l3 1m-11 2l-2 1m-15-4l-2 2m-12 2l3 0m18 8l-1 1m11 6l1 2m11 0l-2 1m30-7l-1 3m24-4l-2 0m36 4l1 2m26-6l-2 2m19 6l0 3m21-4l-2 1m12 0l0 2m13-7l2 0m8-4l3 0m27 6l-2 1m43 0l4 1m8 1l0 1m31-13l-1 1m12 4l-1 2m9-4l2 2m2 9l3 0m27-9l-1 2m23 3l-2 3m18-11l2 3m9 4l-3 0m-20 15l0 3m-24-11l2 1m-14 10l-1 1m-4-8l-3 0m-55-3l0 2m-15 7l2 2m-16-11l0 2m-5 6l-2 3m-11 0l3 0m-10-5l-3 1m-14-8l0 2m-77 9l1 1m-28-8l-1 1m-8 5l1 1m-20-12l0 2m-18 12l-1 3m-24-15l1 2m-18 3l1 3m-15-1l-2 1m-9 2l0 1m-12-12l1 2m-21 26l-1 1m22-6l-2 2m13-1l-3 0m25-8l3 1m30 4l2 1m42 4l1 1m13-13l0 3m12 4l3 0m9-1l-1 1m10 3l3 2m3-10l2 2m10-1l0 1m3 9l-2 3m16-10l0 3m29 0l1 1m38-2l-3 2m14-5l2 1m4 10l-2 0m14-9l-3 2m15 0l1 3m2-12l-1 3m17 7l1 2m1-12l-1 2m12 3l-1 2m37 0l-3 2m10 0l2 2m15-7l2 2m-2 23l3 1m-34-4l2 0m-9-6l0 1m-29 5l-3 0m-19-7l-3 2m-9 6l3 0m-9-8l0 1m-25 1l-3 2m-4 8l0 3m-9-9l3 1m-18-7l-4 0m-10 6l-1 1m-43-3l1 1m-11-4l0 1m-5 9l3 2m-18-10l-2 3m-17 7l-3 1m-24-6l1 2m-38-10l0 2m-26 1l0 1m-5 8l-1 2m-49-8l2 1m28 15l-2 1m38-3l1 2m47 0l2 1m39-9l2 3m9-1l-2 3m12 9l-2 1m27-14l1 0m26 11l0 3m13-12l-1 1m12-5l0 3m15 10l-3 1m23-3l0 1m10 2l-1 1m-1-11l3 2m10-2l2 2m23 5l2 3m41-13l2 3m6 4l2 1m22 0l-1 1m17 3l2 2m8-13l-2 1m7 11l1 3m-19 6l2 0m-13 1l1 3m-10-5l-2 1m-6 7l0 1m-4-10l2 1m-13 5l1 1m-12 4l0 1m-33-11l2 1m-22-7l2 2m-35 5l-1 3m-14-4l2 2m-11 1l1 1m-10 5l2 0m-62-14l-1 3m-25 6l-1 2m-13-10l-2 2m-61 0l1 3m-14-5l0 2m-22-4l-1 3m-15 5l-1 3m-10-3l-1 3m-22-7l1 1m4 16l0 2m17 7l-3 0m7-10l1 1m15 7l-1 1m13-3l1 1m34-5l2 0m11 2l-1 2m25 5l-1 1m3-15l2 1m49 10l-1 1m14-7l0 3m12 7l2 0m19-8l0 1m31 3l-1 2m78-9l1 1m9 9l-3 1m10-4l2 1m29 2l1 2m46-1l1 3m-9 11l0 2m-19-2l2 3m-39-7l-2 3m-40-1l-1 2m-71-3l1 1m-9-5l-2 3m-18 1l1 3m-31-5l3 1m-34-4l-2 0m-9 8l3 1m-12-1l3 0m-23 1l-2 0m-15-5l-1 2m-19 1l-3 1m-4-10l2 2m-53 1l0 2m-14 7l1 1m-4-16l-1 3" stroke="#b3bde0" stroke-width="7.6" stroke-linecap="round" fill="none" stroke-opacity="0.90"/>
<path d="M19 4l1 2m18-4l-2 2m21 11l-1 2m14-5l-1 1m10-6l2 1m33 6l1 2m16-12l0 2m52 6l-3 1m38-12l0 2m21 13l-2 0m90-13l1 2m33 6l-2 2m10-6l1 0m10 5l-2 0m10-13l1 3m48 7l2 1m3 12l1 1m-11 5l1 2m-49-10l-2 1m-84-3l-1 2m-29 1l-1 1m-11 4l1 2m-102-2l-2 1m-27-8l-1 2m-8 7l3 1m-32-1l-2 0m-17-5l-1 2m-66 6l1 2m20 1l1 1m7 7l-1 1m8-10l-1 3m114-2l-2 2m65 2l-1 2m37-6l2 2m3 11l2 0m40-6l-2 2m71-3l-2 0m64-2l1 2m6 22l-2 0m-12-1l-3 0m-118-6l-2 0m-22-7l-3 0m-125 12l0 1m-31-10l-2 0m-23 9l-3 0m-40 2l-2 1m-15-6l-2 2m42 17l1 2m13-11l0 2m83 0l1 1m9-1l1 1m7-3l3 1m26 1l-1 0m37 4l1 1m8-10l2 2m9-2l2 2m120 13l1 1m1-16l2 1m9 9l-1 2m37-9l1 1m-174 27l2 1m-43-7l-1 1m-65-4l-1 1m-127 10l2 1m193 1l0 2m26 4l-1 3m37-5l1 1m33 4l0 1m29-4l2 2m14-8l-2 2m11-6l1 3m50 16l1 2m-109 3l1 0m-52-3l1 3m-53 6l-1 3m-23-8l-1 3m-123-7l-1 3m-39-3l2 1m-10-1l-2 0m3 19l-2 1m124 3l-2 0m42-1l2 1m78-5l1 1m18-5l0 2m47 12l-2 0m13-13l1 1m4 7l-1 2m22-12l0 2m3 11l2 0m7-10l-1 2m4 8l0 3m17-17l0 3m7 5l1 1m8 0l2 0m13 0l1 1m9 17l-1 2m-33-8l-2 0m-14-2l-1 3m-6 6l0 2m-40-9l1 2m-10 2l2 1m-197-5l2 1m-27-2l0 1m-40 7l2 2m-15-8l-3 0m-32 16l1 1m12 4l-2 1m111-2l-1 1m115 1l0 2m107-14l0 2m19 6l2 2m20-10l0 1m2 8l2 1m10 1l1 2m9-2l2 0m-15 9l0 1m-10-3l-1 2m-56-1l1 2m-33-4l1 1m-12 4l2 1m-8 8l-1 0m-70-12l-2 2m-51-4l1 1m-22 5l0 2m-23 3l2 2m-28-13l-1 2m-61-2l1 0m-23 14l1 3m6 5l1 1m49 7l-3 0m41-13l-2 0m8 8l-3 1m21-10l2 3m9-2l0 1m4 9l-3 1m76 0l-1 2m64-2l-1 2m22-6l0 3m95-1l1 1m25-7l-1 0m-8 17l3 0m-160 3l1 1m-69-8l-2 1m-38 8l1 1m-31 3l-2 2m-15-16l-1 1m-5 11l2 0m-28-3l-1 1m-59-6l1 2m-21 13l-1 2m15 5l1 2m27-8l-2 1m52 4l-3 1m50 0l-2 0m38-2l-3 1m48-7l-2 2m9 3l-1 1m41 3l-2 2m21-1l1 2m68-8l1 2m-18 21l-1 0m-109-12l1 2m-34-3l2 1m-10 5l1 2m-29 3l1 1m-33-2l0 2m-33-1l-1 2m-9-3l-2 2m-25-5l0 3m-12 3l-1 2m-53 14l1 1m35-16l0 2m7 7l-2 1m12-1l1 1m16-1l-2 2m30-3l-1 3m116 1l0 2m53-12l2 1m75 6l-1 0m76 5l-3 1m9-9l1 3m10 21l-1 0m-32-12l-1 1m-3 10l-1 0m-12-9l-3 1m-10-1l1 0m-13-4l2 2m-28-1l-2 1m-41 5l-3 0m-21 0l-2 0m-11-4l0 2m-25 6l-1 0m-35-10l0 3m-10 2l-1 2m-12 1l0 1m-7-7l1 1m-21 8l1 2m-5-12l2 0m-11 6l1 2m-11 1l0 2m-54-8l-2 1m-40-2l0 2m52 11l1 1m100 1l2 1m68 0l-1 2m48 4l0 1m74-3l-2 1m17-7l-2 3m10 6l-2 1m34 4l0 1m-51 14l2 2m-111-13l0 3m-15 1l-2 0m-16-2l2 1m-4 8l2 2m-69-7l-1 2m-130-11l2 2m-5 8l1 2m-21-7l1 2m44 23l1 1m88-2l1 3m123-4l1 1m18 2l-2 0m60-12l3 2m29 7l-1 1m65 11l2 0m-15 2l-2 1m-57-9l0 3m-60-4l2 2m-40 12l-1 1m-6-10l-3 1m-27 3l1 1m-38 2l0 2m-28-6l1 0m-20-1l1 1m-23 5l0 3m-39-16l-2 0m-55 19l-1 3m28-4l-3 1m23-3l2 2m61 0l3 1m23 10l0 1m100-5l-2 1m99 2l-1 1m71 11l-2 1m-28-7l-1 1m-87 5l1 1m-30-10l2 1m-63 11l-1 2m-17-1l2 0m-37 0l0 3m-45-3l1 2m-8-3l-3 1m-10 2l-1 1m-3-11l1 1m97 13l0 3m71 7l-1 3m23-14l-3 1m33 2l2 2m57-7l-2 1m26 7l2 2m16-5l-1 3m-56 16l-1 2m-33-6l1 2m-82 7l-2 0m-11 0l-1 1m-27-4l1 2m-53-3l1 1m-31-7l2 1m-30-3l0 2m-12 1l0 1m-8 6l1 2m-9 3l-1 0m-70-13l-2 0m11 28l-1 2m53-3l0 2m9-7l0 1m29 5l1 1m11-8l0 1m117-9l-1 3m1 9l1 1m29-8l0 1m10 0l2 2m167 1l-2 1m6 15l1 2m-13-11l0 1m-8 3l-1 0m-119 5l-1 2m-40-11l1 1m-45 1l-2 0m-1 13l-2 2m-79-6l3 0m-70-5l1 2m-21-6l-1 2m-17-2l2 0m-29 23l2 0m38-5l2 1m32-6l-1 3m7 6l2 2m44 5l-1 1m1-14l1 1m10 4l-2 1m23 3l-2 1m69-11l-2 2m42-2l0 1m63-2l0 2m12 2l1 1m15-6l1 2m17 12l0 1m17-13l2 1m43 22l-2 1m-73-7l1 1m-39 3l3 1m-108 3l1 0m-14-2l-1 1m-21 3l-1 2m-11-5l2 1m-55 0l-2 0m-106-4l0 2m7 11l-2 0m17 11l-3 1m33-4l2 2m4-9l2 0m73 11l-1 1m25-7l-1 1m34-5l2 0m13 0l-1 1m68-1l2 1m2 9l1 1m25-2l-3 2m34-13l0 2m84-6l0 3m-82 21l2 2m-17 5l2 2m-42-7l0 3m-29-11l1 2m-48 2l-1 1m-31 5l1 1m-55-5l1 2m-15-8l-1 2m-22 4l2 2m-29 0l2 2m-25-3l1 0" stroke="#8a5f3c" stroke-width="8.4" stroke-linecap="round" fill="none"/>
<path d="M51 3l-1 2m21-5l-1 2m160-3l1 3m24 3l0 2m10-1l1 1m48-2l-1 1m36-5l-2 0m1 13l2 2m13-16l-1 1m33 7l-3 2m12-10l1 1m23 10l0 2m-1 8l-3 1m-12 4l0 2m-34-1l0 3m-22-2l1 1m-28-4l1 2m-54-11l-1 2m-24-1l-2 1m-4 9l0 1m-38-2l-1 2m-39-4l-3 1m-24 2l3 1m-39-9l3 0m-6 11l-2 1m-44-6l2 1m-22-7l1 0m-14 1l0 2m-11-6l0 1m52 19l1 0m4 8l2 0m20-7l-2 2m22-3l-2 2m54-5l1 1m26 7l1 0m9-7l0 2m33 3l0 3m56 3l-1 1m2-13l1 1m131 14l1 1m-23 5l-2 2m-7 2l-1 2m-35-11l2 2m-13 8l-1 3m-13-14l3 1m-121 2l-1 2m-10 7l1 1m-8-7l-1 2m-10-7l-1 1m-25-1l2 2m-18 1l-2 1m-5 8l3 2m-11-6l-1 1m-18 1l1 1m-13-11l2 0m-56 4l1 0m-24 3l1 1m-15-2l1 1m-3 7l-1 1m21 8l2 2m27-1l1 1m34 4l0 2m69-11l-3 1m12 6l0 2m64 1l-2 2m46-8l-1 2m13-3l-3 2m87 3l-3 1m22-8l-1 2m26-7l-1 0m18 16l-1 1m-42 3l1 1m-11-6l2 1m-8 6l-2 2m-86 3l1 2m-16-9l2 0m-9 8l-1 0m-14-12l1 2m-6 11l2 0m-25-14l1 3m-6 9l-1 1m-4-11l0 1m-54-3l2 1m-9 10l-2 2m-28-5l1 0m-93-1l2 1m-9-7l-1 3m33 24l-1 2m15-12l2 0m12 9l0 2m21 0l0 1m123-14l0 2m26 5l-1 3m22 0l2 3m10-6l0 1m8 5l-1 3m25-9l-1 2m21-9l1 2m51 11l2 2m20-9l1 3m10-2l1 2m27-6l-1 3m-33 10l0 1m-25 11l1 1m-26-11l2 1m-13-3l1 2m-2 8l1 1m-16 2l0 2m-48-7l0 1m-112 1l-1 0m-7-9l2 1m-12 11l1 2m-22-11l1 0m-4 9l1 2m-39-9l0 3m-24 5l2 2m-9-13l-2 1m-2 7l0 3m-45-3l1 1m-12 5l1 1m33 1l2 1m14 3l-3 1m59 6l-2 0m22 2l-3 0m83-16l-1 2m4 8l1 1m18-7l-1 3m65 3l1 1m20-8l0 2m8-5l2 1m34 4l3 1m38 7l1 2m42 0l1 1m-76 7l1 0m-44 5l2 3m-77-6l2 1m-10-6l-2 2m-53 3l-2 1m-29-4l2 0m-58 5l0 2m-60-6l0 2m-19-9l0 1m-5 14l-1 0m-4-7l-1 0m-4 12l-2 2m45-4l-1 2m38 11l0 1m11-13l-1 3m38 5l-3 0m11 4l-1 2m1-16l-1 2m142 6l-1 0m24-3l2 1m38-4l1 3m91 16l-1 0m-46-4l-1 2m-22 10l-1 1m-65-11l0 1m-16 4l1 1m-111-1l1 3m-26-5l2 2m-57-5l-2 1m-29 2l-3 1m-9 4l-1 3m-12-9l-2 0m-18 1l3 0m32 19l0 2m29-8l2 1m12 11l2 0m81-4l-1 2m77-12l-1 3m5 7l-3 2m112-3l3 1m22-4l2 1m19 14l-1 1m-15-3l2 1m-5 8l1 1m-13-3l-1 0m-87-2l2 1m-11-7l1 1m-10-5l2 0m-13 14l0 2m-29-8l-1 1m-43 4l1 3m-16-2l1 0m-51-7l1 2m-33 6l-1 0m-33-3l0 2m-11-1l2 0m-11-13l0 1m-39 29l-1 1m70-6l2 1m39 3l0 1m6-8l-1 0m26-6l2 2m12 1l-1 2m60 8l3 1m25-4l1 1m6-8l3 0m55 2l-1 2m92 2l-1 1m20 7l1 1m-61 7l2 0m-43-7l1 1m-12-3l-2 1m-16 14l-1 1m-9-12l2 1m-6 9l-1 1m-18-6l2 1m-79-1l-1 0m-16-8l3 0m-11-1l-2 0m-98 3l-1 2m-28 2l1 2m62 20l0 2m62-8l0 1m45-5l-1 0m8 6l-3 1m16-8l-3 2m16 6l3 0m12 0l-1 1m35 2l-2 0m6-7l1 0m17-6l-2 2m27 4l-2 1m42 0l-2 2m71-7l0 2m9 23l-2 2m-21-7l-1 1m-82 1l1 1m-10 3l0 1m-12-2l1 0m-10 3l0 1m-9-9l1 1m-94-1l-3 1m-6 6l0 3m-135-2l-1 1m-15-10l1 1m-5 9l-2 2m-26-12l-1 1m-14 20l3 1m42-1l-2 2m12-9l-1 1m22 10l0 3m31-14l-3 0m8 8l-1 1m13-2l2 1m25-9l0 1m36 6l-1 2m20-1l-1 3m17-3l-2 1m53-4l1 2m11 2l-2 2m33-3l-2 1m17-6l-1 1m27 6l0 3m55-10l0 3m12-4l3 0m16 11l-1 0m-6 7l0 3m-6 5l-3 1m-10-3l0 2m-52-9l-1 2m-13 3l3 1m-28-7l1 3m-51-1l2 2m-36 7l-3 0m-24 0l-2 1m-7-8l1 1m-121-2l0 1m-45-2l1 1m-19 24l-2 0m37-9l2 2m12-1l-1 1m29 6l1 1m20-5l0 3m10 1l-1 2m53-8l-1 1m137 4l2 1m67-5l1 1m24-2l-2 0m20 0l-1 1m12-2l-2 1m-10 9l0 3m-25 5l-1 1m-36 3l0 1m-37-10l2 1m-12 5l0 1m-107-2l-2 2m-8-2l-2 2m-18-5l3 0m-30 1l0 2m-94-5l2 1m-19 25l1 1m52-12l-2 0m18 4l0 1m43-4l2 1m9-4l0 2m46 4l1 3m41 4l-3 0m28-8l3 2m24 7l2 1m7-8l0 2m10-5l2 3m5 6l2 1m5-9l2 2m29-2l-3 1m39-1l0 2m34 17l1 1m-26-8l1 0m-8 9l-2 3m-32-15l0 3m-6 10l1 3m-48-11l0 3m-19 1l0 2m-13-4l2 0m-16 7l-1 0m-40-12l0 1m-162 1l2 1m-54-4l1 1m-13 26l1 0m34-10l-3 1m13 2l0 1m6 7l2 1m42-4l2 1m14-4l-1 1m24 3l0 1m20-1l-1 1m19-3l2 1m56 1l0 1m71-8l0 2m71 5l-2 2m61 14l-1 2m-8-7l-2 2m-21 3l1 1m-12 1l1 2m-13-12l2 3m-41 1l2 0m-70-3l-2 2m-49-1l1 0m-8 5l0 1m-29-4l1 1m-10-3l0 3m-27-8l-2 2m-32 12l-2 1m-12-9l2 0m-92 5l-2 1m-10 5l1 1m39 6l-3 0m313 8l-3 1m17-9l-1 2m38 5l0 1m23-13l1 2m-26 20l2 2m-17-9l-2 0m-20 8l0 1m-34-2l2 0m-47 0l2 1m-118-2l-1 1m-18-8l-1 1m-10 2l-2 2m-22-5l-1 2m-11 6l-2 0m-15-3l3 0m-7 8l0 2m-52-4l-1 1m-12 1l0 2m-13 1l1 0m5 12l0 3m23-2l2 1m18-2l2 1m32-8l1 3m12-7l-1 1m5 11l-3 0m91-3l2 1m14 3l-1 0m73-14l3 1m136 2l0 1m-69 21l-2 2m-6-11l2 1m-47 7l3 1m-11 2l-2 1m-43-8l-1 0m-11-3l2 1m-3 14l2 0m-86-3l-1 1m-11-3l2 0m-36-1l-2 1m-9-4l1 1m-14 4l-1 3m-18-3l1 3m-15-2l-3 1m68 10l1 1m22-1l0 2m18 2l-1 0m87-2l-3 0m29-9l1 1m8 12l0 3m27-8l1 1m9-10l-1 1m11-1l-1 1m6 9l-1 1m37 3l1 0m12-9l-1 1m20 1l-1 1m15-1l0 2m10 3l-1 2m18-3l2 0m2 11l0 3m-33-4l1 2m-15-3l2 1m-9 7l-2 1m-50-10l-2 2m-26 7l1 0m-8-10l-1 0m-16 6l-2 1m-12 3l-1 2m-41-14l-3 2m-17 10l0 2m-16-15l1 2m-20 8l-2 1m-116-7l1 2m-50 5l-1 1" stroke="#6b4325" stroke-width="8.4" stroke-linecap="round" fill="none"/>
</g></g>
<rect x="573.40" y="1111.20" width="221.90" height="255.60" fill="#fff" filter="url(#tn)"/>
</g>
<rect x="573.40" y="1111.20" width="221.90" height="255.60" fill="none" stroke="#3c3c46" stroke-width="0.90"/>
<g clip-path="url(#kc1)">
<rect x="802.60" y="1111.20" width="221.90" height="255.60" fill="#eef0f6"/>
<g transform="translate(802.6 1111.2)" filter="url(#tb0)">
<ellipse cx="15" cy="83" rx="10" ry="11" fill="#f6f6fa" opacity="0.5" filter="url(#tb3)"/>
<ellipse cx="167" cy="177" rx="17" ry="16" fill="#f6f6fa" opacity="0.5" filter="url(#tb3)"/>
<ellipse cx="100" cy="221" rx="19" ry="9" fill="#f6f6fa" opacity="0.5" filter="url(#tb3)"/>
<ellipse cx="126" cy="122" rx="18" ry="10" fill="#f6f6fa" opacity="0.5" filter="url(#tb3)"/>
<ellipse cx="154" cy="48" rx="14" ry="10" fill="#f6f6fa" opacity="0.5" filter="url(#tb3)"/>
<ellipse cx="59" cy="46" rx="21" ry="15" fill="#f6f6fa" opacity="0.5" filter="url(#tb3)"/>
<ellipse cx="7" cy="147" rx="11" ry="14" fill="#f6f6fa" opacity="0.5" filter="url(#tb3)"/>
<ellipse cx="90" cy="138" rx="21" ry="16" fill="#f6f6fa" opacity="0.5" filter="url(#tb3)"/>
<g transform="scale(0.5)">
<path d="M56 7l-1 1m22 1l-1 2m21-4l-2 2m25 0l1 1m43-11l0 2m16-2l2 2m17-1l-1 1m53-1l0 1m27 0l2 1m7 9l0 2m13-13l0 1m20-1l-1 1m14 11l-1 1m13-12l-2 1m11 8l0 2m11-2l2 2m24-2l1 1m12-5l-1 1m25-6l1 1m13 8l-2 1m-4 17l-1 0m-12-10l2 2m-32 10l0 3m-15-13l0 2m-38-2l2 1m-14 9l2 1m-15-8l0 2m-48-8l-1 1m1 13l-3 0m-18-5l1 1m-26-6l0 2m-9 6l-1 2m-79-15l-1 1m-18 6l0 2m-21-1l-3 2m-10-3l-2 2m-13 6l-2 1m-2-13l-1 2m-9 10l-2 0m-13-11l-1 1m36 20l2 1m27 3l0 1m21-10l2 0m10 11l-1 0m11-8l2 1m60-1l-3 2m15 5l2 0m63 0l-3 1m10-10l2 2m13 8l1 1m7-13l-3 1m74 0l0 1m58 18l1 2m-26 4l1 1m-45-2l-1 1m-36-1l2 1m-69-9l2 1m-15 7l2 1m-96 1l3 0m-15-8l-1 3m-20 2l-3 2m-4-14l-2 3m-35 0l-2 2m-2 10l3 2m-16-5l0 2m-27-2l3 2m4 12l-2 2m28-4l-1 1m33-5l-1 2m3 10l-1 1m100-4l-1 1m30-1l2 1m43-7l-1 3m12 5l-2 3m19-14l1 1m33 3l-2 3m94 3l-3 1m-12 14l-1 3m-9-12l2 3m-17 10l-4 0m-3-15l2 0m-18 6l2 2m-35 2l2 1m-19-8l-2 3m-42 6l-1 1m-31-10l3 0m-14 9l1 0m-22-6l0 1m-17-1l-1 2m-15-1l3 1m-15 3l-2 3m-30-15l-2 3m-51-3l-3 1m-11 13l1 3m-29-8l2 1m-41 9l2 1m14-2l-2 1m14 4l3 1m42 2l-1 1m21-3l-2 1m22 3l-2 3m14-12l-2 1m54-1l-1 1m23 6l2 3m13 1l3 1m26-11l-1 1m18 0l1 1m48 2l-1 2m15-9l-1 2m21 10l-1 1m9-10l2 1m23 2l-2 2m27 3l-1 3m5-13l-2 1m22 19l2 1m-25 4l-1 1m-39-11l1 2m-13 7l1 3m-18-4l3 1m-22-6l0 2m-65 1l0 2m-16-6l-1 2m-54 3l1 2m-39-1l-2 1m-20 1l2 1m-23-2l-2 2m-33-3l0 2m-16-9l1 3m-14 9l3 0m-31 7l2 1m32 5l2 0m9-11l-3 0m13 10l-1 2m24-6l-1 2m26-5l-1 1m38 3l-1 2m32-3l-1 3m13 1l-2 1m20 1l1 0m15-12l2 1m18 4l-1 2m13 6l0 3m4-13l-3 1m90 4l-2 0m17 5l-2 2m17-16l1 2m8 12l-2 1m56-10l3 2m1 15l0 3m-28 0l-2 0m-32 1l-2 0m-54-4l-1 2m-34-2l2 1m-7 9l-1 1m-6-13l2 2m-14 2l1 1m-33-1l-3 0m-12-5l-2 1m-37 11l-1 3m-32-11l2 1m-33 6l-1 0m-15 2l2 1m-10-13l-3 1m-24 8l2 2m-20-8l2 1m-11 6l0 2m-32-6l1 1m-7 9l1 2m13-1l3 1m107 10l1 2m16-6l-3 1m12-6l1 1m74-7l-2 1m5 12l0 2m83 0l-3 1m84-10l-2 0m33-3l-2 0m21 1l-2 2m1 19l-1 2m-22 3l-1 2m-32-10l3 0m-40-7l-2 2m-23 5l1 3m-29 6l-1 1m-20-5l2 0m-24-2l-1 0m-14 0l2 2m-61-2l2 0m-42-2l-2 2m-93-2l1 3m-40-5l2 2m5 9l0 2m20 5l0 3m14-2l1 1m63-7l1 1m7 10l-2 2m11-10l0 3m17-3l1 2m74-3l-1 3m12 2l0 1m57 5l-2 1m27-1l-2 1m5-16l-1 1m15 12l1 0m48-11l1 2m11 3l1 2m27 4l1 3m12-3l2 1m9 13l1 1m-11 3l-2 0m-22-4l-1 2m-13 1l1 0m-14-12l2 2m-74 9l-1 2m-29-7l-1 2m-29-3l2 1m-27-2l-1 3m-23-8l1 1m-26 5l-1 3m-12-8l-1 1m-11 10l-1 2m-108-5l-2 1m-13-7l-3 2m-15-4l-2 2m6 23l-1 1m12-6l2 0m26-2l0 2m25 6l-1 2m24-1l1 3m31-7l-2 1m14 3l-2 0m79-2l-1 1m60 2l0 2m55-12l2 2m14-1l1 3m23 4l-2 2m23-1l0 1m13-4l-2 0m25 1l2 1m12 3l-2 1m-16 6l1 1m-22 6l-3 2m-30-6l1 2m-20-9l3 1m-12 7l-3 1m-19-1l2 1m-34-8l3 1m-13 11l-1 1m-10-3l-3 0m-16-14l-2 3m-11 4l-1 0m-12 2l0 2m-15 3l-3 2m-2-14l-1 1m-29-2l2 1m-3 13l-2 2m-10-10l0 2m-11 5l-1 1m-105-6l1 2m-24-5l-2 2m-18 16l-1 1m13-1l1 0m13-8l3 2m19 9l-3 1m31-2l-1 1m42 3l-3 1m21-15l-1 2m4 10l1 2m44 2l-2 0m15-1l-2 2m3-15l-2 3m24 0l-1 3m56 6l1 1m15-11l-1 3m16 2l-2 2m14-2l1 1m42-9l-2 0m62 15l2 1m4-14l-2 3m18-1l-2 2m-4 9l0 2m-12 9l2 1m-18-3l1 0m-14-5l-1 2m-18-4l-3 1m-5 12l-2 2m-33-11l-3 1m-32-1l-1 1m-17 3l0 2m-23-9l1 1m-51 7l-2 2m-12 0l0 2m-43-12l1 3m-11 9l2 1m-19-7l-2 1m-43-1l-2 2m-28 1l-1 0m-14-7l-1 1m-30 2l1 0m64 13l-1 1m81 7l-3 1m77-1l4 0m12-9l0 3m18 6l-1 1m15 1l1 0m41-14l0 1m9 8l-3 2m72 1l0 2m30-10l2 2m18 16l1 1m-14-3l1 0m-15 5l0 3m-14-6l1 3m-27 3l1 3m-8-15l-1 3m-18-2l-2 3m-22 8l-3 2m-32-11l0 3m-25 4l0 3m-14-3l-1 0m-34-3l-3 0m-13-1l0 3m-14-9l-3 2m-24-1l2 1m-26 1l1 2m-17 0l-3 2m-19 0l1 2m-65 3l1 0m-10-11l0 2m-22-4l2 2m-1 11l-1 1m11 2l1 2m6 13l-1 1m16-6l2 3m15-11l-3 1m5 12l1 2m14-10l-1 2m22-3l-2 1m36 3l-3 0m34 0l-2 1m24 4l-1 0m92-5l1 0m34 3l2 2m21-5l1 1m40-4l-2 0m13 4l3 1m11-7l2 1m13 0l3 0m8 9l3 1m13-14l1 3m-29 13l0 2m-23 3l2 2m-35-3l-2 0m-70-1l-3 2m-11 6l2 1m-7-12l-1 1m-18 11l3 1m-30-7l2 2m-15-3l1 0m-13 7l-2 2m-24-6l-1 2m-27-9l1 0m-46 12l2 1m-5-12l-2 1m-6 9l-2 1m-24 0l0 1m-41-5l2 0m55 12l2 1m27 7l-2 3m26-11l-1 1m55-5l2 3m43 2l0 1m38 5l1 0m35-3l-3 1m63 3l-2 2m4-15l-2 2m16 9l2 0m15-8l-1 2m42-1l3 1m-29 10l0 2m-51 11l0 1m-14-6l-2 0m-35 1l-1 1m-37-2l2 1m-18 2l1 3m-39-7l0 3m-13-7l2 1m-113 8l2 2m-15-4l-2 2m-11-10l-1 1m-52 0l2 0m17 26l-1 1m31-14l-1 0m57 1l-1 3m28 6l-2 1m27 1l0 2m7-12l3 0m28 7l3 1m12-4l0 2m51-5l0 3m44 0l-3 1m21-6l-1 3m13 5l-1 2m28-12l-3 2m9 10l1 1m19-5l0 1m11-3l3 0m13-1l-3 1m28 13l-3 1m-34 6l0 2m-58-8l2 0m-31 9l-1 3m-24-6l2 1m-30-6l2 2m-55 1l1 2m-12 4l0 1m-12-7l-3 2m-89-9l-2 3m-34 13l-3 0m-3-13l-3 0m-32 7l1 1m-21 2l1 2m0 16l-2 0m25-3l1 3m43-2l1 1m2-14l-1 3m36 2l-2 0m17 8l-1 2m7-11l2 2m27 2l0 2m40 4l1 3m11-9l-1 2m13-6l0 1m18 0l-3 0m25 2l-3 0m17 2l2 3m54-12l-3 1m63 0l2 1m11 9l3 0m35-9l-1 1m-1 20l-3 1m-13-3l1 1m-14 7l-1 0m-14-2l2 1m-12-10l0 3m-1 10l0 2m-11-6l-2 0m-15-4l1 1m-35-4l-2 1m-21 0l2 1m-36 5l2 2m-10-10l-1 1m-28 11l-1 0m-3-15l3 1m-23 12l1 1m-33-12l0 3m-7 8l-1 3m-40-7l-2 1m-11-6l-2 1m-29-2l1 1m-25-2l2 2m-13 3l-3 1m-9 4l-1 2m-20-13l0 3m-8 18l3 0m9 9l1 1m24-3l2 2m46-12l0 1m16-2l1 2m20 3l2 1m41 4l1 1m12-5l3 0m32-4l-2 0m35-1l2 1m39-2l1 1m15-1l2 2m12 0l-3 1m14 2l0 1m10 4l1 2m30-6l1 2m10 3l0 4m38-16l1 1m8 10l1 2m-14 8l1 1m-67-1l0 2m-59-5l-2 1m-19 3l-2 2m-28 0l2 0m-21 5l3 2m-15-6l-1 3m-13-6l1 3m-15-4l1 0m-24-2l-2 2m-48 0l3 0m-29-2l-1 3m-27 2l1 3m-17-2l-1 2m-31-4l-2 0m0 14l3 2m30 3l0 2m79-11l-1 1m13 7l3 2m52 0l0 3m36-2l-2 1m48-9l-2 1m9 7l1 2m52-5l1 0m25-8l2 2m18 0l1 2m10-5l1 1m23 0l2 0m17-3l0 3m-19 25l-1 2m-16 0l2 1m-15-13l2 1m-43-2l2 3m-3 11l1 1m-33-2l-1 2m-21-10l1 3m-40-8l0 1m-14 7l3 2m-49 0l1 1m-21-2l2 0m-17 4l-2 1m-13-7l-1 2m-14 3l-1 2m-39-6l1 3m-17-11l1 2m-23 11l-2 1m-9-10l-2 1m-9-4l-3 2m-15 12l-2 0" stroke="#bac4e4" stroke-width="7.8" stroke-linecap="round" fill="none" stroke-opacity="0.90"/>
<path d="M24 9l1 3m60-11l0 1m295-2l0 3m33 9l-1 3m-8 11l-1 1m-126 2l0 1m-44-5l1 3m-25-11l-1 1m-38-2l0 1m-141 28l2 0m16-3l1 2m187-3l1 2m12-5l2 0m99 1l1 1m47 3l1 1m36 0l2 2m-11 5l-3 1m-21 9l-1 0m-76-10l0 3m-151-3l2 0m-175 11l0 1m24 2l0 1m112 4l3 1m33 4l-1 1m50 2l0 1m7-13l-1 2m32 3l1 1m122-4l-2 1m20 4l1 2m33 17l0 1m-168-11l0 2m-113 7l0 1m-34-6l0 1m-17 4l2 1m-49 0l-2 0m-45-9l-1 0m-5 28l-2 2m60-7l-1 3m107-2l3 1m264-4l-2 2m-135 11l3 1m-94 3l2 0m-15-5l2 1m-46-5l-2 0m-61 1l-2 1m82 14l2 2m137 0l0 2m58-3l3 1m46 6l-2 2m13-5l-1 3m10 14l-3 0m-126 0l2 1m-102-1l-2 2m-33-8l2 2m-9 9l0 3m-22 1l0 2m-10-16l2 1m-59 0l-1 0m-47 4l2 1m59 9l0 2m91 8l-1 2m20-1l3 1m49-9l-2 2m-162 33l-1 1m21 3l-2 2m74-3l1 2m163-6l2 2m30 4l0 2m35-3l-2 2m-36 18l-2 2m-73-4l1 2m-57-9l-2 2m-104-1l-1 1m-39-3l-1 0m-16 6l0 2m14 13l-1 3m16-11l-2 1m85 7l0 1m50-3l-1 1m31 0l3 1m150-7l-1 1m-5 17l2 3m-30 6l0 1m-310-1l0 2m-13 15l-3 1m41-15l-2 1m63 9l1 1m278 17l0 2m-55-1l1 0m-37-12l-2 2m-77 4l-1 2m-22-2l1 3m-29-8l-2 2m-54 5l1 1m-55-4l3 1m-14-4l-2 1m0 11l-1 2m-74-14l2 3m63 22l1 1m23-10l-3 2m66 6l-1 1m124-5l-1 1m11 6l2 0m27 9l-2 2m-31 2l0 3m-198 5l-1 0m99 2l-2 0m14 7l-2 0m40-7l1 1m40 0l1 1m51 3l-3 1m10-11l0 1m-16 25l-2 2m-20-8l-1 1m-19 8l2 1m-70-4l2 0m-91 5l-1 0m-24-6l-1 1m-11-9l2 1m-93 22l2 0m11 7l-1 1m117-5l2 2m14-7l0 1m50-3l0 2m40 3l2 1m33-6l-2 0m53 8l0 2m49 17l-1 2m-142-13l-1 2m-76-5l-1 2m-61 7l-1 2m-75 4l-2 0m15 0l0 1m148 8l0 2m44-9l0 1m61 9l-1 2m143 8l-2 1m-9-7l1 1m-59 14l1 1m-51-11l-3 1m-80-6l3 1m-61 4l1 0m-136 3l0 3m84 5l1 2m63 8l1 1m189-5l2 1m-223 17l-1 2m-95 13l-1 1m28 2l-2 0m158-2l0 1m29-3l-1 3m15 0l-1 2m136-1l-2 2m30 13l-1 1m-78-5l2 1m-56-5l0 2m-163-4l-1 2m-18 4l0 1m-27 5l-1 3m-76 2l-3 0m65 7l0 2m21 1l-2 0m42-8l-2 0m61 8l1 2m44-6l0 1m34-2l1 3m12 2l2 3m37-11l2 0m14 12l3 1m37-5l1 1m46-6l-1 1m-113 18l1 1m-130-7l0 1m-48-1l2 1m-48 10l-2 0" stroke="#694022" stroke-width="10.6" stroke-linecap="round" fill="none"/>
<path d="M9 2l1 1m29 4l-3 0m74-7l0 2m20-3l-1 2m17 0l0 3m9 8l-1 1m66-13l-2 0m14 2l2 2m19 8l-2 1m12-10l2 1m47 6l2 2m55 19l-2 2m-11-9l-1 3m-63-4l0 2m-94-10l-2 2m-17 7l-1 2m-13 3l1 0m-23-7l-1 2m-125-5l0 3m0 9l-2 1m-14-17l0 2m-1 15l0 3m15 12l-3 0m23-16l3 2m72 5l0 3m44-9l-1 1m35 0l-1 1m148 10l1 1m35 0l-2 0m45-3l-1 2m18 19l1 1m-50-14l-1 0m-23 5l-1 1m-64-1l-3 1m-52 3l-2 0m-26 4l-2 1m-13-15l1 3m-3 11l-1 2m-83-11l-1 0m-54 4l1 2m-42 8l-1 0m47 10l0 2m32-6l1 0m26-2l-1 2m38-2l-2 2m25-10l1 1m13 9l1 3m129-8l-1 0m31 9l-1 2m12-5l1 1m56-1l-3 0m-114 11l0 2m-274-6l1 2m53 14l-2 1m56 7l-1 1m153-3l0 1m152 14l1 0m-27-4l0 1m-23 7l-2 1m-120-5l2 1m-119 3l-2 1m-134-10l0 2m6 20l0 1m247-2l-1 1m13-4l-1 2m40 3l-1 1m13-1l-1 2m39 2l1 1m23 6l-1 0m-41 5l1 1m-12-5l-2 0m-226-6l-1 2m-87 28l1 1m23-3l1 1m58 1l1 2m101-8l-1 2m42 3l2 2m9-12l-1 2m12 8l1 2m15-1l0 1m11-13l-3 1m23 0l-1 2m21 1l-2 1m14-1l2 1m14-6l-1 0m36 14l2 2m1-14l-2 0m24 12l-2 1m-27 14l-1 1m-31-9l1 2m-154-4l-2 2m-11 2l0 1m-49 2l2 0m-37 0l2 1m-22-10l-3 1m-1 13l0 1m-21-12l2 0m-11 11l0 1m-8-10l1 0m-32 3l-1 1m45 18l2 1m94-12l1 1m27 5l1 3m47-4l1 0m25 6l2 0m87-6l0 2m-6 10l-1 0m-25 10l-2 1m-114 0l2 1m-22-4l1 1m-69 2l-2 1m-56-9l-1 2m-51 7l2 1m23 13l2 1m21 1l2 1m50-6l-1 3m52-10l1 2m138 6l-1 1m16-2l-2 0m-3 12l1 2m-127 3l2 0m-64-5l-1 3m-11 5l-1 0m-24-5l2 1m-24 2l-2 0m-52 1l-1 1m232 3l1 2m18 2l-1 0m73 2l-2 1m65 0l0 1m-162 14l1 0m-50 5l-2 2m-174 5l1 1m17-1l1 3m15 5l1 1m15 3l2 0m65-7l-2 2m80 0l-2 2m16-9l2 2m45-1l0 2m78-3l0 3m58-2l0 2m37 4l2 0m-162 17l-1 1m-38-8l-1 2m-66 6l-1 1m-10 1l-2 2m-79-5l2 2m-10-11l2 1m61 18l-1 3m60 5l-1 2m34-8l-2 1m16-6l-1 1m1 12l-1 1m200 7l2 1m-34 8l1 1m-40-6l0 2m-220-2l0 2m-82-7l-2 1m-33 2l2 0m-7 9l0 3m8 10l-1 1m70-14l-3 0m84 10l-2 0m90 3l0 3m40-15l-1 2m5 10l1 0m99-2l3 0m23-6l-1 3m3 22l2 0m-19-8l1 1m-19 0l2 1m-23-3l-3 0m-74 2l0 2m-30 4l1 1m-60-12l-2 2m-38 6l-2 1m-35 2l-2 1m-27-9l-1 2m-113 6l0 3m34 12l-1 1m40-4l1 2m46-9l-1 3m131 2l-1 2m70 2l-1 3m41 0l2 0m37 0l1 2m32-9l0 1m-44 9l0 3m-108 5l-2 0m-32 0l-2 2m-66 2l1 1m-32-14l0 1m-4 11l0 3m-14-8l2 2m-19-7l1 0m-24 6l-1 3m-80-10l2 1m33 19l-2 1m54 4l-1 1m152 3l-1 0m47-6l-2 3m20 0l2 2m28-8l0 1m83-3l-3 0m-82 20l1 1m-52-2l-2 2m-99-3l-2 0m-50-6l0 2m-63 13l1 1m24 13l-1 2m49-10l-2 0m15 3l0 2m43 0l2 1m158-5l0 1m42 10l-1 2m-77 2l-1 1m-8 7l-2 1m-235 0l-1 3m-6-13l1 1m-41-3l1 1m23 19l-1 2m13-5l-3 1m97-2l-2 2m13-3l1 1m65 2l1 0m195 19l0 1m-9 6l-1 2m-6-13l1 0m-49 6l0 3m-14-2l0 2m-41-5l-1 1m-54 4l-2 0m-43 0l2 0m-124-11l1 1m-39 12l3 1" stroke="#3c210f" stroke-width="10.6" stroke-linecap="round" fill="none"/>
</g></g>
<rect x="802.60" y="1111.20" width="221.90" height="255.60" fill="#fff" filter="url(#tn)"/>
</g>
<rect x="802.60" y="1111.20" width="221.90" height="255.60" fill="none" stroke="#3c3c46" stroke-width="0.90"/>
<g clip-path="url(#kc2)">
<rect x="1032.20" y="1111.20" width="221.90" height="255.60" fill="#e6e8f3"/>
<g transform="translate(1032.2 1111.2)" filter="url(#tb0)">
<ellipse cx="170" cy="165" rx="16" ry="10" fill="#f6f6fa" opacity="0.5" filter="url(#tb3)"/>
<ellipse cx="150" cy="248" rx="16" ry="17" fill="#f6f6fa" opacity="0.5" filter="url(#tb3)"/>
<ellipse cx="8" cy="135" rx="13" ry="13" fill="#f6f6fa" opacity="0.5" filter="url(#tb3)"/>
<ellipse cx="136" cy="219" rx="17" ry="17" fill="#f6f6fa" opacity="0.5" filter="url(#tb3)"/>
<ellipse cx="73" cy="33" rx="17" ry="15" fill="#f6f6fa" opacity="0.5" filter="url(#tb3)"/>
<ellipse cx="157" cy="9" rx="13" ry="11" fill="#f6f6fa" opacity="0.5" filter="url(#tb3)"/>
<ellipse cx="105" cy="220" rx="14" ry="8" fill="#f6f6fa" opacity="0.5" filter="url(#tb3)"/>
<ellipse cx="199" cy="222" rx="21" ry="8" fill="#f6f6fa" opacity="0.5" filter="url(#tb3)"/>
<g transform="scale(0.5)">
<path d="M20 3l-3 1m14-3l1 3m16-4l-2 2m3 10l-2 2m13-10l-3 0m13 2l-1 1m27 1l-1 2m13-11l1 3m7 9l1 1m10-13l-1 2m9 10l0 2m10 0l1 2m30-14l1 0m9 6l-2 2m15-2l1 0m28 0l0 1m32-1l2 2m11-9l0 3m16 0l-2 0m13 11l1 1m21-9l-2 2m13-5l0 3m25 6l1 2m38-11l-2 1m13-3l-2 0m11 7l-1 0m12 16l-1 1m-13-5l2 1m-7 10l0 1m-5-14l0 1m-10 12l-3 0m-3-16l-2 3m-14 0l1 2m-29 4l0 3m-13-10l2 2m-16-1l-4 0m-21 8l-2 1m-12 0l0 3m-6-14l2 2m-10 4l-2 1m-10-6l-2 1m-19 9l2 3m-14-4l0 2m-13-5l-3 2m-29 2l-2 0m-57-3l0 3m-10-11l-2 3m-4 11l0 1m-23-9l3 1m-14-6l1 2m-8 8l2 1m-15 3l3 1m-21-1l-1 1m-8-12l-2 1m-16 10l1 0m9 1l1 2m8 8l1 2m13-3l-3 1m33-3l-3 1m15-7l-1 1m25 13l3 0m5-11l3 2m9 3l1 1m12-6l-2 1m44 2l0 2m13-9l-3 2m16-1l0 2m24 4l-3 0m14 3l-1 2m9-9l1 1m6 12l3 0m3-11l1 0m11 0l-1 1m20-1l-1 0m13 3l0 2m11-5l1 2m27-5l1 3m11 3l0 2m21-5l1 1m14 1l1 3m15-2l3 1m17-8l-1 1m16-1l0 3m-26 12l2 1m-5 14l-3 2m-12-17l1 1m-36 4l2 1m-11 0l-2 2m-11-1l1 2m-24 1l1 2m-39-1l-3 0m-5-12l-1 3m-15 13l-1 0m-34-1l2 0m-11-12l2 1m-8 9l-2 0m-34 1l2 1m-23-2l-2 0m-65 1l-1 3m-8-13l2 2m-15 10l1 2m-9-16l1 1m-13 5l-1 2m-10 1l0 2m-11-5l-2 2m-11 11l2 0m4 9l3 1m3-12l-1 2m67 6l1 1m57 0l0 2m40-6l0 3m54-2l0 2m58-6l2 3m12 0l-1 3m21-5l3 0m17-2l-1 1m20 0l2 1m26-5l-1 3m20 8l-3 1m11-11l3 1m9 5l-2 2m15 6l1 3m-4 9l-1 3m-13-4l-3 1m-33 3l0 3m-19-14l2 0m-11 8l3 2m-8-13l0 2m-13 1l0 2m-10 6l3 1m-7-12l2 3m-9 7l-1 2m-7-11l0 1m-5 12l2 2m-18-14l1 1m-18 1l3 2m-23-5l-1 2m0 9l1 2m-25-6l0 2m-18-10l-1 3m-2 12l-2 2m-6-13l-1 2m-11 4l-1 0m-51-2l-2 0m-32 2l1 1m-17-11l1 1m-22 8l-2 3m-12-10l-2 1m-24-1l-1 3m-25 26l3 0m1-13l-2 3m18-4l-1 2m5 8l1 1m6-12l0 2m6 9l-3 1m17-10l-2 0m27 8l-1 2m10-7l1 0m41 2l3 1m19-3l-2 2m39 3l3 1m14 3l3 0m14-14l-1 3m20-1l2 1m47-2l1 3m16 10l-2 0m49-10l-2 2m7 9l0 2m16-14l-2 2m42-1l1 1m6 8l-1 2m17-4l1 2m-32 17l0 3m-4-17l2 3m-25 9l-2 1m-48 1l-3 1m-9-15l-1 2m-30 5l-1 2m-11-9l1 3m-13 3l1 3m-27 2l-1 1m-14-7l-1 2m-27-1l-2 2m-28 7l1 1m-12-5l1 1m-22 2l-2 1m-50-2l0 1m-32-2l1 2m-12-7l2 2m-3 20l-3 1m58-3l-3 1m44-1l-1 2m33-4l-1 3m13-8l-2 0m57 8l-1 1m18-14l0 3m2 11l-2 2m17-6l-1 2m14-1l1 1m15-10l-1 3m1 10l1 2m15-11l1 1m11 1l-1 1m20-5l-2 1m26 2l0 1m23-2l1 1m40 3l2 1m10 3l2 2m-6 14l3 2m-14-8l3 1m-24 0l0 2m-5-11l-3 2m-9 7l2 2m-13 1l0 1m-15-10l-2 2m-10 3l2 1m-20-7l-2 2m-6 9l0 3m-7-11l-1 2m-45-4l0 2m-19 5l3 1m-20 1l1 3m-44-14l-1 2m-4 12l3 0m-13-5l1 3m-25 0l1 3m-26-7l1 1m-28-1l2 1m-19-5l-2 2m-50 4l1 1m-11-9l0 3m-11 16l-3 0m34 5l-2 3m21-4l2 2m14-3l-1 1m22-5l-1 1m16 6l-2 1m28-13l1 3m15 5l0 3m15 0l-3 1m37-9l3 1m9-3l0 2m20 4l-2 3m15-4l-2 3m15-6l-1 1m16 2l-2 0m10 7l2 2m6-9l3 0m31 2l2 1m62 1l0 2m18-2l-3 2m15-8l0 1m6 8l0 2m17 7l2 1m-15 2l-2 1m-12-2l3 0m-16-2l-3 1m-30-2l2 1m-19-5l3 0m-15 4l2 1m-11 7l3 0m-10-9l2 0m-43 8l0 2m-11-11l2 2m-11 9l2 0m-17-11l-2 1m-11 0l1 1m-11 8l2 1m-12-12l-3 1m-6 7l-1 2m-9-11l-4 1m-6 13l-3 1m-1-15l0 3m-13 1l2 3m-13-5l2 2m-13 9l2 2m-29-7l1 3m-41-1l-3 1m-9-6l2 1m-10 5l0 2m-16-6l-1 1m-11-1l0 3m-30 1l-3 1m9 13l-2 0m17 2l-1 1m24-7l1 1m18 6l1 1m21-9l-1 1m14 0l2 1m21 6l2 1m11-7l-2 2m22 5l-2 1m16-12l-1 2m16 11l-1 1m13-11l4 0m8 6l-2 3m12-7l-2 2m19-2l-2 2m15-9l2 1m7 9l1 2m10-5l2 1m15 4l-1 0m10-12l-2 1m16-1l0 3m10-4l2 2m4 11l-1 0m18 2l-3 2m38-13l-1 2m20 0l2 1m13-2l1 2m11 0l1 1m6 8l2 0m-19 14l-2 1m-6-8l-2 0m-39 0l1 2m-14-7l1 1m-18 9l1 2m-47-1l0 3m-55-5l-2 3m-6-12l2 1m-19 5l1 2m-12-3l-1 2m-24-6l-1 1m-19 11l0 2m-12-7l2 2m-22-3l-1 1m-10 4l1 2m-7-14l-1 2m-15 2l0 3m-15 1l2 1m-28-6l1 1m-7 7l-1 1m-15-7l-1 1m-15-2l1 1m-5 22l-3 1m16 1l-3 1m10-10l1 2m20 0l0 3m46 4l1 2m15-7l0 3m14-7l3 1m13 4l-2 0m49 4l3 0m8-11l1 1m14 2l2 1m23-2l-1 2m35 1l2 3m39 1l-1 1m56-10l2 1m7 11l-1 1m6-17l2 2m12 3l-2 1m17 2l-1 1m21 7l1 1m-2 13l-1 2m-11-2l-2 0m-5-12l0 2m-15 8l1 1m-5-13l-2 3m-25-2l0 3m-25 12l-3 1m-15-15l-1 3m-17 4l0 1m-16 6l-1 1m-10-12l2 2m-10 8l1 1m-17-6l1 0m-51-9l-2 0m-50 16l3 0m-7-11l2 2m-14 3l2 2m-16-8l0 1m-14 1l-3 1m-18 3l0 1m-19-9l2 1m-29 2l-1 2m-9 6l0 3m-15-6l-2 3m-11 5l3 1m5 8l2 1m12-5l0 3m13-4l0 2m34-8l-2 1m4 12l3 0m12-6l2 0m12 5l-2 1m10-9l1 3m9 8l2 2m7-9l2 1m33-8l0 1m18-2l-2 1m12-1l2 1m41 2l1 3m43 3l2 0m18-9l0 3m12 1l-1 1m39 4l1 0m17-1l-2 1m39-5l-2 1m29 10l-3 1m13-15l-1 1m7 20l-3 2m-36-3l1 2m-10 5l2 3m-9-11l1 2m-18 2l0 1m-14 3l-2 2m-15-7l-2 0m-17 1l2 1m-12-9l-2 1m-15 1l0 1m-16 8l-1 3m-58-2l-2 1m-29-7l0 3m-33-8l1 2m-52 7l-2 3m-16-11l2 3m-6 7l-1 2m-12-2l-1 0m-13-8l-1 1m-11-3l-1 2m-12 0l-1 2m-8 12l1 0m20 10l-1 2m1-14l3 2m17 3l0 1m11 3l0 1m24 4l-1 2m13-6l-1 2m7-12l-3 1m18 10l1 2m3-14l-1 2m11 2l1 1m13 7l1 3m2-14l-1 1m13 9l0 1m22-10l3 1m16 4l0 3m15-4l3 0m7 9l2 0m62-1l-1 0m11-8l2 1m24 3l0 3m11-6l2 1m15-4l-1 0m11-1l1 2m15 5l-3 1m13-2l0 2m16-6l-3 0m12 9l0 2m8-12l-3 1m7 12l2 2m-2 10l1 1m-23 0l1 2m-11-9l1 2m-16 1l2 2m-13-5l0 2m-18-4l3 1m-22 0l2 3m-16-3l-2 3m-13-3l1 1m-34-4l1 1m-45 6l-2 3m-15-12l3 0m-24 12l-2 1m-2-12l3 2m-79 1l1 0m-6 11l-2 1m-31-12l2 1m-12 7l-3 0m-18-1l-2 1m-44-3l0 2m-4 19l0 3m7-12l3 0m47 9l-3 1m22-11l-1 2m16-1l0 2m40 7l1 0m5-10l2 1m35-5l-3 1m82 14l2 1m44-12l2 1m16-1l3 1m30-3l3 2m21-5l0 3m26 6l3 2m24 3l1 1m-1-13l1 1m13 14l-3 1m-18 4l-1 3m-15 1l2 1m-13 5l0 2m-10-6l-1 1m-8-9l1 0m-25-1l3 2m-23-2l0 3m-14 6l2 1m-18-7l-3 1m-13 8l-2 3m-31-6l1 1m-11-3l-1 1m-8-9l-3 1m-11 2l-1 3m-49-5l1 0m-8 9l-3 0m-16-6l1 2m-37 3l2 1m-20-8l1 1m-18-5l-1 2m-9 6l2 1m-18-5l-2 1m-9 0l-2 3m-12 6l-1 2m-8-12l-2 1m-4 12l1 0m-1 13l-2 0m32-5l1 3m8-10l-2 0m4 11l2 1m11-11l-1 0m15-2l1 3m12 4l-1 2m13-2l2 0m24-6l-2 1m13 4l-2 0m27 2l3 2m5-10l3 1m10 6l-2 2m29-4l1 3m26 3l1 3m8-10l-1 2m17 8l0 2m11-10l1 2m20 6l-2 0m13-9l0 3m14 6l-1 3m19-14l-3 1m11 2l3 2m15-3l-2 1m12-6l-3 2m12 7l0 3m17-2l-1 2m21 0l2 2m10-7l-1 1m14-4l-3 1m-1 24l-4 0m-18-5l-2 2m-16 3l3 0m-33-11l0 2m-16 2l0 3m-16 1l-1 3m-3-12l-2 1m-27 10l-3 0m-11-3l3 0m-12-9l1 1m-5 13l0 1m-48 0l-2 0m-4-12l1 2m-27 7l2 1m-27-6l1 0m-23 0l2 2m-16 1l1 1m-10-9l-2 0m-22 0l-3 1m-32 7l-1 1m-7-9l-3 1m-38-3l-2 1m-10 13l0 2m20 1l2 1m8 9l-2 3m34-8l-2 1m13 4l2 1m13-5l-2 2m14-1l-1 1m14 3l-2 1m10-10l1 1m19-1l1 0m30 5l1 2m38-2l-1 3m20 0l-1 1m10-7l1 0m9 9l0 3m9-15l-2 0m5 12l-1 3m29-8l0 1m26-2l-1 2m14 2l-2 0m11-7l-2 1m25 5l0 2m2-13l3 1m16 3l2 1m46 11l2 0m-60 2l-2 0m-22 11l-3 1m-37-13l-1 3m-8 10l0 3m-5-12l1 1m-16 7l3 0m-12-8l2 0m-21 10l1 2m-12-9l-1 3m-20-9l2 1m-12 11l-2 0m-6-11l1 0m-8 10l2 1m-12-3l-1 2m-24-5l0 3m-14-1l1 0m-13-2l0 2m-71-6l2 1m-15-5l1 2m-16 4l2 1m-32-5l1 3m-12-5l-1 1m3 23l-2 1m37-6l3 1m28 0l-2 1m31-5l1 3m23 9l3 2m18-11l1 2m12 0l-2 2m50 0l-1 3m22-2l-1 1m13-7l-1 1m13 4l-1 1m25-5l2 1m12 5l0 2m21 1l2 1m16 0l1 2m10-7l0 2m17 0l0 2m10 1l1 2m13-7l3 1m10-2l1 0m22 6l-1 2m8-16l2 2m6 13l2 3m11-6l1 2m-41 9l2 0m-11 3l-1 3m-19-3l-2 2m-25-4l1 1m-13 6l0 2m-13-10l-2 3m-20 4l-1 2m1-15l-1 2m-25 5l2 1m-16 3l0 1m-9-7l-3 2m-11 6l1 1m-5-14l1 1m-8 11l0 2m-8-12l-1 2m-13 5l-2 2m-9 0l-2 2m-24 1l1 1m-12-4l1 2m-10-12l-1 1m-16 8l1 1m-14-2l0 1m-29-1l-2 1m-10-2l0 3m-26-3l-2 1m-33 0l-1 1m10 18l-2 0m3-12l-2 1m12 6l0 2m45 5l-2 1m8-11l1 2m16-1l2 2m12 3l1 1m16-1l2 1m16-5l-1 1m34 5l2 1m13-7l-2 1m19-1l-3 1m15 8l-2 0m24-12l-1 0m15 5l3 0m14-6l-3 2m14 5l3 0m12 4l-1 1m5-14l-1 2m16 8l-3 0m17 4l2 0m12-3l1 1m7-11l3 1m5 12l1 3m21-7l-1 2m10 3l3 2m9-9l-1 0m13 1l0 1m7-10l2 2m4 9l0 3m-3 12l-2 0m-13-2l-1 1m-15 6l1 2m-15-10l-1 1m-16 1l3 2m-28 0l1 0m-53-8l1 2m-16 6l-1 0m-12-4l1 1m-11-7l2 0m-15-1l-1 1m-17 9l-1 2m-12-5l-1 1m-9-6l-1 2m-19 9l2 0m-12-12l0 2m-21 3l1 1m-36 7l2 1m-19-2l1 1m0-14l-4 1m-11 3l0 3m-14 6l-3 0m-23-8l-1 2m-30 4l0 1m-16-12l2 2m2 19l-2 1m12 1l2 2m41 3l-2 1m31-10l1 2m1 10l-2 2m26-5l1 1m25 1l3 2m23-7l-3 1m24 1l-1 0m10 3l3 2m0-13l2 1m15 0l0 2m16 6l1 3m6-14l-2 1m13 0l-1 2m9 11l0 2m5-13l3 1m12 2l3 1m16-8l1 0m5 9l0 2m9-11l-2 0m10 7l0 2m12 0l-1 1m9-8l2 1m9 6l-1 0m12-8l1 2m3 9l0 2m29-13l0 3m39 1l-1 1m-5 22l-1 2m-21 1l-1 0m-13-1l-1 1m-18 0l2 1m-70-11l2 0m-8 9l-3 1m-6-15l1 1m-32 9l-2 3m-33 0l1 2m-9-8l-3 2m-18 1l2 2m-14 0l0 2m-9-10l2 1m-23 8l3 1m-58-7l-1 1m-21 7l1 1m-13-7l1 2m-20-1l-3 1m-9-11l-1 3m-2 11l-3 0m-4-10l-2 0m-10 10l-1 2m-1-13l-2 1" stroke="#a5b1dc" stroke-width="7.8" stroke-linecap="round" fill="none" stroke-opacity="0.90"/>
<path d="M157 1l-2 0m6 9l-1 3m59 2l-3 0m83-16l-1 2m139 1l-2 2m10 20l-3 1m-122 5l-1 3m-235 12l1 0m55 2l-2 1m242 6l-1 2m-54-6l2 2m-67 6l3 0m-26-3l3 2m-14-5l-2 0m-42 8l0 1m-80-3l2 1m-15 2l-3 1m-42 8l1 2m105-2l0 2m16 6l1 1m238 10l-1 3m-365-5l-2 2m122 7l0 2m15 5l-2 1m69 5l2 2m186-10l-2 1m15 21l1 1m-191-10l0 1m-111 11l-2 0m-4-14l2 1m-18 8l1 1m-56 4l3 0m-29 5l-1 0m29 11l2 2m24-15l3 0m115 8l-1 1m165 3l3 1m-305 13l-1 0m-15-10l-1 1m-9 5l-1 3m-26 20l0 2m8-10l1 2m96 3l-2 0m184-9l2 0m-3 16l-3 2m-170 0l-1 0m-32 1l1 0m-64 19l-2 2m354 2l-1 2m-66 9l-1 0m-19 8l2 0m-243 1l1 2m12 6l0 2m175 4l-2 1m6-13l2 2m91 6l2 2m5 17l2 2m-21-13l-1 0m-12 12l0 2m-103-5l3 1m-7-10l-2 1m-114 13l-2 0m-45-4l-1 0m5 13l-3 0m152-9l-2 2m2 14l-1 0m16-2l1 2m26-6l1 1m20-1l0 1m148 3l0 1m-181 5l-1 3m-216-4l0 2m168 13l1 0m143 5l0 1m-119 9l3 1m-54 7l0 3m-136-3l-1 2m7 18l-2 1m12-11l3 1m61 9l0 2m15-2l0 2m15-13l-3 1m28 8l-2 1m77-7l3 0m34 2l1 3m41 5l0 1m-121 10l1 3m5 9l1 0m32 1l-1 1m183-3l2 1m-97 25l1 1m-70-13l3 0m-36 10l-2 2m-23-9l1 0m-139 8l-1 1m82 15l1 2m17-1l-1 1m12-6l1 0m266-2l0 3m-5 9l-1 1m-20-1l-1 1m-15 5l0 2m-18 1l1 1m-29-7l-3 1m-13 4l0 3m-270 5l1 1m120-2l-1 1m3 11l-2 1m10-10l2 2m215-2l3 0m-142 9l2 3m-229 8l2 2m-12-12l1 3m28 15l0 2m124-3l-1 0m203 1l1 1m-57 19l-1 1m-181-3l-1 2m-67 24l1 2m48-3l-1 0m23-13l-1 2m280 12l-1 3m-15 3l-2 0m-11-3l1 1m-12 3l-2 1" stroke="#86593a" stroke-width="9.2" stroke-linecap="round" fill="none"/>
<path d="M80 2l1 3m134-3l1 1m23 8l1 1m109-7l-1 1m19-6l2 2m12 1l1 0m60 10l-2 0m-75 14l-1 2m-170-12l-2 1m-36 11l-2 1m-26-8l-3 0m-89-5l0 3m-35-4l2 1m83 16l0 1m57-3l0 2m9 8l-1 0m284 5l2 2m-133 6l-1 2m-22-9l1 3m-92 1l1 1m-35-2l2 1m-29 10l1 2m-16-2l1 2m-111-15l0 1m22 21l2 0m38 5l-1 2m39-1l-1 1m20 1l-2 1m78-8l-3 0m72 5l1 1m108-11l1 3m61-3l-2 0m-49 14l-1 2m-149-2l3 1m-72 12l1 0m-13-13l-3 1m-39 9l2 1m-37-2l0 2m22 13l2 0m13 0l0 2m80-6l2 1m30 2l2 2m35-8l1 1m157 24l1 2m-38-12l1 1m-19-1l1 2m-21 4l0 3m-11-9l0 2m-132 9l0 1m-42-9l0 2m-59 4l2 1m-14-5l-2 2m-35-6l1 0m-44 6l0 1m-12 5l-1 1m18 8l-2 2m84 2l1 2m17-7l-2 1m34 1l0 2m34-8l2 1m34 2l1 2m126 5l1 0m67-2l2 2m-199 11l3 1m-58-1l2 1m-25-2l1 1m-29 1l-1 1m-102 1l1 2m-10-10l1 1m83 16l1 1m92 4l0 1m165-4l-1 1m16-6l1 3m79 9l1 2m-50 14l-3 1m-27-1l-1 1m-350-12l0 3m13 13l3 1m55 13l0 1m35-13l0 2m233-1l-2 1m22 7l0 2m72-13l-2 2m7 8l1 1m-6 13l0 3m-12 4l-1 0m-7-13l0 2m-113 0l1 1m-32 8l-2 1m-10-8l-2 1m-11-2l2 2m-83 5l2 2m-159 4l-1 3m83-3l1 1m62 9l-2 1m16-5l2 1m52 1l-2 1m66 2l1 2m26-14l-1 0m10 4l0 3m112-5l1 2m-64 24l-2 2m-136-7l-1 2m-66-4l0 3m4 21l-1 2m160-2l-1 1m54-5l0 1m44 16l0 1m-163-6l0 2m-17-2l-3 0m-107-7l-1 2m-136 8l-2 2m12 9l1 2m10 8l3 0m163-2l0 2m64-9l3 1m10 3l1 0m23-3l-1 1m14-7l1 2m-4 23l-2 1m-28-1l-2 1m-12-10l1 2m-74 4l1 3m-47-5l1 2m50 22l0 3m5-13l0 2m25-4l0 3m33 2l1 1m33 5l0 1m51-7l-1 1m35 4l0 1m20 4l-2 1m32-5l-2 0m-50 9l-2 2m-23 3l1 0m-67-6l-2 1m-5 8l-1 2m-63-5l-2 0m-85 15l-1 1m37 3l-1 1m288 4l-3 1m-55 4l0 3m-180-8l1 1m-38 11l0 3m-52-11l1 2m-19 4l1 2m-16-9l-3 1m120 23l1 1m158-4l1 3m57-6l-1 0m27 25l2 0m-315-6l0 1m-34-4l-1 0m-70 4l-1 2m-9 7l1 1m65 3l-1 3m23 4l2 0m9-14l-1 1m51 14l0 2m257 7l1 1m-280 5l1 1m-42-6l2 2m-39-5l0 2m-62 4l1 0m60 16l1 1m9-8l3 0m89 7l-2 2m282-14l2 1m-312 25l0 2m-97-5l0 3m-9 10l0 1m18 9l1 2m13-16l0 3m43 8l-1 1m73-8l2 0m197 2l1 1m39 0l0 1m28-6l2 1m-6 16l2 0m-81 7l0 2m-13-9l0 2m-21-1l0 2m-14 8l-2 2m-33-2l-1 1m-7-13l1 1m-35 5l-1 2m-78-8l-2 0m-22 12l0 2m-21-2l0 2m-24-6l0 2" stroke="#5a3418" stroke-width="9.2" stroke-linecap="round" fill="none"/>
</g></g>
<rect x="1032.20" y="1111.20" width="221.90" height="255.60" fill="#fff" filter="url(#tn)"/>
</g>
<rect x="1032.20" y="1111.20" width="221.90" height="255.60" fill="none" stroke="#3c3c46" stroke-width="0.90"/>
<g clip-path="url(#kc3)">
<rect x="1261.60" y="1111.20" width="221.90" height="255.60" fill="#c6cae4"/>
<g transform="translate(1261.6 1111.2)" filter="url(#tb0)">
<ellipse cx="20" cy="215" rx="18" ry="10" fill="#f6f6fa" opacity="0.5" filter="url(#tb3)"/>
<ellipse cx="173" cy="152" rx="22" ry="14" fill="#f6f6fa" opacity="0.5" filter="url(#tb3)"/>
<ellipse cx="160" cy="198" rx="15" ry="9" fill="#f6f6fa" opacity="0.5" filter="url(#tb3)"/>
<ellipse cx="199" cy="30" rx="18" ry="18" fill="#f6f6fa" opacity="0.5" filter="url(#tb3)"/>
<ellipse cx="78" cy="67" rx="15" ry="10" fill="#f6f6fa" opacity="0.5" filter="url(#tb3)"/>
<ellipse cx="166" cy="76" rx="11" ry="14" fill="#f6f6fa" opacity="0.5" filter="url(#tb3)"/>
<ellipse cx="58" cy="46" rx="10" ry="16" fill="#f6f6fa" opacity="0.5" filter="url(#tb3)"/>
<ellipse cx="84" cy="153" rx="17" ry="17" fill="#f6f6fa" opacity="0.5" filter="url(#tb3)"/>
<g transform="scale(0.5)">
<path d="M3 10l2 1m9-11l2 1m5 14l-2 0m5-14l0 2m9 1l0 3m4 7l2 2m2-12l3 1m8-4l-1 2m10 1l0 2m5 7l3 1m3-12l0 1m16 4l1 0m6-7l1 1m5 8l3 1m30-2l-1 3m59 2l-3 2m4-14l0 2m11 2l2 1m5 7l0 1m4-12l1 1m6 10l0 2m17-3l0 2m5-11l0 2m18-2l-1 1m3 9l1 3m13-10l-3 0m12-4l-2 1m4 9l-3 1m10-12l2 1m14 0l1 1m13-3l3 2m-1 8l2 3m7-13l2 1m0 10l-1 2m11-2l-1 1m5-12l3 1m13 12l1 3m10-9l1 1m14-5l-2 2m9-4l3 0m1 9l-3 1m13-8l-3 0m19 10l-2 2m10 3l0 2m-2 10l1 2m-10-7l1 1m-10-2l-1 3m-20-8l-2 1m-3 11l-2 1m-68-13l-2 2m-10 5l0 4m-2-13l-1 2m-8-1l-3 2m-4 7l2 3m-11-10l-1 3m-13-1l2 2m-45 2l0 2m-21-4l-3 1m-12-1l0 2m-18-2l3 1m-44-5l-3 0m-8 5l0 3m-4-9l-2 1m-30 2l2 1m-26 2l1 1m-8-7l-1 0m-7 11l0 2m-22-5l3 1m-22-5l1 1m-4 8l-1 1m2 9l-1 0m9-8l0 2m1 9l-2 2m9-11l2 3m11-1l0 2m4 7l1 2m19-15l-2 1m0 9l2 2m10-1l-2 2m25-7l2 1m8 0l1 2m17-2l1 2m6-8l3 1m8 5l0 2m6-11l1 3m2 8l2 0m22 1l1 2m0-11l1 2m9 8l2 0m7-10l0 2m3 6l0 3m8-15l-1 3m11 0l-2 2m11 11l1 1m9-8l3 0m10-6l0 1m9-2l0 2m3 8l-1 3m9-13l2 2m0 10l2 1m11-8l-1 2m12-2l2 1m8 7l1 0m1-11l2 1m17 9l1 1m7-12l3 2m6 10l1 1m40-4l0 1m7-9l0 1m6 5l2 0m14-7l-2 1m2 7l2 3m9-5l1 0m13 0l3 1m8 1l1 2m-8 10l3 2m-7 7l0 2m-6-18l0 2m-3 8l1 2m-17-5l2 1m-17 4l-1 0m-8-7l2 1m-8 7l0 2m-11-1l2 3m-12-6l-1 2m-10-3l3 1m-11 4l-2 2m-25-11l2 1m-39 1l-1 2m-20 6l1 1m-1-10l1 0m-14 10l-2 0m-5-12l-3 2m-28 0l2 1m-29 5l0 1m-15-10l-1 2m-9 1l1 1m-25-5l2 0m-8 5l-3 0m-8-3l-3 2m0 8l1 0m-37-1l-3 1m-7-4l-3 1m-8 0l-2 2m-10 1l2 1m-10-14l0 1m-3 11l-1 1m-20-5l-1 3m-1 13l2 1m6-9l3 1m8 3l-1 2m9 8l0 2m3-11l-2 2m13 3l1 2m16-2l-2 2m23-10l1 2m0 8l0 1m13-10l-2 3m11 2l-1 3m11-9l-1 1m9 2l0 2m6 5l2 1m5-11l-2 3m20 0l1 2m10-4l1 0m5 8l0 1m12-8l2 1m9 6l1 1m8-10l-2 2m15-1l-3 1m14 10l1 2m1-14l-2 1m17 9l-3 1m44-14l0 2m24 7l1 1m2-10l0 2m10 7l-1 2m11 2l1 1m10-5l-3 1m27-3l1 3m30-6l0 1m10-4l-4 1m13 13l0 1m3-13l1 2m14 3l2 1m8-7l0 2m0 25l0 2m-9-8l-3 0m-11-1l3 1m-14 5l0 3m-3-12l-2 1m-12-4l-3 1m-6 8l2 0m-17-2l3 1m-12-7l1 1m-2 8l-1 1m-32 2l-2 0m-11-5l2 0m-11 1l-1 1m-17-6l3 0m-11 6l1 2m-11-8l0 1m-11 6l2 1m-7-7l-1 1m-34-2l1 1m-7 7l3 1m-7-12l-2 2m-4 9l2 1m-21-8l1 1m-10 0l-1 2m-17 6l-3 0m-15-13l3 1m-9 6l-2 0m-14-1l-2 2m-8-5l-2 0m-11-2l3 1m-9 11l3 0m-9-8l0 1m-17 2l-1 1m-10 4l2 1m-6-11l-2 2m-9 1l-2 0m-13 5l-1 2m-18-9l1 2m0 8l0 2m1 11l2 1m24 1l-2 1m17-9l-2 2m19-5l-2 2m13 10l3 0m8-3l-1 3m21-14l-2 2m7 5l3 1m24-4l-3 2m10 8l3 0m15-10l1 2m7-7l-2 1m13 5l-3 1m10 6l-1 1m15-5l1 2m10-6l3 1m11 8l-2 1m10-11l2 0m12-5l1 2m6 5l2 1m6 7l-2 2m5-11l1 1m17-2l-3 1m12-4l-1 1m3 10l-3 1m21-2l-1 1m5-9l1 1m7 9l1 2m11-4l-1 1m17 2l0 3m6-11l0 3m9-8l-1 0m26 0l2 1m11 5l-1 3m14-11l-1 3m10 12l0 3m0-18l0 3m13 5l2 0m-5 10l2 0m-12 14l0 2m-69-3l2 1m-26-7l-3 2m-14-2l0 2m-9 4l-1 2m-1-11l1 1m-9 7l1 1m-9-8l-2 1m-4 8l2 1m-11-4l-3 2m-1-12l-1 2m-25 7l2 0m-7-11l2 2m-12 4l-2 1m-15 0l3 0m-14 4l2 1m-33-9l-1 1m-16-4l3 1m-9 12l-2 2m-14-8l0 2m-17 4l3 1m-11-4l-3 0m-9-3l-3 1m-21-1l0 3m-6 4l-1 1m-14-6l0 2m-5-11l1 3m-18 5l-1 1m-26 1l0 2m2 15l2 3m6-14l-3 2m16-2l0 3m5 7l2 2m5-11l-1 2m18 5l-2 1m9 1l1 3m8-6l2 0m9 8l2 1m7-11l0 2m14 0l1 3m12 5l1 1m10-13l-2 1m5 8l-1 2m6-12l1 1m4 8l1 1m25-5l-2 3m17-10l-1 1m18 4l-1 0m14 2l-1 3m8 3l3 1m-1-12l2 0m5 8l2 2m2-12l0 3m7 3l1 2m12 0l3 2m11-4l1 3m25-1l-1 1m11 1l1 2m17-4l-2 0m21-9l2 2m2 10l-2 2m48 1l2 2m15-11l-2 1m39 12l-2 2m-9 1l-1 3m-14 1l1 1m-49-1l2 1m-2-10l-2 1m-22 10l1 2m-13-8l-2 0m-13 2l1 3m-37 5l1 2m-12-15l-2 2m-11-2l2 1m-9 7l0 2m-14-11l2 1m-6 7l1 1m-23-2l2 3m-11-6l0 3m-4 6l-1 0m-4-9l-2 0m-9 3l2 3m-34-7l-3 0m-10 1l2 1m-51 0l-1 1m-15-5l0 1m-9 9l1 2m-7-10l-1 2m-7 8l-1 1m-4-14l3 1m-10 6l0 1m-22-9l1 3m-8 6l-3 2m-2 14l0 1m15-2l1 1m9 0l1 1m10-8l0 2m17 6l0 4m16-11l2 0m3 10l-1 1m36-6l-1 1m33 6l-1 1m9-3l3 0m25-11l0 1m22 7l-1 3m10-2l-1 3m7-13l1 2m9-3l0 1m2 8l2 0m7-5l0 1m7 7l1 1m13-9l2 1m9-6l-1 3m7 6l-2 1m14 0l-3 2m15-1l2 2m9-3l-1 2m7-9l2 0m20 13l2 0m1-9l1 1m10-1l-1 3m10-8l2 0m18 8l-2 2m17 1l2 0m9-4l-2 1m10 5l-2 0m3-12l-1 3m27 9l-1 1m3-10l-3 0m-8 26l0 1m-12-12l0 3m-10 2l1 1m-11 0l1 1m-9-8l-2 2m0 8l2 2m-15-11l-1 2m-14 0l-2 2m-9 7l-2 2m-3-13l3 2m-7 5l-3 1m-23-11l1 0m-7 11l3 0m-10-11l1 3m-6 8l-2 1m-8-10l2 1m-33-5l1 2m-6 14l-2 1m-10-6l2 1m-9-5l-2 2m-8-5l-3 0m0 11l-1 3m-9-5l1 1m-11-4l1 1m-10-2l1 3m-14-2l1 2m-2-10l-3 1m-7 11l0 2m-31-2l-2 1m-4-11l1 3m-7 5l-1 2m-9-13l1 1m-5 7l-3 2m-14 4l-3 0m-26-15l0 3m-1 6l1 3m-12-5l1 2m-9-9l0 2m-13 1l-3 2m-14-4l-2 2m-8 6l-1 3m16 6l1 2m25 10l-3 1m1-15l1 3m8 4l0 1m27-2l0 1m35 6l1 0m5-6l3 2m2 7l1 1m15-8l-1 2m10-5l2 1m23 0l-3 0m13-2l0 2m14 2l2 0m10 5l-3 1m13-3l-1 1m10-6l2 1m12-2l1 1m30 8l-1 0m11-7l-1 2m8 3l1 1m11 2l2 0m-2-11l3 1m8 2l2 1m13 3l2 2m16-3l0 2m9-6l-1 1m8 4l1 1m5-9l-1 1m10-3l-1 1m0 7l2 3m10 0l1 1m12 1l1 2m7-7l1 1m3-11l1 3m25 21l-1 2m-17 3l0 2m0-11l-1 1m-19 4l0 2m-22 3l-3 2m-3-12l1 2m-9 1l-1 3m-10-4l2 3m-11-2l1 1m-8-6l-1 1m-11 10l2 0m-5-11l0 3m-11 4l-2 1m-7 3l-3 0m-7-7l0 2m-12 4l0 1m-11-3l2 1m-11 0l0 1m-7-9l-1 1m-6 7l1 2m-10 0l-1 2m-1-14l-2 2m-8 4l0 1m-8 8l3 1m-37-16l0 2m-2 9l1 3m-15-8l-1 1m-2 8l-3 1m-15-14l3 1m-22 7l1 1m-10-4l0 3m-17 5l1 1m-9-15l-1 3m-3 10l-3 0m-5-15l1 2m-10 12l-1 2m-1-14l2 0m-14 11l3 1m-8-11l0 1m-22 11l-2 0m-13-5l1 2m-17-1l-1 1m3 13l-3 1m13-8l0 2m6 6l-1 3m21-6l0 1m5 8l-1 1m16-10l-2 2m12 4l-2 3m17-2l3 1m5-8l1 2m10 0l1 1m24-5l1 1m20 7l2 1m5-10l-1 3m11 7l-2 1m8-8l1 1m12-2l-2 0m10-2l3 1m11-1l-2 3m9 3l-1 1m20 1l-1 2m13 0l-1 1m9-12l1 2m7 4l0 3m7-9l1 2m10 6l-3 2m12-8l-1 3m12 7l1 3m2-12l-1 1m15 9l-1 1m2-12l-1 3m9 0l2 1m10-4l-3 0m14 5l0 2m11-7l1 2m25 6l-1 2m14-14l0 3m10-2l1 1m28 3l0 2m-11 11l2 1m-26-2l2 3m-24 5l2 0m-30-4l-3 1m-9 2l1 2m-10 2l0 3m-10-1l-2 2m-17-6l1 2m-12-8l-1 2m-11-1l2 0m-1 9l-3 1m-7-13l-2 1m-7 12l0 2m-4-14l0 3m-10 0l1 2m-8 2l-2 1m-10-2l2 1m-5-10l-2 1m-9 1l-2 1m-29 7l3 0m-12 5l-2 0m-41-14l1 0m-4 10l1 2m-10-11l2 2m-10-2l-1 0m-10 10l2 0m-6-8l-1 2m-28 3l-3 1m-7-11l-1 3m-8 11l2 2m-16-10l-2 0m1 10l-3 1m-6-14l0 2m-14 2l-3 1m-10 21l-2 3m3-14l-2 3m11 11l3 0m11-12l-1 1m8 11l0 1m10-5l-2 2m5-10l2 0m8 5l-1 1m8-8l2 1m10 3l0 2m3 6l1 2m10-9l-3 2m15-5l0 1m14-5l0 3m14 8l1 3m10-11l2 3m4 6l1 3m20-13l3 1m3 8l-3 1m34 4l3 0m10-8l0 2m11-8l-3 0m12 1l0 2m7 4l0 3m14-2l1 1m8 4l0 2m7-14l1 2m9 8l-3 2m32 0l0 2m-1-12l3 1m31-4l-1 2m10 7l-2 2m31-8l0 3m29 8l-1 1m24-6l1 2m8 9l-4 0m2 8l-1 3m-15-15l3 2m-27 2l3 0m-11 7l1 1m-9-3l-1 1m-7 3l-3 0m0-12l3 0m-14-2l2 2m-9 2l1 3m-16-5l-2 3m-24 9l-1 1m-17-10l-2 3m-10 1l2 1m-15-3l2 3m-17-4l-1 1m-17 0l0 4m-8 3l-2 1m-48-8l-1 2m-25-10l2 2m-14 2l-1 3m-1 8l2 0m-17-3l2 0m-24-9l2 2m-20 3l0 1m-10 0l-1 1m-11-8l-3 1m-10 4l2 0m-10 8l0 3m0-13l-2 2m-8 4l3 2m-13-6l-1 2m-4 6l-1 2m-7-8l3 1m-12 1l-1 1m17 13l1 1m10 4l2 0m6-7l2 1m14-1l-2 2m8 7l-1 1m10-3l-2 1m4-13l2 2m8 1l-1 3m21 7l-1 0m21-4l1 1m17-6l-2 2m13 1l-2 2m10-5l1 2m28 4l-3 2m33-6l0 1m9 5l-2 2m7-8l1 1m4 7l2 1m7-6l-1 1m6-10l2 2m2 9l2 1m4-9l1 2m7 4l2 0m3-9l-2 1m11 0l0 1m17-3l0 1m8 5l1 1m18 1l-2 1m10-7l-1 1m13 12l-1 1m8-6l1 0m10-8l0 2m7 10l2 1m9-7l1 1m13 0l-1 3m30-7l0 1m7-6l0 1m3 12l-1 2m8-7l1 0m0 15l-1 3m-11-4l0 1m-13-3l1 2m-13-4l0 2m-8 10l0 3m-10-8l-4 1m-8-3l-1 1m-13-8l-3 1m-6 11l-1 2m-12-7l1 3m-10-7l-1 1m-1 8l-3 0m-7-1l-1 3m-12-6l3 2m-5-11l0 2m-16 4l2 1m-18-3l2 1m-19 4l1 3m-9-7l-1 1m-11 5l-1 1m-20-3l2 3m-12-10l-2 1m-11 2l-3 1m-10-3l-3 1m-3 9l1 3m-11-1l3 1m-8-13l3 1m-9 8l-1 1m-19-12l-3 0m-2 15l-3 1m-26-9l1 2m-10-4l1 1m-4 7l0 2m-10-12l1 3m-12 7l-3 2m-17-9l-3 0m-14 0l-2 1m-4 8l-2 0m-13-15l-1 1m2 25l1 3m14-5l-2 1m10-6l1 2m8 8l2 3m6-14l1 0m4 7l3 0m16-10l1 3m9 10l1 1m13-5l-1 1m12 2l-3 1m15-4l1 1m15-9l0 2m6 12l-3 2m7-12l1 2m20 5l-2 2m12-7l0 2m14-6l-3 1m26 11l-1 0m30-9l-3 1m10-5l2 0m10 5l1 1m9-4l1 0m14 0l-1 1m9-1l3 0m16-2l0 3m7 4l-1 2m11 2l0 2m19-9l-1 1m24-6l1 2m23 12l0 2m14-15l-2 0m2 11l-1 1m8-9l2 3m25 0l-1 1m-15 13l0 2m-10 3l2 0m-9 5l-3 0m-9-8l-1 2m-27 4l1 1m-7-15l-1 2m-18 11l1 1m-2-11l2 2m-25-1l-1 2m-22 8l2 1m-6-9l3 0m-19-4l-2 2m-31-3l2 1m-8 5l1 3m-18-5l2 3m-22-7l-3 1m-39 12l3 2m-24-7l2 1m-11-4l1 2m-10 6l0 3m-7-8l2 0m-12 1l0 2m-12-2l2 0m-11-3l-1 2m-7 4l-2 1m-9-10l2 1m-15 6l-3 0m-15-4l1 2m-12-7l-3 2m-17 21l-1 3m15-2l-1 1m9-11l0 2m5 6l0 3m11-7l1 2m-1 8l3 1m9-2l-1 2m4-10l-1 1m14 10l0 1m3-13l0 3m11 10l3 0m1-14l0 3m15-2l-2 1m11 11l-3 0m23-11l-2 1m14-2l0 2m11-2l-2 1m33-2l1 1m17-4l-1 3m2 8l-3 1m13-11l1 2m21 12l0 2m0-13l0 2m19 4l0 2m6-9l3 0m2 9l3 0m7-6l1 2m2 8l0 1m11-11l2 3m15 4l-1 1m9-3l0 1m6-11l-2 3m15-2l2 0m13 6l-2 1m33 1l0 1m44-9l3 0m14-1l-3 1m-7 15l1 1m-18 11l1 2m-17-12l2 1m-25 8l-2 3m-6-14l-2 1m-1 10l1 2m-11-9l-2 0m-4 10l0 2m-7-14l1 2m-15-3l1 1m-10 10l2 0m-7-4l-3 0m-6 6l2 1m-14-8l-2 0m-12 7l1 1m-11-8l1 1m-7-6l-1 1m-10 9l0 3m-4-13l-1 3m-3 9l-3 1m-13-14l0 1m-9 5l2 3m-13-10l2 3m-4 7l2 1m-25 1l1 2m-18-7l2 2m-39-3l3 1m-9 7l-2 1m-1-12l-1 3m-23 2l-1 2m-11 0l0 2m-7-4l-2 0m-17-2l1 2m-12 3l0 1m-14-12l1 1m-1 10l-3 0m-7-2l-2 1m-14-4l0 3m6 7l0 1m9 13l1 4m2-15l1 3m12-4l1 1m12 11l-2 1m10-5l1 2m6-11l-1 2m5 11l-3 2m7-15l2 2m7 6l-2 0m9-7l-1 1m25 4l1 1m18-8l0 1m10 12l0 2m4-13l1 1m15 0l-3 1m14 5l1 2m9-2l0 1m15 4l-1 3m13-4l-3 1m5-13l2 2m17 9l-3 1m29-8l1 1m9 6l1 1m0-11l1 1m13 7l-1 0m14-7l2 2m2 8l-2 2m27-3l1 3m10-9l-1 3m10-1l-1 1m17-5l0 2m11 2l0 2m15-11l1 3m6 8l2 1m16-2l-3 0m23-9l-3 1m12 4l-1 1m-2 11l-1 2m-27 10l2 2m-12-13l1 3m-12-2l-1 1m-22 2l1 1m-12-7l-1 1m-14-1l0 1m-7 12l2 2m-16-6l-1 2m-24-5l1 0m-6 7l0 2m-4-14l1 3m-11 1l2 2m-15-2l1 2m-21 4l-1 2m-2-13l3 2m-13 3l2 2m-9-6l-1 1m-2 9l4 1m-18 0l-1 1m-22-3l3 1m-18-3l1 1m-5-9l-3 1m-10 4l0 2m-17-4l2 0m-14 6l2 1m-20-3l0 2m-19-7l-2 1m-27 5l0 2m-7 4l1 2m-9-12l-3 0m-11 8l1 0m-18-1l-2 1m0 13l1 1m10-5l3 1m15 7l-1 3m6-13l-2 2m9 8l-2 1m16-15l-1 2m11 12l-1 0m5-14l-1 3m16 2l1 1m13 1l-1 0m5 8l-2 2m9-7l0 2m11-9l-1 3m8 5l2 2m8-7l0 3m15-8l0 1m13 1l2 1m9 3l1 1m15 6l0 1m9-5l0 1m37-6l1 2m21 1l-3 1m12 3l2 1m18 2l-2 0m10-13l2 1m14 2l1 0m8 2l0 2m16-3l-3 2m15-7l0 1m17 7l1 2m17 4l2 1m24-11l2 0m10 6l0 1m13-6l2 1m-26 13l1 3m-40-4l1 1m-51 2l-2 3m-10-7l3 1m-7 7l1 2m-21-4l-3 1m-4 6l1 2m-3-15l-1 3m-19-4l-1 1m-3 7l2 2m-19 2l-1 2m-2-13l1 2m-9 4l0 2m-17-3l3 2m-13-2l0 2m-15 5l-1 3m-13-13l-3 0m-19 7l-2 1m-2-10l1 1m-12 5l-2 1m-11-5l2 2m-6 7l-1 0m-14-2l-3 2m-7-6l-1 1m-8-7l-2 2m-5 4l-1 1m-12 4l-1 3m-7-4l-3 0m-44-10l-2 3m-6 4l-2 2m2 8l-1 1m30 5l1 1m8-6l1 1m7 7l0 1m13-4l1 1m6 6l2 0m3-15l0 4m11 1l-2 0m10 1l1 2m8-4l2 2m7-3l0 1m6 9l0 2m12-7l1 3m26-3l2 1m9-7l-3 1m15-1l-1 1m12 10l1 1m15-3l1 2m7-13l-2 3m6 12l2 0m13-8l2 2m8-1l1 0m11 5l0 1m3-10l-3 1m17 8l-3 1m10-8l2 3m11 3l-2 0m13-9l0 2m8 8l0 3m13-10l-2 0m1 9l0 2m34-2l0 1m32-6l1 1m6-8l-1 0m47 6l1 2m-8 6l0 3m-4 10l1 2m-11-16l-2 3m-3 8l1 1m-9 3l1 3m-17-9l2 1m-10 2l0 2m-2-12l3 2m-12 10l-2 1m-2-11l3 1m-10 4l-3 2m-10-5l-2 0m-16 2l1 3m-12-2l1 1m-8-2l-3 2m-5 4l-1 3m-7-7l-1 0m-13-7l0 1m-45-2l1 1m-9-2l-3 1m-19 12l-1 3m-3-12l2 2m-10 5l3 1m-16-1l-1 0m-30 2l-2 1m-2-11l3 1m-12 0l-1 3m-18 7l-2 2m-7-11l3 1m-16-2l3 1m-24 1l1 1m-12 6l-3 2m-5-14l1 1m-12 2l3 1m-11-3l-2 0m-25 3l3 1m-14-4l0 2m0 8l-1 1m18 5l-2 2m16 11l-2 1m12-11l-2 0m37-5l-2 1m4 8l2 1m8-6l2 3m5 5l2 1m19-1l0 1m15-7l1 1m24-2l-1 2m11 1l-2 1m9 4l-1 0m13 1l3 0m0-13l1 2m10 4l-1 1m19 5l2 0m18-13l0 1m9 7l3 0m10-1l-2 0m18 2l-2 0m9-6l0 3m1 7l1 1m11-3l-1 1m10-3l0 3m10-8l-2 1m7 9l3 1m6-9l-2 2m8-3l3 0m9-2l0 2m10-2l3 1m9 10l2 0m45-2l-1 3m1-10l3 0m9 3l1 3m12 2l-2 3m5-15l-3 0m2 28l0 3m-12-10l0 3m-10 2l1 0m-14-4l-1 3m-10 2l1 2m-3-11l-2 1m-12 2l1 2m-16 4l2 1m-16 1l-1 2m0-14l-3 1m-8-3l1 1m-13 11l-2 3m-8-8l-1 1m-6 7l1 0m-4-12l2 1m-7 11l-1 0m-5-10l-3 0m-5 8l-1 2m-15-14l0 3m-21-4l0 3m-3 10l1 3m-8-13l1 3m-7 4l-1 3m-10-7l2 1m-11 3l-2 1m-5-9l-1 1m-7 10l-2 2m-18-4l-3 0m-17 0l3 1m-6-11l0 2m-34 3l-2 1m-6 8l2 1m-14-12l-1 2m-5 6l0 2m-9-13l1 1m-2 12l0 1m-12-15l-1 2m2 10l-3 0m-7-11l-3 1m-19 2l0 1m-11 9l-3 1m-17-7l1 0m-10-8l-2 1" stroke="#8392cd" stroke-width="7.6" stroke-linecap="round" fill="none" stroke-opacity="0.90"/>
<path d="M125 0l1 0m12 0l1 1m113 11l3 1m48-4l-2 1m120 1l-2 2m10-10l-1 2m-19 19l0 2m-23-11l0 2m-7 9l0 2m-101 1l2 1m-28-7l-1 2m-34 2l-1 1m-72-6l-1 1m18 10l-3 0m48 11l1 1m144 2l-3 0m-31 8l1 3m-31-9l-1 2m-23 7l-2 2m-19-11l1 2m-58 7l-2 0m-91 1l1 1m-45-12l-2 1m-35 29l1 1m57-2l1 2m226 3l-2 2m-74 9l2 2m-80-4l-2 1m-68-1l0 2m-50 10l-1 1m77 4l-2 2m212-14l1 2m84 10l0 1m-23 18l-1 1m-331-9l0 2m313 10l1 1m1 9l-1 3m44-14l-1 2m7 11l-1 1m17-7l-1 1m19 0l1 0m6-7l0 1m-56 22l2 0m-10-9l1 1m-23 4l-1 1m-63 0l1 1m-186 7l2 0m-31-4l-1 1m43 7l3 1m10 4l1 1m9-6l0 1m20 3l-2 1m30 3l0 2m103-8l-2 0m13-5l0 3m22 12l1 1m37-6l2 0m11-10l0 2m12 0l0 3m34-5l2 1m6 12l-1 0m-155 4l-1 2m-5 12l-2 1m-101-16l1 1m-18 10l1 0m-69-5l1 1m-62-1l0 1m74 15l2 1m5-6l1 0m2 12l1 3m73-2l-2 0m69 2l3 0m29-14l-1 2m-64 23l1 0m-11-9l-2 0m-59 7l1 3m232 18l-3 1m68 4l2 0m-8 9l0 3m-60-2l-1 1m-40-11l-2 1m-124 8l1 1m-46-6l1 3m-80-3l0 3m-82-9l1 2m122 16l-2 1m131-4l-2 1m77 11l-1 1m83 16l-2 3m-43-7l-1 2m-16 2l0 1m-136-11l1 1m-94 6l-1 2m-112 6l0 2m104-4l1 2m60-3l-1 3m8 0l1 3m22-2l-3 0m207 4l0 1m-183 17l1 0m-20 3l-1 1m-95-2l-1 1m-93-10l-1 1m49 19l1 1m65 3l-3 1m57 4l1 0m35-12l-3 0m13 8l1 2m100-9l2 0m101-3l3 1m-48 24l2 0m-30-2l0 2m-90 3l-1 1m-16-4l-1 1m-133 15l-2 2m47-4l-3 1m14 6l-2 2m42-7l2 1m8-8l1 2m18 2l3 1m117-2l2 0m21-2l1 0m-7 18l-1 1m-48 4l1 1m-141 0l-1 0m-88-3l-1 1m-11 17l-1 2m34-4l-1 0m29 0l1 3m42-7l1 1m29-6l-2 2m28 13l-1 1m57-1l2 0m102 5l0 1m-27 9l-2 0m-8-8l1 1m-47-3l2 0m-28 2l0 2m-33 4l-1 0m-260-12l-1 2m209 24l0 1m94-1l1 2m76-8l1 3m19 3l1 1m36 10l-2 2m-78 8l1 1m-11-1l1 2m-4-14l-1 2m-9-2l0 1m-39 4l0 2m-119-7l2 2m-24 0l-1 3m-150 17l-2 1m10-10l3 1m65 15l2 0m77-2l0 1m16-3l-3 1m45-8l0 1m114-5l2 0m-1 9l1 1m36-3l-3 0m57-4l1 0m-176 17l-3 0m-1 9l3 1m-79-3l-2 0m-81-3l-1 0m12 10l2 2m40-3l1 2m239 10l1 1m-120 12l-2 1m-67-7l-3 1m-57 5l2 1m-79 2l3 0m-5-11l-1 1m-7 9l0 2m-22-9l-3 0" stroke="#766055" stroke-width="6.6" stroke-linecap="round" fill="none"/>
<path d="M5 0l-1 1m74 10l1 2m1-12l2 1m26-1l-1 0m11 4l-2 0m8 6l1 2m19-5l2 2m13-6l0 2m14-4l-1 2m6 6l1 2m20 3l3 0m30-11l-1 1m129 7l1 1m9-10l3 1m67 4l2 0m-78 19l2 0m-12 3l2 0m-8-7l-1 1m-11 2l-1 2m-99-5l3 1m-74-3l-2 0m-9 3l-1 1m-45 1l1 2m-10-11l-2 2m-3 11l3 1m-19-11l-1 2m-4 12l2 2m2 9l2 2m77-5l0 1m183-8l-2 2m23 9l0 3m8-14l0 2m32 12l-3 0m-26 4l-2 0m-42-1l-2 0m-25 5l1 1m-82 2l-1 1m-9 0l1 0m-71-11l1 2m-15 7l2 1m-30-10l-2 2m-15 5l0 2m65 16l-1 1m116 2l1 0m1-10l0 2m11-1l3 1m7 2l0 3m13-4l0 2m52 2l1 1m26 2l0 1m9-13l-1 2m59 12l-1 2m-98 5l-2 2m-103-1l0 2m-50 2l-1 2m-34-11l1 1m-140 15l-1 1m18-3l-2 0m89-1l0 2m3 14l2 0m71-12l-1 1m90 8l-2 2m22-6l0 3m41-5l2 0m28 6l3 1m8-5l-2 0m32 5l-2 1m2 10l-1 1m-11-7l-2 2m-14 8l3 1m-11-4l0 2m-17-9l2 2m-21-1l0 2m-81 2l3 0m-75-2l1 1m-28 4l2 1m-84-4l1 0m-23-4l0 2m-42-3l-1 2m98 17l2 1m40 6l1 0m15-11l0 1m13 8l-2 2m97-8l-2 3m54-3l-1 0m34 2l0 1m18-4l-1 2m43 5l1 3m13 14l-1 1m-35-4l2 2m-99-8l-1 1m-21-3l0 3m-23 6l2 2m-86-11l-1 0m-10 10l2 1m-11 2l-1 2m-30-9l0 2m-17-8l-3 1m-9-1l1 1m-4 10l0 2m-66-6l-2 1m61 14l2 1m9 6l1 2m230-13l0 1m114 21l1 2m-111 4l0 2m-7-7l1 0m-322 10l-1 0m1 11l2 1m11-1l1 2m12-17l2 2m30 3l2 0m9-4l-1 1m92 5l0 3m92-3l3 1m164-1l0 2m15 6l-1 1m-4 13l2 2m-46-7l-2 1m-34 6l0 1m-156-7l0 2m-153 1l2 1m-18-14l-2 2m95 20l-1 1m24-1l-1 1m217 9l-1 0m41-4l-2 1m28-5l-2 0m-5 11l-1 1m-3 9l3 1m-15 0l3 0m-10 0l0 1m-197-12l0 3m-1 9l0 2m-18-13l0 1m-34 3l0 1m-54 3l-1 1m4 18l2 0m16-3l-2 0m47-8l-1 2m26 0l0 2m49 5l0 2m63-5l-2 2m65-12l1 3m14 7l-2 1m14 5l-2 1m9-7l2 2m31-5l1 1m-101 19l1 1m-105-3l1 2m-9 1l0 2m-21 1l-3 0m0-10l1 0m-19 1l0 2m-15 5l3 1m-62-3l-1 1m-32 1l-2 1m29 6l1 1m9-1l0 1m66 10l-3 1m124-10l1 3m26 4l-2 0m79 7l-1 2m-30 5l2 1m-99-3l-1 2m-125-9l1 2m-23 4l0 2m-110 8l2 1m186 3l1 1m68 9l1 1m29-5l2 1m62-8l-1 2m30 0l0 1m39-4l-2 1m14 17l-1 0m-59-2l-1 1m-49 5l-2 1m-15-6l-2 0m-102 4l1 1m-17 0l2 2m-24-7l1 1m-22-3l1 2m-140 7l2 2m82 18l-1 1m77-16l1 1m14 10l3 1m95-12l1 1m23-1l0 1m94 2l-2 1m12 9l0 3m8-9l-2 2m28 0l-3 0m-6 17l1 1m-15-5l3 1m-19-1l1 1m-17-4l0 1m-234 4l-1 3m-8-9l1 2m-10-4l0 2m-89 16l3 1m49 4l2 1m65-7l1 1m143 3l-2 1m95-5l-2 0m22 6l-1 2m19 18l1 1m-23-1l0 2m-20-1l-1 1m-32 1l1 2m-22-5l0 2m-95-2l-1 2m-63-10l0 3m-57 7l1 2m-18-12l-2 1m-24 6l1 1m-63 14l-1 1m29 2l1 1m111-3l1 0m63-4l0 2m72 7l2 1m53-5l-1 1m88 19l-2 1m-11-7l-1 2m-25-5l1 2m-17-1l-1 2m-5 6l2 2m-11-5l-1 2m-8-10l1 1m-93 2l0 2m-27-3l2 1m-118 8l0 1m-85-10l1 2m-19 1l-1 0m-6 20l-1 1m11 1l-1 1m117-10l-1 2m60-8l-1 1m65 0l0 2m134 6l1 0m10-8l2 1m28 20l0 2m-36-8l0 2m-119 8l-1 1m-10-2l-2 2m-10-5l2 1m-49 3l2 1m-59-4l2 2m-35 1l-1 0m-75 3l1 1m-20-3l2 1m-26 6l-2 2m18 3l2 2m25-3l-2 1m78 5l-1 3m15 1l2 0m35-13l-2 2m45-2l-2 2m17 5l2 1m140-6l1 1m9 0l0 1m9 1l0 3m-35 7l-2 2m-20 8l-1 1m-64-3l-1 2m-48 3l-3 0m-35 0l3 1m-21-9l0 1m-19 2l-1 1m-38-8l-1 1m-112 7l0 1" stroke="#4e3a32" stroke-width="6.6" stroke-linecap="round" fill="none"/>
</g></g>
<rect x="1261.60" y="1111.20" width="221.90" height="255.60" fill="#fff" filter="url(#tn)"/>
</g>
<rect x="1261.60" y="1111.20" width="221.90" height="255.60" fill="none" stroke="#3c3c46" stroke-width="0.90"/>
<g clip-path="url(#kc4)">
<rect x="1490.60" y="1111.20" width="221.90" height="255.60" fill="#e2e4f0"/>
<g transform="translate(1490.6 1111.2)" filter="url(#tb0)">
<ellipse cx="88" cy="22" rx="18" ry="9" fill="#f6f6fa" opacity="0.5" filter="url(#tb3)"/>
<ellipse cx="107" cy="85" rx="20" ry="10" fill="#f6f6fa" opacity="0.5" filter="url(#tb3)"/>
<ellipse cx="215" cy="19" rx="11" ry="15" fill="#f6f6fa" opacity="0.5" filter="url(#tb3)"/>
<ellipse cx="218" cy="220" rx="22" ry="10" fill="#f6f6fa" opacity="0.5" filter="url(#tb3)"/>
<ellipse cx="44" cy="75" rx="13" ry="10" fill="#f6f6fa" opacity="0.5" filter="url(#tb3)"/>
<ellipse cx="68" cy="96" rx="15" ry="16" fill="#f6f6fa" opacity="0.5" filter="url(#tb3)"/>
<ellipse cx="185" cy="34" rx="17" ry="15" fill="#f6f6fa" opacity="0.5" filter="url(#tb3)"/>
<ellipse cx="8" cy="241" rx="18" ry="12" fill="#f6f6fa" opacity="0.5" filter="url(#tb3)"/>
<g transform="scale(0.5)">
<path d="M18 2l-3 0m17-2l-2 0m12 5l1 1m5 8l-1 1m7-15l2 0m34 5l-2 1m34 10l2 0m55-17l0 3m24-1l1 3m32 1l-2 2m12-6l-2 0m7 11l2 1m14-7l0 2m27-6l0 1m14-1l-1 1m3 9l-1 3m17-6l1 1m34 3l2 0m10-13l0 3m2 7l1 3m18-9l2 2m23 6l2 1m14-7l1 0m-34 24l1 2m-17-8l-1 1m-21 3l3 1m-11-7l1 3m-13 1l0 3m-17-2l1 3m-8-10l3 1m-9 7l0 3m-12-8l-1 2m-14 2l1 1m-62-9l-3 0m-18 2l-2 1m-42-1l0 1m-7 8l-2 0m-12-14l2 3m-31-1l1 1m-2 11l1 3m-16-11l0 3m-29 3l-1 2m-18 1l-1 0m-13-11l-2 1m-9 0l-1 0m-9 0l-3 1m-9 11l2 0m2 13l-1 1m20-3l2 2m40 0l2 0m11-13l1 0m5 10l3 1m11-2l-3 1m25-4l-3 1m12-8l0 4m3 9l2 1m27-11l2 2m22-2l0 1m62 8l-3 1m17-4l-1 0m11-4l-1 2m11-1l0 1m21 2l-3 1m62-4l-1 0m17-4l-2 1m3 12l-2 0m53 3l2 1m-10 10l-1 1m-52-9l1 2m-11-7l-3 1m2 12l-2 1m-32-13l0 1m-1 10l-1 1m-10-9l1 2m-4 9l0 1m-60-4l3 1m-13-10l-2 0m1 11l-2 0m-10-14l-1 1m1 11l0 1m-15-13l3 2m-26 1l1 1m-42 0l-1 2m-9 5l-1 1m-36-2l2 1m-19 2l-1 3m-2-13l-3 0m-27 11l1 1m-9-8l0 1m-15 5l3 2m-25 11l-2 1m14-10l2 1m31 7l-1 1m24-7l-1 1m8 6l1 2m15-4l-1 1m29-7l2 3m5 9l2 2m9-11l0 1m9 3l2 1m39 5l2 2m34-10l-1 2m10 2l1 2m26-11l1 1m12 11l-2 0m15-15l0 3m9 2l0 3m19 1l3 2m9 0l-1 1m23 0l0 2m12-4l-2 1m7-9l-1 1m27 5l1 3m9 2l1 1m7-12l-3 0m21 9l0 2m11-4l-3 0m4 14l-1 1m-9 7l2 2m-35-8l2 0m-15 5l-1 1m-27-8l0 2m-22-6l3 1m-4 12l0 1m-22-13l1 2m-11 0l-1 1m-85-5l1 1m-15-2l2 2m-24-1l1 1m-4 8l-2 1m-5-10l-2 0m-28 4l1 0m-11 9l2 0m-25-11l1 3m-13 9l1 0m-26-11l0 1m-5 8l-2 3m-13-3l-1 2m-17 1l-2 0m-13-11l-3 0m-12 23l0 1m13 1l-3 2m6-16l-1 2m51 7l-1 2m10-10l-3 2m30 1l2 1m9 5l-1 2m24-8l1 3m30 8l0 1m29-15l-1 3m11 5l2 1m20-6l-2 1m9 2l3 1m30-5l0 3m18 6l-2 1m12-1l2 1m7-14l1 3m11 6l3 1m10 1l2 2m24-8l1 0m16 2l0 2m22 7l2 1m4-16l-2 3m13 5l2 1m13 2l1 2m-5 8l-1 0m-42-2l2 1m-32 1l2 1m-14 3l0 3m-20-5l-1 2m-16 5l-3 0m-6-7l-1 2m-14-3l1 3m-21-10l-1 2m-6 12l1 1m-25-11l-1 0m-10 10l-1 2m-36-1l3 2m-25-7l0 2m-19 0l1 3m-7-14l3 2m-50 5l1 1m-40 1l1 1m-14-1l-2 1m-17-1l-1 2m-12 6l-2 3m5 7l0 3m17-7l-1 1m59-7l1 3m23 4l-3 1m28-5l-1 2m13 0l1 2m30-1l1 1m12 6l3 0m8-10l-1 1m58 8l-3 2m65-8l0 1m22 1l-1 2m10-9l2 1m9 2l1 2m22-8l0 3m41 2l1 2m10 9l0 2m10-8l-3 0m2 13l-1 1m-15 1l-1 1m-40 5l3 2m-5-16l-1 0m-11 4l2 1m-11-4l0 2m-10 9l0 1m-17-3l-1 0m-13 2l-2 1m1-12l-1 1m-16 13l3 0m-11-11l-2 2m-30-5l1 1m-28 6l1 0m-27-3l3 2m-45 0l-1 1m-13-3l-1 1m-11-6l-1 2m-9 11l1 2m-14-3l1 2m-45-11l2 3m-45 2l-1 2m-25-4l2 3m-6 9l-2 1m14-2l1 3m89 3l1 2m20 4l1 2m15-3l1 1m18-2l-3 0m12-8l-2 2m20 9l-2 1m6-15l0 2m13 8l0 2m27-8l-2 1m16 1l-3 2m12 0l0 3m11-8l-1 2m19 6l-3 0m12-7l-3 0m4 10l-3 1m17-5l-3 2m25-5l-1 1m40 3l1 1m10-8l-3 1m13 4l-2 3m48-12l-1 1m10 28l-3 1m-12-15l0 4m1 8l-2 2m-69-11l2 1m-12 12l-2 1m-1-16l1 2m-71 14l-2 0m-25-2l2 1m-13-13l0 1m-3 10l0 2m-22-3l-2 2m-21-6l3 1m-11 4l0 1m-33-10l2 1m-17 1l1 1m-22-6l1 1m-5 10l0 2m-10-10l1 2m-28-6l1 2m-9 7l3 2m-28-6l-2 3m-37 3l2 3m54 4l2 0m22-3l-1 3m7 8l2 1m9-7l2 0m26 2l0 4m44-4l-3 0m32-2l1 3m25-5l2 1m15 6l1 1m40-2l1 3m8-10l-2 2m18-1l1 2m19 10l1 1m12-9l-2 1m20-2l2 2m15 8l1 0m16-5l-2 2m9-9l2 3m9-1l0 2m7 6l1 1m16-5l1 1m7 13l-2 0m-35-7l3 1m-14 7l2 1m-27-1l2 1m-50 1l3 1m-9-10l-1 1m-39 3l2 0m-12 9l1 1m-1-12l-2 0m-11-1l1 1m-30 4l-1 1m-9 8l3 0m-13-7l-2 1m-14-8l-2 2m-1 11l-2 0m-49-2l3 1m-26 0l1 0m-33-9l-1 3m-28 6l-2 0m-27-9l-2 0m-1 9l0 3m-17 14l0 1m28-9l1 2m11-2l3 2m17 4l-3 1m3-12l-1 1m12 1l-2 2m22 0l-3 2m39-3l-2 1m21 10l-1 0m10 0l3 0m7-6l2 0m14 4l0 3m14-14l2 1m9 6l1 2m17-5l-2 1m12 2l-2 3m3-13l0 1m14 2l-2 2m11 7l-2 0m22 0l-1 1m133-5l3 0m29 15l3 0m-75-6l0 3m-17 11l-1 2m-32-3l2 1m-14-10l-1 3m-20 2l1 3m-43-13l-3 2m-29 3l1 3m-11-3l0 2m-13 2l1 2m-19-3l-2 0m-29 3l1 2m-8-9l-2 2m-20 7l-1 1m-7-14l-2 1m-10 8l-2 2m-44-11l2 2m-13 3l2 2m-15 5l-2 3m0-16l0 2m-14 7l2 2m-5 11l2 2m40-8l1 2m5 13l-2 3m16-17l-1 1m21 11l1 3m18-6l0 1m32-5l2 2m17 5l3 0m10-11l-1 3m22 4l-1 0m13-7l-2 2m13 8l1 3m36-3l2 1m12-9l-3 1m11 9l1 3m-1-16l2 0m26 2l-1 1m5 10l1 0m8-11l-1 2m99 1l-1 1m-65 12l-2 1m-26 10l-1 1m-35-1l-2 2m-20-11l3 0m-28 5l2 1m-28-5l-2 0m-18-3l-3 2m-10 9l1 2m-6-8l-2 0m-16-1l-2 1m-12 3l-1 3m-18-1l-1 2m-7-12l-1 2m-8 8l2 0m-7-13l0 2m-46 12l0 3m-45-15l-1 2m63 28l1 2m19-11l0 2m11-4l0 2m10 6l0 3m23-8l2 2m10-2l-2 0m16-6l1 0m40 1l1 1m11 2l-1 0m18 10l3 1m20-10l-1 2m16 1l-3 1m9 5l1 1m30-2l-3 1m32-7l3 1m23-8l-1 0m49 12l-3 2m38 2l3 1m-11 4l0 2m-19-7l2 1m-23 7l2 2m-14-4l-1 3m-9 5l-3 2m-6-17l1 1m-7 6l-1 1m-15-5l3 0m-20 8l2 0m-17 0l-1 3m-17-14l0 3m-9 7l0 3m-44-4l-1 0m-87-10l0 3m0 10l-1 1m-19-11l1 1m-13 0l2 0m-24 6l-2 1m-12-7l-2 1m-19 0l-2 1m-3 10l2 1m-14-6l0 2m-14-10l2 2m-5 9l-1 2m45 4l-1 2m12 6l3 0m19-5l2 1m14-8l2 2m25 7l1 2m18-5l-3 1m12-5l1 1m14 11l0 1m9-10l-2 0m13 10l1 2m14-13l1 1m13 1l2 0m15 4l-2 3m22-4l-1 3m16-8l0 3m4 8l-1 1m33-7l3 1m14 5l1 2m3-14l1 2m23 6l-2 1m38-2l3 0m13-7l-1 2m9 15l3 2m-16-3l3 1m-16 0l1 2m-14-5l-2 1m-12-2l1 2m-30 10l0 3m-16-10l0 1m-13-1l0 2m-9-3l-2 2m-9 3l-1 2m-11 6l3 0m-15-5l0 1m-16 2l3 1m-31-4l3 0m-38-8l-1 1m-29-2l-1 2m-13 10l-2 3m-18-15l-2 1m-12 0l1 2m-47 5l-1 1m-12-4l1 2m-15 0l2 2m-7-12l0 3m-20 9l0 2m1 9l0 3m9 2l-1 3m5-13l-2 2m47 10l-2 3m12-16l0 3m3 8l1 2m46-10l-1 2m10 9l-1 3m21-6l1 3m10-6l0 3m9-3l3 2m10-11l2 2m7 7l0 3m25 3l0 2m54-2l-2 0m18-11l-1 1m15 3l-2 2m46-8l-2 1m14 6l1 1m10-7l-2 1m6 7l3 2m2-11l1 0m41 1l-1 1m-1 19l-1 3m-18 4l0 1m-9-13l2 1m-13 4l-1 2m-11 5l1 3m-13-8l3 1m-16-2l0 1m-18-7l-2 0m-56 5l-2 2m-18-3l1 1m-67 1l-2 1m-67 4l2 2m-102-2l1 1m-21 14l1 3m7-10l2 1m10 2l2 2m13 6l0 1m45-15l3 1m16 5l-2 1m49 2l-1 3m42-6l3 2m18-8l-2 3m47 6l1 2m39-6l0 3m17-8l2 1m9-3l1 2m25 6l1 3m9-6l2 0m17 6l0 3m54 2l-2 2m-11 4l-2 1m-61 4l3 1m-10-6l-1 3m-34-2l0 1m-21 1l3 0m-45 0l2 2m-13-10l-2 3m-2 11l2 0m-22-14l-1 1m-8 13l-1 2m-14-9l1 0m-21-6l-2 1m-2 11l2 1m-15-10l2 1m-11 5l2 1m-24-8l-2 1m-10-3l0 2m-60 4l1 2m-10 0l-3 1m-24 4l-1 2m-17 1l0 2m77 8l2 3m15-13l1 1m42 6l1 1m13-1l2 1m18 0l-3 0m15-7l3 1m10 0l-3 0m36 4l2 1m16 7l3 1m7-12l1 0m2 10l0 2m11-13l-3 1m22 2l1 3m12-8l2 1m25 1l-1 1m26 3l-2 0m8 8l2 0m14-15l2 3m9 2l0 2m52 8l-1 1m-32 9l-2 2m-14-7l1 2m-11-6l-2 1m-36-1l0 3m-13 7l1 3m-13-7l0 3m-19-6l2 1m-27-5l-2 2m-5 8l2 2m-15 4l1 2m-10-8l-1 3m-6-11l-2 3m-10-1l1 1m-6 10l1 0m-14-12l0 3m-9 8l3 0m-33-3l-1 2m-17-4l3 1m-42-6l1 0m-25 6l2 2m-15-3l2 2m-9-9l2 2m-12 9l0 3m-18-1l2 0m-23-14l2 2m-20 25l-2 2m17-12l-2 1m8 11l-2 2m15-9l-2 1m28 3l0 2m9-9l3 2m-1 9l-2 0m32-14l3 1m6 11l1 1m36-4l1 3m30-12l-1 2m12 3l-1 3m20-7l3 2m2 11l1 1m20-11l-1 3m12 0l-1 1m25-1l-1 1m19-7l-3 1m50 6l3 0m29-4l0 1m10 10l1 2m11-11l-2 2m12-1l-1 2m15 0l0 3m12-3l2 1m8 11l-1 1m-54 9l-1 1m-17-3l1 3m-20-11l3 1m-6 8l-2 2m-28-15l2 0m-21 2l1 2m-8 5l-3 2m-8-1l-1 3m-11 0l1 2m-5-14l1 2m-12-3l-2 0m0 13l2 0m-11-13l0 2m-24 6l3 2m-12-2l0 2m-7-9l-2 1m-90 10l1 1m-33 1l2 2m-15-12l-1 2m-10 3l2 3m-13-1l2 2m-5-11l1 1m-22 2l3 2m-13 2l1 3m-7 8l2 1m12 0l3 0m9 8l1 1m24-7l3 2m11-5l0 4m14 3l1 1m8 1l3 2m15-7l-1 0m16-3l-2 1m30-8l2 2m14 3l1 1m7 8l-2 2m51-2l1 0m9-6l3 2m20-1l3 2m20-3l1 1m9 3l0 2m11-8l0 1m20 2l1 3m12 3l-1 3m30-8l0 3m33-12l2 2m11-1l1 3m29 26l-1 1m-37-13l-2 0m-19 12l-2 1m-27-2l-2 1m-1-12l2 1m-11 6l2 1m-12 0l-2 2m-11-8l2 3m-48 3l-1 1m-17-11l0 3m-10 3l-1 2m-98 5l-3 0m-51-3l1 1m-24 3l-2 1m-6-13l1 2m-21-1l3 2m-12 4l-1 1m-17 4l1 3" stroke="#b0bbdf" stroke-width="7.8" stroke-linecap="round" fill="none" stroke-opacity="0.90"/>
<path d="M2 5l2 1m60 8l-2 1m23-1l-1 1m64-13l1 2m31 10l2 1m28-3l0 1m13-4l-1 0m37-7l-2 0m60 1l2 1m30 9l1 2m42-1l-1 2m22-17l-1 2m21 16l0 2m-5 6l-2 3m-10 3l1 0m-133-14l-1 2m-78 12l0 1m-16-7l-1 0m-49 3l-1 3m-17-6l2 2m-46-5l-2 0m-44 8l-1 2m122 9l-1 2m62-7l1 3m30-5l-2 2m80 2l1 1m16 1l2 0m56-1l0 3m32-4l-2 2m10-7l-1 2m-46 13l2 2m-113 11l-1 3m-74-4l1 2m-7-13l2 1m-40-2l-1 2m-34 4l1 0m-65 3l1 1m-46-5l-3 1m11 17l1 2m13-7l-1 2m68 6l-2 2m14 1l-2 3m75-15l-3 0m26 5l2 2m120-9l1 2m88 27l-1 3m-9-14l0 3m-183 5l-1 1m-80 5l-2 2m-67 10l1 2m9-6l0 3m130 0l0 2m35-10l1 1m31-2l1 0m59 1l-2 2m44 5l-1 1m52-2l0 1m-50 16l3 1m-84-8l2 2m-129-1l2 1m-35-3l-2 0m-24 0l-1 1m-24 5l2 2m-28-2l1 0m-10 5l-1 2m4 13l-3 1m50-10l1 1m124-2l2 1m25 3l0 2m17 3l-2 1m48-10l0 2m39 0l0 1m33-2l2 0m14 15l1 1m-19 0l2 1m-49-1l-2 0m-75 7l1 1m-54-5l0 3m-133-3l0 3m-16 7l-2 2m-19-6l-1 2m-33-7l3 1m4 11l-1 0m41 6l2 0m347-8l-1 3m-30 19l-1 2m-49-2l-2 0m-70 7l2 1m-40-6l1 1m-61 1l2 0m-136 5l1 1m-14-16l1 1m-12 0l1 0m5 23l-2 1m36-5l-2 2m19 9l-3 1m16-5l2 1m21 3l-1 2m17-10l-1 1m34 5l1 3m3-15l-1 1m73 10l-1 1m48-3l0 1m70 6l2 0m-104 3l0 2m-124-4l-1 2m-45 3l-2 1m-19-8l-2 1m-14 1l0 1m50 13l-1 2m29 6l2 2m184 3l-1 1m25-7l1 0m10 8l-1 1m26-8l2 2m30 4l1 1m1-13l-1 0m39 3l-1 1m-9 12l-3 1m-64-1l-2 1m-269 1l3 1m-63 26l-1 0m12-2l-1 2m65-12l0 2m34 6l1 1m49-9l2 1m40 0l-1 1m150 6l-2 1m74 6l1 0m-13 0l0 3m-26-5l2 1m-29 6l-2 0m-9 1l-3 1m-64-3l-2 2m-157-7l3 1m-53 10l-3 0m-27-5l2 0m-23 0l3 1m-40 22l0 1m2-15l-2 0m9 7l-1 2m25-8l2 2m10 9l-2 2m14-7l-1 2m114 2l0 1m49-8l1 1m17 2l0 2m53-7l0 2m35-4l-1 1m26 12l-2 2m34-7l-1 1m10 0l2 1m39-3l1 2m-100 21l-1 2m-20-14l1 2m-18 5l-2 2m-24 0l0 3m-11-4l-1 1m-40-6l1 0m-31 5l-1 1m-4-11l-1 1m-22 3l-2 0m-21 4l2 0m-34 3l1 2m-87-9l-2 1m-17 4l2 2m7 8l1 1m201-2l2 0m10 11l1 1m159-11l1 2m14 2l-1 0m-28 15l-1 2m-126 7l-1 1m-26-7l0 3m-56-1l2 1m-12-9l-1 1m-42 0l1 2m-19 0l-2 1m-86 4l0 1m11 17l-2 0m43-11l0 2m49-2l-3 1m33 12l0 2m70-4l-2 1m22-7l0 2m30-2l1 0m17 1l-2 1m75-5l1 3m-34 18l-1 2m-15-1l-1 1m-73-7l3 1m-14 6l1 1m-28-6l2 2m-15 2l0 2m-53-8l0 1m-5 7l-1 2m-45-1l0 1m-10-9l-1 2m-9 2l0 1m-23-6l-2 0m-13 9l-2 1m35 6l2 1m33 1l3 1m61 4l-1 1m70 0l1 3m65-1l2 0m3-12l-2 2m13 3l-1 1m85 5l-2 3m54-10l-1 1m-283 20l2 0m-50-2l-3 1m-21-11l3 2m-46 5l2 0m-17 24l1 1m18-8l-1 1m25-6l3 1m166 7l1 1m90 4l-1 1m7-16l-2 2m29 0l2 1m76 27l-1 1m-68-5l-1 3m-66-13l-1 3m-150-1l1 2m-36-4l-1 3m-70 6l3 1m-28-1l2 1m161 13l-2 0m134-7l3 0m1 23l0 3m-78 1l2 2m-49-1l-1 1m-18-4l3 0m-40 3l-3 2m-31-13l-2 1m104 22l1 2m111 4l-1 2m106-1l0 1m16-7l2 1m-7 7l-2 1m-5 9l2 2m-29-5l1 2m-90-1l-2 1m-10 0l1 1m-62-3l-1 1m-14 0l2 0m-12-5l-2 1m-17-6l2 2m-7 10l1 3m-16-3l-1 0m-38-5l1 2m-13 1l1 1m-11-1l0 3" stroke="#875b38" stroke-width="9.0" stroke-linecap="round" fill="none"/>
<path d="M26 10l-3 0m53-9l1 2m27 1l-2 1m16-2l-2 2m13 2l1 1m28-8l1 3m8 5l1 1m24 0l0 1m85-6l2 0m63-1l-1 2m20-5l-3 0m24 0l2 1m22 14l2 1m-137 9l1 2m-10-7l0 1m-8 5l-3 1m-8-7l1 1m-22 8l-2 1m-46-7l-2 1m-155 10l1 0m21 10l-1 1m142-2l-1 1m17-6l0 1m35 0l2 3m152-4l3 1m19 4l-1 3m13 0l-2 2m24 10l0 1m-44-3l3 2m-16 1l-3 1m-37-1l0 2m-7-11l1 0m-47 0l2 2m-32-2l2 2m-85 10l1 2m-11-3l-2 2m-54-1l1 0m-2-12l-3 1m-57-3l0 1m-50 11l0 2m60 7l0 3m97-8l-2 0m223 11l-1 1m-3 14l-1 1m-55 0l1 3m-31-9l1 2m-14 2l-1 1m-17-11l-2 2m-6 7l-2 0m-33 7l-2 0m-26-3l-1 1m-29-5l0 1m-61-7l0 3m-14 4l1 2m-23-7l0 2m-14-3l1 1m-10-4l-2 1m-28 7l-2 0m25 21l-1 3m19-5l-2 0m72-11l-2 1m43 12l1 1m7-14l-2 2m20 5l0 2m253 17l-3 1m-21-2l0 2m-42-8l-1 2m-103 2l-2 1m-22-7l1 0m-42 11l0 1m0-13l-2 1m-30 11l2 2m-62-10l-1 0m-106 1l0 3m30 14l-1 3m11-5l-2 1m12 4l1 2m38-3l-1 1m63 1l1 1m49 1l2 2m9-4l1 3m10-10l-1 3m14 8l2 0m51-9l-2 1m14 5l0 3m84-9l3 1m16 4l0 2m-10 18l1 2m-151-9l0 2m-31 6l1 1m-18-7l1 2m-80-11l2 0m-13 3l2 1m-11 7l-1 2m-61-12l-2 1m-3 25l-2 2m11-13l-2 2m8 6l2 2m31 1l-1 2m8-9l0 1m55-4l0 2m37-2l-2 1m42 10l-3 1m98 2l0 1m20-13l2 2m25-3l-2 2m52 7l-2 0m14-4l-1 1m14 3l3 1m-24 16l2 1m-23-6l0 3m-30 4l1 2m-46-7l1 2m-17-3l0 1m-38-6l0 2m-93-2l-3 0m-53 8l1 2m-100 2l-2 1m119 10l-1 2m77-1l-1 1m48-3l1 1m33 3l-1 1m27-7l1 0m46 7l-3 1m21-12l-3 0m47 21l0 1m-14 0l1 0m-55 2l0 3m-17-3l1 1m-40 4l-1 0m-4-11l1 2m-11 4l1 1m-118-9l1 1m-13-4l2 0m-39 9l-1 0m-25 1l2 1m-61 2l0 3m-33-16l-1 2m2 18l0 1m144-1l1 0m10-4l1 0m29 15l1 0m87-14l-2 1m33 10l-1 0m31-4l-1 1m26-4l0 1m13-6l-1 2m23 5l-1 0m42-1l0 2m-9 15l1 2m-15 5l1 0m-22-11l0 2m-11 5l0 1m-22 2l2 0m-49-9l1 0m-54 1l1 3m-11 3l-2 0m-8 4l-1 1m-17-4l1 0m-73 2l0 1m-32-8l1 1m-47 5l-1 1m-5-11l-1 2m-12 3l-1 1m-25 10l1 1m32 7l-1 0m169-1l-3 1m57 3l-1 1m46-4l1 2m0-12l-1 2m23 11l2 2m26-11l1 1m12 1l2 0m38-6l0 3m3 24l-1 3m-21-14l1 1m-25 10l1 1m-2-13l-1 2m-54 11l2 1m-19-13l0 2m-67 7l-2 1m-24-6l-3 0m-96 3l-1 0m-54 6l-2 1m-47-4l1 1m-12-4l-1 3m11 10l1 2m164-6l0 2m94 5l-3 0m32-2l0 2m61-7l1 1m1 11l-2 0m37-11l-1 1m18 3l-3 0m23 24l-2 2m-39-2l1 0m-155-13l-1 1m-41-2l1 2m-10 2l-3 0m-113 10l0 2m-76 13l-3 0m23-6l2 2m21-1l-1 1m43 3l2 1m37-6l-1 1m108 7l1 1m22-12l2 1m50 3l0 1m41-1l3 1m74-6l3 1m10 11l-3 0m1 11l1 1m-90-9l-2 1m-99 5l2 1m-68 2l1 2m-6-9l-1 0m-54 11l2 1m-60-15l2 0m-58 4l0 1m31 23l-1 2m22-6l1 2m51-10l3 0m39 7l1 1m169-6l0 1m23 7l-2 1m17 2l0 2m43-11l-1 1m16 9l0 1m1-13l-1 2m-79 27l-3 0m-14-15l3 1m-29-2l1 0m-53 4l0 1m-6 10l-1 1m-84-13l1 2m-5 9l-3 1m-51-11l-2 0m-45 18l0 3m41 2l-3 1m30-4l1 1m41-6l0 3m10 1l1 0m9-5l1 1m44-3l-1 3m24 5l-1 3m9-12l-2 2m56 10l0 2m12 0l1 1m13-3l-3 1m57-9l-1 2m1 10l-1 1m15-12l-3 1m29-3l0 2m-17 24l0 3m-8-11l1 2m-69 1l-2 0m-46-6l-1 1m-8 8l1 1m-50-11l-2 1m-9 11l2 3m-100 0l3 1m-16-4l3 1m-13-11l2 0m-19 0l-3 1m-2 9l-1 1m-64-8l-2 2m25 10l1 1m21 10l1 1m8-11l1 2m39 2l3 1m14 5l1 2m204-1l0 2m41-10l-1 2m29-8l2 2m6 12l0 1m20 1l-1 1m11-14l-2 2m-3 24l2 1m-50-1l2 2m-19-6l1 2m-170-6l-2 0m-17-1l-2 2m-34 9l1 0m-99-13l-2 2m10 19l1 1m32-2l1 0m10 4l2 0m25-7l-1 2m13 2l-2 1m45 6l-3 1m26-6l-1 2m28 2l-3 0m73-2l1 0m18-7l-2 1m39 7l2 1m86-5l-2 1m-12 22l2 2m-17-6l0 2m-19-11l-2 2m-28 0l2 2m-42 10l-1 0m1-15l-3 0m-44 0l2 1m-87 11l-2 1m-52-4l2 0m-11-9l0 2m-32 3l-1 2m-8 5l0 1m-42-14l0 2m-19 16l-1 2m9 4l3 1m90-5l2 2m6 5l1 3m19 1l0 2m50-11l1 1m59 7l-1 2m45-13l-3 1m65 5l-1 2m16 2l-2 0m54-13l1 3m0 16l0 1m-45 10l-1 2m-32-11l2 1m-116 9l-3 0m-174-1l1 2m-7-11l1 1m-20 8l-2 1m-34-11l-1 1m-11 4l0 1" stroke="#62391b" stroke-width="9.0" stroke-linecap="round" fill="none"/>
</g></g>
<rect x="1490.60" y="1111.20" width="221.90" height="255.60" fill="#fff" filter="url(#tn)"/>
</g>
<rect x="1490.60" y="1111.20" width="221.90" height="255.60" fill="none" stroke="#3c3c46" stroke-width="0.90"/>
<g clip-path="url(#kc5)">
<rect x="1719.80" y="1111.20" width="221.90" height="255.60" fill="#e1e4f2"/>
<g transform="translate(1719.8 1111.2)" filter="url(#tb0)">
<ellipse cx="96" cy="185" rx="18" ry="13" fill="#f6f6fa" opacity="0.5" filter="url(#tb3)"/>
<ellipse cx="184" cy="58" rx="24" ry="13" fill="#f6f6fa" opacity="0.5" filter="url(#tb3)"/>
<ellipse cx="22" cy="189" rx="13" ry="18" fill="#f6f6fa" opacity="0.5" filter="url(#tb3)"/>
<ellipse cx="152" cy="52" rx="23" ry="11" fill="#f6f6fa" opacity="0.5" filter="url(#tb3)"/>
<ellipse cx="212" cy="2" rx="14" ry="14" fill="#f6f6fa" opacity="0.5" filter="url(#tb3)"/>
<ellipse cx="61" cy="86" rx="11" ry="14" fill="#f6f6fa" opacity="0.5" filter="url(#tb3)"/>
<ellipse cx="188" cy="78" rx="19" ry="13" fill="#f6f6fa" opacity="0.5" filter="url(#tb3)"/>
<ellipse cx="155" cy="254" rx="18" ry="12" fill="#f6f6fa" opacity="0.5" filter="url(#tb3)"/>
<g transform="scale(0.5)">
<path d="M8 2l1 3m15 3l-2 1m19-6l-2 1m18 9l0 3m14-2l-2 1m13-14l1 3m8 8l-2 1m11-13l0 1m3 14l1 1m21-13l1 0m21 3l2 0m14 3l2 1m19-8l1 2m11 6l-2 2m16-11l-3 0m11 9l-2 1m10-9l1 2m13-3l2 0m29 9l1 1m15-6l-3 2m24-4l-2 2m17 5l-1 1m15-3l0 1m17-4l-1 1m13-7l1 3m13 4l-1 1m16 1l1 3m19-8l1 2m14-1l-1 3m10 24l-1 1m-14-16l2 1m-14 4l0 1m-11-2l0 3m-13 1l0 4m-13 3l-2 1m-16-14l2 0m-15 7l0 3m-16 0l-2 0m-13 0l-3 1m0-12l2 1m-16 12l1 1m-3-15l-2 3m-20 3l0 2m-39-7l1 1m-28-3l0 3m-18 6l-1 1m-32-5l1 3m-15 1l-1 3m-53 0l1 2m-24 0l-2 3m-19-12l2 2m-20-2l2 2m-11 8l2 1m-6-14l3 1m-14 16l2 1m26-2l1 1m28 10l2 1m14-8l0 1m11 8l-3 2m42-11l-1 2m21 1l1 0m21 3l2 1m25-9l-3 1m22-1l1 0m0 12l2 1m14-7l-3 1m23-3l-1 1m15-2l1 1m14-6l2 2m26 2l0 3m10 7l1 2m16-6l-3 0m18-2l-2 1m10-10l0 3m30 2l-1 3m17-6l0 3m12-2l3 0m0 12l2 0m23-2l1 3m-25 15l0 1m-9-10l0 2m-19-2l-1 0m-6 8l-1 3m-8-17l-2 1m-12 3l2 3m-27-3l-1 3m-9 6l-2 1m-21-13l0 2m-22-2l-1 2m-15 8l-1 2m-6-12l3 1m-51 7l-1 3m-13-8l1 1m-28 1l0 2m-15 1l-2 1m-14 0l1 3m-4-14l2 3m-12 13l1 1m-5-12l2 1m-10 5l-3 2m-8-8l0 1m-16 9l2 1m-22-9l2 1m-12 6l1 1m-11-14l0 3m-11 1l-1 3m-14-7l-3 1m-12 11l-1 2m0 12l1 3m24-12l0 2m17-1l0 1m10 5l0 2m13-8l0 2m13 4l1 2m17-11l2 3m6 7l1 2m24 0l0 3m30-12l-1 2m8 9l-1 3m31-17l0 3m10 10l1 0m12-12l-1 1m5 11l-2 1m13-14l3 2m12-1l2 1m4 9l2 1m14 4l-1 2m13-17l-4 1m19 9l3 1m14-4l3 1m11 5l-1 1m16 0l-1 1m8-13l-3 1m14 2l-1 3m12 1l-1 2m27-10l-2 0m13 9l0 4m21-8l1 1m0 14l1 1m-10 4l-2 0m-12-1l-1 2m-18-7l1 0m-15 7l0 3m-22-7l4 0m-13 8l1 1m-16-3l-3 0m-13-9l1 1m-15 5l-2 1m-10 2l-1 3m-11-1l0 2m-19-11l2 2m-16-7l-2 0m-16 11l0 1m-15-6l2 2m-21-9l3 1m-8 11l-2 0m-13-3l1 3m-24 2l-1 0m-22-7l1 2m-29-3l1 2m-12-4l-3 0m-11 9l3 1m-10-14l1 2m-33 0l-2 0m-4 12l-2 2m-8-11l0 3m-18-1l1 3m0 15l0 1m13-7l-3 1m28 8l0 2m5-12l-1 0m12 11l0 3m24-3l2 0m25 1l2 3m2-17l0 1m31 11l0 2m13-4l0 3m9-3l3 0m23 2l-2 0m29-4l1 3m17-7l3 1m11 3l-2 1m65-8l2 1m1 13l0 2m24-11l-1 2m9 5l1 2m15-6l1 0m20 7l-2 0m17-10l-1 2m34-5l3 1m6 10l-3 1m-12 16l1 2m-2-14l-2 1m-15 8l-2 0m-11-7l-1 3m-13 2l-2 2m-48-5l1 1m-27 5l-3 0m-38-9l2 2m-32-3l1 3m-12 4l1 1m-18-6l0 2m-32-7l2 3m-26 6l0 3m-35 0l-1 1m-23-5l1 3m-20-7l0 2m-21 8l1 3m-18-4l1 3m-13-7l2 2m-12-11l-1 1m-1 11l2 1m-11 5l1 3m16 0l1 3m26 7l2 1m39-9l1 1m15 4l-3 1m21-1l-1 0m7-10l1 1m12 3l0 3m15 6l2 2m12-15l1 1m10 7l1 3m9-10l-3 0m6 11l0 3m12-15l3 1m1 10l1 3m18-6l-3 0m10-8l1 1m15-3l0 4m42-1l-2 0m25-2l1 1m8 10l1 0m17-10l-1 2m27-1l0 1m50 2l-3 2m26 1l-1 1m-4 21l1 0m-9-11l-1 1m-12 0l0 1m-16-3l2 0m-30-3l-1 2m-35 1l-1 4m-37 6l2 1m-14-3l-1 0m-36-5l2 1m-13-4l1 2m-21 0l1 2m-7 8l-2 2m-42-12l0 3m-12 4l-2 1m-10-9l1 2m-10 5l-1 3m-12-7l-2 2m-14 4l-1 3m-40-13l-3 1m-38-4l1 2m-13 3l2 0m-14-6l0 4m4 20l0 1m10-4l2 3m49-3l1 0m15 9l2 1m11-13l0 2m23 8l0 1m12 2l3 0m11-6l-1 0m31-1l1 3m12-2l-3 0m18 5l-2 2m22-11l1 2m12-7l-1 2m17 3l3 1m14-6l-1 3m3 9l2 2m19-3l-1 1m11 2l2 2m48 0l-1 1m5-17l-2 2m6 8l2 1m10-5l3 0m6 10l-1 1m21-6l3 0m18-11l-1 2m14 12l3 1m9 13l-2 1m-19-4l-2 0m-16 4l-2 0m-16-9l1 3m-23-4l-2 3m-19 7l-2 3m-17-3l-3 2m-3-12l-1 1m-25 3l-2 1m-11 0l-1 2m-19-3l-3 0m-19-1l1 1m-18 5l3 1m-12-9l2 1m-11 7l-3 1m-11-8l2 2m-11 3l-2 3m-11-8l-2 1m-7 8l-2 2m-2-14l1 2m-12 7l2 2m-26-2l-1 3m-42-6l1 3m-20-1l-2 1m-11-3l-1 3m-18-3l1 1m-12-7l1 1m-11 16l3 1m8 3l3 0m15 6l0 3m2-14l-1 1m13 2l-1 2m37 7l-1 0m8-11l-2 1m6 10l2 0m8-13l0 2m5 12l-1 2m18-4l-2 2m40-6l-1 2m32-6l-2 1m33 7l0 2m8-13l-1 0m23 1l-2 3m18 3l0 1m21-7l-1 2m11 5l3 2m11-5l-2 2m35-1l3 0m18-8l1 3m57-1l-2 0m6 14l-2 1m-11 11l-1 2m-11-4l-1 0m-23-7l-2 1m-13 11l1 0m-14-8l2 1m-14-4l1 0m-17 0l1 2m-14-2l2 0m-7 10l3 2m-14-4l2 3m-11-11l-2 2m-10-3l-3 1m-10 5l0 1m-15-10l-1 2m-6 8l1 1m-31-8l-1 2m-3 10l2 1m-17-15l2 2m-14 6l2 1m-17-3l0 3m-15 1l-1 2m-21-6l0 2m-14 2l-3 1m-21 1l1 1m-19-9l1 3m-9 7l3 1m-15-3l1 2m-22-3l1 1m-13-4l3 0m-18-5l1 2m-3 10l1 1m-1 10l-3 2m18-9l2 2m17 0l-3 2m29 3l-1 0m12 4l-1 2m10-12l-2 1m23 2l-2 0m15-1l-2 1m13 6l-3 1m10-9l1 0m23 9l-1 2m22-13l3 1m8 9l-2 0m29-2l-3 1m29-5l0 3m10-10l1 1m15 9l3 1m10-8l1 1m15 6l2 1m24-7l-3 0m51 6l1 2m16-8l2 2m20 5l4 0m13 4l-2 0m6-15l1 1m6 8l3 2m-5 9l3 2m-36 9l3 1m-12-13l0 1m-12 4l0 3m-25-12l-1 3m-13 9l-2 1m-14-11l-2 2m-12 1l-3 1m-9 1l-3 1m-11-7l-3 2m-1 11l1 2m-16-7l-2 3m-9-10l2 0m-17 5l1 0m-18-4l2 3m-1 9l-1 2m-34-4l4 0m-18-11l-2 1m-9 11l0 3m-32-11l3 1m-14 2l0 3m-34-6l-3 2m-23 3l1 0m-18-9l3 0m-15 0l2 1m-1 12l-2 2m-24-10l2 1m-14 17l3 0m10-6l3 1m11 3l-1 0m23-2l-2 2m17 5l3 2m26-6l0 1m11-9l-3 2m13 3l-2 2m17-1l2 1m12-3l-1 1m20 4l1 1m16 4l-1 1m22-6l2 1m30 0l1 2m7-10l-1 0m18 1l2 0m38 12l3 2m9-9l-1 1m11 7l-2 0m3-13l1 2m9 10l-1 1m7-12l1 0m10 7l-1 2m14-9l-2 2m15-3l-3 0m21 0l-2 2m8 9l3 0m24-9l-2 2m16 0l-1 0m6 10l0 2m-16 11l-2 0m-10-11l3 0m-11 4l-1 3m-10 3l-3 1m-12-13l-2 1m-13 9l-1 1m-5-11l3 1m-15 12l-2 0m-27-2l1 1m-46-2l2 0m-49-4l0 2m-17-7l-2 1m-13 11l0 1m-4-14l0 2m-11 9l-3 1m-19-8l-2 0m-14-3l1 1m-21 2l-1 1m-15 2l1 2m-35-4l0 3m-15 6l-2 1m-11-12l3 1m-18-1l3 1m-31 9l1 3m10 9l-1 2m29-9l0 3m16 8l-2 0m13-12l1 2m13 7l0 2m18-3l0 2m12 2l3 2m1-15l3 1m22 3l2 1m12 0l-2 0m13-2l1 1m24 2l-1 2m12 1l2 2m22 2l-2 0m11-1l3 1m17-6l-3 2m30-5l0 3m21-5l-3 0m20 7l2 1m14-4l1 3m19-4l0 1m33 2l-1 3m18-2l-1 1m18 1l1 1m16-1l1 0m2 12l-2 2m-31-4l1 3m-65-5l-1 1m-14 2l-2 2m-28-4l3 1m-17-2l3 1m-13 4l0 1m-14-2l1 1m-17-3l1 2m-21 3l-1 2m-25-7l-1 2m-14 6l2 1m-11-13l-2 0m-12 9l-3 1m-15 0l-3 2m-18-4l-1 2m-14 2l1 1m-8-9l-2 1m-17 8l1 2m-19-10l3 2m-20 1l0 1m-11-8l3 1m-13-3l0 2m-22 22l0 1m15 0l-1 0m14-8l2 1m6 9l1 1m68 0l-2 1m12-6l1 2m18 6l3 0m18-2l3 1m6-11l-2 1m13 9l0 3m17-12l2 0m34 5l1 1m13-9l2 1m63-2l0 2m14-1l-2 2m11 8l2 1m14-3l1 2m16-2l1 1m13-8l-2 0m13-2l1 3m17 0l-2 0m9 9l1 1m6-13l0 1m13 5l0 1m4 18l-3 1m-10-11l2 2m-14 6l2 2m-14 1l0 2m-16-2l-2 0m-6-8l-2 0m-6 11l-2 2m-14-4l-1 2m-12 0l-1 2m-30 0l1 1m-4-15l-1 2m-7 11l1 2m-12-7l0 1m-23 0l0 2m-10-9l3 1m-20 7l3 1m-43-12l1 2m-16 7l-2 1m-16-3l-2 2m-19 1l4 1m-25-4l0 2m-16-1l3 0m-16-7l-1 1m-13 0l2 0m-17 14l-2 0m-13-7l1 1m-29-1l2 0m-13 4l2 3m-10-11l-1 1m0 24l-2 0m19-6l-1 2m13-9l0 2m1 11l-2 1m18-3l1 0m26-3l-2 1m13-5l-3 1m17 2l1 3m22-7l-1 1m14-2l1 2m13 3l-1 1m24-5l2 2m13 5l2 1m11-13l1 3m7 9l0 3m27 0l0 1m11-11l2 0m27 6l1 3m31-2l-1 2m25-6l2 1m29 4l3 1m13-9l-2 2m22 3l0 3m32-4l0 3m-18 9l1 2m-15 8l2 2m-24-8l0 3m-16-4l1 1m-15 5l1 1m-11-3l-2 2m-11-11l2 1m-6 9l-3 0m-10 3l-2 0m-22-5l1 1m-11-5l-2 1m-26-5l3 1m-29-1l2 1m-10 6l0 3m-32-7l1 3m-10-9l-1 2m-9 3l-2 1m-11 8l-2 0m-10-6l-2 3m-12 3l0 2m-2-14l1 0m-16 5l0 3m-20 3l3 1m-17-6l-3 0m-19 1l3 1m-11 6l0 1m-18-9l1 2m-24 7l0 3m11 6l0 1m22-3l-3 1m21 2l-1 2m20 1l-2 2m18-7l-1 2m41 4l2 1m13-5l-2 2m35 2l2 1m1-13l-3 0m11 5l0 2m34-1l-1 1m12-9l-2 0m3 11l-3 2m14-2l2 3m13-15l-1 3m23 4l-1 2m35 3l-1 2m11-4l1 1m23-1l-1 1m19 3l1 1m2-13l3 1m14 1l-2 1m16 7l0 1m29-12l1 2m12 7l-2 1m0 18l2 3m-18-13l3 2m-16-4l-1 1m-9 6l-2 0m-12 7l-1 3m-12-12l3 2m-25-1l2 2m-16 4l-2 0m-26-2l2 0m-31-9l-1 2m-16 10l1 2m-14-5l1 1m-14-5l0 1m-11 6l2 3m-16-9l-2 2m-16-8l-2 3m-16 9l-2 1m-21-14l2 3m-7 11l1 1m-17-5l3 1m-29-1l3 0m-19-4l2 0m-16 5l0 1m-19-6l0 2m-36-2l0 2m-16-6l-1 3m2 12l1 1m3 9l0 2m19-13l-3 2m22 2l-1 3m15 5l3 0m-1-12l1 2m22 4l3 2m11 2l2 1m52 2l2 3m11-7l0 1m35-1l0 2m30-1l-1 1m12 0l0 2m36-13l-3 0m45 8l2 3m16 1l2 2m15-5l0 2m9-10l2 1m11 9l-2 2m12-2l2 2m16-9l-3 2m11 8l-2 2m22-7l-1 1m4 12l1 2m-14-4l0 2m-16 4l-1 1m-16-5l2 2m-23-2l0 1m-21-1l-1 0m-36-4l-2 1m-12 2l2 2m-11 5l2 3m-5-14l0 1m-12 9l2 2m-14-12l3 2m-14 7l-3 1m-19 0l1 3m-18-14l1 2m-19 5l2 2m-16-2l1 3m-19-3l3 1m-33-6l1 2m-53-1l0 2m-26 7l-2 3m0-15l-3 2m-19 6l1 2m-20-3l2 3m-13 1l-1 0m-2 13l3 0m16 0l0 3m14 0l-2 0m15-4l2 1m15 1l-1 1m12-9l-1 1m9 13l-2 2m7-17l1 1m8 5l2 3m21-3l-1 2m21 6l-1 1m23-9l0 1m12 5l-1 2m48-9l0 2m15 4l-1 3m52-4l1 1m17-8l-3 2m22 0l-3 1m13-7l0 3m23 5l2 0m15 2l2 1m10-4l1 0m19 4l-2 1m36 4l1 2m2 11l-2 1m-20-14l1 2m-10 7l-3 1m-19-8l0 2m-8 9l-1 2m-24-10l2 1m-13-5l1 2m-2 11l-1 1m-29-5l-2 2m-10-10l2 1m-10 11l-1 2m-17-10l2 0m-14-2l1 1m-18-5l0 3m-9 6l2 1m-38-4l0 2m-12-5l-1 1m-5 11l-3 1m-17-10l-1 3m-14-1l3 1m-24-2l0 3m-22-2l1 2m-36 1l3 0m-21-6l3 2m-14-4l0 2m-15 11l-3 2m-8-5l-3 2m-8-10l-2 3m-1 14l-3 1m11 5l0 2m14-3l-1 1m15-11l1 1m12 12l3 1m13-11l-2 1m15-1l1 0m15 0l1 1m4 8l1 3m32-3l2 0m5-12l-1 2m12 3l-1 3m11 4l1 2m13 0l0 3m41-11l-2 1m21 8l-3 0m22-3l-2 2m27-9l-2 3m16 6l-1 1m18-9l3 1m12-3l1 1m11 4l0 3m51 3l-2 1m42-15l-2 1m14 8l2 1m1 11l-1 1m-12 5l0 1m-12-12l0 2m-8 6l0 2m-11-9l-2 2m-7 6l0 1m-21-1l-1 2m-18-3l2 1m-19-3l-1 2m-11-8l0 2m-12 8l3 0m-7-12l0 3m-11 10l1 2m-12-2l-2 2m-16-15l-1 3m-6 8l-1 1m-14-5l2 1m-22 4l-2 2m-12-5l1 3m-13 2l2 3m-16-2l0 1m-21-6l-2 2m-41-7l1 2m-19 4l0 2m-11 1l0 2m-9-13l0 3m-18 2l0 3m-34-5l1 0m-13 2l-3 1m-11 3l2 3" stroke="#b4bfe3" stroke-width="7.8" stroke-linecap="round" fill="none" stroke-opacity="0.90"/>
<path d="M63 1l3 2m187 1l2 0m3 11l-1 3m-14 10l-1 1m-21-6l-3 0m-51 1l1 0m-42-7l-2 1m-74 21l-2 0m49-3l1 1m10-3l2 2m91 4l2 2m41 10l2 1m-99 17l2 2m53 23l2 1m-43-7l2 1m-95 13l2 2m25-5l-1 3m178-1l-3 1m151 1l1 2m-64 22l2 0m-228-15l-1 1m-95 25l1 0m317 6l0 3m-269 3l-2 0m-42 7l-1 1m65 11l0 2m233-7l0 2m-31 18l-2 1m-171 5l1 0m-66-13l0 1m110 20l0 2m29-1l-2 1m-5 21l-2 1m-146-16l0 2m116 18l0 2m175 8l-1 3m-120 26l-2 1m57 2l-3 2m-258 3l-1 2m7 15l2 0m362 19l-1 1m-328 10l0 1m14 9l2 2m173 1l-3 0m17-9l2 1m59 8l2 1m-94 13l-2 1m194 6l-1 2m-123 16l2 0m-99 3l-2 2m95 13l-2 2m98 5l0 2m-96 10l-1 1m-170-4l-2 0m-78-3l-1 3m74 21l-1 3m144-6l1 0m33-3l-1 1m-143 11l-2 2m-37 9l-2 2m22 5l1 1m18 1l0 2m27-7l0 1m24 7l2 1m43-8l1 1m18-2l0 3m104 22l1 1m-150-10l-1 2m-17 19l-2 2m57-7l-2 2m119 7l-2 0m31-9l-3 1m-356 27l-2 1" stroke="#85583a" stroke-width="10.4" stroke-linecap="round" fill="none"/>
<path d="M138 0l-1 1m303 16l-1 1m-68 1l3 1m-214 13l-3 0m23 8l0 3m109-1l1 1m108 2l1 1m38 8l-1 2m-206-3l-1 2m-43 3l-1 2m-1 13l1 1m103 0l1 1m-141 6l-1 1m-90 10l2 1m64 9l-3 1m181 9l-3 1m-12-3l1 3m-8 9l1 3m-142-4l1 1m-74 9l0 2m203-2l-1 2m10 6l0 1m24 1l-2 3m87-6l-2 1m9-11l-3 1m5 29l2 0m-75-3l3 1m-60-10l0 1m-76 9l2 1m-159 10l2 0m16 3l0 1m334-13l0 3m30 12l-1 0m-313 8l-1 2m-31 9l-2 1m79 7l-1 2m224 1l-1 2m19-11l2 0m13 4l1 1m15-3l1 1m2 10l2 1m-272 22l-3 1m84-4l-1 2m115-5l-1 1m-138 18l0 1m-95-1l1 2m-32 8l-2 1m209 10l1 2m4 16l-2 0m-35 1l1 1m-4-12l2 1m-12 10l0 1m-26-2l1 1m-82-2l-1 2m-49-3l2 1m47 18l1 1m134-4l-2 1m107-5l2 1m-9 16l-2 1m-152-4l-2 2m-62-4l0 1m-134 10l1 2m-14-14l-2 2m220 22l2 2m56-1l0 3m119 2l-2 2m-69 11l3 1m-113-3l-2 0m-119 4l1 1m168 10l0 1m60-2l1 1m20 6l1 1m43 1l2 1m-274 28l-2 0m92-1l3 0m55-1l1 1m-77 16l-1 0m-25 0l0 3m-136 14l-2 1m94-11l2 1m96-1l1 1m91 3l0 2m117-7l1 2m-97 16l-2 1m-208 5l-1 1m-20-5l-1 2m94 9l-2 1m230-1l-1 1m11 0l3 1m-99 15l-3 0m-105 12l-1 1m-133-8l1 1m27 12l0 2m232 6l0 2m-162 3l0 3m-42 0l2 1m-13 2l2 3m-25 4l0 2" stroke="#4f2c13" stroke-width="10.4" stroke-linecap="round" fill="none"/>
</g></g>
<rect x="1719.80" y="1111.20" width="221.90" height="255.60" fill="#fff" filter="url(#tn)"/>
</g>
<rect x="1719.80" y="1111.20" width="221.90" height="255.60" fill="none" stroke="#3c3c46" stroke-width="0.90"/>
<rect x="1858.30" y="1346.60" width="68.20" height="7.20" fill="#000"/>
<line x1="491.59" y1="1447.70" x2="601.54" y2="1447.70" stroke="#b3b0aa" stroke-width="0.90"/>
<line x1="491.59" y1="1442.70" x2="491.59" y2="1452.70" stroke="#b3b0aa" stroke-width="0.70"/>
<line x1="601.54" y1="1442.70" x2="601.54" y2="1452.70" stroke="#b3b0aa" stroke-width="0.70"/>
<rect x="519.17" y="1436.90" width="68.41" height="21.60" fill="#f3f0eb" stroke="#b3b0aa" stroke-width="0.80"/>
<ellipse cx="491.59" cy="1447.70" rx="5.1" ry="4.5" fill="#dcdad2" fill-opacity="0.92"/>
<ellipse cx="546.57" cy="1447.70" rx="5.1" ry="4.5" fill="#dcdad2" fill-opacity="0.92"/>
<ellipse cx="565.66" cy="1453.90" rx="5.1" ry="4.5" fill="#dcdad2" fill-opacity="0.92"/>
<ellipse cx="573.79" cy="1441.50" rx="5.1" ry="4.5" fill="#dcdad2" fill-opacity="0.92"/>
<ellipse cx="601.54" cy="1447.70" rx="5.1" ry="4.5" fill="#dcdad2" fill-opacity="0.92"/>
<line x1="565.66" y1="1436.90" x2="565.66" y2="1458.50" stroke="#a09d96" stroke-width="0.80"/>
<line x1="493.89" y1="1492.30" x2="584.75" y2="1492.30" stroke="#ab9774" stroke-width="0.90"/>
<line x1="493.89" y1="1487.30" x2="493.89" y2="1497.30" stroke="#ab9774" stroke-width="0.70"/>
<line x1="584.75" y1="1487.30" x2="584.75" y2="1497.30" stroke="#ab9774" stroke-width="0.70"/>
<rect x="493.89" y="1481.50" width="83.97" height="21.60" fill="#e0d4be" stroke="#ab9774" stroke-width="0.80"/>
<ellipse cx="496.90" cy="1486.10" rx="5.1" ry="4.5" fill="#cbb284" fill-opacity="0.92"/>
<ellipse cx="493.89" cy="1498.70" rx="5.1" ry="4.5" fill="#cbb284" fill-opacity="0.92"/>
<ellipse cx="546.57" cy="1492.30" rx="5.1" ry="4.5" fill="#cbb284" fill-opacity="0.92"/>
<ellipse cx="571.14" cy="1492.30" rx="5.1" ry="4.5" fill="#cbb284" fill-opacity="0.92"/>
<ellipse cx="584.75" cy="1492.30" rx="5.1" ry="4.5" fill="#cbb284" fill-opacity="0.92"/>
<line x1="546.57" y1="1481.50" x2="546.57" y2="1503.10" stroke="#927d57" stroke-width="0.80"/>
<line x1="513.34" y1="1537.00" x2="617.98" y2="1537.00" stroke="#5e6a9e" stroke-width="0.90"/>
<line x1="513.34" y1="1532.00" x2="513.34" y2="1542.00" stroke="#5e6a9e" stroke-width="0.70"/>
<line x1="617.98" y1="1532.00" x2="617.98" y2="1542.00" stroke="#5e6a9e" stroke-width="0.70"/>
<rect x="523.94" y="1526.20" width="77.25" height="21.60" fill="#9aaad9" stroke="#5e6a9e" stroke-width="0.80"/>
<ellipse cx="513.34" cy="1537.00" rx="5.1" ry="4.5" fill="#4b72ba" fill-opacity="0.92"/>
<ellipse cx="526.95" cy="1537.00" rx="5.1" ry="4.5" fill="#4b72ba" fill-opacity="0.92"/>
<ellipse cx="533.13" cy="1537.00" rx="5.1" ry="4.5" fill="#4b72ba" fill-opacity="0.92"/>
<ellipse cx="560.00" cy="1537.00" rx="5.1" ry="4.5" fill="#4b72ba" fill-opacity="0.92"/>
<ellipse cx="595.89" cy="1537.00" rx="5.1" ry="4.5" fill="#4b72ba" fill-opacity="0.92"/>
<ellipse cx="617.98" cy="1537.00" rx="5.1" ry="4.5" fill="#4b72ba" fill-opacity="0.92"/>
<line x1="546.57" y1="1526.20" x2="546.57" y2="1547.80" stroke="#2a2f5a" stroke-width="0.80"/>
<line x1="502.20" y1="1581.70" x2="592.88" y2="1581.70" stroke="#7b7b7d" stroke-width="0.90"/>
<line x1="502.20" y1="1576.70" x2="502.20" y2="1586.70" stroke="#7b7b7d" stroke-width="0.70"/>
<line x1="592.88" y1="1576.70" x2="592.88" y2="1586.70" stroke="#7b7b7d" stroke-width="0.70"/>
<rect x="510.86" y="1570.90" width="69.65" height="21.60" fill="#a5a5a7" stroke="#7b7b7d" stroke-width="0.80"/>
<ellipse cx="502.20" cy="1581.70" rx="5.1" ry="4.5" fill="#737478" fill-opacity="0.92"/>
<ellipse cx="518.99" cy="1581.70" rx="5.1" ry="4.5" fill="#737478" fill-opacity="0.92"/>
<ellipse cx="546.57" cy="1581.70" rx="5.1" ry="4.5" fill="#737478" fill-opacity="0.92"/>
<ellipse cx="568.49" cy="1581.70" rx="5.1" ry="4.5" fill="#737478" fill-opacity="0.92"/>
<ellipse cx="592.88" cy="1581.70" rx="5.1" ry="4.5" fill="#737478" fill-opacity="0.92"/>
<line x1="546.57" y1="1570.90" x2="546.57" y2="1592.50" stroke="#3c3c3e" stroke-width="0.80"/>
<line x1="524.30" y1="1626.60" x2="589.70" y2="1626.60" stroke="#84a5b2" stroke-width="0.90"/>
<line x1="524.30" y1="1621.60" x2="524.30" y2="1631.60" stroke="#84a5b2" stroke-width="0.70"/>
<line x1="589.70" y1="1621.60" x2="589.70" y2="1631.60" stroke="#84a5b2" stroke-width="0.70"/>
<rect x="535.61" y="1615.80" width="54.09" height="21.60" fill="#c0dbe6" stroke="#84a5b2" stroke-width="0.80"/>
<ellipse cx="524.30" cy="1626.60" rx="5.1" ry="4.5" fill="#8ac5d8" fill-opacity="0.92"/>
<ellipse cx="568.49" cy="1626.60" rx="5.1" ry="4.5" fill="#8ac5d8" fill-opacity="0.92"/>
<ellipse cx="587.58" cy="1626.60" rx="5.1" ry="4.5" fill="#8ac5d8" fill-opacity="0.92"/>
<ellipse cx="590.59" cy="1626.60" rx="5.1" ry="4.5" fill="#8ac5d8" fill-opacity="0.92"/>
<line x1="577.86" y1="1615.80" x2="577.86" y2="1637.40" stroke="#678793" stroke-width="0.80"/>
<line x1="552.23" y1="1671.30" x2="606.49" y2="1671.30" stroke="#aba8a3" stroke-width="0.90"/>
<line x1="552.23" y1="1666.30" x2="552.23" y2="1676.30" stroke="#aba8a3" stroke-width="0.70"/>
<line x1="606.49" y1="1666.30" x2="606.49" y2="1676.30" stroke="#aba8a3" stroke-width="0.70"/>
<rect x="552.23" y="1660.50" width="53.03" height="21.60" fill="#f3f0eb" stroke="#aba8a3" stroke-width="0.80"/>
<ellipse cx="551.87" cy="1671.30" rx="5.1" ry="4.5" fill="#cac8c2" fill-opacity="0.92"/>
<ellipse cx="601.54" cy="1671.30" rx="5.1" ry="4.5" fill="#cac8c2" fill-opacity="0.92"/>
<ellipse cx="606.49" cy="1671.30" rx="5.1" ry="4.5" fill="#cac8c2" fill-opacity="0.92"/>
<line x1="576.44" y1="1660.50" x2="576.44" y2="1682.10" stroke="#a09d96" stroke-width="0.80"/>
<line x1="436.40" y1="1424.40" x2="436.40" y2="1705.45" stroke="#000" stroke-width="1.70"/>
<line x1="435.55" y1="1704.60" x2="657.35" y2="1704.60" stroke="#000" stroke-width="1.70"/>
<line x1="423.90" y1="1447.70" x2="436.40" y2="1447.70" stroke="#000" stroke-width="1.70"/>
<line x1="423.90" y1="1492.30" x2="436.40" y2="1492.30" stroke="#000" stroke-width="1.70"/>
<line x1="423.90" y1="1537.00" x2="436.40" y2="1537.00" stroke="#000" stroke-width="1.70"/>
<line x1="423.90" y1="1581.70" x2="436.40" y2="1581.70" stroke="#000" stroke-width="1.70"/>
<line x1="423.90" y1="1626.60" x2="436.40" y2="1626.60" stroke="#000" stroke-width="1.70"/>
<line x1="423.90" y1="1671.30" x2="436.40" y2="1671.30" stroke="#000" stroke-width="1.70"/>
<line x1="436.40" y1="1704.60" x2="436.40" y2="1709.60" stroke="#000" stroke-width="1.70"/>
<line x1="546.50" y1="1704.60" x2="546.50" y2="1709.60" stroke="#000" stroke-width="1.70"/>
<line x1="656.50" y1="1704.60" x2="656.50" y2="1709.60" stroke="#000" stroke-width="1.70"/>
<text transform="matrix(1.0012 0 0 1 179.15 1455.50)" font-size="33.29" stroke="#231f20" stroke-width="0.4" fill="#231f20">F1-N546K (n=5)</text>
<text transform="matrix(1.0012 0 0 1 17.69 1499.30)" font-size="33.29" stroke="#231f20" stroke-width="0.4" fill="#231f20">F1-N546K + PTPN11 (n=5)</text>
<text transform="matrix(1.0012 0 0 1 166.82 1544.80)" font-size="33.29" stroke="#231f20" stroke-width="0.4" fill="#231f20">F1::TACC1 (n=6)</text>
<text transform="matrix(1.0012 0 0 1 227.38 1589.50)" font-size="33.29" stroke="#231f20" stroke-width="0.4" fill="#231f20">F1-ITD (n=5)</text>
<text transform="matrix(1.0012 0 0 1 230.97 1634.40)" font-size="33.29" stroke="#231f20" stroke-width="0.4" fill="#231f20">V600E (n=4)</text>
<text transform="matrix(1.0012 0 0 1 265.44 1676.50)" font-size="33.29" stroke="#231f20" stroke-width="0.4" fill="#231f20">K::B (n=4)</text>
<text transform="matrix(0.9825 0 0 1 427.64 1735.90)" font-size="32.00" stroke="#000" stroke-width="0.4" fill="#000">0</text>
<text transform="matrix(0.9825 0 0 1 537.85 1735.90)" font-size="32.00" stroke="#000" stroke-width="0.4" fill="#000">4</text>
<text transform="matrix(0.9825 0 0 1 647.78 1735.90)" font-size="32.00" stroke="#000" stroke-width="0.4" fill="#000">8</text>
<text transform="matrix(0.9941 0 0 1 446.86 1765.40)" font-size="33.14" stroke="#231f20" stroke-width="0.4" fill="#231f20">Tumor maximal</text>
<text transform="matrix(1.0206 0 0 1 451.66 1804.90)" font-size="33.14" stroke="#231f20" stroke-width="0.4" fill="#231f20">diameter (mm)</text>
<line x1="837.04" y1="1447.00" x2="958.80" y2="1447.00" stroke="#b3b0aa" stroke-width="0.90"/>
<line x1="837.04" y1="1442.00" x2="837.04" y2="1452.00" stroke="#b3b0aa" stroke-width="0.70"/>
<line x1="958.80" y1="1442.00" x2="958.80" y2="1452.00" stroke="#b3b0aa" stroke-width="0.70"/>
<rect x="850.62" y="1436.20" width="62.79" height="21.60" fill="#f3f0eb" stroke="#b3b0aa" stroke-width="0.80"/>
<ellipse cx="837.04" cy="1447.00" rx="5.1" ry="4.5" fill="#dcdad2" fill-opacity="0.92"/>
<ellipse cx="863.34" cy="1447.00" rx="5.1" ry="4.5" fill="#dcdad2" fill-opacity="0.92"/>
<ellipse cx="868.43" cy="1440.60" rx="5.1" ry="4.5" fill="#dcdad2" fill-opacity="0.92"/>
<ellipse cx="868.43" cy="1454.00" rx="5.1" ry="4.5" fill="#dcdad2" fill-opacity="0.92"/>
<ellipse cx="958.80" cy="1447.00" rx="5.1" ry="4.5" fill="#dcdad2" fill-opacity="0.92"/>
<line x1="868.43" y1="1436.20" x2="868.43" y2="1457.80" stroke="#a09d96" stroke-width="0.80"/>
<line x1="850.62" y1="1492.00" x2="918.50" y2="1492.00" stroke="#ab9774" stroke-width="0.90"/>
<line x1="850.62" y1="1487.00" x2="850.62" y2="1497.00" stroke="#ab9774" stroke-width="0.70"/>
<line x1="918.50" y1="1487.00" x2="918.50" y2="1497.00" stroke="#ab9774" stroke-width="0.70"/>
<rect x="850.62" y="1481.20" width="43.70" height="21.60" fill="#e0d4be" stroke="#ab9774" stroke-width="0.80"/>
<ellipse cx="854.86" cy="1485.60" rx="5.1" ry="4.5" fill="#cbb284" fill-opacity="0.92"/>
<ellipse cx="853.59" cy="1498.40" rx="5.1" ry="4.5" fill="#cbb284" fill-opacity="0.92"/>
<ellipse cx="862.07" cy="1492.00" rx="5.1" ry="4.5" fill="#cbb284" fill-opacity="0.92"/>
<ellipse cx="870.98" cy="1485.60" rx="5.1" ry="4.5" fill="#cbb284" fill-opacity="0.92"/>
<ellipse cx="918.50" cy="1492.00" rx="5.1" ry="4.5" fill="#cbb284" fill-opacity="0.92"/>
<line x1="861.22" y1="1481.20" x2="861.22" y2="1502.80" stroke="#927d57" stroke-width="0.80"/>
<line x1="826.01" y1="1537.00" x2="891.77" y2="1537.00" stroke="#5e6a9e" stroke-width="0.90"/>
<line x1="826.01" y1="1532.00" x2="826.01" y2="1542.00" stroke="#5e6a9e" stroke-width="0.70"/>
<line x1="891.77" y1="1532.00" x2="891.77" y2="1542.00" stroke="#5e6a9e" stroke-width="0.70"/>
<rect x="829.40" y="1526.20" width="58.55" height="21.60" fill="#9aaad9" stroke="#5e6a9e" stroke-width="0.80"/>
<ellipse cx="826.01" cy="1537.00" rx="5.1" ry="4.5" fill="#4b72ba" fill-opacity="0.92"/>
<ellipse cx="830.25" cy="1537.00" rx="5.1" ry="4.5" fill="#4b72ba" fill-opacity="0.92"/>
<ellipse cx="854.86" cy="1537.00" rx="5.1" ry="4.5" fill="#4b72ba" fill-opacity="0.92"/>
<ellipse cx="868.43" cy="1537.00" rx="5.1" ry="4.5" fill="#4b72ba" fill-opacity="0.92"/>
<ellipse cx="886.68" cy="1537.00" rx="5.1" ry="4.5" fill="#4b72ba" fill-opacity="0.92"/>
<ellipse cx="891.77" cy="1537.00" rx="5.1" ry="4.5" fill="#4b72ba" fill-opacity="0.92"/>
<line x1="861.22" y1="1526.20" x2="861.22" y2="1547.80" stroke="#2a2f5a" stroke-width="0.80"/>
<line x1="834.49" y1="1582.00" x2="929.10" y2="1582.00" stroke="#7b7b7d" stroke-width="0.90"/>
<line x1="834.49" y1="1577.00" x2="834.49" y2="1587.00" stroke="#7b7b7d" stroke-width="0.70"/>
<line x1="929.10" y1="1577.00" x2="929.10" y2="1587.00" stroke="#7b7b7d" stroke-width="0.70"/>
<rect x="851.46" y="1571.20" width="75.10" height="21.60" fill="#a5a5a7" stroke="#7b7b7d" stroke-width="0.80"/>
<ellipse cx="834.49" cy="1582.00" rx="5.1" ry="4.5" fill="#737478" fill-opacity="0.92"/>
<ellipse cx="867.59" cy="1582.00" rx="5.1" ry="4.5" fill="#737478" fill-opacity="0.92"/>
<ellipse cx="924.86" cy="1582.00" rx="5.1" ry="4.5" fill="#737478" fill-opacity="0.92"/>
<ellipse cx="929.10" cy="1582.00" rx="5.1" ry="4.5" fill="#737478" fill-opacity="0.92"/>
<line x1="924.86" y1="1571.20" x2="924.86" y2="1592.80" stroke="#3c3c3e" stroke-width="0.80"/>
<line x1="848.49" y1="1626.50" x2="862.07" y2="1626.50" stroke="#84a5b2" stroke-width="0.90"/>
<line x1="848.49" y1="1621.50" x2="848.49" y2="1631.50" stroke="#84a5b2" stroke-width="0.70"/>
<line x1="862.07" y1="1621.50" x2="862.07" y2="1631.50" stroke="#84a5b2" stroke-width="0.70"/>
<rect x="852.74" y="1615.70" width="7.64" height="21.60" fill="#c0dbe6" stroke="#84a5b2" stroke-width="0.80"/>
<ellipse cx="849.34" cy="1626.50" rx="5.1" ry="4.5" fill="#8ac5d8" fill-opacity="0.92"/>
<ellipse cx="856.98" cy="1626.50" rx="5.1" ry="4.5" fill="#8ac5d8" fill-opacity="0.92"/>
<ellipse cx="859.10" cy="1626.50" rx="5.1" ry="4.5" fill="#8ac5d8" fill-opacity="0.92"/>
<ellipse cx="861.22" cy="1626.50" rx="5.1" ry="4.5" fill="#8ac5d8" fill-opacity="0.92"/>
<line x1="856.98" y1="1615.70" x2="856.98" y2="1637.30" stroke="#678793" stroke-width="0.80"/>
<line x1="859.10" y1="1671.20" x2="899.41" y2="1671.20" stroke="#aba8a3" stroke-width="0.90"/>
<line x1="859.10" y1="1666.20" x2="859.10" y2="1676.20" stroke="#aba8a3" stroke-width="0.70"/>
<line x1="899.41" y1="1666.20" x2="899.41" y2="1676.20" stroke="#aba8a3" stroke-width="0.70"/>
<rect x="859.95" y="1660.40" width="31.40" height="21.60" fill="#f3f0eb" stroke="#aba8a3" stroke-width="0.80"/>
<ellipse cx="859.10" cy="1671.20" rx="5.1" ry="4.5" fill="#cac8c2" fill-opacity="0.92"/>
<ellipse cx="870.56" cy="1671.20" rx="5.1" ry="4.5" fill="#cac8c2" fill-opacity="0.92"/>
<ellipse cx="899.41" cy="1671.20" rx="5.1" ry="4.5" fill="#cac8c2" fill-opacity="0.92"/>
<line x1="865.46" y1="1660.40" x2="865.46" y2="1682.00" stroke="#a09d96" stroke-width="0.80"/>
<line x1="759.40" y1="1423.70" x2="759.40" y2="1706.25" stroke="#000" stroke-width="1.70"/>
<line x1="758.55" y1="1705.40" x2="980.05" y2="1705.40" stroke="#000" stroke-width="1.70"/>
<line x1="746.90" y1="1447.00" x2="759.40" y2="1447.00" stroke="#000" stroke-width="1.70"/>
<line x1="746.90" y1="1492.00" x2="759.40" y2="1492.00" stroke="#000" stroke-width="1.70"/>
<line x1="746.90" y1="1537.00" x2="759.40" y2="1537.00" stroke="#000" stroke-width="1.70"/>
<line x1="746.90" y1="1582.00" x2="759.40" y2="1582.00" stroke="#000" stroke-width="1.70"/>
<line x1="746.90" y1="1626.50" x2="759.40" y2="1626.50" stroke="#000" stroke-width="1.70"/>
<line x1="746.90" y1="1671.20" x2="759.40" y2="1671.20" stroke="#000" stroke-width="1.70"/>
<line x1="759.40" y1="1705.40" x2="759.40" y2="1710.40" stroke="#000" stroke-width="1.70"/>
<line x1="869.30" y1="1705.40" x2="869.30" y2="1710.40" stroke="#000" stroke-width="1.70"/>
<line x1="979.20" y1="1705.40" x2="979.20" y2="1710.40" stroke="#000" stroke-width="1.70"/>
<text transform="matrix(0.9825 0 0 1 750.64 1735.90)" font-size="32.00" stroke="#000" stroke-width="0.4" fill="#000">0</text>
<text transform="matrix(0.9825 0 0 1 851.26 1735.90)" font-size="32.00" stroke="#000" stroke-width="0.4" fill="#000">10</text>
<text transform="matrix(0.9825 0 0 1 966.35 1735.90)" font-size="32.00" stroke="#000" stroke-width="0.4" fill="#000">20</text>
<text transform="matrix(1.0082 0 0 1 786.13 1765.40)" font-size="33.14" stroke="#231f20" stroke-width="0.4" fill="#231f20">Cell density</text>
<text transform="matrix(0.972 0 0 1 778.0 1804.9)" font-size="33.72" fill="#231f20" stroke="#231f20" stroke-width="0.4">(10<tspan font-size="19.56" dy="-11">3</tspan><tspan dy="11"> cells/mm</tspan><tspan font-size="19.56" dy="-11">2</tspan><tspan dy="11">)</tspan></text>
<line x1="1164.57" y1="1447.00" x2="1298.22" y2="1447.00" stroke="#b3b0aa" stroke-width="0.90"/>
<line x1="1164.57" y1="1442.00" x2="1164.57" y2="1452.00" stroke="#b3b0aa" stroke-width="0.70"/>
<line x1="1298.22" y1="1442.00" x2="1298.22" y2="1452.00" stroke="#b3b0aa" stroke-width="0.70"/>
<rect x="1193.42" y="1436.20" width="87.82" height="21.60" fill="#f3f0eb" stroke="#b3b0aa" stroke-width="0.80"/>
<ellipse cx="1164.57" cy="1447.00" rx="5.1" ry="4.5" fill="#dcdad2" fill-opacity="0.92"/>
<ellipse cx="1222.70" cy="1440.60" rx="5.1" ry="4.5" fill="#dcdad2" fill-opacity="0.92"/>
<ellipse cx="1227.79" cy="1454.00" rx="5.1" ry="4.5" fill="#dcdad2" fill-opacity="0.92"/>
<ellipse cx="1265.13" cy="1447.00" rx="5.1" ry="4.5" fill="#dcdad2" fill-opacity="0.92"/>
<ellipse cx="1298.22" cy="1447.00" rx="5.1" ry="4.5" fill="#dcdad2" fill-opacity="0.92"/>
<line x1="1228.64" y1="1436.20" x2="1228.64" y2="1457.80" stroke="#a09d96" stroke-width="0.80"/>
<line x1="1136.15" y1="1492.00" x2="1298.22" y2="1492.00" stroke="#ab9774" stroke-width="0.90"/>
<line x1="1136.15" y1="1487.00" x2="1136.15" y2="1497.00" stroke="#ab9774" stroke-width="0.70"/>
<line x1="1298.22" y1="1487.00" x2="1298.22" y2="1497.00" stroke="#ab9774" stroke-width="0.70"/>
<rect x="1145.91" y="1481.20" width="128.98" height="21.60" fill="#e0d4be" stroke="#ab9774" stroke-width="0.80"/>
<ellipse cx="1136.15" cy="1492.00" rx="5.1" ry="4.5" fill="#cbb284" fill-opacity="0.92"/>
<ellipse cx="1173.48" cy="1492.00" rx="5.1" ry="4.5" fill="#cbb284" fill-opacity="0.92"/>
<ellipse cx="1205.73" cy="1492.00" rx="5.1" ry="4.5" fill="#cbb284" fill-opacity="0.92"/>
<ellipse cx="1298.22" cy="1492.00" rx="5.1" ry="4.5" fill="#cbb284" fill-opacity="0.92"/>
<line x1="1189.18" y1="1481.20" x2="1189.18" y2="1502.80" stroke="#927d57" stroke-width="0.80"/>
<line x1="1158.21" y1="1537.00" x2="1268.52" y2="1537.00" stroke="#5e6a9e" stroke-width="0.90"/>
<line x1="1158.21" y1="1532.00" x2="1158.21" y2="1542.00" stroke="#5e6a9e" stroke-width="0.70"/>
<line x1="1268.52" y1="1532.00" x2="1268.52" y2="1542.00" stroke="#5e6a9e" stroke-width="0.70"/>
<rect x="1168.39" y="1526.20" width="73.82" height="21.60" fill="#9aaad9" stroke="#5e6a9e" stroke-width="0.80"/>
<ellipse cx="1158.21" cy="1537.00" rx="5.1" ry="4.5" fill="#4b72ba" fill-opacity="0.92"/>
<ellipse cx="1171.79" cy="1537.00" rx="5.1" ry="4.5" fill="#4b72ba" fill-opacity="0.92"/>
<ellipse cx="1182.39" cy="1537.00" rx="5.1" ry="4.5" fill="#4b72ba" fill-opacity="0.92"/>
<ellipse cx="1221.00" cy="1537.00" rx="5.1" ry="4.5" fill="#4b72ba" fill-opacity="0.92"/>
<ellipse cx="1234.58" cy="1537.00" rx="5.1" ry="4.5" fill="#4b72ba" fill-opacity="0.92"/>
<ellipse cx="1268.52" cy="1537.00" rx="5.1" ry="4.5" fill="#4b72ba" fill-opacity="0.92"/>
<line x1="1201.91" y1="1526.20" x2="1201.91" y2="1547.80" stroke="#2a2f5a" stroke-width="0.80"/>
<line x1="1119.18" y1="1582.00" x2="1247.73" y2="1582.00" stroke="#7b7b7d" stroke-width="0.90"/>
<line x1="1119.18" y1="1577.00" x2="1119.18" y2="1587.00" stroke="#7b7b7d" stroke-width="0.70"/>
<line x1="1247.73" y1="1577.00" x2="1247.73" y2="1587.00" stroke="#7b7b7d" stroke-width="0.70"/>
<rect x="1123.00" y="1571.20" width="99.28" height="21.60" fill="#a5a5a7" stroke="#7b7b7d" stroke-width="0.80"/>
<ellipse cx="1119.18" cy="1582.00" rx="5.1" ry="4.5" fill="#737478" fill-opacity="0.92"/>
<ellipse cx="1124.27" cy="1582.00" rx="5.1" ry="4.5" fill="#737478" fill-opacity="0.92"/>
<ellipse cx="1194.27" cy="1582.00" rx="5.1" ry="4.5" fill="#737478" fill-opacity="0.92"/>
<ellipse cx="1199.36" cy="1582.00" rx="5.1" ry="4.5" fill="#737478" fill-opacity="0.92"/>
<ellipse cx="1247.73" cy="1582.00" rx="5.1" ry="4.5" fill="#737478" fill-opacity="0.92"/>
<line x1="1195.55" y1="1571.20" x2="1195.55" y2="1592.80" stroke="#3c3c3e" stroke-width="0.80"/>
<line x1="1191.30" y1="1626.50" x2="1243.91" y2="1626.50" stroke="#84a5b2" stroke-width="0.90"/>
<line x1="1191.30" y1="1621.50" x2="1191.30" y2="1631.50" stroke="#84a5b2" stroke-width="0.70"/>
<line x1="1243.91" y1="1621.50" x2="1243.91" y2="1631.50" stroke="#84a5b2" stroke-width="0.70"/>
<rect x="1191.30" y="1615.70" width="44.12" height="21.60" fill="#c0dbe6" stroke="#84a5b2" stroke-width="0.80"/>
<ellipse cx="1191.30" cy="1626.50" rx="5.1" ry="4.5" fill="#8ac5d8" fill-opacity="0.92"/>
<ellipse cx="1212.09" cy="1626.50" rx="5.1" ry="4.5" fill="#8ac5d8" fill-opacity="0.92"/>
<ellipse cx="1243.91" cy="1626.50" rx="5.1" ry="4.5" fill="#8ac5d8" fill-opacity="0.92"/>
<line x1="1201.91" y1="1615.70" x2="1201.91" y2="1637.30" stroke="#678793" stroke-width="0.80"/>
<line x1="1127.24" y1="1671.20" x2="1274.03" y2="1671.20" stroke="#aba8a3" stroke-width="0.90"/>
<line x1="1127.24" y1="1666.20" x2="1127.24" y2="1676.20" stroke="#aba8a3" stroke-width="0.70"/>
<line x1="1274.03" y1="1666.20" x2="1274.03" y2="1676.20" stroke="#aba8a3" stroke-width="0.70"/>
<rect x="1130.21" y="1660.40" width="131.10" height="21.60" fill="#f3f0eb" stroke="#aba8a3" stroke-width="0.80"/>
<ellipse cx="1127.24" cy="1671.20" rx="5.1" ry="4.5" fill="#cac8c2" fill-opacity="0.92"/>
<ellipse cx="1136.15" cy="1671.20" rx="5.1" ry="4.5" fill="#cac8c2" fill-opacity="0.92"/>
<ellipse cx="1223.55" cy="1671.20" rx="5.1" ry="4.5" fill="#cac8c2" fill-opacity="0.92"/>
<ellipse cx="1274.03" cy="1671.20" rx="5.1" ry="4.5" fill="#cac8c2" fill-opacity="0.92"/>
<line x1="1179.85" y1="1660.40" x2="1179.85" y2="1682.00" stroke="#a09d96" stroke-width="0.80"/>
<line x1="1092.50" y1="1423.70" x2="1092.50" y2="1706.25" stroke="#000" stroke-width="1.70"/>
<line x1="1091.65" y1="1705.40" x2="1312.25" y2="1705.40" stroke="#000" stroke-width="1.70"/>
<line x1="1080.00" y1="1447.00" x2="1092.50" y2="1447.00" stroke="#000" stroke-width="1.70"/>
<line x1="1080.00" y1="1492.00" x2="1092.50" y2="1492.00" stroke="#000" stroke-width="1.70"/>
<line x1="1080.00" y1="1537.00" x2="1092.50" y2="1537.00" stroke="#000" stroke-width="1.70"/>
<line x1="1080.00" y1="1582.00" x2="1092.50" y2="1582.00" stroke="#000" stroke-width="1.70"/>
<line x1="1080.00" y1="1626.50" x2="1092.50" y2="1626.50" stroke="#000" stroke-width="1.70"/>
<line x1="1080.00" y1="1671.20" x2="1092.50" y2="1671.20" stroke="#000" stroke-width="1.70"/>
<line x1="1092.50" y1="1705.40" x2="1092.50" y2="1710.40" stroke="#000" stroke-width="1.70"/>
<line x1="1201.90" y1="1705.40" x2="1201.90" y2="1710.40" stroke="#000" stroke-width="1.70"/>
<line x1="1311.40" y1="1705.40" x2="1311.40" y2="1710.40" stroke="#000" stroke-width="1.70"/>
<text transform="matrix(0.9825 0 0 1 1083.74 1735.90)" font-size="32.00" stroke="#000" stroke-width="0.4" fill="#000">0</text>
<text transform="matrix(0.9825 0 0 1 1184.69 1735.90)" font-size="32.00" stroke="#000" stroke-width="0.4" fill="#000">40</text>
<text transform="matrix(0.9825 0 0 1 1297.97 1735.90)" font-size="32.00" stroke="#000" stroke-width="0.4" fill="#000">80</text>
<text transform="matrix(1.0337 0 0 1 1157.47 1765.40)" font-size="33.14" stroke="#231f20" stroke-width="0.4" fill="#231f20">Ki-67 (%)</text>
<text transform="matrix(1.0128 0 0 1 1121.53 1804.90)" font-size="33.14" stroke="#231f20" stroke-width="0.4" fill="#231f20">Hotspot region</text>
<line x1="1468.50" y1="1445.80" x2="1577.54" y2="1445.80" stroke="#b3b0aa" stroke-width="0.90"/>
<line x1="1468.50" y1="1440.80" x2="1468.50" y2="1450.80" stroke="#b3b0aa" stroke-width="0.70"/>
<line x1="1577.54" y1="1440.80" x2="1577.54" y2="1450.80" stroke="#b3b0aa" stroke-width="0.70"/>
<rect x="1493.53" y="1435.00" width="58.97" height="21.60" fill="#f3f0eb" stroke="#b3b0aa" stroke-width="0.80"/>
<ellipse cx="1468.50" cy="1445.80" rx="5.1" ry="4.5" fill="#dcdad2" fill-opacity="0.92"/>
<ellipse cx="1516.87" cy="1439.80" rx="5.1" ry="4.5" fill="#dcdad2" fill-opacity="0.92"/>
<ellipse cx="1527.47" cy="1439.80" rx="5.1" ry="4.5" fill="#dcdad2" fill-opacity="0.92"/>
<ellipse cx="1520.68" cy="1452.60" rx="5.1" ry="4.5" fill="#dcdad2" fill-opacity="0.92"/>
<ellipse cx="1577.54" cy="1445.80" rx="5.1" ry="4.5" fill="#dcdad2" fill-opacity="0.92"/>
<line x1="1521.11" y1="1435.00" x2="1521.11" y2="1456.60" stroke="#a09d96" stroke-width="0.80"/>
<line x1="1430.32" y1="1490.70" x2="1583.05" y2="1490.70" stroke="#ab9774" stroke-width="0.90"/>
<line x1="1430.32" y1="1485.70" x2="1430.32" y2="1495.70" stroke="#ab9774" stroke-width="0.70"/>
<line x1="1583.05" y1="1485.70" x2="1583.05" y2="1495.70" stroke="#ab9774" stroke-width="0.70"/>
<rect x="1437.53" y="1479.90" width="129.40" height="21.60" fill="#e0d4be" stroke="#ab9774" stroke-width="0.80"/>
<ellipse cx="1430.32" cy="1490.70" rx="5.1" ry="4.5" fill="#cbb284" fill-opacity="0.92"/>
<ellipse cx="1457.89" cy="1490.70" rx="5.1" ry="4.5" fill="#cbb284" fill-opacity="0.92"/>
<ellipse cx="1520.26" cy="1490.70" rx="5.1" ry="4.5" fill="#cbb284" fill-opacity="0.92"/>
<ellipse cx="1583.05" cy="1490.70" rx="5.1" ry="4.5" fill="#cbb284" fill-opacity="0.92"/>
<line x1="1489.29" y1="1479.90" x2="1489.29" y2="1501.50" stroke="#927d57" stroke-width="0.80"/>
<line x1="1422.25" y1="1535.70" x2="1559.29" y2="1535.70" stroke="#5e6a9e" stroke-width="0.90"/>
<line x1="1422.25" y1="1530.70" x2="1422.25" y2="1540.70" stroke="#5e6a9e" stroke-width="0.70"/>
<line x1="1559.29" y1="1530.70" x2="1559.29" y2="1540.70" stroke="#5e6a9e" stroke-width="0.70"/>
<rect x="1436.26" y="1524.90" width="106.07" height="21.60" fill="#9aaad9" stroke="#5e6a9e" stroke-width="0.80"/>
<ellipse cx="1422.25" cy="1535.70" rx="5.1" ry="4.5" fill="#4b72ba" fill-opacity="0.92"/>
<ellipse cx="1440.50" cy="1535.70" rx="5.1" ry="4.5" fill="#4b72ba" fill-opacity="0.92"/>
<ellipse cx="1447.29" cy="1535.70" rx="5.1" ry="4.5" fill="#4b72ba" fill-opacity="0.92"/>
<ellipse cx="1480.80" cy="1535.70" rx="5.1" ry="4.5" fill="#4b72ba" fill-opacity="0.92"/>
<ellipse cx="1537.23" cy="1535.70" rx="5.1" ry="4.5" fill="#4b72ba" fill-opacity="0.92"/>
<ellipse cx="1559.29" cy="1535.70" rx="5.1" ry="4.5" fill="#4b72ba" fill-opacity="0.92"/>
<line x1="1463.83" y1="1524.90" x2="1463.83" y2="1546.50" stroke="#2a2f5a" stroke-width="0.80"/>
<line x1="1421.41" y1="1580.30" x2="1464.68" y2="1580.30" stroke="#7b7b7d" stroke-width="0.90"/>
<line x1="1421.41" y1="1575.30" x2="1421.41" y2="1585.30" stroke="#7b7b7d" stroke-width="0.70"/>
<line x1="1464.68" y1="1575.30" x2="1464.68" y2="1585.30" stroke="#7b7b7d" stroke-width="0.70"/>
<rect x="1425.65" y="1569.50" width="33.09" height="21.60" fill="#a5a5a7" stroke="#7b7b7d" stroke-width="0.80"/>
<ellipse cx="1421.41" cy="1580.30" rx="5.1" ry="4.5" fill="#737478" fill-opacity="0.92"/>
<ellipse cx="1428.62" cy="1580.30" rx="5.1" ry="4.5" fill="#737478" fill-opacity="0.92"/>
<ellipse cx="1432.86" cy="1580.30" rx="5.1" ry="4.5" fill="#737478" fill-opacity="0.92"/>
<ellipse cx="1452.38" cy="1580.30" rx="5.1" ry="4.5" fill="#737478" fill-opacity="0.92"/>
<ellipse cx="1464.68" cy="1580.30" rx="5.1" ry="4.5" fill="#737478" fill-opacity="0.92"/>
<line x1="1432.01" y1="1569.50" x2="1432.01" y2="1591.10" stroke="#3c3c3e" stroke-width="0.80"/>
<line x1="1479.53" y1="1625.20" x2="1523.23" y2="1625.20" stroke="#84a5b2" stroke-width="0.90"/>
<line x1="1479.53" y1="1620.20" x2="1479.53" y2="1630.20" stroke="#84a5b2" stroke-width="0.70"/>
<line x1="1523.23" y1="1620.20" x2="1523.23" y2="1630.20" stroke="#84a5b2" stroke-width="0.70"/>
<rect x="1482.50" y="1614.40" width="39.88" height="21.60" fill="#c0dbe6" stroke="#84a5b2" stroke-width="0.80"/>
<ellipse cx="1479.53" cy="1625.20" rx="5.1" ry="4.5" fill="#8ac5d8" fill-opacity="0.92"/>
<ellipse cx="1488.44" cy="1625.20" rx="5.1" ry="4.5" fill="#8ac5d8" fill-opacity="0.92"/>
<ellipse cx="1521.53" cy="1625.20" rx="5.1" ry="4.5" fill="#8ac5d8" fill-opacity="0.92"/>
<line x1="1504.99" y1="1614.40" x2="1504.99" y2="1636.00" stroke="#678793" stroke-width="0.80"/>
<line x1="1424.80" y1="1670.20" x2="1543.60" y2="1670.20" stroke="#aba8a3" stroke-width="0.90"/>
<line x1="1424.80" y1="1665.20" x2="1424.80" y2="1675.20" stroke="#aba8a3" stroke-width="0.70"/>
<line x1="1543.60" y1="1665.20" x2="1543.60" y2="1675.20" stroke="#aba8a3" stroke-width="0.70"/>
<rect x="1426.50" y="1659.40" width="103.52" height="21.60" fill="#f3f0eb" stroke="#aba8a3" stroke-width="0.80"/>
<ellipse cx="1426.50" cy="1670.20" rx="5.1" ry="4.5" fill="#cac8c2" fill-opacity="0.92"/>
<ellipse cx="1490.14" cy="1670.20" rx="5.1" ry="4.5" fill="#cac8c2" fill-opacity="0.92"/>
<ellipse cx="1543.60" cy="1670.20" rx="5.1" ry="4.5" fill="#cac8c2" fill-opacity="0.92"/>
<line x1="1459.17" y1="1659.40" x2="1459.17" y2="1681.00" stroke="#a09d96" stroke-width="0.80"/>
<line x1="1419.30" y1="1422.40" x2="1419.30" y2="1705.45" stroke="#000" stroke-width="1.70"/>
<line x1="1418.45" y1="1704.60" x2="1640.75" y2="1704.60" stroke="#000" stroke-width="1.70"/>
<line x1="1406.80" y1="1445.80" x2="1419.30" y2="1445.80" stroke="#000" stroke-width="1.70"/>
<line x1="1406.80" y1="1490.70" x2="1419.30" y2="1490.70" stroke="#000" stroke-width="1.70"/>
<line x1="1406.80" y1="1535.70" x2="1419.30" y2="1535.70" stroke="#000" stroke-width="1.70"/>
<line x1="1406.80" y1="1580.30" x2="1419.30" y2="1580.30" stroke="#000" stroke-width="1.70"/>
<line x1="1406.80" y1="1625.20" x2="1419.30" y2="1625.20" stroke="#000" stroke-width="1.70"/>
<line x1="1406.80" y1="1670.20" x2="1419.30" y2="1670.20" stroke="#000" stroke-width="1.70"/>
<line x1="1419.30" y1="1704.60" x2="1419.30" y2="1709.60" stroke="#000" stroke-width="1.70"/>
<line x1="1529.60" y1="1704.60" x2="1529.60" y2="1709.60" stroke="#000" stroke-width="1.70"/>
<line x1="1639.90" y1="1704.60" x2="1639.90" y2="1709.60" stroke="#000" stroke-width="1.70"/>
<text transform="matrix(0.9825 0 0 1 1410.54 1735.10)" font-size="32.00" stroke="#000" stroke-width="0.4" fill="#000">0</text>
<text transform="matrix(0.9825 0 0 1 1512.39 1735.10)" font-size="32.00" stroke="#000" stroke-width="0.4" fill="#000">40</text>
<text transform="matrix(0.9825 0 0 1 1625.97 1735.10)" font-size="32.00" stroke="#000" stroke-width="0.4" fill="#000">80</text>
<text transform="matrix(1.0397 0 0 1 1475.86 1764.80)" font-size="33.14" stroke="#231f20" stroke-width="0.4" fill="#231f20">Ki-67 (%)</text>
<text transform="matrix(1.0017 0 0 1 1442.43 1804.30)" font-size="33.14" stroke="#231f20" stroke-width="0.4" fill="#231f20">Whole tumor</text>
<defs>
<pattern id="mixL" width="14.1" height="13.4" patternUnits="userSpaceOnUse" patternTransform="translate(773.5 1918.7)">
<rect width="14.1" height="13.4" fill="#eeeee8"/>
<path d="M0 3.4L3.7 6.7L0 10L-3.7 6.7ZM14.1 3.4L17.8 6.7L14.1 10L10.4 6.7ZM7.05 -3.3L10.75 0L7.05 3.3L3.35 0ZM7.05 10.1L10.75 13.4L7.05 16.7L3.35 13.4Z" fill="#a3c4d7" transform="translate(3.5 0)"/>
<path d="M17.6 3.4L21.3 6.7L17.6 10L13.9 6.7ZM-10.6 3.4L-6.9 6.7L-10.6 10L-14.3 6.7Z" fill="#a3c4d7"/>
</pattern>
<pattern id="mixS" width="14.1" height="13.4" patternUnits="userSpaceOnUse" patternTransform="scale(0.42)">
<rect width="14.1" height="13.4" fill="#efefe9"/>
<path d="M3.50 4.00L6.20 6.70L3.50 9.40L0.80 6.70ZM10.55 -2.70L13.25 0.00L10.55 2.70L7.85 0.00ZM10.55 10.70L13.25 13.40L10.55 16.10L7.85 13.40Z" fill="#9fc1d6"/>
</pattern>
</defs>
<path d="M350.90 2023.80 A98.90 100.80 0 0 1 444.96 2093.45 L397.46 2109.03 A48.96 50.40 0 0 0 350.90 2074.20 Z" fill="#f3f3ef" stroke="#1a1a1a" stroke-width="1.05" stroke-linejoin="round"/>
<path d="M444.96 2093.45 A98.90 100.80 0 0 1 409.03 2206.15 L379.68 2165.37 A48.96 50.40 0 0 0 397.46 2109.03 Z" fill="url(#mixS)" stroke="#1a1a1a" stroke-width="1.05" stroke-linejoin="round"/>
<path d="M409.03 2206.15 A98.90 100.80 0 1 1 350.90 2023.80 L350.90 2074.20 A48.96 50.40 0 1 0 379.68 2165.37 Z" fill="#b5cedd" stroke="#1a1a1a" stroke-width="1.05" stroke-linejoin="round"/>
<text transform="matrix(1.0073 0 0 1 324.63 2135.20)" font-size="30.29" stroke="#231f20" stroke-width="0.4" fill="#231f20">n=5</text>
<path d="M583.40 2024.40 A97.60 98.80 0 0 1 676.22 2092.67 L629.35 2107.93 A48.31 49.40 0 0 0 583.40 2073.80 Z" fill="#f3f3ef" stroke="#1a1a1a" stroke-width="1.05" stroke-linejoin="round"/>
<path d="M676.22 2092.67 A97.60 98.80 0 1 1 583.40 2024.40 L583.40 2073.80 A48.31 49.40 0 1 0 629.35 2107.93 Z" fill="url(#mixS)" stroke="#1a1a1a" stroke-width="1.05" stroke-linejoin="round"/>
<text transform="matrix(1.0073 0 0 1 557.13 2133.80)" font-size="30.29" stroke="#231f20" stroke-width="0.4" fill="#231f20">n=5</text>
<path d="M822.70 2025.20 A97.00 98.80 0 0 1 906.70 2074.60 L864.28 2099.30 A48.02 49.40 0 0 0 822.70 2074.60 Z" fill="#f3f3ef" stroke="#1a1a1a" stroke-width="1.05" stroke-linejoin="round"/>
<path d="M906.70 2074.60 A97.00 98.80 0 0 1 738.70 2173.40 L781.12 2148.70 A48.02 49.40 0 0 0 864.28 2099.30 Z" fill="url(#mixS)" stroke="#1a1a1a" stroke-width="1.05" stroke-linejoin="round"/>
<path d="M738.70 2173.40 A97.00 98.80 0 0 1 822.70 2025.20 L822.70 2074.60 A48.02 49.40 0 0 0 781.12 2148.70 Z" fill="#b5cedd" stroke="#1a1a1a" stroke-width="1.05" stroke-linejoin="round"/>
<text transform="matrix(1.0073 0 0 1 796.47 2134.60)" font-size="30.29" stroke="#231f20" stroke-width="0.4" fill="#231f20">n=6</text>
<path d="M347.10 2276.10 A97.00 94.50 0 1 1 347.10 2465.10 A97.00 94.50 0 1 1 347.10 2276.10 ZM347.10 2323.35 A48.02 47.25 0 1 0 347.10 2417.85 A48.02 47.25 0 1 0 347.10 2323.35 Z" fill="#f3f3ef" fill-rule="evenodd" stroke="#1a1a1a" stroke-width="1.05"/><line x1="347.10" y1="2276.10" x2="347.10" y2="2323.35" stroke="#1a1a1a" stroke-width="0.95"/>
<text transform="matrix(1.0073 0 0 1 323.13 2386.40)" font-size="30.29" stroke="#231f20" stroke-width="0.4" fill="#231f20">n=5</text>
<path d="M581.30 2276.10 A97.00 94.50 0 1 1 581.30 2465.10 A97.00 94.50 0 1 1 581.30 2276.10 ZM581.30 2323.35 A48.02 47.25 0 1 0 581.30 2417.85 A48.02 47.25 0 1 0 581.30 2323.35 Z" fill="#b5cedd" fill-rule="evenodd" stroke="#1a1a1a" stroke-width="1.05"/><line x1="581.30" y1="2276.10" x2="581.30" y2="2323.35" stroke="#1a1a1a" stroke-width="0.95"/>
<text transform="matrix(1.0073 0 0 1 555.24 2386.40)" font-size="30.29" stroke="#231f20" stroke-width="0.4" fill="#231f20">n=4</text>
<path d="M820.60 2276.10 A97.00 94.50 0 0 1 917.60 2370.60 L868.62 2370.60 A48.02 47.25 0 0 0 820.60 2323.35 Z" fill="#f3f3ef" stroke="#1a1a1a" stroke-width="1.05" stroke-linejoin="round"/>
<path d="M917.60 2370.60 A97.00 94.50 0 1 1 820.60 2276.10 L820.60 2323.35 A48.02 47.25 0 1 0 868.62 2370.60 Z" fill="#b5cedd" stroke="#1a1a1a" stroke-width="1.05" stroke-linejoin="round"/>
<text transform="matrix(1.0073 0 0 1 796.24 2386.40)" font-size="30.29" stroke="#231f20" stroke-width="0.4" fill="#231f20">n=4</text>
<text transform="matrix(1.3364 0 0 1 253.32 1881.20)" font-size="45.71" font-weight="bold" fill="#231f20">i</text>
<text transform="matrix(0.9900 0 0 1 459.53 1894.30)" font-size="33.71" stroke="#231f20" stroke-width="0.4" fill="#231f20">Growth Pattern</text>
<rect x="276.30" y="1920.30" width="44.80" height="24.60" fill="#b5cedd" stroke="#000" stroke-width="1.80"/>
<rect x="553.80" y="1920.30" width="44.40" height="24.60" fill="#f3f3ef" stroke="#000" stroke-width="1.80"/>
<rect x="772.80" y="1920.30" width="43.50" height="24.60" fill="url(#mixL)" stroke="#000" stroke-width="1.80"/>
<text transform="matrix(0.9252 0 0 1 328.87 1944.60)" font-size="35.14" stroke="#000" stroke-width="0.4" fill="#000">Circumscribed</text>
<text transform="matrix(0.9679 0 0 1 604.45 1944.60)" font-size="35.14" stroke="#000" stroke-width="0.4" fill="#000">Infiltrative</text>
<text transform="matrix(0.9476 0 0 1 822.25 1944.60)" font-size="35.14" stroke="#000" stroke-width="0.4" fill="#000">Mixed</text>
<text transform="matrix(1.0252 0 0 1 266.27 2004.60)" font-size="32.29" stroke="#231f20" stroke-width="0.4" fill="#231f20">F1-N546K</text>
<text transform="matrix(1.0205 0 0 1 437.28 2004.60)" font-size="32.29" stroke="#231f20" stroke-width="0.4" fill="#231f20">F1-N546K + PTPN11</text>
<text transform="matrix(1.0225 0 0 1 766.98 2004.60)" font-size="32.29" stroke="#231f20" stroke-width="0.4" fill="#231f20">F1::TACC1</text>
<text transform="matrix(1.0354 0 0 1 300.24 2265.40)" font-size="32.29" stroke="#231f20" stroke-width="0.4" fill="#231f20">F1-ITD</text>
<text transform="matrix(1.0010 0 0 1 538.24 2265.40)" font-size="32.29" stroke="#231f20" stroke-width="0.4" fill="#231f20">V600E</text>
<text transform="matrix(1.0483 0 0 1 786.41 2265.40)" font-size="32.29" stroke="#231f20" stroke-width="0.4" fill="#231f20">K::B</text>
<rect x="1380.50" y="1969.90" width="95.64" height="35.40" fill="#e3d8c5" stroke="#bcae94" stroke-width="1.20"/>
<line x1="1476.14" y1="1987.60" x2="1490.31" y2="1987.60" stroke="#b5a688" stroke-width="1.80"/>
<line x1="1490.31" y1="1979.10" x2="1490.31" y2="1996.10" stroke="#b5a688" stroke-width="1.80"/>
<rect x="1380.50" y="1969.90" width="63.16" height="35.40" fill="#b3b4b6" stroke="#8b8c8e" stroke-width="1.20"/>
<line x1="1443.66" y1="1987.60" x2="1456.06" y2="1987.60" stroke="#77787b" stroke-width="1.80"/>
<line x1="1456.06" y1="1979.10" x2="1456.06" y2="1996.10" stroke="#77787b" stroke-width="1.80"/>
<rect x="1380.50" y="2041.90" width="184.20" height="35.40" fill="#e3d8c5" stroke="#bcae94" stroke-width="1.20"/>
<line x1="1564.70" y1="2059.60" x2="1653.27" y2="2059.60" stroke="#b5a688" stroke-width="1.80"/>
<line x1="1653.27" y1="2051.10" x2="1653.27" y2="2068.10" stroke="#b5a688" stroke-width="1.80"/>
<rect x="1380.50" y="2041.90" width="18.88" height="35.40" fill="#b3b4b6" stroke="#8b8c8e" stroke-width="1.20"/>
<line x1="1399.38" y1="2059.60" x2="1406.46" y2="2059.60" stroke="#77787b" stroke-width="1.80"/>
<line x1="1406.46" y1="2051.10" x2="1406.46" y2="2068.10" stroke="#77787b" stroke-width="1.80"/>
<rect x="1380.50" y="2114.60" width="152.91" height="35.40" fill="#e3d8c5" stroke="#bcae94" stroke-width="1.20"/>
<line x1="1533.41" y1="2132.30" x2="1603.08" y2="2132.30" stroke="#b5a688" stroke-width="1.80"/>
<line x1="1603.08" y1="2123.80" x2="1603.08" y2="2140.80" stroke="#b5a688" stroke-width="1.80"/>
<rect x="1380.50" y="2114.60" width="38.95" height="35.40" fill="#b3b4b6" stroke="#8b8c8e" stroke-width="1.20"/>
<line x1="1419.45" y1="2132.30" x2="1434.80" y2="2132.30" stroke="#77787b" stroke-width="1.80"/>
<line x1="1434.80" y1="2123.80" x2="1434.80" y2="2140.80" stroke="#77787b" stroke-width="1.80"/>
<rect x="1380.50" y="2186.60" width="35.41" height="35.40" fill="#e3d8c5" stroke="#bcae94" stroke-width="1.20"/>
<line x1="1415.91" y1="2204.30" x2="1420.63" y2="2204.30" stroke="#b5a688" stroke-width="1.80"/>
<line x1="1420.63" y1="2195.80" x2="1420.63" y2="2212.80" stroke="#b5a688" stroke-width="1.80"/>
<rect x="1380.50" y="2186.60" width="18.88" height="35.40" fill="#b3b4b6" stroke="#8b8c8e" stroke-width="1.20"/>
<line x1="1399.38" y1="2204.30" x2="1402.33" y2="2204.30" stroke="#77787b" stroke-width="1.80"/>
<line x1="1402.33" y1="2195.80" x2="1402.33" y2="2212.80" stroke="#77787b" stroke-width="1.80"/>
<rect x="1380.50" y="2259.20" width="102.72" height="35.40" fill="#e3d8c5" stroke="#bcae94" stroke-width="1.20"/>
<line x1="1483.22" y1="2276.90" x2="1495.03" y2="2276.90" stroke="#b5a688" stroke-width="1.80"/>
<line x1="1495.03" y1="2268.40" x2="1495.03" y2="2285.40" stroke="#b5a688" stroke-width="1.80"/>
<rect x="1380.50" y="2259.20" width="77.33" height="35.40" fill="#b3b4b6" stroke="#8b8c8e" stroke-width="1.20"/>
<line x1="1457.83" y1="2276.90" x2="1466.10" y2="2276.90" stroke="#77787b" stroke-width="1.80"/>
<line x1="1466.10" y1="2268.40" x2="1466.10" y2="2285.40" stroke="#77787b" stroke-width="1.80"/>
<rect x="1380.50" y="2331.30" width="207.82" height="35.40" fill="#e3d8c5" stroke="#bcae94" stroke-width="1.20"/>
<line x1="1588.32" y1="2349.00" x2="1649.14" y2="2349.00" stroke="#b5a688" stroke-width="1.80"/>
<line x1="1649.14" y1="2340.50" x2="1649.14" y2="2357.50" stroke="#b5a688" stroke-width="1.80"/>
<rect x="1380.50" y="2331.30" width="84.42" height="35.40" fill="#b3b4b6" stroke="#8b8c8e" stroke-width="1.20"/>
<line x1="1464.92" y1="2349.00" x2="1493.85" y2="2349.00" stroke="#77787b" stroke-width="1.80"/>
<line x1="1493.85" y1="2340.50" x2="1493.85" y2="2357.50" stroke="#77787b" stroke-width="1.80"/>
<line x1="1380.50" y1="1952.20" x2="1380.50" y2="2385.75" stroke="#000" stroke-width="1.90"/>
<line x1="1379.55" y1="2384.80" x2="1677.85" y2="2384.80" stroke="#000" stroke-width="1.90"/>
<line x1="1374.50" y1="1987.60" x2="1380.50" y2="1987.60" stroke="#000" stroke-width="1.90"/>
<line x1="1374.50" y1="2059.60" x2="1380.50" y2="2059.60" stroke="#000" stroke-width="1.90"/>
<line x1="1374.50" y1="2132.30" x2="1380.50" y2="2132.30" stroke="#000" stroke-width="1.90"/>
<line x1="1374.50" y1="2204.30" x2="1380.50" y2="2204.30" stroke="#000" stroke-width="1.90"/>
<line x1="1374.50" y1="2276.90" x2="1380.50" y2="2276.90" stroke="#000" stroke-width="1.90"/>
<line x1="1374.50" y1="2349.00" x2="1380.50" y2="2349.00" stroke="#000" stroke-width="1.90"/>
<line x1="1380.50" y1="2384.80" x2="1380.50" y2="2391.40" stroke="#000" stroke-width="1.90"/>
<text transform="matrix(1.0104 0 0 1 1371.81 2421.00)" font-size="30.86" stroke="#000" stroke-width="0.4" fill="#000">0</text>
<line x1="1528.70" y1="2384.80" x2="1528.70" y2="2391.40" stroke="#000" stroke-width="1.90"/>
<text transform="matrix(1.0104 0 0 1 1510.81 2421.00)" font-size="30.86" stroke="#000" stroke-width="0.4" fill="#000">10</text>
<line x1="1676.90" y1="2384.80" x2="1676.90" y2="2391.40" stroke="#000" stroke-width="1.90"/>
<text transform="matrix(1.0104 0 0 1 1659.40 2421.00)" font-size="30.86" stroke="#000" stroke-width="0.4" fill="#000">20</text>
<text transform="matrix(1.0144 0 0 1 1130.20 1996.00)" font-size="32.86" stroke="#231f20" stroke-width="0.4" fill="#231f20">F1-N546K (n=5)</text>
<text transform="matrix(1.0144 0 0 1 968.71 2068.00)" font-size="32.86" stroke="#231f20" stroke-width="0.4" fill="#231f20">F1-N546K + PTPN11 (n=5)</text>
<text transform="matrix(1.0144 0 0 1 1117.86 2140.70)" font-size="32.86" stroke="#231f20" stroke-width="0.4" fill="#231f20">F1::TACC1 (n=6)</text>
<text transform="matrix(1.0144 0 0 1 1178.44 2212.70)" font-size="32.86" stroke="#231f20" stroke-width="0.4" fill="#231f20">F1-ITD (n=5)</text>
<text transform="matrix(1.0144 0 0 1 1182.03 2285.30)" font-size="32.86" stroke="#231f20" stroke-width="0.4" fill="#231f20">V600E (n=4)</text>
<text transform="matrix(1.0144 0 0 1 1217.31 2357.40)" font-size="32.86" stroke="#231f20" stroke-width="0.4" fill="#231f20">K::B (n=4)</text>
<text transform="matrix(1.1699 0 0 1 1222.40 1882.50)" font-size="45.71" font-weight="bold" fill="#231f20">j</text>
<text transform="matrix(1.0116 0 0 1 1400.81 1892.40)" font-size="32.29" stroke="#000" stroke-width="0.4" fill="#000">H&amp;E quantification</text>
<rect x="1290.60" y="1905.40" width="47.60" height="23.20" fill="#b3b4b6" stroke="#8b8c8e" stroke-width="1.40"/>
<rect x="1566.40" y="1905.40" width="46.40" height="23.20" fill="#e3d8c5" stroke="#bcae94" stroke-width="1.40"/>
<text transform="matrix(1.1316 0 0 1 1343.12 1929.00)" font-size="32.57" stroke="#000" stroke-width="0.4" fill="#000">Vasculature</text>
<text transform="matrix(1.1280 0 0 1 1617.17 1929.00)" font-size="32.57" stroke="#000" stroke-width="0.4" fill="#000">Hemorrhage</text>
<text transform="matrix(1.1243 0 0 1 1323.62 2454.40)" font-size="32.57" stroke="#000" stroke-width="0.4" fill="#000">Vasculature &amp; Hemorrhage (%)</text>
<text transform="matrix(1.1146 0 0 1 1445.24 2492.90)" font-size="32.57" stroke="#000" stroke-width="0.4" fill="#000">per tumor area</text>
<text transform="matrix(1.0994 0 0 1 -1.71 660.60)" font-size="45.71" font-weight="bold" fill="#231f20">c</text>
<text transform="matrix(1.1108 0 0 1 384.97 1413.30)" font-size="45.71" font-weight="bold" fill="#231f20">e</text>
<text transform="matrix(1.1713 0 0 1 715.06 1413.10)" font-size="45.71" font-weight="bold" fill="#231f20">f</text>
<text transform="matrix(1.1392 0 0 1 1052.22 1413.20)" font-size="45.71" font-weight="bold" fill="#231f20">g</text>
<text transform="matrix(1.1576 0 0 1 1375.30 1413.10)" font-size="45.71" font-weight="bold" fill="#231f20">h</text>
</svg>
</body></html>
